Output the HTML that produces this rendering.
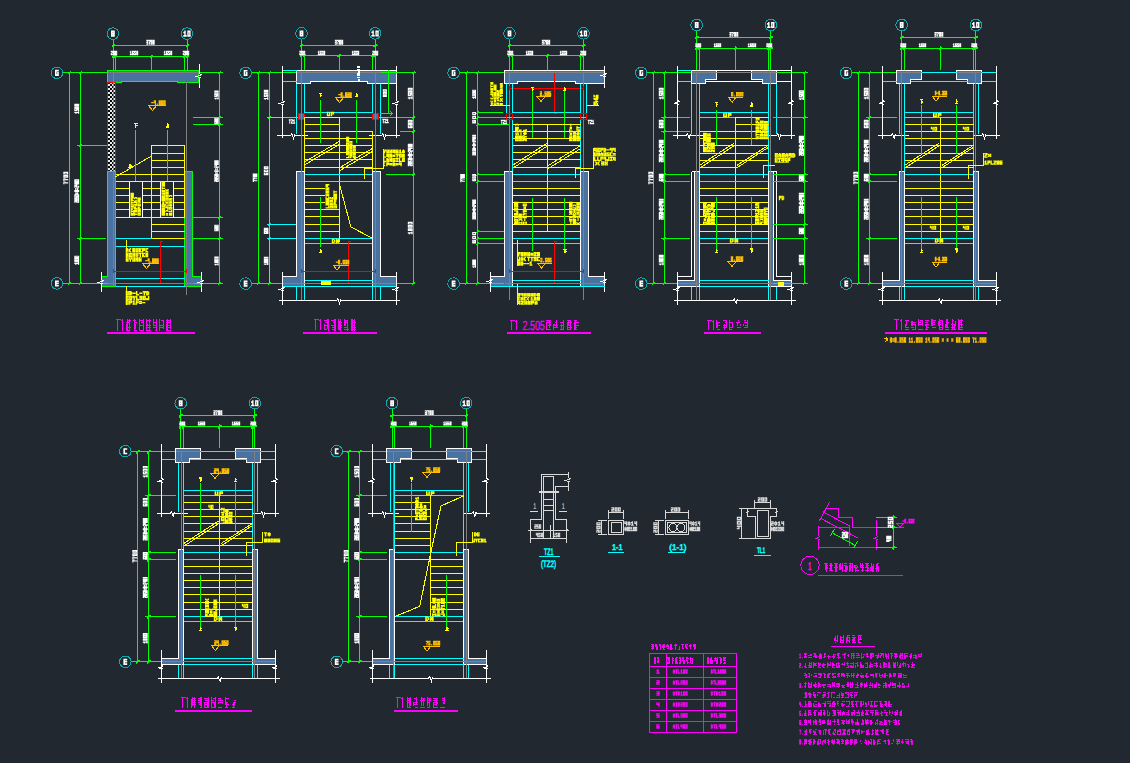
<!DOCTYPE html>
<html><head><meta charset="utf-8"><style>html,body{margin:0;padding:0;background:#212830;width:1130px;height:763px;overflow:hidden}svg{display:block}</style></head>
<body><svg style="opacity:0.999" width="1130" height="763" viewBox="0 0 1130 763" shape-rendering="crispEdges" text-rendering="geometricPrecision">
<defs><pattern id="chk" width="4" height="4" patternUnits="userSpaceOnUse"><rect width="4" height="4" fill="#0c0c0c"/><rect width="2" height="2" fill="#e4eaea"/><rect x="2" y="2" width="2" height="2" fill="#e4eaea"/></pattern></defs>
<rect width="1130" height="763" fill="#212830"/>
<circle cx="112.9" cy="33.6" r="5.8" stroke="#10a8a8" stroke-width="1" fill="none"/>
<path d="M111 30.6h3.8v1.6h-3.8zM111 31.7h1.6v1.6h-1.6zM113.2 31.7h1.6v1.6h-1.6zM111 32.8h3.8v1.6h-3.8zM111 33.9h1.6v1.6h-1.6zM113.2 33.9h1.6v1.6h-1.6zM111 35.1h3.8v1.6h-3.8z" fill="#ffffff" shape-rendering="geometricPrecision"/>
<circle cx="187" cy="33.6" r="5.8" stroke="#10a8a8" stroke-width="1" fill="none"/>
<path d="M184.3 30.6h1.4v1.6h-1.4zM183.3 31.7h2.4v1.6h-2.4zM184.3 32.8h1.4v1.6h-1.4zM184.3 33.9h1.4v1.6h-1.4zM183.3 35.1h3.4v1.6h-3.4zM187.3 30.6h3.4v1.6h-3.4zM187.3 31.7h1.4v1.6h-1.4zM189.2 31.7h1.4v1.6h-1.4zM187.3 32.8h1.4v1.6h-1.4zM189.2 32.8h1.4v1.6h-1.4zM187.3 33.9h1.4v1.6h-1.4zM189.2 33.9h1.4v1.6h-1.4zM187.3 35.1h3.4v1.6h-3.4z" fill="#ffffff" shape-rendering="geometricPrecision"/>
<line x1="113.5" y1="39.5" x2="113.5" y2="70" stroke="#00ff00" stroke-width="1"/>
<line x1="187.5" y1="39.5" x2="187.5" y2="70" stroke="#00ff00" stroke-width="1"/>
<line x1="111.5" y1="45.5" x2="188.5" y2="45.5" stroke="#00ff00" stroke-width="1"/>
<line x1="111.9" y1="47.1" x2="115.1" y2="43.9" stroke="#00ff00" stroke-width="1.2"/>
<line x1="185.9" y1="47.1" x2="189.1" y2="43.9" stroke="#00ff00" stroke-width="1.2"/>
<line x1="111.5" y1="56.5" x2="188.5" y2="56.5" stroke="#00ff00" stroke-width="1"/>
<line x1="111.9" y1="58.1" x2="115.1" y2="54.9" stroke="#00ff00" stroke-width="1.2"/>
<line x1="113.9" y1="58.1" x2="117.1" y2="54.9" stroke="#00ff00" stroke-width="1.2"/>
<line x1="149.9" y1="58.1" x2="153.1" y2="54.9" stroke="#00ff00" stroke-width="1.2"/>
<line x1="182.9" y1="58.1" x2="186.1" y2="54.9" stroke="#00ff00" stroke-width="1.2"/>
<line x1="185.9" y1="58.1" x2="189.1" y2="54.9" stroke="#00ff00" stroke-width="1.2"/>
<line x1="115.5" y1="55" x2="115.5" y2="70" stroke="#00ff00" stroke-width="1"/>
<line x1="151.5" y1="55" x2="151.5" y2="70" stroke="#00ff00" stroke-width="1"/>
<line x1="184.5" y1="55" x2="184.5" y2="70" stroke="#00ff00" stroke-width="1"/>
<path d="M146.3 39.8h2v1.3h-2zM147.3 40.7h1v1.3h-1zM146.3 41.6h2v1.3h-2zM147.3 42.5h1v1.3h-1zM146.3 43.4h2v1.3h-2zM148.4 39.8h2v1.3h-2zM149.5 40.7h1v1.3h-1zM148.9 41.6h1v1.3h-1zM148.9 42.5h1v1.3h-1zM148.9 43.4h1v1.3h-1zM150.5 39.8h2v1.3h-2zM150.5 40.7h1v1.3h-1zM151.6 40.7h1v1.3h-1zM150.5 41.6h1v1.3h-1zM151.6 41.6h1v1.3h-1zM150.5 42.5h1v1.3h-1zM151.6 42.5h1v1.3h-1zM150.5 43.4h2v1.3h-2zM152.7 39.8h2v1.3h-2zM152.7 40.7h1v1.3h-1zM153.7 40.7h1v1.3h-1zM152.7 41.6h1v1.3h-1zM153.7 41.6h1v1.3h-1zM152.7 42.5h1v1.3h-1zM153.7 42.5h1v1.3h-1zM152.7 43.4h2v1.3h-2z" fill="#ffffff" shape-rendering="geometricPrecision"/>
<path d="M110.8 50.8h2.1v1.2h-2.1zM111.9 51.6h1v1.2h-1zM110.8 52.4h2.1v1.2h-2.1zM110.8 53.2h1v1.2h-1zM110.8 54h2.1v1.2h-2.1zM113 50.8h2.1v1.2h-2.1zM113 51.6h1v1.2h-1zM114.1 51.6h1v1.2h-1zM113 52.4h1v1.2h-1zM114.1 52.4h1v1.2h-1zM113 53.2h1v1.2h-1zM114.1 53.2h1v1.2h-1zM113 54h2.1v1.2h-2.1zM115.1 50.8h2.1v1.2h-2.1zM115.1 51.6h1v1.2h-1zM116.2 51.6h1v1.2h-1zM115.1 52.4h1v1.2h-1zM116.2 52.4h1v1.2h-1zM115.1 53.2h1v1.2h-1zM116.2 53.2h1v1.2h-1zM115.1 54h2.1v1.2h-2.1z" fill="#ffffff" shape-rendering="geometricPrecision"/>
<path d="M130.3 50.8h1v1.2h-1zM129.8 51.6h1.5v1.2h-1.5zM130.3 52.4h1v1.2h-1zM130.3 53.2h1v1.2h-1zM129.8 54h2v1.2h-2zM131.9 50.8h2v1.2h-2zM131.9 51.6h1v1.2h-1zM131.9 52.4h2v1.2h-2zM131.9 53.2h1v1.2h-1zM133 53.2h1v1.2h-1zM131.9 54h2v1.2h-2zM134 50.8h2v1.2h-2zM134 51.6h1v1.2h-1zM134 52.4h2v1.2h-2zM135.1 53.2h1v1.2h-1zM134 54h2v1.2h-2zM136.2 50.8h2v1.2h-2zM136.2 51.6h1v1.2h-1zM137.2 51.6h1v1.2h-1zM136.2 52.4h1v1.2h-1zM137.2 52.4h1v1.2h-1zM136.2 53.2h1v1.2h-1zM137.2 53.2h1v1.2h-1zM136.2 54h2v1.2h-2z" fill="#ffffff" shape-rendering="geometricPrecision"/>
<path d="M164.3 50.8h1v1.2h-1zM163.8 51.6h1.5v1.2h-1.5zM164.3 52.4h1v1.2h-1zM164.3 53.2h1v1.2h-1zM163.8 54h2v1.2h-2zM165.9 50.8h2v1.2h-2zM165.9 51.6h1v1.2h-1zM165.9 52.4h2v1.2h-2zM165.9 53.2h1v1.2h-1zM167 53.2h1v1.2h-1zM165.9 54h2v1.2h-2zM168 50.8h2v1.2h-2zM168 51.6h1v1.2h-1zM168 52.4h2v1.2h-2zM169.1 53.2h1v1.2h-1zM168 54h2v1.2h-2zM170.2 50.8h2v1.2h-2zM170.2 51.6h1v1.2h-1zM171.2 51.6h1v1.2h-1zM170.2 52.4h1v1.2h-1zM171.2 52.4h1v1.2h-1zM170.2 53.2h1v1.2h-1zM171.2 53.2h1v1.2h-1zM170.2 54h2v1.2h-2z" fill="#ffffff" shape-rendering="geometricPrecision"/>
<path d="M182.8 50.8h2.1v1.2h-2.1zM183.9 51.6h1v1.2h-1zM182.8 52.4h2.1v1.2h-2.1zM182.8 53.2h1v1.2h-1zM182.8 54h2.1v1.2h-2.1zM185 50.8h2.1v1.2h-2.1zM185 51.6h1v1.2h-1zM186.1 51.6h1v1.2h-1zM185 52.4h1v1.2h-1zM186.1 52.4h1v1.2h-1zM185 53.2h1v1.2h-1zM186.1 53.2h1v1.2h-1zM185 54h2.1v1.2h-2.1zM187.1 50.8h2.1v1.2h-2.1zM187.1 51.6h1v1.2h-1zM188.2 51.6h1v1.2h-1zM187.1 52.4h1v1.2h-1zM188.2 52.4h1v1.2h-1zM187.1 53.2h1v1.2h-1zM188.2 53.2h1v1.2h-1zM187.1 54h2.1v1.2h-2.1z" fill="#ffffff" shape-rendering="geometricPrecision"/>
<circle cx="56.9" cy="72.8" r="5.8" stroke="#10a8a8" stroke-width="1" fill="none"/>
<path d="M55 69.8h3.8v1.6h-3.8zM55 70.9h1.6v1.6h-1.6zM55 72h1.6v1.6h-1.6zM57.2 72h1.6v1.6h-1.6zM55 73.1h1.6v1.6h-1.6zM57.2 73.1h1.6v1.6h-1.6zM55 74.3h3.8v1.6h-3.8z" fill="#ffffff" shape-rendering="geometricPrecision"/>
<circle cx="56.9" cy="283.4" r="5.8" stroke="#10a8a8" stroke-width="1" fill="none"/>
<path d="M55 280.4h3.8v1.6h-3.8zM55 281.5h1.6v1.6h-1.6zM55 282.6h3.8v1.6h-3.8zM55 283.7h1.6v1.6h-1.6zM55 284.9h3.8v1.6h-3.8z" fill="#ffffff" shape-rendering="geometricPrecision"/>
<line x1="62.8" y1="72.5" x2="107" y2="72.5" stroke="#00ff00" stroke-width="1"/>
<line x1="199" y1="72.5" x2="223" y2="72.5" stroke="#00ff00" stroke-width="1"/>
<line x1="62.8" y1="283.5" x2="108" y2="283.5" stroke="#00ff00" stroke-width="1"/>
<line x1="193.5" y1="283.5" x2="223" y2="283.5" stroke="#00ff00" stroke-width="1"/>
<line x1="69.5" y1="72" x2="69.5" y2="284" stroke="#00ff00" stroke-width="1"/>
<line x1="80.5" y1="72" x2="80.5" y2="284" stroke="#00ff00" stroke-width="1"/>
<line x1="67.9" y1="74.1" x2="71.1" y2="70.9" stroke="#00ff00" stroke-width="1.2"/>
<line x1="78.9" y1="74.1" x2="82.1" y2="70.9" stroke="#00ff00" stroke-width="1.2"/>
<line x1="67.9" y1="285.1" x2="71.1" y2="281.9" stroke="#00ff00" stroke-width="1.2"/>
<line x1="78.9" y1="285.1" x2="82.1" y2="281.9" stroke="#00ff00" stroke-width="1.2"/>
<line x1="78.9" y1="147.1" x2="82.1" y2="143.9" stroke="#00ff00" stroke-width="1.2"/>
<line x1="78.9" y1="240.1" x2="82.1" y2="236.9" stroke="#00ff00" stroke-width="1.2"/>
<line x1="77" y1="145.5" x2="107" y2="145.5" stroke="#00ff00" stroke-width="1"/>
<line x1="77" y1="238.5" x2="106" y2="238.5" stroke="#00ff00" stroke-width="1"/>
<path d="M63.3 183h1.3v1.2h-1.3zM63.3 182.2h1.3v1.2h-1.3zM65.1 182.2h3.1v1.2h-3.1zM63.3 181.4h2.2v1.2h-2.2zM63.3 179.8h1.3v1.2h-1.3zM63.3 179h1.3v1.2h-1.3zM65.1 179h3.1v1.2h-3.1zM63.3 178.2h2.2v1.2h-2.2zM63.3 176.6h4.9v1.2h-4.9zM63.3 175.8h1.3v1.2h-1.3zM66.9 175.8h1.3v1.2h-1.3zM63.3 175h4.9v1.2h-4.9zM63.3 173.4h4.9v1.2h-4.9zM63.3 172.6h1.3v1.2h-1.3zM66.9 172.6h1.3v1.2h-1.3zM63.3 171.8h4.9v1.2h-4.9z" fill="#ffffff" shape-rendering="geometricPrecision"/>
<path d="M75.2 112.6h1.3v1.1h-1.3zM77.9 112.6h1.3v1.1h-1.3zM74.3 112h4.9v1.1h-4.9zM77.9 111.4h1.3v1.1h-1.3zM74.3 110.1h3.1v1.1h-3.1zM77.9 110.1h1.3v1.1h-1.3zM74.3 109.5h1.3v1.1h-1.3zM76.1 109.5h1.3v1.1h-1.3zM77.9 109.5h1.3v1.1h-1.3zM74.3 108.8h1.3v1.1h-1.3zM76.1 108.8h3.1v1.1h-3.1zM74.3 107.6h4.9v1.1h-4.9zM74.3 106.9h1.3v1.1h-1.3zM77.9 106.9h1.3v1.1h-1.3zM74.3 106.3h4.9v1.1h-4.9zM74.3 105h4.9v1.1h-4.9zM74.3 104.4h1.3v1.1h-1.3zM77.9 104.4h1.3v1.1h-1.3zM74.3 103.8h4.9v1.1h-4.9z" fill="#ffffff" shape-rendering="geometricPrecision"/>
<path d="M74.3 201.8h1.3v1h-1.3zM76.1 201.8h3.1v1h-3.1zM74.3 201.3h1.3v1h-1.3zM76.1 201.3h1.3v1h-1.3zM77.9 201.3h1.3v1h-1.3zM74.3 200.8h3.1v1h-3.1zM77.9 200.8h1.3v1h-1.3zM74.3 199.7h4.9v1h-4.9zM74.3 199.2h1.3v1h-1.3zM76.1 199.2h1.3v1h-1.3zM77.9 199.2h1.3v1h-1.3zM74.3 198.6h4.9v1h-4.9zM74.3 197.5h3.1v1h-3.1zM77.9 197.5h1.3v1h-1.3zM74.3 197h1.3v1h-1.3zM76.1 197h1.3v1h-1.3zM77.9 197h1.3v1h-1.3zM74.3 196.5h1.3v1h-1.3zM76.1 196.5h3.1v1h-3.1zM74.3 195.4h4.9v1h-4.9zM74.3 194.9h1.3v1h-1.3zM77.9 194.9h1.3v1h-1.3zM74.3 194.3h4.9v1h-4.9zM75.2 193.2h1.3v1h-1.3zM77 193.2h1.3v1h-1.3zM76.1 192.7h1.3v1h-1.3zM75.2 192.2h1.3v1h-1.3zM77 192.2h1.3v1h-1.3zM74.3 191.1h4.9v1h-4.9zM74.3 190.6h1.3v1h-1.3zM76.1 190.6h1.3v1h-1.3zM77.9 190.6h1.3v1h-1.3zM74.3 190h4.9v1h-4.9zM75.2 188.9h1.3v1h-1.3zM77 188.9h1.3v1h-1.3zM75.2 188.4h1.3v1h-1.3zM77 188.4h1.3v1h-1.3zM75.2 187.9h1.3v1h-1.3zM77 187.9h1.3v1h-1.3zM74.3 186.8h1.3v1h-1.3zM76.1 186.8h3.1v1h-3.1zM74.3 186.3h1.3v1h-1.3zM76.1 186.3h1.3v1h-1.3zM77.9 186.3h1.3v1h-1.3zM74.3 185.7h3.1v1h-3.1zM77.9 185.7h1.3v1h-1.3zM74.3 184.7h3.1v1h-3.1zM76.1 184.1h1.3v1h-1.3zM74.3 183.6h4.9v1h-4.9zM74.3 182.5h4.9v1h-4.9zM74.3 182h1.3v1h-1.3zM77.9 182h1.3v1h-1.3zM74.3 181.4h4.9v1h-4.9zM74.3 180.4h4.9v1h-4.9zM74.3 179.8h1.3v1h-1.3zM77.9 179.8h1.3v1h-1.3zM74.3 179.3h4.9v1h-4.9z" fill="#ffffff" shape-rendering="geometricPrecision"/>
<path d="M75.2 263.7h1.3v1h-1.3zM77.9 263.7h1.3v1h-1.3zM74.3 263.1h4.9v1h-4.9zM77.9 262.6h1.3v1h-1.3zM74.3 261.4h4.9v1h-4.9zM74.3 260.9h1.3v1h-1.3zM76.1 260.9h1.3v1h-1.3zM77.9 260.9h1.3v1h-1.3zM74.3 260.3h4.9v1h-4.9zM74.3 259.2h4.9v1h-4.9zM74.3 258.6h1.3v1h-1.3zM77.9 258.6h1.3v1h-1.3zM74.3 258h4.9v1h-4.9zM74.3 256.9h4.9v1h-4.9zM74.3 256.3h1.3v1h-1.3zM77.9 256.3h1.3v1h-1.3zM74.3 255.8h4.9v1h-4.9z" fill="#ffffff" shape-rendering="geometricPrecision"/>
<line x1="219.5" y1="72" x2="219.5" y2="284" stroke="#00ff00" stroke-width="1"/>
<line x1="217.9" y1="74.1" x2="221.1" y2="70.9" stroke="#00ff00" stroke-width="1.2"/>
<line x1="217.9" y1="119.1" x2="221.1" y2="115.9" stroke="#00ff00" stroke-width="1.2"/>
<line x1="217.9" y1="126.1" x2="221.1" y2="122.9" stroke="#00ff00" stroke-width="1.2"/>
<line x1="217.9" y1="219.1" x2="221.1" y2="215.9" stroke="#00ff00" stroke-width="1.2"/>
<line x1="217.9" y1="240.1" x2="221.1" y2="236.9" stroke="#00ff00" stroke-width="1.2"/>
<line x1="217.9" y1="285.1" x2="221.1" y2="281.9" stroke="#00ff00" stroke-width="1.2"/>
<line x1="193" y1="117.5" x2="223" y2="117.5" stroke="#00ff00" stroke-width="1"/>
<line x1="193" y1="124.5" x2="223" y2="124.5" stroke="#00ff00" stroke-width="1"/>
<line x1="193" y1="217.5" x2="223" y2="217.5" stroke="#00ff00" stroke-width="1"/>
<line x1="193" y1="238.5" x2="223" y2="238.5" stroke="#00ff00" stroke-width="1"/>
<path d="M215.1 98.4h1.2v1h-1.2zM217.5 98.4h1.2v1h-1.2zM214.3 97.8h4.4v1h-4.4zM217.5 97.3h1.2v1h-1.2zM214.3 96.1h2.8v1h-2.8zM217.5 96.1h1.2v1h-1.2zM214.3 95.6h1.2v1h-1.2zM215.9 95.6h1.2v1h-1.2zM217.5 95.6h1.2v1h-1.2zM214.3 95h1.2v1h-1.2zM215.9 95h2.8v1h-2.8zM214.3 93.9h4.4v1h-4.4zM214.3 93.3h1.2v1h-1.2zM217.5 93.3h1.2v1h-1.2zM214.3 92.7h4.4v1h-4.4zM214.3 91.6h4.4v1h-4.4zM214.3 91h1.2v1h-1.2zM217.5 91h1.2v1h-1.2zM214.3 90.5h4.4v1h-4.4z" fill="#ffffff" shape-rendering="geometricPrecision"/>
<path d="M214.3 123.2h4.4v1h-4.4zM214.3 122.7h1.2v1h-1.2zM215.9 122.7h1.2v1h-1.2zM217.5 122.7h1.2v1h-1.2zM214.3 122.1h1.2v1h-1.2zM215.9 122.1h2.8v1h-2.8zM214.3 121.1h4.4v1h-4.4zM214.3 120.5h1.2v1h-1.2zM217.5 120.5h1.2v1h-1.2zM214.3 120h4.4v1h-4.4zM214.3 118.9h4.4v1h-4.4zM214.3 118.3h1.2v1h-1.2zM217.5 118.3h1.2v1h-1.2zM214.3 117.8h4.4v1h-4.4z" fill="#ffffff" shape-rendering="geometricPrecision"/>
<path d="M214.3 181.1h1.2v0.9h-1.2zM215.9 181.1h2.8v0.9h-2.8zM214.3 180.6h1.2v0.9h-1.2zM215.9 180.6h1.2v0.9h-1.2zM217.5 180.6h1.2v0.9h-1.2zM214.3 180.1h2.8v0.9h-2.8zM217.5 180.1h1.2v0.9h-1.2zM214.3 179.1h4.4v0.9h-4.4zM214.3 178.6h1.2v0.9h-1.2zM215.9 178.6h1.2v0.9h-1.2zM217.5 178.6h1.2v0.9h-1.2zM214.3 178.1h4.4v0.9h-4.4zM214.3 177.1h2.8v0.9h-2.8zM217.5 177.1h1.2v0.9h-1.2zM214.3 176.6h1.2v0.9h-1.2zM215.9 176.6h1.2v0.9h-1.2zM217.5 176.6h1.2v0.9h-1.2zM214.3 176.1h1.2v0.9h-1.2zM215.9 176.1h2.8v0.9h-2.8zM214.3 175.1h4.4v0.9h-4.4zM214.3 174.6h1.2v0.9h-1.2zM217.5 174.6h1.2v0.9h-1.2zM214.3 174.1h4.4v0.9h-4.4zM215.1 173.2h1.2v0.9h-1.2zM216.7 173.2h1.2v0.9h-1.2zM215.9 172.7h1.2v0.9h-1.2zM215.1 172.2h1.2v0.9h-1.2zM216.7 172.2h1.2v0.9h-1.2zM214.3 171.2h4.4v0.9h-4.4zM214.3 170.7h1.2v0.9h-1.2zM215.9 170.7h1.2v0.9h-1.2zM217.5 170.7h1.2v0.9h-1.2zM214.3 170.2h4.4v0.9h-4.4zM215.1 169.2h1.2v0.9h-1.2zM216.7 169.2h1.2v0.9h-1.2zM215.1 168.7h1.2v0.9h-1.2zM216.7 168.7h1.2v0.9h-1.2zM215.1 168.2h1.2v0.9h-1.2zM216.7 168.2h1.2v0.9h-1.2zM214.3 167.2h1.2v0.9h-1.2zM215.9 167.2h2.8v0.9h-2.8zM214.3 166.7h1.2v0.9h-1.2zM215.9 166.7h1.2v0.9h-1.2zM217.5 166.7h1.2v0.9h-1.2zM214.3 166.2h2.8v0.9h-2.8zM217.5 166.2h1.2v0.9h-1.2zM214.3 165.2h2.8v0.9h-2.8zM215.9 164.7h1.2v0.9h-1.2zM214.3 164.2h4.4v0.9h-4.4zM214.3 163.3h4.4v0.9h-4.4zM214.3 162.8h1.2v0.9h-1.2zM217.5 162.8h1.2v0.9h-1.2zM214.3 162.3h4.4v0.9h-4.4zM214.3 161.3h4.4v0.9h-4.4zM214.3 160.8h1.2v0.9h-1.2zM217.5 160.8h1.2v0.9h-1.2zM214.3 160.3h4.4v0.9h-4.4z" fill="#ffffff" shape-rendering="geometricPrecision"/>
<path d="M214.3 230.2h4.4v1h-4.4zM214.3 229.7h1.2v1h-1.2zM215.9 229.7h1.2v1h-1.2zM217.5 229.7h1.2v1h-1.2zM214.3 229.1h1.2v1h-1.2zM215.9 229.1h2.8v1h-2.8zM214.3 228.1h4.4v1h-4.4zM214.3 227.5h1.2v1h-1.2zM217.5 227.5h1.2v1h-1.2zM214.3 227h4.4v1h-4.4zM214.3 225.9h4.4v1h-4.4zM214.3 225.3h1.2v1h-1.2zM217.5 225.3h1.2v1h-1.2zM214.3 224.8h4.4v1h-4.4z" fill="#ffffff" shape-rendering="geometricPrecision"/>
<path d="M215.1 264.4h1.2v1h-1.2zM217.5 264.4h1.2v1h-1.2zM214.3 263.8h4.4v1h-4.4zM217.5 263.3h1.2v1h-1.2zM214.3 262.1h4.4v1h-4.4zM214.3 261.6h1.2v1h-1.2zM215.9 261.6h1.2v1h-1.2zM217.5 261.6h1.2v1h-1.2zM214.3 261h4.4v1h-4.4zM214.3 259.9h4.4v1h-4.4zM214.3 259.3h1.2v1h-1.2zM217.5 259.3h1.2v1h-1.2zM214.3 258.7h4.4v1h-4.4zM214.3 257.6h4.4v1h-4.4zM214.3 257h1.2v1h-1.2zM217.5 257h1.2v1h-1.2zM214.3 256.5h4.4v1h-4.4z" fill="#ffffff" shape-rendering="geometricPrecision"/>
<polygon points="107.5,70.5 198.5,70.5 198.5,82.5 177.5,82.5 177.5,81.5 121.5,81.5 121.5,82.5 107.5,82.5" stroke="#00ff00" stroke-width="1" fill="#4a72a0"/>
<line x1="107.5" y1="72.5" x2="198.5" y2="72.5" stroke="#808080" stroke-width="1"/>
<polyline points="199.5,64 199.5,73.5 201.3,74.8 196.5,76.6 200.4,77.5 199.5,78.5 199.5,88" stroke="#ffffff" stroke-width="1" fill="none"/>
<rect x="107.5" y="82.5" width="8" height="89" fill="url(#chk)" stroke="#ff0000" stroke-width="1"/>
<polygon points="107.5,171.5 115.5,171.5 115.5,286.5 101.5,286.5 101.5,276.5 107.5,276.5" stroke="#00ff00" stroke-width="1" fill="#4a72a0"/>
<polygon points="184.5,171.5 192.5,171.5 192.5,276.5 201.5,276.5 201.5,286.5 184.5,286.5" stroke="#00ff00" stroke-width="1" fill="#4a72a0"/>
<line x1="113.5" y1="72" x2="113.5" y2="286" stroke="#808080" stroke-width="1"/>
<line x1="186.5" y1="82" x2="186.5" y2="295" stroke="#808080" stroke-width="1"/>
<line x1="107.5" y1="283.5" x2="193.5" y2="283.5" stroke="#808080" stroke-width="1"/>
<line x1="193.5" y1="283.5" x2="223" y2="283.5" stroke="#00ff00" stroke-width="1"/>
<line x1="100" y1="283.5" x2="108" y2="283.5" stroke="#00ff00" stroke-width="1"/>
<polyline points="101.5,272 101.5,279.5 103.3,280.8 98.5,282.6 102.4,283.5 101.5,284.5 101.5,292" stroke="#ffffff" stroke-width="1" fill="none"/>
<polyline points="201.5,272 201.5,279.5 203.3,280.8 198.5,282.6 202.4,283.5 201.5,284.5 201.5,292" stroke="#ffffff" stroke-width="1" fill="none"/>
<rect x="151.5" y="145.5" width="33" height="72" fill="none" stroke="#ffff00" stroke-width="1"/>
<line x1="151.5" y1="153.5" x2="184.5" y2="153.5" stroke="#ffff00" stroke-width="1"/>
<line x1="151.5" y1="160.5" x2="184.5" y2="160.5" stroke="#ffff00" stroke-width="1"/>
<line x1="151.5" y1="167.5" x2="184.5" y2="167.5" stroke="#ffff00" stroke-width="1"/>
<line x1="151.5" y1="174.5" x2="184.5" y2="174.5" stroke="#ffff00" stroke-width="1"/>
<line x1="151.5" y1="181.5" x2="184.5" y2="181.5" stroke="#ffff00" stroke-width="1"/>
<line x1="151.5" y1="188.5" x2="160" y2="188.5" stroke="#ffff00" stroke-width="1"/>
<line x1="173" y1="188.5" x2="184.5" y2="188.5" stroke="#ffff00" stroke-width="1"/>
<line x1="151.5" y1="195.5" x2="160" y2="195.5" stroke="#ffff00" stroke-width="1"/>
<line x1="173" y1="195.5" x2="184.5" y2="195.5" stroke="#ffff00" stroke-width="1"/>
<line x1="151.5" y1="202.5" x2="160" y2="202.5" stroke="#ffff00" stroke-width="1"/>
<line x1="173" y1="202.5" x2="184.5" y2="202.5" stroke="#ffff00" stroke-width="1"/>
<line x1="151.5" y1="209.5" x2="160" y2="209.5" stroke="#ffff00" stroke-width="1"/>
<line x1="173" y1="209.5" x2="184.5" y2="209.5" stroke="#ffff00" stroke-width="1"/>
<line x1="115.5" y1="174.5" x2="151.5" y2="174.5" stroke="#ffff00" stroke-width="1"/>
<line x1="115.5" y1="181.5" x2="151.5" y2="181.5" stroke="#ffff00" stroke-width="1"/>
<line x1="115.5" y1="217.5" x2="151.5" y2="217.5" stroke="#ffff00" stroke-width="1"/>
<line x1="115.5" y1="188.5" x2="129" y2="188.5" stroke="#ffff00" stroke-width="1"/>
<line x1="142" y1="188.5" x2="151.5" y2="188.5" stroke="#ffff00" stroke-width="1"/>
<line x1="115.5" y1="195.5" x2="129" y2="195.5" stroke="#ffff00" stroke-width="1"/>
<line x1="142" y1="195.5" x2="151.5" y2="195.5" stroke="#ffff00" stroke-width="1"/>
<line x1="115.5" y1="202.5" x2="129" y2="202.5" stroke="#ffff00" stroke-width="1"/>
<line x1="142" y1="202.5" x2="151.5" y2="202.5" stroke="#ffff00" stroke-width="1"/>
<line x1="115.5" y1="209.5" x2="129" y2="209.5" stroke="#ffff00" stroke-width="1"/>
<line x1="142" y1="209.5" x2="151.5" y2="209.5" stroke="#ffff00" stroke-width="1"/>
<polyline points="115.5,177 151.5,156" stroke="#ffff00" stroke-width="1" fill="none"/>
<line x1="151.5" y1="224.5" x2="184.5" y2="224.5" stroke="#ffff00" stroke-width="1"/>
<line x1="151.5" y1="231.5" x2="184.5" y2="231.5" stroke="#ffff00" stroke-width="1"/>
<line x1="151.5" y1="238.5" x2="184.5" y2="238.5" stroke="#ffff00" stroke-width="1"/>
<line x1="151.5" y1="145.5" x2="151.5" y2="238.5" stroke="#ffff00" stroke-width="1"/>
<line x1="129.5" y1="181.5" x2="129.5" y2="217.5" stroke="#ffffff" stroke-width="1"/>
<line x1="142.5" y1="181.5" x2="142.5" y2="217.5" stroke="#ffffff" stroke-width="1"/>
<line x1="160.5" y1="181.5" x2="160.5" y2="217.5" stroke="#ffffff" stroke-width="1"/>
<line x1="173.5" y1="181.5" x2="173.5" y2="217.5" stroke="#ffffff" stroke-width="1"/>
<path d="M130.5 214.5h3.4v1.3h-3.4zM130.5 213.7h1.2v1.3h-1.2zM131.6 213.7h1.2v1.3h-1.2zM132.7 213.7h1.2v1.3h-1.2zM130.5 213h3.4v1.3h-3.4zM130.5 211.6h1.2v1.3h-1.2zM132.7 211.6h1.2v1.3h-1.2zM130.5 210.8h3.4v1.3h-3.4zM130.5 210.1h1.2v1.3h-1.2zM132.7 210.1h1.2v1.3h-1.2zM130.5 208.7h2.3v1.3h-2.3zM131.6 207.9h1.2v1.3h-1.2zM130.5 207.2h3.4v1.3h-3.4zM130.5 205.8h3.4v1.3h-3.4zM132.7 205h1.2v1.3h-1.2zM130.5 204.3h3.4v1.3h-3.4zM130.5 202.9h1.2v1.3h-1.2zM130.5 202.1h1.2v1.3h-1.2zM131.6 202.1h2.3v1.3h-2.3zM130.5 201.4h1.7v1.3h-1.7zM130.5 200h3.4v1.3h-3.4zM130.5 199.2h1.2v1.3h-1.2zM131.6 199.2h1.2v1.3h-1.2zM130.5 198.5h1.2v1.3h-1.2zM131.6 198.5h1.2v1.3h-1.2zM130.5 197.1h3.4v1.3h-3.4zM130.5 196.3h1.2v1.3h-1.2zM131.6 196.3h1.2v1.3h-1.2zM132.7 196.3h1.2v1.3h-1.2zM130.5 195.6h2.3v1.3h-2.3zM132.7 195.6h1.2v1.3h-1.2zM130.5 194.2h3.4v1.3h-3.4zM130.5 193.4h1.2v1.3h-1.2zM131.6 193.4h1.2v1.3h-1.2zM132.7 193.4h1.2v1.3h-1.2zM130.5 192.7h1.2v1.3h-1.2zM131.6 192.7h1.2v1.3h-1.2zM132.7 192.7h1.2v1.3h-1.2z" fill="#ffff00" shape-rendering="geometricPrecision"/>
<path d="M134 214.4h1.2v1.4h-1.2zM134 213.6h3.4v1.4h-3.4zM134 212.8h1.2v1.4h-1.2zM134 211.2h3.4v1.4h-3.4zM134 210.5h1.2v1.4h-1.2zM135.1 210.5h1.2v1.4h-1.2zM136.2 210.5h1.2v1.4h-1.2zM134 209.7h1.2v1.4h-1.2zM135.1 209.7h2.3v1.4h-2.3zM134 208.1h3.4v1.4h-3.4zM134 207.3h1.2v1.4h-1.2zM135.1 207.3h1.2v1.4h-1.2zM134 206.5h1.2v1.4h-1.2zM135.1 206.5h1.2v1.4h-1.2zM134.6 204.9h1.2v1.4h-1.2zM136.2 204.9h1.2v1.4h-1.2zM134 204.1h3.4v1.4h-3.4zM136.2 203.3h1.2v1.4h-1.2zM134 201.8h3.4v1.4h-3.4zM134 201h1.2v1.4h-1.2zM135.1 201h1.2v1.4h-1.2zM134.6 200.2h1.2v1.4h-1.2zM135.7 200.2h1.7v1.4h-1.7zM134 197.8h1.2v1.4h-1.2zM136.2 197.8h1.2v1.4h-1.2zM134.6 197h2.3v1.4h-2.3z" fill="#ffff00" shape-rendering="geometricPrecision"/>
<path d="M137.5 214.4h3.4v1.4h-3.4zM137.5 213.7h1.2v1.4h-1.2zM139.7 213.7h1.2v1.4h-1.2zM137.5 212.9h3.4v1.4h-3.4zM137.5 211.4h3.4v1.4h-3.4zM137.5 210.6h1.2v1.4h-1.2zM138.6 210.6h1.2v1.4h-1.2zM139.7 210.6h1.2v1.4h-1.2zM137.5 209.8h2.3v1.4h-2.3zM139.7 209.8h1.2v1.4h-1.2zM137.5 208.3h3.4v1.4h-3.4zM137.5 207.5h1.2v1.4h-1.2zM138.6 207.5h1.2v1.4h-1.2zM137.5 206.8h2.3v1.4h-2.3zM137.5 205.2h1.2v1.4h-1.2zM139.2 205.2h1.7v1.4h-1.7zM137.5 204.5h1.2v1.4h-1.2zM138.6 204.5h1.2v1.4h-1.2zM139.7 204.5h1.2v1.4h-1.2zM137.5 203.7h1.7v1.4h-1.7zM139.7 203.7h1.2v1.4h-1.2zM137.5 202.2h2.8v1.4h-2.8zM139.7 201.4h1.2v1.4h-1.2zM137.5 200.6h2.8v1.4h-2.8zM137.5 199.1h3.4v1.4h-3.4zM137.5 198.3h1.2v1.4h-1.2zM138.6 198.3h1.2v1.4h-1.2zM139.7 198.3h1.2v1.4h-1.2zM137.5 197.6h1.2v1.4h-1.2zM138.6 197.6h2.3v1.4h-2.3z" fill="#ffff00" shape-rendering="geometricPrecision"/>
<path d="M161.5 214.5h1.2v1.3h-1.2zM162.7 214.5h1.2v1.3h-1.2zM163.9 214.5h1.2v1.3h-1.2zM161.5 213.8h1.2v1.3h-1.2zM162.7 213.8h1.2v1.3h-1.2zM163.9 213.8h1.2v1.3h-1.2zM161.5 213h3.6v1.3h-3.6zM161.5 211.6h2.4v1.3h-2.4zM163.9 211.6h1.2v1.3h-1.2zM161.5 210.9h1.2v1.3h-1.2zM162.7 210.9h1.2v1.3h-1.2zM163.9 210.9h1.2v1.3h-1.2zM161.5 210.1h1.2v1.3h-1.2zM162.7 210.1h2.4v1.3h-2.4zM161.5 208.7h2.4v1.3h-2.4zM163.9 208.7h1.2v1.3h-1.2zM161.5 208h1.2v1.3h-1.2zM162.7 208h1.2v1.3h-1.2zM163.9 208h1.2v1.3h-1.2zM161.5 207.2h1.2v1.3h-1.2zM162.7 207.2h2.4v1.3h-2.4zM161.5 205.8h3.6v1.3h-3.6zM161.5 205.1h1.2v1.3h-1.2zM163.9 205.1h1.2v1.3h-1.2zM161.5 204.3h1.2v1.3h-1.2zM162.7 204.3h2.4v1.3h-2.4zM162.1 202.9h1.2v1.3h-1.2zM163.3 202.9h1.2v1.3h-1.2zM162.7 202.2h1.2v1.3h-1.2zM162.1 201.5h1.2v1.3h-1.2zM163.3 201.5h1.2v1.3h-1.2zM161.5 200h1.8v1.3h-1.8zM163.3 200h1.8v1.3h-1.8zM162.7 199.3h1.2v1.3h-1.2zM161.5 198.6h1.8v1.3h-1.8zM163.3 198.6h1.8v1.3h-1.8zM161.5 197.1h3.6v1.3h-3.6zM162.1 196.4h2.4v1.3h-2.4zM161.5 195.7h3.6v1.3h-3.6zM161.5 194.2h3.6v1.3h-3.6zM163.9 193.5h1.2v1.3h-1.2zM161.5 192.8h3.6v1.3h-3.6zM161.5 191.3h3.6v1.3h-3.6zM162.7 190.6h1.8v1.3h-1.8zM161.5 189.9h3.6v1.3h-3.6zM161.5 188.4h1.2v1.3h-1.2zM161.5 187.7h3.6v1.3h-3.6zM161.5 187h1.2v1.3h-1.2zM161.5 185.5h3.6v1.3h-3.6zM162.7 184.8h1.8v1.3h-1.8zM161.5 184.1h3.6v1.3h-3.6zM161.5 182.6h1.2v1.3h-1.2zM162.7 182.6h2.4v1.3h-2.4zM161.5 181.9h1.2v1.3h-1.2zM162.7 181.9h1.2v1.3h-1.2zM163.9 181.9h1.2v1.3h-1.2zM161.5 181.2h2.4v1.3h-2.4zM163.9 181.2h1.2v1.3h-1.2z" fill="#ffff00" shape-rendering="geometricPrecision"/>
<path d="M165.8 214.5h1.2v1.3h-1.2zM166.9 214.5h1.2v1.3h-1.2zM166.4 213.7h1.2v1.3h-1.2zM165.8 213h1.2v1.3h-1.2zM166.9 213h1.2v1.3h-1.2zM165.2 210.7h1.2v1.3h-1.2zM167.5 210.7h1.2v1.3h-1.2zM165.8 210h2.4v1.3h-2.4zM166.9 208.5h1.8v1.3h-1.8zM167.5 207.7h1.2v1.3h-1.2zM165.2 207h3.6v1.3h-3.6zM165.2 205.5h3.6v1.3h-3.6zM165.2 204.7h1.2v1.3h-1.2zM167.5 204.7h1.2v1.3h-1.2zM165.2 204h1.2v1.3h-1.2zM167.5 204h1.2v1.3h-1.2zM165.2 202.5h3.6v1.3h-3.6zM165.8 201.7h1.2v1.3h-1.2zM166.9 201.7h1.2v1.3h-1.2zM165.2 201h1.2v1.3h-1.2zM167.5 201h1.2v1.3h-1.2zM165.2 199.5h3.6v1.3h-3.6zM165.2 198.8h1.2v1.3h-1.2zM167.5 198.8h1.2v1.3h-1.2zM165.2 198h1.2v1.3h-1.2zM166.4 198h2.4v1.3h-2.4zM165.2 196.5h3.6v1.3h-3.6zM165.8 195.8h1.8v1.3h-1.8zM165.2 195h3.6v1.3h-3.6zM165.2 193.5h3.6v1.3h-3.6zM165.2 192.8h1.2v1.3h-1.2zM166.4 192.8h1.2v1.3h-1.2zM167.5 192.8h1.2v1.3h-1.2zM165.2 192h2.4v1.3h-2.4zM167.5 192h1.2v1.3h-1.2zM165.2 190.5h3.6v1.3h-3.6zM165.8 189.8h1.2v1.3h-1.2zM166.9 189.8h1.2v1.3h-1.2zM165.2 189h1.2v1.3h-1.2zM167.5 189h1.2v1.3h-1.2z" fill="#ffff00" shape-rendering="geometricPrecision"/>
<path d="M168.8 214.4h1.2v1.4h-1.2zM170 214.4h2.4v1.4h-2.4zM168.8 213.7h1.2v1.4h-1.2zM170 213.7h1.2v1.4h-1.2zM171.2 213.7h1.2v1.4h-1.2zM168.8 212.9h2.4v1.4h-2.4zM171.2 212.9h1.2v1.4h-1.2zM169.4 211.4h1.2v1.4h-1.2zM171.2 211.4h1.2v1.4h-1.2zM168.8 210.7h3.6v1.4h-3.6zM171.2 209.9h1.2v1.4h-1.2zM168.8 208.4h3.6v1.4h-3.6zM168.8 207.7h1.2v1.4h-1.2zM171.2 207.7h1.2v1.4h-1.2zM168.8 206.9h1.2v1.4h-1.2zM170 206.9h2.4v1.4h-2.4zM169.4 205.4h2.4v1.4h-2.4zM168.8 204.7h1.8v1.4h-1.8zM170.6 204.7h1.8v1.4h-1.8zM169.4 203.9h2.4v1.4h-2.4zM168.8 202.4h3.6v1.4h-3.6zM168.8 201.7h1.2v1.4h-1.2zM170 201.7h1.2v1.4h-1.2zM171.2 201.7h1.2v1.4h-1.2zM169.4 200.9h1.2v1.4h-1.2zM170.6 200.9h1.2v1.4h-1.2zM168.8 199.4h3.6v1.4h-3.6zM168.8 198.6h1.2v1.4h-1.2zM170 198.6h1.2v1.4h-1.2zM169.4 197.9h1.2v1.4h-1.2zM170.6 197.9h1.8v1.4h-1.8zM168.8 195.6h1.2v1.4h-1.2zM171.2 195.6h1.2v1.4h-1.2zM169.4 194.9h2.4v1.4h-2.4z" fill="#ffff00" shape-rendering="geometricPrecision"/>
<polygon points="129,167.5 130,164 132.5,167" stroke="#ffff00" stroke-width="1" fill="#ffff00"/>
<line x1="135.5" y1="130" x2="135.5" y2="181" stroke="#00ff00" stroke-width="1"/>
<line x1="167.5" y1="130" x2="167.5" y2="181" stroke="#00ff00" stroke-width="1"/>
<path d="M134 123.5H137.5M135.75 123V127.5M136.35 125l1.2 1" stroke="#ffff00" stroke-width="1.1" fill="none"/>
<path d="M165.5 127H169M167.25 123V127.5M167.25 125h1.6" stroke="#ffff00" stroke-width="1.1" fill="none"/>
<polygon points="148.5,105.5 156.5,105.5 152.5,110.5" stroke="#ffbf00" stroke-width="1" fill="none"/>
<line x1="148.5" y1="105.5" x2="165.5" y2="105.5" stroke="#ffbf00" stroke-width="1"/>
<path d="M151.2 101.9h2.3v1.3h-2.3zM153.7 100.2h1.1v1.3h-1.1zM154.9 100.2h1.1v1.3h-1.1zM153.7 101.1h1.1v1.3h-1.1zM154.9 101.1h1.1v1.3h-1.1zM153.7 101.9h2.3v1.3h-2.3zM154.9 102.8h1.1v1.3h-1.1zM154.9 103.6h1.1v1.3h-1.1zM156.7 103.6h1.1v1.3h-1.1zM158.6 100.2h2.3v1.3h-2.3zM158.6 101.1h1.1v1.3h-1.1zM159.8 101.1h1.1v1.3h-1.1zM158.6 101.9h2.3v1.3h-2.3zM158.6 102.8h1.1v1.3h-1.1zM159.8 102.8h1.1v1.3h-1.1zM158.6 103.6h2.3v1.3h-2.3zM161 100.2h2.3v1.3h-2.3zM161 101.1h1.1v1.3h-1.1zM162.2 101.1h1.1v1.3h-1.1zM161 101.9h1.1v1.3h-1.1zM162.2 101.9h1.1v1.3h-1.1zM161 102.8h1.1v1.3h-1.1zM162.2 102.8h1.1v1.3h-1.1zM161 103.6h2.3v1.3h-2.3zM163.4 100.2h2.3v1.3h-2.3zM163.4 101.1h1.1v1.3h-1.1zM164.6 101.1h1.1v1.3h-1.1zM163.4 101.9h1.1v1.3h-1.1zM164.6 101.9h1.1v1.3h-1.1zM163.4 102.8h1.1v1.3h-1.1zM164.6 102.8h1.1v1.3h-1.1zM163.4 103.6h2.3v1.3h-2.3z" fill="#ffbf00" shape-rendering="geometricPrecision"/>
<line x1="115.5" y1="238.5" x2="151.5" y2="238.5" stroke="#00ffff" stroke-width="1"/>
<line x1="115.5" y1="246.5" x2="184.5" y2="246.5" stroke="#00ffff" stroke-width="1"/>
<line x1="115.5" y1="278.5" x2="184.5" y2="278.5" stroke="#00ffff" stroke-width="1"/>
<line x1="115.5" y1="286.5" x2="184.5" y2="286.5" stroke="#00ffff" stroke-width="1"/>
<line x1="113" y1="271.5" x2="186" y2="271.5" stroke="#ff0000" stroke-width="1"/>
<line x1="113.5" y1="269" x2="113.5" y2="273" stroke="#ff0000" stroke-width="1"/>
<line x1="186.5" y1="269" x2="186.5" y2="273" stroke="#ff0000" stroke-width="1"/>
<line x1="160.5" y1="241" x2="160.5" y2="283" stroke="#ff0000" stroke-width="1"/>
<line x1="160" y1="241.5" x2="163" y2="241.5" stroke="#ff0000" stroke-width="1"/>
<line x1="126.5" y1="240" x2="126.5" y2="258" stroke="#ffff00" stroke-width="1"/>
<path d="M125.7 248h2.2v1.4h-2.2zM125.7 248.8h1.4v1.4h-1.4zM127.3 248.8h1.4v1.4h-1.4zM125.7 249.5h2.2v1.4h-2.2zM125.7 250.3h1.4v1.4h-1.4zM127.3 250.3h1.4v1.4h-1.4zM125.7 251.1h1.4v1.4h-1.4zM127.3 251.1h1.4v1.4h-1.4zM129.8 248h1.4v1.4h-1.4zM129 248.8h1.4v1.4h-1.4zM129 249.5h1.4v1.4h-1.4zM129 250.3h1.4v1.4h-1.4zM129.8 251.1h1.4v1.4h-1.4zM132.2 248h3v1.4h-3zM133.8 248.8h1.4v1.4h-1.4zM132.2 249.5h3v1.4h-3zM132.2 250.3h1.4v1.4h-1.4zM132.2 251.1h3v1.4h-3zM135.5 248h1.4v1.4h-1.4zM137.1 248h1.4v1.4h-1.4zM135.5 248.8h1.4v1.4h-1.4zM137.1 248.8h1.4v1.4h-1.4zM135.5 249.5h1.4v1.4h-1.4zM137.1 249.5h1.4v1.4h-1.4zM135.5 250.3h1.4v1.4h-1.4zM137.1 250.3h1.4v1.4h-1.4zM135.5 251.1h3v1.4h-3zM138.7 248h1.4v1.4h-1.4zM140.4 248h1.4v1.4h-1.4zM138.7 248.8h2.2v1.4h-2.2zM138.7 249.5h1.4v1.4h-1.4zM138.7 250.3h2.2v1.4h-2.2zM138.7 251.1h1.4v1.4h-1.4zM140.4 251.1h1.4v1.4h-1.4zM142 248h3v1.4h-3zM142 248.8h1.4v1.4h-1.4zM142 249.5h3v1.4h-3zM142 250.3h1.4v1.4h-1.4zM142 251.1h1.4v1.4h-1.4zM145.3 248h3v1.4h-3zM145.3 248.8h1.4v1.4h-1.4zM145.3 249.5h1.4v1.4h-1.4zM145.3 250.3h1.4v1.4h-1.4zM145.3 251.1h3v1.4h-3z" fill="#ffff00" shape-rendering="geometricPrecision"/>
<path d="M125.7 252.7h1.4v1.4h-1.4zM127.3 252.7h1.4v1.4h-1.4zM125.7 253.4h3v1.4h-3zM125.7 254.2h3v1.4h-3zM125.7 255h3v1.4h-3zM125.7 255.8h1.4v1.4h-1.4zM127.3 255.8h1.4v1.4h-1.4zM129 252.7h3v1.4h-3zM129 253.4h1.4v1.4h-1.4zM129 254.2h3v1.4h-3zM129 255h1.4v1.4h-1.4zM129 255.8h3v1.4h-3zM132.2 252.7h1.4v1.4h-1.4zM133.8 252.7h1.4v1.4h-1.4zM132.2 253.4h1.4v1.4h-1.4zM133.8 253.4h1.4v1.4h-1.4zM132.2 254.2h3v1.4h-3zM132.2 255h1.4v1.4h-1.4zM133.8 255h1.4v1.4h-1.4zM132.2 255.8h1.4v1.4h-1.4zM133.8 255.8h1.4v1.4h-1.4zM135.5 252.7h1.4v1.4h-1.4zM137.1 252.7h1.4v1.4h-1.4zM135.5 253.4h1.4v1.4h-1.4zM137.1 253.4h1.4v1.4h-1.4zM135.5 254.2h1.4v1.4h-1.4zM137.1 254.2h1.4v1.4h-1.4zM135.5 255h1.4v1.4h-1.4zM137.1 255h1.4v1.4h-1.4zM136.3 255.8h1.4v1.4h-1.4zM138.7 252.7h3v1.4h-3zM139.6 253.4h1.4v1.4h-1.4zM139.6 254.2h1.4v1.4h-1.4zM139.6 255h1.4v1.4h-1.4zM139.6 255.8h1.4v1.4h-1.4zM142 252.7h1.4v1.4h-1.4zM143.6 252.7h1.4v1.4h-1.4zM142 253.4h2.2v1.4h-2.2zM142 254.2h1.4v1.4h-1.4zM142 255h2.2v1.4h-2.2zM142 255.8h1.4v1.4h-1.4zM143.6 255.8h1.4v1.4h-1.4zM145.3 252.7h3v1.4h-3zM145.3 253.4h1.4v1.4h-1.4zM146.9 253.4h1.4v1.4h-1.4zM145.3 254.2h3v1.4h-3zM145.3 255h1.4v1.4h-1.4zM146.9 255h1.4v1.4h-1.4zM145.3 255.8h3v1.4h-3z" fill="#ffff00" shape-rendering="geometricPrecision"/>
<path d="M125.7 257.3h3v1.4h-3zM125.7 258.1h1.4v1.4h-1.4zM125.7 258.9h3v1.4h-3zM125.7 259.7h1.4v1.4h-1.4zM127.3 259.7h1.4v1.4h-1.4zM125.7 260.4h3v1.4h-3zM128.9 257.3h1.4v1.4h-1.4zM130.6 257.3h1.4v1.4h-1.4zM128.9 258.1h1.4v1.4h-1.4zM130.6 258.1h1.4v1.4h-1.4zM129.7 258.9h1.4v1.4h-1.4zM129.7 259.7h1.4v1.4h-1.4zM129.7 260.4h1.4v1.4h-1.4zM132.2 257.3h1.4v1.4h-1.4zM133.8 257.3h1.4v1.4h-1.4zM132.2 258.1h1.4v1.4h-1.4zM133.8 258.1h1.4v1.4h-1.4zM132.2 258.9h1.4v1.4h-1.4zM133.8 258.9h1.4v1.4h-1.4zM132.2 259.7h1.4v1.4h-1.4zM133.8 259.7h1.4v1.4h-1.4zM132.2 260.4h3v1.4h-3zM135.4 257.3h1.4v1.4h-1.4zM137 257.3h1.4v1.4h-1.4zM135.4 258.1h3v1.4h-3zM135.4 258.9h3v1.4h-3zM135.4 259.7h1.4v1.4h-1.4zM137 259.7h1.4v1.4h-1.4zM135.4 260.4h1.4v1.4h-1.4zM137 260.4h1.4v1.4h-1.4zM138.6 257.3h1.4v1.4h-1.4zM140.3 257.3h1.4v1.4h-1.4zM138.6 258.1h1.4v1.4h-1.4zM140.3 258.1h1.4v1.4h-1.4zM138.6 258.9h3v1.4h-3zM138.6 259.7h3v1.4h-3zM138.6 260.4h1.4v1.4h-1.4zM140.3 260.4h1.4v1.4h-1.4z" fill="#ffff00" shape-rendering="geometricPrecision"/>
<line x1="126.5" y1="286" x2="126.5" y2="305" stroke="#ffff00" stroke-width="1"/>
<path d="M125.7 291h1.5v1.4h-1.5zM127.4 291h1.5v1.4h-1.5zM125.7 291.8h1.5v1.4h-1.5zM127.4 291.8h1.5v1.4h-1.5zM125.7 292.5h1.5v1.4h-1.5zM127.4 292.5h1.5v1.4h-1.5zM125.7 293.3h1.5v1.4h-1.5zM127.4 293.3h1.5v1.4h-1.5zM125.7 294.1h3.2v1.4h-3.2zM129.1 291h2.3v1.4h-2.3zM129.1 291.8h1.5v1.4h-1.5zM130.8 291.8h1.5v1.4h-1.5zM129.1 292.5h2.3v1.4h-2.3zM129.1 293.3h1.5v1.4h-1.5zM130.8 293.3h1.5v1.4h-1.5zM129.1 294.1h2.3v1.4h-2.3zM132.5 292.5h3.2v1.4h-3.2zM135.9 291h1.5v1.4h-1.5zM135.9 291.8h1.5v1.4h-1.5zM135.9 292.5h1.5v1.4h-1.5zM135.9 293.3h1.5v1.4h-1.5zM135.9 294.1h3.2v1.4h-3.2zM139.3 292.5h3.2v1.4h-3.2zM142.7 291h3.2v1.4h-3.2zM144.4 291.8h1.5v1.4h-1.5zM143.6 292.5h1.5v1.4h-1.5zM143.6 293.3h1.5v1.4h-1.5zM143.6 294.1h1.5v1.4h-1.5zM146.1 291h2.3v1.4h-2.3zM146.1 291.8h1.5v1.4h-1.5zM147.8 291.8h1.5v1.4h-1.5zM146.1 292.5h1.5v1.4h-1.5zM147.8 292.5h1.5v1.4h-1.5zM146.1 293.3h1.5v1.4h-1.5zM147.8 293.3h1.5v1.4h-1.5zM146.1 294.1h2.3v1.4h-2.3z" fill="#ffff00" shape-rendering="geometricPrecision"/>
<path d="M125.7 295.7h3.2v1.4h-3.2zM125.7 296.4h1.5v1.4h-1.5zM125.7 297.2h3.2v1.4h-3.2zM125.7 298h1.5v1.4h-1.5zM125.7 298.8h3.2v1.4h-3.2zM129.1 295.7h3.2v1.4h-3.2zM129.1 296.4h1.5v1.4h-1.5zM130.8 296.4h1.5v1.4h-1.5zM129.1 297.2h1.5v1.4h-1.5zM130.8 297.2h1.5v1.4h-1.5zM129.1 298h1.5v1.4h-1.5zM130.8 298h1.5v1.4h-1.5zM129.1 298.8h3.2v1.4h-3.2zM132.5 295.7h1.5v1.4h-1.5zM134.2 295.7h1.5v1.4h-1.5zM132.5 296.4h1.5v1.4h-1.5zM134.2 296.4h1.5v1.4h-1.5zM133.4 297.2h1.5v1.4h-1.5zM133.4 298h1.5v1.4h-1.5zM133.4 298.8h1.5v1.4h-1.5zM135.9 295.7h1.5v1.4h-1.5zM135.9 296.4h1.5v1.4h-1.5zM135.9 297.2h1.5v1.4h-1.5zM135.9 298h1.5v1.4h-1.5zM135.9 298.8h3.2v1.4h-3.2zM139.3 295.7h3.2v1.4h-3.2zM139.3 296.4h1.5v1.4h-1.5zM141 296.4h1.5v1.4h-1.5zM139.3 297.2h3.2v1.4h-3.2zM141 298h1.5v1.4h-1.5zM139.3 298.8h3.2v1.4h-3.2zM142.7 295.7h3.2v1.4h-3.2zM142.7 296.4h1.5v1.4h-1.5zM144.4 296.4h1.5v1.4h-1.5zM142.7 297.2h1.5v1.4h-1.5zM144.4 297.2h1.5v1.4h-1.5zM142.7 298h1.5v1.4h-1.5zM144.4 298h1.5v1.4h-1.5zM142.7 298.8h3.2v1.4h-3.2zM147.8 295.7h1.5v1.4h-1.5zM147.8 296.4h1.5v1.4h-1.5zM147.8 297.2h1.5v1.4h-1.5zM146.1 298h1.5v1.4h-1.5zM147.8 298h1.5v1.4h-1.5zM146.1 298.8h3.2v1.4h-3.2z" fill="#ffff00" shape-rendering="geometricPrecision"/>
<path d="M125.7 300.3h3.1v1.4h-3.1zM125.7 301.1h1.4v1.4h-1.4zM127.4 301.1h1.4v1.4h-1.4zM125.7 301.9h1.4v1.4h-1.4zM127.4 301.9h1.4v1.4h-1.4zM125.7 302.7h1.4v1.4h-1.4zM127.4 302.7h1.4v1.4h-1.4zM125.7 303.4h3.1v1.4h-3.1zM129 300.3h3.1v1.4h-3.1zM129 301.1h1.4v1.4h-1.4zM130.7 301.1h1.4v1.4h-1.4zM129 301.9h3.1v1.4h-3.1zM129 302.7h1.4v1.4h-1.4zM129 303.4h1.4v1.4h-1.4zM133.2 300.3h1.4v1.4h-1.4zM132.4 301.1h2.3v1.4h-2.3zM133.2 301.9h1.4v1.4h-1.4zM133.2 302.7h1.4v1.4h-1.4zM132.4 303.4h3.1v1.4h-3.1zM135.7 300.3h3.1v1.4h-3.1zM135.7 301.1h1.4v1.4h-1.4zM135.7 301.9h3.1v1.4h-3.1zM135.7 302.7h1.4v1.4h-1.4zM135.7 303.4h1.4v1.4h-1.4zM139 301.1h3.1v1.4h-3.1zM139 302.7h3.1v1.4h-3.1zM142.3 301.9h3.1v1.4h-3.1z" fill="#ffff00" shape-rendering="geometricPrecision"/>
<polygon points="142.5,263.5 150.5,263.5 146.5,268.5" stroke="#ffbf00" stroke-width="1" fill="none"/>
<line x1="142.5" y1="263.5" x2="158.5" y2="263.5" stroke="#ffbf00" stroke-width="1"/>
<path d="M145.2 259.9h2.2v1.3h-2.2zM147.5 258.2h1.1v1.3h-1.1zM148.6 258.2h1.1v1.3h-1.1zM147.5 259.1h1.1v1.3h-1.1zM148.6 259.1h1.1v1.3h-1.1zM147.5 259.9h2.2v1.3h-2.2zM148.6 260.8h1.1v1.3h-1.1zM148.6 261.6h1.1v1.3h-1.1zM150.3 261.6h1.1v1.3h-1.1zM152 258.2h2.2v1.3h-2.2zM152 259.1h1.1v1.3h-1.1zM153.2 259.1h1.1v1.3h-1.1zM152 259.9h2.2v1.3h-2.2zM152 260.8h1.1v1.3h-1.1zM153.2 260.8h1.1v1.3h-1.1zM152 261.6h2.2v1.3h-2.2zM154.3 258.2h2.2v1.3h-2.2zM154.3 259.1h1.1v1.3h-1.1zM155.4 259.1h1.1v1.3h-1.1zM154.3 259.9h1.1v1.3h-1.1zM155.4 259.9h1.1v1.3h-1.1zM154.3 260.8h1.1v1.3h-1.1zM155.4 260.8h1.1v1.3h-1.1zM154.3 261.6h2.2v1.3h-2.2zM156.6 258.2h2.2v1.3h-2.2zM156.6 259.1h1.1v1.3h-1.1zM157.7 259.1h1.1v1.3h-1.1zM156.6 259.9h1.1v1.3h-1.1zM157.7 259.9h1.1v1.3h-1.1zM156.6 260.8h1.1v1.3h-1.1zM157.7 260.8h1.1v1.3h-1.1zM156.6 261.6h2.2v1.3h-2.2z" fill="#ffbf00" shape-rendering="geometricPrecision"/>
<path d="M115.5 319.5H120.5M117.5 319.5V330.8M122.5 319.5V330.8M120.5 321.5L122.5 319.5" stroke="#ff00ff" stroke-width="1" fill="none"/>
<path d="M128 320.5H131 M126 322.5H130 M126 327.5H131 M126 330.5H129 M126.5 324V331 M127.5 319V331 M129.5 319V331" stroke="#ff00ff" stroke-width="1" fill="none"/>
<path d="M133 320.5H136 M135 322.5H137 M135 330.5H137 M134.5 319V331 M135.5 324V329" stroke="#ff00ff" stroke-width="1" fill="none"/>
<path d="M139 320.5H144 M141 322.5H144 M140 325.5H144 M139 330.5H143 M139.5 319V331 M143.5 319V331" stroke="#ff00ff" stroke-width="1" fill="none"/>
<path d="M146 320.5H151 M146 325.5H151 M146 327.5H151 M147 330.5H151 M146.5 319V331 M147.5 324V326 M149.5 319V331" stroke="#ff00ff" stroke-width="1" fill="none"/>
<path d="M153 322.5H156 M154 325.5H157 M153 327.5H157 M155 330.5H157 M153.5 319V326 M156.5 319V331" stroke="#ff00ff" stroke-width="1" fill="none"/>
<path d="M161 320.5H164 M159 325.5H163 M159 327.5H164 M159.5 319V331 M163.5 321V329" stroke="#ff00ff" stroke-width="1" fill="none"/>
<path d="M166 320.5H171 M166 322.5H171 M168 325.5H171 M166 327.5H171 M168 330.5H171 M166.5 324V331 M167.5 319V331 M170.5 319V329" stroke="#ff00ff" stroke-width="1" fill="none"/>
<rect x="107" y="332" width="88" height="2" fill="#ff00ff"/>
<circle cx="301.5" cy="33.4" r="5.8" stroke="#10a8a8" stroke-width="1" fill="none"/>
<path d="M299.6 30.4h3.8v1.6h-3.8zM299.6 31.5h1.6v1.6h-1.6zM301.8 31.5h1.6v1.6h-1.6zM299.6 32.6h3.8v1.6h-3.8zM299.6 33.7h1.6v1.6h-1.6zM301.8 33.7h1.6v1.6h-1.6zM299.6 34.9h3.8v1.6h-3.8z" fill="#ffffff" shape-rendering="geometricPrecision"/>
<circle cx="375.1" cy="33.4" r="5.8" stroke="#10a8a8" stroke-width="1" fill="none"/>
<path d="M372.4 30.4h1.4v1.6h-1.4zM371.4 31.5h2.4v1.6h-2.4zM372.4 32.6h1.4v1.6h-1.4zM372.4 33.7h1.4v1.6h-1.4zM371.4 34.9h3.4v1.6h-3.4zM375.4 30.4h3.4v1.6h-3.4zM375.4 31.5h1.4v1.6h-1.4zM377.3 31.5h1.4v1.6h-1.4zM375.4 32.6h1.4v1.6h-1.4zM377.3 32.6h1.4v1.6h-1.4zM375.4 33.7h1.4v1.6h-1.4zM377.3 33.7h1.4v1.6h-1.4zM375.4 34.9h3.4v1.6h-3.4z" fill="#ffffff" shape-rendering="geometricPrecision"/>
<line x1="301.5" y1="39.5" x2="301.5" y2="70" stroke="#00ff00" stroke-width="1"/>
<line x1="375.5" y1="39.5" x2="375.5" y2="70" stroke="#00ff00" stroke-width="1"/>
<line x1="299.5" y1="45.5" x2="377.5" y2="45.5" stroke="#00ff00" stroke-width="1"/>
<line x1="299.9" y1="47.1" x2="303.1" y2="43.9" stroke="#00ff00" stroke-width="1.2"/>
<line x1="373.5" y1="47.1" x2="376.7" y2="43.9" stroke="#00ff00" stroke-width="1.2"/>
<line x1="299.5" y1="55.5" x2="377.5" y2="55.5" stroke="#00ff00" stroke-width="1"/>
<line x1="299.9" y1="57.1" x2="303.1" y2="53.9" stroke="#00ff00" stroke-width="1.2"/>
<line x1="302.9" y1="57.1" x2="306.1" y2="53.9" stroke="#00ff00" stroke-width="1.2"/>
<line x1="337.4" y1="57.1" x2="340.6" y2="53.9" stroke="#00ff00" stroke-width="1.2"/>
<line x1="370.9" y1="57.1" x2="374.1" y2="53.9" stroke="#00ff00" stroke-width="1.2"/>
<line x1="373.4" y1="57.1" x2="376.6" y2="53.9" stroke="#00ff00" stroke-width="1.2"/>
<line x1="304.5" y1="54" x2="304.5" y2="70" stroke="#00ff00" stroke-width="1"/>
<line x1="339.5" y1="54" x2="339.5" y2="70" stroke="#00ff00" stroke-width="1"/>
<line x1="372.5" y1="54" x2="372.5" y2="70" stroke="#00ff00" stroke-width="1"/>
<path d="M334.8 39.8h2v1.3h-2zM335.8 40.7h1v1.3h-1zM334.8 41.6h2v1.3h-2zM335.8 42.5h1v1.3h-1zM334.8 43.4h2v1.3h-2zM336.9 39.8h2v1.3h-2zM338 40.7h1v1.3h-1zM337.4 41.6h1v1.3h-1zM337.4 42.5h1v1.3h-1zM337.4 43.4h1v1.3h-1zM339 39.8h2v1.3h-2zM339 40.7h1v1.3h-1zM340.1 40.7h1v1.3h-1zM339 41.6h1v1.3h-1zM340.1 41.6h1v1.3h-1zM339 42.5h1v1.3h-1zM340.1 42.5h1v1.3h-1zM339 43.4h2v1.3h-2zM341.2 39.8h2v1.3h-2zM341.2 40.7h1v1.3h-1zM342.2 40.7h1v1.3h-1zM341.2 41.6h1v1.3h-1zM342.2 41.6h1v1.3h-1zM341.2 42.5h1v1.3h-1zM342.2 42.5h1v1.3h-1zM341.2 43.4h2v1.3h-2z" fill="#ffffff" shape-rendering="geometricPrecision"/>
<path d="M299.3 50.8h1.9v1.2h-1.9zM300.3 51.6h0.9v1.2h-0.9zM299.3 52.4h1.9v1.2h-1.9zM299.3 53.2h0.9v1.2h-0.9zM299.3 54h1.9v1.2h-1.9zM301.3 50.8h1.9v1.2h-1.9zM301.3 51.6h0.9v1.2h-0.9zM302.3 51.6h0.9v1.2h-0.9zM301.3 52.4h0.9v1.2h-0.9zM302.3 52.4h0.9v1.2h-0.9zM301.3 53.2h0.9v1.2h-0.9zM302.3 53.2h0.9v1.2h-0.9zM301.3 54h1.9v1.2h-1.9zM303.3 50.8h1.9v1.2h-1.9zM303.3 51.6h0.9v1.2h-0.9zM304.3 51.6h0.9v1.2h-0.9zM303.3 52.4h0.9v1.2h-0.9zM304.3 52.4h0.9v1.2h-0.9zM303.3 53.2h0.9v1.2h-0.9zM304.3 53.2h0.9v1.2h-0.9zM303.3 54h1.9v1.2h-1.9z" fill="#ffffff" shape-rendering="geometricPrecision"/>
<path d="M318.2 50.8h0.9v1.2h-0.9zM317.8 51.6h1.4v1.2h-1.4zM318.2 52.4h0.9v1.2h-0.9zM318.2 53.2h0.9v1.2h-0.9zM317.8 54h1.8v1.2h-1.8zM319.6 50.8h1.8v1.2h-1.8zM319.6 51.6h0.9v1.2h-0.9zM319.6 52.4h1.8v1.2h-1.8zM319.6 53.2h0.9v1.2h-0.9zM320.6 53.2h0.9v1.2h-0.9zM319.6 54h1.8v1.2h-1.8zM321.5 50.8h1.8v1.2h-1.8zM321.5 51.6h0.9v1.2h-0.9zM321.5 52.4h1.8v1.2h-1.8zM322.4 53.2h0.9v1.2h-0.9zM321.5 54h1.8v1.2h-1.8zM323.4 50.8h1.8v1.2h-1.8zM323.4 51.6h0.9v1.2h-0.9zM324.3 51.6h0.9v1.2h-0.9zM323.4 52.4h0.9v1.2h-0.9zM324.3 52.4h0.9v1.2h-0.9zM323.4 53.2h0.9v1.2h-0.9zM324.3 53.2h0.9v1.2h-0.9zM323.4 54h1.8v1.2h-1.8z" fill="#ffffff" shape-rendering="geometricPrecision"/>
<path d="M352.2 50.8h0.9v1.2h-0.9zM351.8 51.6h1.4v1.2h-1.4zM352.2 52.4h0.9v1.2h-0.9zM352.2 53.2h0.9v1.2h-0.9zM351.8 54h1.8v1.2h-1.8zM353.6 50.8h1.8v1.2h-1.8zM353.6 51.6h0.9v1.2h-0.9zM353.6 52.4h1.8v1.2h-1.8zM353.6 53.2h0.9v1.2h-0.9zM354.6 53.2h0.9v1.2h-0.9zM353.6 54h1.8v1.2h-1.8zM355.5 50.8h1.8v1.2h-1.8zM355.5 51.6h0.9v1.2h-0.9zM355.5 52.4h1.8v1.2h-1.8zM356.4 53.2h0.9v1.2h-0.9zM355.5 54h1.8v1.2h-1.8zM357.4 50.8h1.8v1.2h-1.8zM357.4 51.6h0.9v1.2h-0.9zM358.3 51.6h0.9v1.2h-0.9zM357.4 52.4h0.9v1.2h-0.9zM358.3 52.4h0.9v1.2h-0.9zM357.4 53.2h0.9v1.2h-0.9zM358.3 53.2h0.9v1.2h-0.9zM357.4 54h1.8v1.2h-1.8z" fill="#ffffff" shape-rendering="geometricPrecision"/>
<path d="M372.3 50.8h1.9v1.2h-1.9zM373.3 51.6h0.9v1.2h-0.9zM372.3 52.4h1.9v1.2h-1.9zM372.3 53.2h0.9v1.2h-0.9zM372.3 54h1.9v1.2h-1.9zM374.3 50.8h1.9v1.2h-1.9zM374.3 51.6h0.9v1.2h-0.9zM375.3 51.6h0.9v1.2h-0.9zM374.3 52.4h0.9v1.2h-0.9zM375.3 52.4h0.9v1.2h-0.9zM374.3 53.2h0.9v1.2h-0.9zM375.3 53.2h0.9v1.2h-0.9zM374.3 54h1.9v1.2h-1.9zM376.3 50.8h1.9v1.2h-1.9zM376.3 51.6h0.9v1.2h-0.9zM377.3 51.6h0.9v1.2h-0.9zM376.3 52.4h0.9v1.2h-0.9zM377.3 52.4h0.9v1.2h-0.9zM376.3 53.2h0.9v1.2h-0.9zM377.3 53.2h0.9v1.2h-0.9zM376.3 54h1.9v1.2h-1.9z" fill="#ffffff" shape-rendering="geometricPrecision"/>
<circle cx="245.6" cy="72.9" r="5.8" stroke="#10a8a8" stroke-width="1" fill="none"/>
<path d="M243.7 69.9h3.8v1.6h-3.8zM243.7 71h1.6v1.6h-1.6zM243.7 72.1h1.6v1.6h-1.6zM245.9 72.1h1.6v1.6h-1.6zM243.7 73.2h1.6v1.6h-1.6zM245.9 73.2h1.6v1.6h-1.6zM243.7 74.4h3.8v1.6h-3.8z" fill="#ffffff" shape-rendering="geometricPrecision"/>
<circle cx="245.6" cy="283.6" r="5.8" stroke="#10a8a8" stroke-width="1" fill="none"/>
<path d="M243.7 280.6h3.8v1.6h-3.8zM243.7 281.7h1.6v1.6h-1.6zM243.7 282.8h3.8v1.6h-3.8zM243.7 283.9h1.6v1.6h-1.6zM243.7 285.1h3.8v1.6h-3.8z" fill="#ffffff" shape-rendering="geometricPrecision"/>
<line x1="251.5" y1="72.5" x2="296" y2="72.5" stroke="#00ff00" stroke-width="1"/>
<line x1="396" y1="72.5" x2="415" y2="72.5" stroke="#00ff00" stroke-width="1"/>
<line x1="251.5" y1="283.5" x2="282" y2="283.5" stroke="#00ff00" stroke-width="1"/>
<line x1="385" y1="283.5" x2="415" y2="283.5" stroke="#00ff00" stroke-width="1"/>
<line x1="258.5" y1="72" x2="258.5" y2="284" stroke="#00ff00" stroke-width="1"/>
<line x1="269.5" y1="72" x2="269.5" y2="117" stroke="#00ff00" stroke-width="1"/>
<line x1="269.5" y1="117" x2="269.5" y2="284" stroke="#00ffff" stroke-width="1"/>
<line x1="256.9" y1="74.1" x2="260.1" y2="70.9" stroke="#00ff00" stroke-width="1.2"/>
<line x1="256.9" y1="285.1" x2="260.1" y2="281.9" stroke="#00ff00" stroke-width="1.2"/>
<line x1="267.9" y1="74.1" x2="271.1" y2="70.9" stroke="#00ff00" stroke-width="1.2"/>
<line x1="267.9" y1="119.1" x2="271.1" y2="115.9" stroke="#00ff00" stroke-width="1.2"/>
<line x1="267.9" y1="226.1" x2="271.1" y2="222.9" stroke="#00ff00" stroke-width="1.2"/>
<line x1="267.9" y1="240.1" x2="271.1" y2="236.9" stroke="#00ff00" stroke-width="1.2"/>
<line x1="267.9" y1="285.1" x2="271.1" y2="281.9" stroke="#00ff00" stroke-width="1.2"/>
<line x1="267" y1="117.5" x2="415" y2="117.5" stroke="#00ffff" stroke-width="1"/>
<line x1="388" y1="117.5" x2="415" y2="117.5" stroke="#00ff00" stroke-width="1"/>
<line x1="266.5" y1="224.5" x2="304" y2="224.5" stroke="#00ffff" stroke-width="1"/>
<line x1="266.5" y1="238.5" x2="372.7" y2="238.5" stroke="#00ffff" stroke-width="1"/>
<path d="M252.7 180.9h1.3v1h-1.3zM252.7 180.3h1.3v1h-1.3zM254.4 180.3h3v1h-3zM252.7 179.8h2.2v1h-2.2zM252.7 178.7h1.3v1h-1.3zM252.7 178.2h1.3v1h-1.3zM254.4 178.2h3v1h-3zM252.7 177.7h2.2v1h-2.2zM252.7 176.6h4.7v1h-4.7zM252.7 176.1h1.3v1h-1.3zM256.1 176.1h1.3v1h-1.3zM252.7 175.6h4.7v1h-4.7zM252.7 174.5h4.7v1h-4.7zM252.7 174h1.3v1h-1.3zM256.1 174h1.3v1h-1.3zM252.7 173.5h4.7v1h-4.7z" fill="#ffffff" shape-rendering="geometricPrecision"/>
<path d="M264.6 98.6h1.3v1.1h-1.3zM267.1 98.6h1.3v1.1h-1.3zM263.8 97.9h4.6v1.1h-4.6zM267.1 97.3h1.3v1.1h-1.3zM263.8 96h3v1.1h-3zM267.1 96h1.3v1.1h-1.3zM263.8 95.4h1.3v1.1h-1.3zM265.5 95.4h1.3v1.1h-1.3zM267.1 95.4h1.3v1.1h-1.3zM263.8 94.8h1.3v1.1h-1.3zM265.5 94.8h3v1.1h-3zM263.8 93.5h4.6v1.1h-4.6zM263.8 92.9h1.3v1.1h-1.3zM267.1 92.9h1.3v1.1h-1.3zM263.8 92.3h4.6v1.1h-4.6zM263.8 91h4.6v1.1h-4.6zM263.8 90.4h1.3v1.1h-1.3zM267.1 90.4h1.3v1.1h-1.3zM263.8 89.8h4.6v1.1h-4.6z" fill="#ffffff" shape-rendering="geometricPrecision"/>
<path d="M263.8 174h4.6v1.2h-4.6zM263.8 173.2h1.3v1.2h-1.3zM265.5 173.2h1.3v1.2h-1.3zM267.1 173.2h1.3v1.2h-1.3zM263.8 172.5h1.3v1.2h-1.3zM265.5 172.5h3v1.2h-3zM263.8 170.9h4.6v1.2h-4.6zM263.8 170.1h1.3v1.2h-1.3zM267.1 170.1h1.3v1.2h-1.3zM263.8 169.4h4.6v1.2h-4.6zM263.8 167.8h4.6v1.2h-4.6zM263.8 167.1h1.3v1.2h-1.3zM267.1 167.1h1.3v1.2h-1.3zM263.8 166.3h4.6v1.2h-4.6z" fill="#ffffff" shape-rendering="geometricPrecision"/>
<path d="M263.8 233h4.6v1h-4.6zM263.8 232.5h1.3v1h-1.3zM265.5 232.5h1.3v1h-1.3zM267.1 232.5h1.3v1h-1.3zM263.8 232h1.3v1h-1.3zM265.5 232h3v1h-3zM263.8 230.9h4.6v1h-4.6zM263.8 230.4h1.3v1h-1.3zM267.1 230.4h1.3v1h-1.3zM263.8 229.8h4.6v1h-4.6zM263.8 228.8h4.6v1h-4.6zM263.8 228.2h1.3v1h-1.3zM267.1 228.2h1.3v1h-1.3zM263.8 227.7h4.6v1h-4.6z" fill="#ffffff" shape-rendering="geometricPrecision"/>
<path d="M264.6 264.1h1.3v1h-1.3zM267.1 264.1h1.3v1h-1.3zM263.8 263.5h4.6v1h-4.6zM267.1 263h1.3v1h-1.3zM263.8 262h4.6v1h-4.6zM263.8 261.5h1.3v1h-1.3zM265.5 261.5h1.3v1h-1.3zM267.1 261.5h1.3v1h-1.3zM263.8 260.9h4.6v1h-4.6zM263.8 259.9h4.6v1h-4.6zM263.8 259.4h1.3v1h-1.3zM267.1 259.4h1.3v1h-1.3zM263.8 258.9h4.6v1h-4.6zM263.8 257.8h4.6v1h-4.6zM263.8 257.3h1.3v1h-1.3zM267.1 257.3h1.3v1h-1.3zM263.8 256.8h4.6v1h-4.6z" fill="#ffffff" shape-rendering="geometricPrecision"/>
<line x1="413.5" y1="72" x2="413.5" y2="284" stroke="#00ff00" stroke-width="1"/>
<line x1="411.9" y1="74.1" x2="415.1" y2="70.9" stroke="#00ff00" stroke-width="1.2"/>
<line x1="411.9" y1="119.1" x2="415.1" y2="115.9" stroke="#00ff00" stroke-width="1.2"/>
<line x1="411.9" y1="133.1" x2="415.1" y2="129.9" stroke="#00ff00" stroke-width="1.2"/>
<line x1="411.9" y1="176.1" x2="415.1" y2="172.9" stroke="#00ff00" stroke-width="1.2"/>
<line x1="411.9" y1="285.1" x2="415.1" y2="281.9" stroke="#00ff00" stroke-width="1.2"/>
<line x1="400" y1="131.5" x2="415" y2="131.5" stroke="#00ff00" stroke-width="1"/>
<line x1="386" y1="174.5" x2="415" y2="174.5" stroke="#00ff00" stroke-width="1"/>
<path d="M408.7 98h1.3v1.2h-1.3zM411.4 98h1.3v1.2h-1.3zM407.8 97.3h4.9v1.2h-4.9zM411.4 96.6h1.3v1.2h-1.3zM407.8 95.1h3.1v1.2h-3.1zM411.4 95.1h1.3v1.2h-1.3zM407.8 94.4h1.3v1.2h-1.3zM409.6 94.4h1.3v1.2h-1.3zM411.4 94.4h1.3v1.2h-1.3zM407.8 93.6h1.3v1.2h-1.3zM409.6 93.6h3.1v1.2h-3.1zM407.8 92.2h4.9v1.2h-4.9zM407.8 91.4h1.3v1.2h-1.3zM411.4 91.4h1.3v1.2h-1.3zM407.8 90.7h4.9v1.2h-4.9zM407.8 89.2h4.9v1.2h-4.9zM407.8 88.5h1.3v1.2h-1.3zM411.4 88.5h1.3v1.2h-1.3zM407.8 87.8h4.9v1.2h-4.9z" fill="#ffffff" shape-rendering="geometricPrecision"/>
<path d="M407.8 127.1h4.9v1.2h-4.9zM407.8 126.3h1.3v1.2h-1.3zM409.6 126.3h1.3v1.2h-1.3zM411.4 126.3h1.3v1.2h-1.3zM407.8 125.6h1.3v1.2h-1.3zM409.6 125.6h3.1v1.2h-3.1zM407.8 124.1h4.9v1.2h-4.9zM407.8 123.4h1.3v1.2h-1.3zM411.4 123.4h1.3v1.2h-1.3zM407.8 122.7h4.9v1.2h-4.9zM407.8 121.2h4.9v1.2h-4.9zM407.8 120.5h1.3v1.2h-1.3zM411.4 120.5h1.3v1.2h-1.3zM407.8 119.8h4.9v1.2h-4.9z" fill="#ffffff" shape-rendering="geometricPrecision"/>
<path d="M407.8 165.3h1.3v1h-1.3zM409.6 165.3h3.1v1h-3.1zM407.8 164.8h1.3v1h-1.3zM409.6 164.8h1.3v1h-1.3zM411.4 164.8h1.3v1h-1.3zM407.8 164.2h3.1v1h-3.1zM411.4 164.2h1.3v1h-1.3zM407.8 163.2h4.9v1h-4.9zM407.8 162.7h1.3v1h-1.3zM409.6 162.7h1.3v1h-1.3zM411.4 162.7h1.3v1h-1.3zM407.8 162.2h4.9v1h-4.9zM407.8 161.2h3.1v1h-3.1zM411.4 161.2h1.3v1h-1.3zM407.8 160.7h1.3v1h-1.3zM409.6 160.7h1.3v1h-1.3zM411.4 160.7h1.3v1h-1.3zM407.8 160.2h1.3v1h-1.3zM409.6 160.2h3.1v1h-3.1zM407.8 159.1h4.9v1h-4.9zM407.8 158.6h1.3v1h-1.3zM411.4 158.6h1.3v1h-1.3zM407.8 158.1h4.9v1h-4.9zM408.7 157.1h1.3v1h-1.3zM410.5 157.1h1.3v1h-1.3zM409.6 156.6h1.3v1h-1.3zM408.7 156.1h1.3v1h-1.3zM410.5 156.1h1.3v1h-1.3zM407.8 155h4.9v1h-4.9zM407.8 154.5h1.3v1h-1.3zM409.6 154.5h1.3v1h-1.3zM411.4 154.5h1.3v1h-1.3zM407.8 154h4.9v1h-4.9zM408.7 153h1.3v1h-1.3zM410.5 153h1.3v1h-1.3zM408.7 152.5h1.3v1h-1.3zM410.5 152.5h1.3v1h-1.3zM408.7 152h1.3v1h-1.3zM410.5 152h1.3v1h-1.3zM407.8 150.9h1.3v1h-1.3zM409.6 150.9h3.1v1h-3.1zM407.8 150.4h1.3v1h-1.3zM409.6 150.4h1.3v1h-1.3zM411.4 150.4h1.3v1h-1.3zM407.8 149.9h3.1v1h-3.1zM411.4 149.9h1.3v1h-1.3zM407.8 148.9h3.1v1h-3.1zM409.6 148.4h1.3v1h-1.3zM407.8 147.9h4.9v1h-4.9zM407.8 146.8h4.9v1h-4.9zM407.8 146.3h1.3v1h-1.3zM411.4 146.3h1.3v1h-1.3zM407.8 145.8h4.9v1h-4.9zM407.8 144.8h4.9v1h-4.9zM407.8 144.3h1.3v1h-1.3zM411.4 144.3h1.3v1h-1.3zM407.8 143.8h4.9v1h-4.9z" fill="#ffffff" shape-rendering="geometricPrecision"/>
<path d="M408.7 233h1.3v1.2h-1.3zM411.4 233h1.3v1.2h-1.3zM407.8 232.2h4.9v1.2h-4.9zM411.4 231.4h1.3v1.2h-1.3zM407.8 229.8h4.9v1.2h-4.9zM407.8 229h1.3v1.2h-1.3zM409.6 229h1.3v1.2h-1.3zM411.4 229h1.3v1.2h-1.3zM407.8 228.2h4.9v1.2h-4.9zM407.8 226.6h4.9v1.2h-4.9zM407.8 225.8h1.3v1.2h-1.3zM411.4 225.8h1.3v1.2h-1.3zM407.8 225h4.9v1.2h-4.9zM407.8 223.4h4.9v1.2h-4.9zM407.8 222.6h1.3v1.2h-1.3zM411.4 222.6h1.3v1.2h-1.3zM407.8 221.8h4.9v1.2h-4.9z" fill="#ffffff" shape-rendering="geometricPrecision"/>
<polygon points="296.5,70.5 396.5,70.5 396.5,83.5 367.5,83.5 367.5,81.5 310.5,81.5 310.5,83.5 296.5,83.5" stroke="#ffffff" stroke-width="1" fill="#4a72a0"/>
<line x1="296.5" y1="72.5" x2="396.5" y2="72.5" stroke="#808080" stroke-width="1"/>
<line x1="283" y1="70.5" x2="296.5" y2="70.5" stroke="#00ffff" stroke-width="1"/>
<line x1="283" y1="81.5" x2="296.5" y2="81.5" stroke="#00ffff" stroke-width="1"/>
<polyline points="282.5,66 282.5,100.5 284.3,101.8 279.5,103.6 283.4,104.5 282.5,105.5 282.5,138" stroke="#ffffff" stroke-width="1" fill="none"/>
<polyline points="396.5,66 396.5,100.5 398.3,101.8 393.5,103.6 397.4,104.5 396.5,105.5 396.5,138" stroke="#ffffff" stroke-width="1" fill="none"/>
<polyline points="276.8,135.5 290.5,135.5 291.8,133.7 293.6,138.5 294.5,134.6 295.5,135.5 308.3,135.5" stroke="#ffffff" stroke-width="1" fill="none"/>
<polyline points="368.8,135.5 381.5,135.5 382.8,133.7 384.6,138.5 385.5,134.6 386.5,135.5 400.3,135.5" stroke="#ffffff" stroke-width="1" fill="none"/>
<line x1="296.5" y1="83.5" x2="296.5" y2="134" stroke="#00ffff" stroke-width="1"/>
<line x1="304.5" y1="83.5" x2="304.5" y2="117" stroke="#00ffff" stroke-width="1"/>
<line x1="372.5" y1="83.5" x2="372.5" y2="117" stroke="#00ffff" stroke-width="1"/>
<line x1="380.5" y1="83.5" x2="380.5" y2="134" stroke="#00ffff" stroke-width="1"/>
<line x1="380.5" y1="72.5" x2="416" y2="72.5" stroke="#00ff00" stroke-width="1"/>
<line x1="388.5" y1="70" x2="388.5" y2="113" stroke="#00ff00" stroke-width="1"/>
<line x1="380" y1="113.5" x2="392" y2="113.5" stroke="#00ff00" stroke-width="1"/>
<polyline points="390,111 392.5,113.5 390,116" stroke="#00ff00" stroke-width="1" fill="none"/>
<path d="M382.8 95.8h4.1v1.1h-4.1zM382.8 95.2h1.2v1.1h-1.2zM384.3 95.2h1.2v1.1h-1.2zM385.7 95.2h1.2v1.1h-1.2zM382.8 94.5h4.1v1.1h-4.1zM382.8 93.2h4.1v1.1h-4.1zM382.8 92.5h1.2v1.1h-1.2zM385.7 92.5h1.2v1.1h-1.2zM382.8 91.8h4.1v1.1h-4.1zM382.8 90.5h4.1v1.1h-4.1zM382.8 89.8h1.2v1.1h-1.2zM385.7 89.8h1.2v1.1h-1.2zM382.8 89.2h4.1v1.1h-4.1z" fill="#ffffff" shape-rendering="geometricPrecision"/>
<path d="M357.39 65.8h2.94v2.13h-2.94z M357.45 68.85h2.5v1.21h-2.5z M357.51 70.51h2.87v2.31h-2.87z M357.43 73.44h2.61v2.61h-2.61z M357.26 76.54h2.89v1.68h-2.89z M357.59 79.17h2.62v1.83h-2.62z" fill="#ffffff"/>
<line x1="304.5" y1="112.5" x2="372.5" y2="112.5" stroke="#00ffff" stroke-width="1"/>
<rect x="298.5" y="113.5" width="6" height="6" fill="#4a72a0" stroke="#ff0000" stroke-width="1"/>
<rect x="372.5" y="113.5" width="6" height="6" fill="#4a72a0" stroke="#ff0000" stroke-width="1"/>
<line x1="301.5" y1="72" x2="301.5" y2="300" stroke="#808080" stroke-width="1"/>
<line x1="375.5" y1="72" x2="375.5" y2="300" stroke="#808080" stroke-width="1"/>
<path d="M288.8 119.3h2.1v1.2h-2.1zM289.3 120.1h1v1.2h-1zM289.3 120.9h1v1.2h-1zM289.3 121.7h1v1.2h-1zM289.3 122.5h1v1.2h-1zM291 119.3h2.1v1.2h-2.1zM292.1 120.1h1v1.2h-1zM291.5 120.9h1v1.2h-1zM291 121.7h1v1.2h-1zM291 122.5h2.1v1.2h-2.1zM293.7 119.3h1v1.2h-1zM293.1 120.1h1.5v1.2h-1.5zM293.7 120.9h1v1.2h-1zM293.7 121.7h1v1.2h-1zM293.1 122.5h2.1v1.2h-2.1z" fill="#ffffff" shape-rendering="geometricPrecision"/>
<path d="M382.3 118.8h2.1v1.2h-2.1zM382.8 119.6h1v1.2h-1zM382.8 120.4h1v1.2h-1zM382.8 121.2h1v1.2h-1zM382.8 122h1v1.2h-1zM384.5 118.8h2.1v1.2h-2.1zM385.6 119.6h1v1.2h-1zM385 120.4h1v1.2h-1zM384.5 121.2h1v1.2h-1zM384.5 122h2.1v1.2h-2.1zM387.2 118.8h1v1.2h-1zM386.6 119.6h1.5v1.2h-1.5zM387.2 120.4h1v1.2h-1zM387.2 121.2h1v1.2h-1zM386.6 122h2.1v1.2h-2.1z" fill="#ffffff" shape-rendering="geometricPrecision"/>
<line x1="304.5" y1="117" x2="304.5" y2="243" stroke="#ffff00" stroke-width="1"/>
<line x1="339.5" y1="117" x2="339.5" y2="242" stroke="#ffff00" stroke-width="1"/>
<line x1="372.5" y1="131" x2="372.5" y2="174" stroke="#ffff00" stroke-width="1"/>
<line x1="304.5" y1="117.5" x2="339" y2="117.5" stroke="#ffff00" stroke-width="1"/>
<line x1="304.5" y1="124.5" x2="339" y2="124.5" stroke="#ffff00" stroke-width="1"/>
<line x1="304.5" y1="131.5" x2="339" y2="131.5" stroke="#ffff00" stroke-width="1"/>
<line x1="304.5" y1="138.5" x2="339" y2="138.5" stroke="#ffff00" stroke-width="1"/>
<line x1="304.5" y1="145.5" x2="339" y2="145.5" stroke="#ffff00" stroke-width="1"/>
<line x1="304.5" y1="152.5" x2="339" y2="152.5" stroke="#ffff00" stroke-width="1"/>
<line x1="304.5" y1="159.5" x2="339" y2="159.5" stroke="#ffff00" stroke-width="1"/>
<line x1="304.5" y1="167.5" x2="339" y2="167.5" stroke="#ffff00" stroke-width="1"/>
<line x1="339" y1="131.5" x2="372.5" y2="131.5" stroke="#ffff00" stroke-width="1"/>
<line x1="339" y1="138.5" x2="372.5" y2="138.5" stroke="#ffff00" stroke-width="1"/>
<line x1="339" y1="145.5" x2="372.5" y2="145.5" stroke="#ffff00" stroke-width="1"/>
<line x1="339" y1="152.5" x2="372.5" y2="152.5" stroke="#ffff00" stroke-width="1"/>
<line x1="339" y1="159.5" x2="372.5" y2="159.5" stroke="#ffff00" stroke-width="1"/>
<line x1="339" y1="167.5" x2="372.5" y2="167.5" stroke="#ffff00" stroke-width="1"/>
<line x1="304.5" y1="174.5" x2="372.5" y2="174.5" stroke="#00ffff" stroke-width="1"/>
<line x1="304.5" y1="181.5" x2="372.5" y2="181.5" stroke="#00ffff" stroke-width="1"/>
<line x1="304.5" y1="243.5" x2="372.5" y2="243.5" stroke="#00ffff" stroke-width="1"/>
<line x1="304.5" y1="188.5" x2="325" y2="188.5" stroke="#ffff00" stroke-width="1"/>
<line x1="304.5" y1="195.5" x2="325" y2="195.5" stroke="#ffff00" stroke-width="1"/>
<line x1="304.5" y1="202.5" x2="325" y2="202.5" stroke="#ffff00" stroke-width="1"/>
<line x1="304.5" y1="209.5" x2="339" y2="209.5" stroke="#ffff00" stroke-width="1"/>
<line x1="304.5" y1="216.5" x2="339" y2="216.5" stroke="#ffff00" stroke-width="1"/>
<line x1="304.5" y1="224.5" x2="339" y2="224.5" stroke="#ffff00" stroke-width="1"/>
<line x1="304.5" y1="231.5" x2="339" y2="231.5" stroke="#ffff00" stroke-width="1"/>
<polyline points="304.5,162 339,141.5" stroke="#ffff00" stroke-width="1" fill="none"/>
<polyline points="304.5,165 339,144.5" stroke="#ffff00" stroke-width="1" fill="none"/>
<polyline points="339,168 372.5,148.5" stroke="#ffff00" stroke-width="1" fill="none"/>
<polyline points="339,171 372.5,151.5" stroke="#ffff00" stroke-width="1" fill="none"/>
<polyline points="339.5,184.4 350.9,227 372.2,238.1" stroke="#ffff00" stroke-width="1" fill="none"/>
<path d="M346 156.9h3.2v1.4h-3.2zM348.1 156.1h1.1v1.4h-1.1zM348.1 155.4h1.1v1.4h-1.1zM346 153.8h2.7v1.4h-2.7zM348.1 153h1.1v1.4h-1.1zM346 152.3h2.7v1.4h-2.7zM346 150.7h3.2v1.4h-3.2zM346.5 149.9h1.7v1.4h-1.7zM346 149.1h3.2v1.4h-3.2zM346 147.6h3.2v1.4h-3.2zM346 146.8h1.1v1.4h-1.1zM347.1 146.8h1.1v1.4h-1.1zM348.1 146.8h1.1v1.4h-1.1zM346 146h3.2v1.4h-3.2zM346 144.5h3.2v1.4h-3.2zM346 143.7h1.1v1.4h-1.1zM348.1 143.7h1.1v1.4h-1.1zM346 142.9h1.1v1.4h-1.1zM347.1 142.9h2.2v1.4h-2.2zM346 141.4h3.2v1.4h-3.2zM347.1 140.6h1.7v1.4h-1.7zM346 139.8h3.2v1.4h-3.2zM346 138.3h3.2v1.4h-3.2zM346 137.5h1.1v1.4h-1.1zM347.1 137.5h1.1v1.4h-1.1zM348.1 137.5h1.1v1.4h-1.1zM346 136.7h1.1v1.4h-1.1zM347.1 136.7h1.1v1.4h-1.1zM348.1 136.7h1.1v1.4h-1.1z" fill="#ffff00" shape-rendering="geometricPrecision"/>
<path d="M349.3 157h2.2v1.3h-2.2zM350.4 156.2h1.1v1.3h-1.1zM349.3 155.5h3.2v1.3h-3.2zM349.3 154.1h3.2v1.3h-3.2zM350.4 153.3h1.7v1.3h-1.7zM349.3 152.6h3.2v1.3h-3.2zM349.3 151.2h3.2v1.3h-3.2zM349.3 150.4h1.1v1.3h-1.1zM351.4 150.4h1.1v1.3h-1.1zM349.3 149.7h3.2v1.3h-3.2zM349.3 148.3h3.2v1.3h-3.2zM349.3 147.5h1.1v1.3h-1.1zM350.4 147.5h1.1v1.3h-1.1zM351.4 147.5h1.1v1.3h-1.1zM349.3 146.8h1.1v1.3h-1.1zM350.4 146.8h1.1v1.3h-1.1zM351.4 146.8h1.1v1.3h-1.1zM349.3 145.4h3.2v1.3h-3.2zM351.4 144.6h1.1v1.3h-1.1zM349.3 143.9h3.2v1.3h-3.2zM349.3 142.5h3.2v1.3h-3.2zM349.3 141.7h1.1v1.3h-1.1zM351.4 141.7h1.1v1.3h-1.1zM349.3 141h3.2v1.3h-3.2z" fill="#ffff00" shape-rendering="geometricPrecision"/>
<path d="M352.7 156.9h3.2v1.4h-3.2zM352.7 156.1h1.1v1.4h-1.1zM353.7 156.1h1.1v1.4h-1.1zM354.8 156.1h1.1v1.4h-1.1zM352.7 155.3h1.1v1.4h-1.1zM353.7 155.3h1.1v1.4h-1.1zM354.8 155.3h1.1v1.4h-1.1zM352.7 153.6h3.2v1.4h-3.2zM353.2 152.8h1.7v1.4h-1.7zM352.7 152h3.2v1.4h-3.2zM352.7 150.4h3.2v1.4h-3.2zM352.7 149.6h1.1v1.4h-1.1zM354.8 149.6h1.1v1.4h-1.1zM352.7 148.8h3.2v1.4h-3.2zM352.7 147.2h3.2v1.4h-3.2zM352.7 146.4h1.1v1.4h-1.1zM353.7 146.4h1.1v1.4h-1.1zM354.8 146.4h1.1v1.4h-1.1zM352.7 145.5h1.1v1.4h-1.1zM353.7 145.5h1.1v1.4h-1.1zM354.8 145.5h1.1v1.4h-1.1z" fill="#ffff00" shape-rendering="geometricPrecision"/>
<path d="M325.5 207.2h3.8v1.4h-3.8zM328.1 206.5h1.2v1.4h-1.2zM328.1 205.7h1.2v1.4h-1.2zM325.5 204.1h3.8v1.4h-3.8zM326.1 203.4h2.5v1.4h-2.5zM325.5 202.6h3.8v1.4h-3.8zM325.5 201.1h3.8v1.4h-3.8zM325.5 200.3h1.2v1.4h-1.2zM326.8 200.3h1.2v1.4h-1.2zM328.1 200.3h1.2v1.4h-1.2zM325.5 199.5h1.2v1.4h-1.2zM326.8 199.5h2.5v1.4h-2.5zM325.5 198h3.8v1.4h-3.8zM325.5 197.2h1.2v1.4h-1.2zM328.1 197.2h1.2v1.4h-1.2zM325.5 196.4h1.2v1.4h-1.2zM328.1 196.4h1.2v1.4h-1.2zM325.5 194.9h3.8v1.4h-3.8zM325.5 194.1h1.2v1.4h-1.2zM326.8 194.1h1.2v1.4h-1.2zM328.1 194.1h1.2v1.4h-1.2zM325.5 193.4h1.2v1.4h-1.2zM326.8 193.4h1.2v1.4h-1.2zM328.1 193.4h1.2v1.4h-1.2zM325.5 191.8h2.5v1.4h-2.5zM328.1 191.8h1.2v1.4h-1.2zM325.5 191h1.2v1.4h-1.2zM326.8 191h1.2v1.4h-1.2zM328.1 191h1.2v1.4h-1.2zM325.5 190.3h3.8v1.4h-3.8zM325.5 188.7h2.5v1.4h-2.5zM328.1 188.7h1.2v1.4h-1.2zM325.5 188h1.2v1.4h-1.2zM326.8 188h1.2v1.4h-1.2zM328.1 188h1.2v1.4h-1.2zM325.5 187.2h1.2v1.4h-1.2zM326.8 187.2h2.5v1.4h-2.5zM325.5 185.6h2.5v1.4h-2.5zM326.8 184.9h1.2v1.4h-1.2zM325.5 184.1h3.8v1.4h-3.8z" fill="#ffff00" shape-rendering="geometricPrecision"/>
<path d="M329.4 207.3h3.8v1.3h-3.8zM329.4 206.5h1.2v1.3h-1.2zM332 206.5h1.2v1.3h-1.2zM329.4 205.8h3.8v1.3h-3.8zM329.4 204.3h3.8v1.3h-3.8zM329.4 203.6h1.2v1.3h-1.2zM332 203.6h1.2v1.3h-1.2zM330 202.9h2.5v1.3h-2.5zM329.4 201.4h1.2v1.3h-1.2zM330.7 201.4h1.2v1.3h-1.2zM332 201.4h1.2v1.3h-1.2zM329.4 200.7h1.2v1.3h-1.2zM330.7 200.7h1.2v1.3h-1.2zM332 200.7h1.2v1.3h-1.2zM329.4 199.9h3.8v1.3h-3.8zM329.4 198.5h1.2v1.3h-1.2zM331.3 198.5h1.9v1.3h-1.9zM329.4 197.7h1.2v1.3h-1.2zM330.7 197.7h1.2v1.3h-1.2zM332 197.7h1.2v1.3h-1.2zM329.4 197h1.9v1.3h-1.9zM332 197h1.2v1.3h-1.2z" fill="#ffff00" shape-rendering="geometricPrecision"/>
<path d="M333.3 207.2h3.8v1.4h-3.8zM333.3 206.5h1.2v1.4h-1.2zM335.9 206.5h1.2v1.4h-1.2zM333.3 205.7h1.2v1.4h-1.2zM334.6 205.7h2.5v1.4h-2.5zM333.3 204.2h3.8v1.4h-3.8zM333.3 203.4h1.2v1.4h-1.2zM334.6 203.4h1.2v1.4h-1.2zM333.3 202.6h2.5v1.4h-2.5zM333.9 201.1h1.2v1.4h-1.2zM335.2 201.1h1.2v1.4h-1.2zM333.9 200.4h1.2v1.4h-1.2zM335.2 200.4h1.2v1.4h-1.2zM333.9 199.6h1.2v1.4h-1.2zM335.2 199.6h1.2v1.4h-1.2zM333.3 198.1h3.8v1.4h-3.8zM333.3 197.3h1.2v1.4h-1.2zM334.6 197.3h1.2v1.4h-1.2zM335.9 197.3h1.2v1.4h-1.2zM333.3 196.5h1.2v1.4h-1.2zM334.6 196.5h2.5v1.4h-2.5zM333.3 195h3.8v1.4h-3.8zM335.9 194.2h1.2v1.4h-1.2zM333.3 193.5h3.8v1.4h-3.8zM333.3 191.9h1.2v1.4h-1.2zM333.3 191.2h3.8v1.4h-3.8zM333.3 190.4h1.2v1.4h-1.2z" fill="#ffff00" shape-rendering="geometricPrecision"/>
<line x1="320.5" y1="100" x2="320.5" y2="143" stroke="#00ff00" stroke-width="1"/>
<line x1="320.5" y1="197" x2="320.5" y2="247" stroke="#00ff00" stroke-width="1"/>
<line x1="356.5" y1="100" x2="356.5" y2="143" stroke="#00ff00" stroke-width="1"/>
<path d="M318.5 93.5H322M320.25 93V97M320.85 95l1.2 1" stroke="#ffff00" stroke-width="1.1" fill="none"/>
<path d="M354.5 96.5H358M356.25 93V97M356.25 95h1.6" stroke="#ffff00" stroke-width="1.1" fill="none"/>
<path d="M318.5 252.5H322M320.25 249V253M320.25 251h1.6" stroke="#ffff00" stroke-width="1.1" fill="none"/>
<polygon points="335.5,97.5 343.5,97.5 339.5,102.5" stroke="#ffbf00" stroke-width="1" fill="none"/>
<line x1="335.5" y1="97.5" x2="351.5" y2="97.5" stroke="#ffbf00" stroke-width="1"/>
<path d="M338.2 93.9h2.2v1.3h-2.2zM340.5 92.2h2.2v1.3h-2.2zM340.5 93.1h1.1v1.3h-1.1zM341.6 93.1h1.1v1.3h-1.1zM340.5 93.9h1.1v1.3h-1.1zM341.6 93.9h1.1v1.3h-1.1zM340.5 94.8h1.1v1.3h-1.1zM341.6 94.8h1.1v1.3h-1.1zM340.5 95.6h2.2v1.3h-2.2zM343.3 95.6h1.1v1.3h-1.1zM345 92.2h2.2v1.3h-2.2zM345 93.1h1.1v1.3h-1.1zM346.2 93.1h1.1v1.3h-1.1zM345 93.9h1.1v1.3h-1.1zM346.2 93.9h1.1v1.3h-1.1zM345 94.8h1.1v1.3h-1.1zM346.2 94.8h1.1v1.3h-1.1zM345 95.6h2.2v1.3h-2.2zM347.3 92.2h2.2v1.3h-2.2zM348.4 93.1h1.1v1.3h-1.1zM347.3 93.9h2.2v1.3h-2.2zM348.4 94.8h1.1v1.3h-1.1zM347.3 95.6h2.2v1.3h-2.2zM349.6 92.2h2.2v1.3h-2.2zM349.6 93.1h1.1v1.3h-1.1zM350.7 93.1h1.1v1.3h-1.1zM349.6 93.9h1.1v1.3h-1.1zM350.7 93.9h1.1v1.3h-1.1zM349.6 94.8h1.1v1.3h-1.1zM350.7 94.8h1.1v1.3h-1.1zM349.6 95.6h2.2v1.3h-2.2z" fill="#ffbf00" shape-rendering="geometricPrecision"/>
<path d="M326.8 111.8h1.4v1.2h-1.4zM328.8 111.8h1.4v1.2h-1.4zM326.8 112.6h1.4v1.2h-1.4zM328.8 112.6h1.4v1.2h-1.4zM326.8 113.4h1.4v1.2h-1.4zM328.8 113.4h1.4v1.2h-1.4zM326.8 114.2h1.4v1.2h-1.4zM328.8 114.2h1.4v1.2h-1.4zM326.8 115h3.4v1.2h-3.4zM330.8 111.8h3.4v1.2h-3.4zM330.8 112.6h1.4v1.2h-1.4zM332.8 112.6h1.4v1.2h-1.4zM330.8 113.4h3.4v1.2h-3.4zM330.8 114.2h1.4v1.2h-1.4zM330.8 115h1.4v1.2h-1.4z" fill="#ffff00" shape-rendering="geometricPrecision"/>
<path d="M331.8 238.8h2.4v1.2h-2.4zM331.8 239.6h1.4v1.2h-1.4zM333.8 239.6h1.4v1.2h-1.4zM331.8 240.4h1.4v1.2h-1.4zM333.8 240.4h1.4v1.2h-1.4zM331.8 241.2h1.4v1.2h-1.4zM333.8 241.2h1.4v1.2h-1.4zM331.8 242h2.4v1.2h-2.4zM335.8 238.8h1.4v1.2h-1.4zM337.8 238.8h1.4v1.2h-1.4zM335.8 239.6h3.4v1.2h-3.4zM335.8 240.4h3.4v1.2h-3.4zM335.8 241.2h3.4v1.2h-3.4zM335.8 242h1.4v1.2h-1.4zM337.8 242h1.4v1.2h-1.4z" fill="#ffff00" shape-rendering="geometricPrecision"/>
<polyline points="383.5,148.5 383.5,168.5 364.5,168.5 364.5,179" stroke="#ffff00" stroke-width="1" fill="none"/>
<path d="M383 149.5h1.4v1.3h-1.4zM384.6 149.5h1.4v1.3h-1.4zM383 150.2h1.4v1.3h-1.4zM384.6 150.2h1.4v1.3h-1.4zM383.8 150.9h1.4v1.3h-1.4zM383.8 151.6h1.4v1.3h-1.4zM383.8 152.3h1.4v1.3h-1.4zM386.2 149.5h1.4v1.3h-1.4zM387.7 149.5h1.4v1.3h-1.4zM386.2 150.2h1.4v1.3h-1.4zM387.7 150.2h1.4v1.3h-1.4zM386.2 150.9h1.4v1.3h-1.4zM387.7 150.9h1.4v1.3h-1.4zM386.2 151.6h1.4v1.3h-1.4zM387.7 151.6h1.4v1.3h-1.4zM386.2 152.3h3v1.3h-3zM389.3 149.5h1.4v1.3h-1.4zM390.9 149.5h1.4v1.3h-1.4zM389.3 150.2h1.4v1.3h-1.4zM390.9 150.2h1.4v1.3h-1.4zM389.3 150.9h3v1.3h-3zM389.3 151.6h1.4v1.3h-1.4zM390.9 151.6h1.4v1.3h-1.4zM389.3 152.3h1.4v1.3h-1.4zM390.9 152.3h1.4v1.3h-1.4zM392.5 149.5h3v1.3h-3zM392.5 150.2h1.4v1.3h-1.4zM394 150.2h1.4v1.3h-1.4zM392.5 150.9h1.4v1.3h-1.4zM394 150.9h1.4v1.3h-1.4zM392.5 151.6h3v1.3h-3zM394 152.3h1.4v1.3h-1.4zM395.6 149.5h3v1.3h-3zM395.6 150.2h1.4v1.3h-1.4zM395.6 150.9h3v1.3h-3zM397.2 151.6h1.4v1.3h-1.4zM395.6 152.3h3v1.3h-3zM399.6 149.5h1.4v1.3h-1.4zM398.8 150.2h2.2v1.3h-2.2zM399.6 150.9h1.4v1.3h-1.4zM399.6 151.6h1.4v1.3h-1.4zM398.8 152.3h3v1.3h-3zM402.7 149.5h1.4v1.3h-1.4zM401.9 150.2h3v1.3h-3zM401.9 150.9h1.4v1.3h-1.4zM403.5 150.9h1.4v1.3h-1.4zM401.9 151.6h3v1.3h-3zM402.7 152.3h1.4v1.3h-1.4z" fill="#ffff00" shape-rendering="geometricPrecision"/>
<path d="M383 153.8h1.4v1.3h-1.4zM383 154.4h1.4v1.3h-1.4zM383 155.1h1.4v1.3h-1.4zM383 155.8h1.4v1.3h-1.4zM383 156.5h3v1.3h-3zM386.2 153.8h3v1.3h-3zM386.2 154.4h1.4v1.3h-1.4zM387.7 154.4h1.4v1.3h-1.4zM386.2 155.1h1.4v1.3h-1.4zM387.7 155.1h1.4v1.3h-1.4zM386.2 155.8h3v1.3h-3zM387.7 156.5h1.4v1.3h-1.4zM389.3 153.8h3v1.3h-3zM390.9 154.4h1.4v1.3h-1.4zM389.3 155.1h3v1.3h-3zM390.9 155.8h1.4v1.3h-1.4zM389.3 156.5h3v1.3h-3zM392.5 154.4h1.4v1.3h-1.4zM394 154.4h1.4v1.3h-1.4zM393.3 155.1h1.4v1.3h-1.4zM392.5 155.8h1.4v1.3h-1.4zM394 155.8h1.4v1.3h-1.4zM395.6 153.8h3v1.3h-3zM397.2 154.4h1.4v1.3h-1.4zM396.4 155.1h1.4v1.3h-1.4zM396.4 155.8h1.4v1.3h-1.4zM396.4 156.5h1.4v1.3h-1.4zM398.8 153.8h3v1.3h-3zM398.8 154.4h1.4v1.3h-1.4zM398.8 155.1h1.4v1.3h-1.4zM400.4 155.1h1.4v1.3h-1.4zM398.8 155.8h1.4v1.3h-1.4zM400.4 155.8h1.4v1.3h-1.4zM398.8 156.5h3v1.3h-3zM401.9 153.8h3v1.3h-3zM401.9 154.4h1.4v1.3h-1.4zM401.9 155.1h3v1.3h-3zM401.9 155.8h1.4v1.3h-1.4zM401.9 156.5h3v1.3h-3z" fill="#ffff00" shape-rendering="geometricPrecision"/>
<path d="M383 158h1.4v1.3h-1.4zM383 158.7h1.4v1.3h-1.4zM383 159.4h1.4v1.3h-1.4zM383 160.1h1.4v1.3h-1.4zM383 160.8h3v1.3h-3zM386.2 158h2.2v1.3h-2.2zM386.2 158.7h1.4v1.3h-1.4zM387.7 158.7h1.4v1.3h-1.4zM386.2 159.4h2.2v1.3h-2.2zM386.2 160.1h1.4v1.3h-1.4zM387.7 160.1h1.4v1.3h-1.4zM386.2 160.8h1.4v1.3h-1.4zM387.7 160.8h1.4v1.3h-1.4zM389.3 158h1.4v1.3h-1.4zM390.9 158h1.4v1.3h-1.4zM389.3 158.7h3v1.3h-3zM389.3 159.4h3v1.3h-3zM389.3 160.1h1.4v1.3h-1.4zM390.9 160.1h1.4v1.3h-1.4zM389.3 160.8h1.4v1.3h-1.4zM390.9 160.8h1.4v1.3h-1.4zM392.5 158h3v1.3h-3zM392.5 158.7h1.4v1.3h-1.4zM392.5 159.4h3v1.3h-3zM392.5 160.1h1.4v1.3h-1.4zM394 160.1h1.4v1.3h-1.4zM392.5 160.8h3v1.3h-3zM395.6 158h3v1.3h-3zM396.4 158.7h1.4v1.3h-1.4zM396.4 159.4h1.4v1.3h-1.4zM396.4 160.1h1.4v1.3h-1.4zM395.6 160.8h3v1.3h-3zM398.8 158h1.4v1.3h-1.4zM398.8 158.7h1.4v1.3h-1.4zM398.8 159.4h1.4v1.3h-1.4zM398.8 160.1h1.4v1.3h-1.4zM398.8 160.8h3v1.3h-3zM401.9 158h3v1.3h-3zM401.9 158.7h1.4v1.3h-1.4zM403.5 158.7h1.4v1.3h-1.4zM401.9 159.4h1.4v1.3h-1.4zM403.5 159.4h1.4v1.3h-1.4zM401.9 160.1h1.4v1.3h-1.4zM403.5 160.1h1.4v1.3h-1.4zM401.9 160.8h3v1.3h-3z" fill="#ffff00" shape-rendering="geometricPrecision"/>
<path d="M383.8 162.2h1.4v1.3h-1.4zM383 162.9h1.4v1.3h-1.4zM383 163.6h1.4v1.3h-1.4zM383 164.3h1.4v1.3h-1.4zM383.8 165h1.4v1.3h-1.4zM386.2 162.2h3v1.3h-3zM386.2 162.9h1.4v1.3h-1.4zM387.8 162.9h1.4v1.3h-1.4zM386.2 163.6h3v1.3h-3zM386.2 164.3h1.4v1.3h-1.4zM386.2 165h1.4v1.3h-1.4zM389.3 162.9h3v1.3h-3zM389.3 164.3h3v1.3h-3zM392.5 162.2h2.2v1.3h-2.2zM392.5 162.9h1.4v1.3h-1.4zM394.1 162.9h1.4v1.3h-1.4zM392.5 163.6h2.2v1.3h-2.2zM392.5 164.3h1.4v1.3h-1.4zM394.1 164.3h1.4v1.3h-1.4zM392.5 165h1.4v1.3h-1.4zM394.1 165h1.4v1.3h-1.4zM395.7 162.9h1.4v1.3h-1.4zM397.3 162.9h1.4v1.3h-1.4zM396.5 163.6h1.4v1.3h-1.4zM395.7 164.3h1.4v1.3h-1.4zM397.3 164.3h1.4v1.3h-1.4zM398.9 162.2h1.4v1.3h-1.4zM400.4 162.2h1.4v1.3h-1.4zM398.9 162.9h1.4v1.3h-1.4zM400.4 162.9h1.4v1.3h-1.4zM398.9 163.6h3v1.3h-3zM400.4 164.3h1.4v1.3h-1.4zM400.4 165h1.4v1.3h-1.4z" fill="#ffff00" shape-rendering="geometricPrecision"/>
<polygon points="296.5,171.5 304.5,171.5 304.5,286.5 282.5,286.5 282.5,276.5 296.5,276.5" stroke="#ffffff" stroke-width="1" fill="#4a72a0"/>
<polygon points="372.5,171.5 380.5,171.5 380.5,276.5 396.5,276.5 396.5,286.5 372.5,286.5" stroke="#ffffff" stroke-width="1" fill="#4a72a0"/>
<line x1="301.5" y1="171" x2="301.5" y2="300" stroke="#808080" stroke-width="1"/>
<line x1="375.5" y1="171" x2="375.5" y2="300" stroke="#808080" stroke-width="1"/>
<line x1="282.5" y1="283.5" x2="396.5" y2="283.5" stroke="#808080" stroke-width="1"/>
<line x1="301.5" y1="271.5" x2="375.5" y2="271.5" stroke="#ff0000" stroke-width="1"/>
<line x1="301.5" y1="269" x2="301.5" y2="273" stroke="#ff0000" stroke-width="1"/>
<line x1="375.5" y1="269" x2="375.5" y2="273" stroke="#ff0000" stroke-width="1"/>
<line x1="348.5" y1="241" x2="348.5" y2="283" stroke="#ff0000" stroke-width="1"/>
<line x1="348" y1="241.5" x2="351" y2="241.5" stroke="#ff0000" stroke-width="1"/>
<line x1="304.5" y1="280.5" x2="372.5" y2="280.5" stroke="#00ffff" stroke-width="1"/>
<line x1="282.5" y1="286.5" x2="396.5" y2="286.5" stroke="#00ffff" stroke-width="1"/>
<polygon points="333,265 341,265 337,270" stroke="#ffbf00" stroke-width="1" fill="none"/>
<line x1="333" y1="265.5" x2="349" y2="265.5" stroke="#ffbf00" stroke-width="1"/>
<path d="M335.8 261.4h2.2v1.3h-2.2zM338 259.8h2.2v1.3h-2.2zM338 260.6h1.1v1.3h-1.1zM339.1 260.6h1.1v1.3h-1.1zM338 261.4h1.1v1.3h-1.1zM339.1 261.4h1.1v1.3h-1.1zM338 262.3h1.1v1.3h-1.1zM339.1 262.3h1.1v1.3h-1.1zM338 263.1h2.2v1.3h-2.2zM340.8 263.1h1.1v1.3h-1.1zM342.5 259.8h2.2v1.3h-2.2zM342.5 260.6h1.1v1.3h-1.1zM343.7 260.6h1.1v1.3h-1.1zM342.5 261.4h1.1v1.3h-1.1zM343.7 261.4h1.1v1.3h-1.1zM342.5 262.3h1.1v1.3h-1.1zM343.7 262.3h1.1v1.3h-1.1zM342.5 263.1h2.2v1.3h-2.2zM344.8 259.8h2.2v1.3h-2.2zM345.9 260.6h1.1v1.3h-1.1zM344.8 261.4h2.2v1.3h-2.2zM345.9 262.3h1.1v1.3h-1.1zM344.8 263.1h2.2v1.3h-2.2zM347.1 259.8h2.2v1.3h-2.2zM347.1 260.6h1.1v1.3h-1.1zM348.2 260.6h1.1v1.3h-1.1zM347.1 261.4h1.1v1.3h-1.1zM348.2 261.4h1.1v1.3h-1.1zM347.1 262.3h1.1v1.3h-1.1zM348.2 262.3h1.1v1.3h-1.1zM347.1 263.1h2.2v1.3h-2.2z" fill="#ffbf00" shape-rendering="geometricPrecision"/>
<rect x="321" y="281" width="10.3" height="4" fill="#ffff00"/>
<line x1="296.5" y1="286.5" x2="296.5" y2="300" stroke="#00ffff" stroke-width="1"/>
<line x1="304.5" y1="286.5" x2="304.5" y2="300" stroke="#00ffff" stroke-width="1"/>
<line x1="372.5" y1="286.5" x2="372.5" y2="300" stroke="#00ffff" stroke-width="1"/>
<line x1="380.5" y1="286.5" x2="380.5" y2="300" stroke="#00ffff" stroke-width="1"/>
<polyline points="278.5,300.5 336.5,300.5 337.8,298.7 339.6,303.5 340.5,299.6 341.5,300.5 400.3,300.5" stroke="#ffffff" stroke-width="1" fill="none"/>
<line x1="282.5" y1="287" x2="282.5" y2="305" stroke="#ffffff" stroke-width="1"/>
<line x1="396.5" y1="287" x2="396.5" y2="305" stroke="#ffffff" stroke-width="1"/>
<polyline points="282.5,272 282.5,286.5 284.3,287.8 279.5,289.6 283.4,290.5 282.5,291.5 282.5,292" stroke="#ffffff" stroke-width="1" fill="none"/>
<polyline points="396.5,272 396.5,286.5 398.3,287.8 393.5,289.6 397.4,290.5 396.5,291.5 396.5,292" stroke="#ffffff" stroke-width="1" fill="none"/>
<path d="M313.5 319.5H318.5M315.5 319.5V330.1M320.5 319.5V330.1M318.5 321.5L320.5 319.5" stroke="#ff00ff" stroke-width="1" fill="none"/>
<path d="M324 320.5H329 M325 322.5H329 M325 325.5H327 M324 329.5H327 M324.5 324V329 M327.5 319V329 M328.5 319V331" stroke="#ff00ff" stroke-width="1" fill="none"/>
<path d="M331 320.5H336 M333 322.5H336 M331 325.5H335 M332 327.5H336 M332 329.5H336 M334.5 319V331 M335.5 319V331" stroke="#ff00ff" stroke-width="1" fill="none"/>
<path d="M340 322.5H342 M338 325.5H342 M338 327.5H342 M338 329.5H341 M338.5 319V329 M339.5 321V329 M340.5 319V331" stroke="#ff00ff" stroke-width="1" fill="none"/>
<path d="M344 320.5H348 M344 322.5H347 M344 327.5H347 M344 329.5H349 M344.5 319V326 M345.5 321V326 M347.5 321V331" stroke="#ff00ff" stroke-width="1" fill="none"/>
<path d="M352 320.5H355 M351 322.5H356 M352 325.5H354 M351 327.5H356 M351 329.5H356 M351.5 319V331 M352.5 319V331 M354.5 319V331" stroke="#ff00ff" stroke-width="1" fill="none"/>
<rect x="302.8" y="332" width="74.2" height="2" fill="#ff00ff"/>
<circle cx="509.5" cy="33.4" r="5.8" stroke="#10a8a8" stroke-width="1" fill="none"/>
<path d="M507.6 30.4h3.8v1.6h-3.8zM507.6 31.5h1.6v1.6h-1.6zM509.8 31.5h1.6v1.6h-1.6zM507.6 32.6h3.8v1.6h-3.8zM507.6 33.7h1.6v1.6h-1.6zM509.8 33.7h1.6v1.6h-1.6zM507.6 34.9h3.8v1.6h-3.8z" fill="#ffffff" shape-rendering="geometricPrecision"/>
<circle cx="583.5" cy="33.4" r="5.8" stroke="#10a8a8" stroke-width="1" fill="none"/>
<path d="M580.8 30.4h1.4v1.6h-1.4zM579.8 31.5h2.4v1.6h-2.4zM580.8 32.6h1.4v1.6h-1.4zM580.8 33.7h1.4v1.6h-1.4zM579.8 34.9h3.4v1.6h-3.4zM583.8 30.4h3.4v1.6h-3.4zM583.8 31.5h1.4v1.6h-1.4zM585.7 31.5h1.4v1.6h-1.4zM583.8 32.6h1.4v1.6h-1.4zM585.7 32.6h1.4v1.6h-1.4zM583.8 33.7h1.4v1.6h-1.4zM585.7 33.7h1.4v1.6h-1.4zM583.8 34.9h3.4v1.6h-3.4z" fill="#ffffff" shape-rendering="geometricPrecision"/>
<line x1="509.5" y1="39.5" x2="509.5" y2="70" stroke="#00ff00" stroke-width="1"/>
<line x1="583.5" y1="39.5" x2="583.5" y2="70" stroke="#00ff00" stroke-width="1"/>
<line x1="507.5" y1="45.5" x2="585.5" y2="45.5" stroke="#00ff00" stroke-width="1"/>
<line x1="507.9" y1="47.1" x2="511.1" y2="43.9" stroke="#00ff00" stroke-width="1.2"/>
<line x1="581.9" y1="47.1" x2="585.1" y2="43.9" stroke="#00ff00" stroke-width="1.2"/>
<line x1="507.5" y1="55.5" x2="585.5" y2="55.5" stroke="#00ff00" stroke-width="1"/>
<line x1="507.9" y1="57.1" x2="511.1" y2="53.9" stroke="#00ff00" stroke-width="1.2"/>
<line x1="510.9" y1="57.1" x2="514.1" y2="53.9" stroke="#00ff00" stroke-width="1.2"/>
<line x1="545.9" y1="57.1" x2="549.1" y2="53.9" stroke="#00ff00" stroke-width="1.2"/>
<line x1="578.9" y1="57.1" x2="582.1" y2="53.9" stroke="#00ff00" stroke-width="1.2"/>
<line x1="581.9" y1="57.1" x2="585.1" y2="53.9" stroke="#00ff00" stroke-width="1.2"/>
<line x1="512.5" y1="54" x2="512.5" y2="70" stroke="#00ff00" stroke-width="1"/>
<line x1="547.5" y1="54" x2="547.5" y2="70" stroke="#00ff00" stroke-width="1"/>
<line x1="580.5" y1="54" x2="580.5" y2="70" stroke="#00ff00" stroke-width="1"/>
<path d="M541.8 39.8h2v1.3h-2zM542.8 40.7h1v1.3h-1zM541.8 41.6h2v1.3h-2zM542.8 42.5h1v1.3h-1zM541.8 43.4h2v1.3h-2zM543.9 39.8h2v1.3h-2zM545 40.7h1v1.3h-1zM544.4 41.6h1v1.3h-1zM544.4 42.5h1v1.3h-1zM544.4 43.4h1v1.3h-1zM546 39.8h2v1.3h-2zM546 40.7h1v1.3h-1zM547.1 40.7h1v1.3h-1zM546 41.6h1v1.3h-1zM547.1 41.6h1v1.3h-1zM546 42.5h1v1.3h-1zM547.1 42.5h1v1.3h-1zM546 43.4h2v1.3h-2zM548.2 39.8h2v1.3h-2zM548.2 40.7h1v1.3h-1zM549.2 40.7h1v1.3h-1zM548.2 41.6h1v1.3h-1zM549.2 41.6h1v1.3h-1zM548.2 42.5h1v1.3h-1zM549.2 42.5h1v1.3h-1zM548.2 43.4h2v1.3h-2z" fill="#ffffff" shape-rendering="geometricPrecision"/>
<path d="M507.3 50.8h1.9v1.2h-1.9zM508.3 51.6h0.9v1.2h-0.9zM507.3 52.4h1.9v1.2h-1.9zM507.3 53.2h0.9v1.2h-0.9zM507.3 54h1.9v1.2h-1.9zM509.3 50.8h1.9v1.2h-1.9zM509.3 51.6h0.9v1.2h-0.9zM510.3 51.6h0.9v1.2h-0.9zM509.3 52.4h0.9v1.2h-0.9zM510.3 52.4h0.9v1.2h-0.9zM509.3 53.2h0.9v1.2h-0.9zM510.3 53.2h0.9v1.2h-0.9zM509.3 54h1.9v1.2h-1.9zM511.3 50.8h1.9v1.2h-1.9zM511.3 51.6h0.9v1.2h-0.9zM512.3 51.6h0.9v1.2h-0.9zM511.3 52.4h0.9v1.2h-0.9zM512.3 52.4h0.9v1.2h-0.9zM511.3 53.2h0.9v1.2h-0.9zM512.3 53.2h0.9v1.2h-0.9zM511.3 54h1.9v1.2h-1.9z" fill="#ffffff" shape-rendering="geometricPrecision"/>
<path d="M526.2 50.8h0.9v1.2h-0.9zM525.8 51.6h1.4v1.2h-1.4zM526.2 52.4h0.9v1.2h-0.9zM526.2 53.2h0.9v1.2h-0.9zM525.8 54h1.8v1.2h-1.8zM527.6 50.8h1.8v1.2h-1.8zM527.6 51.6h0.9v1.2h-0.9zM527.6 52.4h1.8v1.2h-1.8zM527.6 53.2h0.9v1.2h-0.9zM528.6 53.2h0.9v1.2h-0.9zM527.6 54h1.8v1.2h-1.8zM529.5 50.8h1.8v1.2h-1.8zM529.5 51.6h0.9v1.2h-0.9zM529.5 52.4h1.8v1.2h-1.8zM530.4 53.2h0.9v1.2h-0.9zM529.5 54h1.8v1.2h-1.8zM531.4 50.8h1.8v1.2h-1.8zM531.4 51.6h0.9v1.2h-0.9zM532.3 51.6h0.9v1.2h-0.9zM531.4 52.4h0.9v1.2h-0.9zM532.3 52.4h0.9v1.2h-0.9zM531.4 53.2h0.9v1.2h-0.9zM532.3 53.2h0.9v1.2h-0.9zM531.4 54h1.8v1.2h-1.8z" fill="#ffffff" shape-rendering="geometricPrecision"/>
<path d="M560.2 50.8h0.9v1.2h-0.9zM559.8 51.6h1.4v1.2h-1.4zM560.2 52.4h0.9v1.2h-0.9zM560.2 53.2h0.9v1.2h-0.9zM559.8 54h1.8v1.2h-1.8zM561.6 50.8h1.8v1.2h-1.8zM561.6 51.6h0.9v1.2h-0.9zM561.6 52.4h1.8v1.2h-1.8zM561.6 53.2h0.9v1.2h-0.9zM562.6 53.2h0.9v1.2h-0.9zM561.6 54h1.8v1.2h-1.8zM563.5 50.8h1.8v1.2h-1.8zM563.5 51.6h0.9v1.2h-0.9zM563.5 52.4h1.8v1.2h-1.8zM564.4 53.2h0.9v1.2h-0.9zM563.5 54h1.8v1.2h-1.8zM565.4 50.8h1.8v1.2h-1.8zM565.4 51.6h0.9v1.2h-0.9zM566.3 51.6h0.9v1.2h-0.9zM565.4 52.4h0.9v1.2h-0.9zM566.3 52.4h0.9v1.2h-0.9zM565.4 53.2h0.9v1.2h-0.9zM566.3 53.2h0.9v1.2h-0.9zM565.4 54h1.8v1.2h-1.8z" fill="#ffffff" shape-rendering="geometricPrecision"/>
<path d="M580.3 50.8h1.9v1.2h-1.9zM581.3 51.6h0.9v1.2h-0.9zM580.3 52.4h1.9v1.2h-1.9zM580.3 53.2h0.9v1.2h-0.9zM580.3 54h1.9v1.2h-1.9zM582.3 50.8h1.9v1.2h-1.9zM582.3 51.6h0.9v1.2h-0.9zM583.3 51.6h0.9v1.2h-0.9zM582.3 52.4h0.9v1.2h-0.9zM583.3 52.4h0.9v1.2h-0.9zM582.3 53.2h0.9v1.2h-0.9zM583.3 53.2h0.9v1.2h-0.9zM582.3 54h1.9v1.2h-1.9zM584.3 50.8h1.9v1.2h-1.9zM584.3 51.6h0.9v1.2h-0.9zM585.3 51.6h0.9v1.2h-0.9zM584.3 52.4h0.9v1.2h-0.9zM585.3 52.4h0.9v1.2h-0.9zM584.3 53.2h0.9v1.2h-0.9zM585.3 53.2h0.9v1.2h-0.9zM584.3 54h1.9v1.2h-1.9z" fill="#ffffff" shape-rendering="geometricPrecision"/>
<circle cx="453.6" cy="72.9" r="5.8" stroke="#10a8a8" stroke-width="1" fill="none"/>
<path d="M451.7 69.9h3.8v1.6h-3.8zM451.7 71h1.6v1.6h-1.6zM451.7 72.1h1.6v1.6h-1.6zM453.9 72.1h1.6v1.6h-1.6zM451.7 73.2h1.6v1.6h-1.6zM453.9 73.2h1.6v1.6h-1.6zM451.7 74.4h3.8v1.6h-3.8z" fill="#ffffff" shape-rendering="geometricPrecision"/>
<circle cx="453.6" cy="283.6" r="5.8" stroke="#10a8a8" stroke-width="1" fill="none"/>
<path d="M451.7 280.6h3.8v1.6h-3.8zM451.7 281.7h1.6v1.6h-1.6zM451.7 282.8h3.8v1.6h-3.8zM451.7 283.9h1.6v1.6h-1.6zM451.7 285.1h3.8v1.6h-3.8z" fill="#ffffff" shape-rendering="geometricPrecision"/>
<line x1="459.5" y1="72.5" x2="504" y2="72.5" stroke="#00ff00" stroke-width="1"/>
<line x1="459.5" y1="283.5" x2="490" y2="283.5" stroke="#00ff00" stroke-width="1"/>
<line x1="466.5" y1="72" x2="466.5" y2="284" stroke="#00ff00" stroke-width="1"/>
<line x1="477.5" y1="72" x2="477.5" y2="284" stroke="#00ff00" stroke-width="1"/>
<line x1="464.9" y1="74.1" x2="468.1" y2="70.9" stroke="#00ff00" stroke-width="1.2"/>
<line x1="464.9" y1="285.1" x2="468.1" y2="281.9" stroke="#00ff00" stroke-width="1.2"/>
<line x1="475.9" y1="74.1" x2="479.1" y2="70.9" stroke="#00ff00" stroke-width="1.2"/>
<line x1="475.9" y1="114.1" x2="479.1" y2="110.9" stroke="#00ff00" stroke-width="1.2"/>
<line x1="475.9" y1="119.1" x2="479.1" y2="115.9" stroke="#00ff00" stroke-width="1.2"/>
<line x1="475.9" y1="126.1" x2="479.1" y2="122.9" stroke="#00ff00" stroke-width="1.2"/>
<line x1="475.9" y1="176.1" x2="479.1" y2="172.9" stroke="#00ff00" stroke-width="1.2"/>
<line x1="475.9" y1="183.1" x2="479.1" y2="179.9" stroke="#00ff00" stroke-width="1.2"/>
<line x1="475.9" y1="233.1" x2="479.1" y2="229.9" stroke="#00ff00" stroke-width="1.2"/>
<line x1="475.9" y1="240.1" x2="479.1" y2="236.9" stroke="#00ff00" stroke-width="1.2"/>
<line x1="475.9" y1="245.1" x2="479.1" y2="241.9" stroke="#00ff00" stroke-width="1.2"/>
<line x1="475.9" y1="285.1" x2="479.1" y2="281.9" stroke="#00ff00" stroke-width="1.2"/>
<line x1="477" y1="112.5" x2="503" y2="112.5" stroke="#00ff00" stroke-width="1"/>
<line x1="477" y1="117.5" x2="505" y2="117.5" stroke="#00ff00" stroke-width="1"/>
<line x1="477" y1="124.5" x2="510" y2="124.5" stroke="#00ff00" stroke-width="1"/>
<line x1="477" y1="174.5" x2="504" y2="174.5" stroke="#00ff00" stroke-width="1"/>
<line x1="477" y1="181.5" x2="504" y2="181.5" stroke="#00ff00" stroke-width="1"/>
<line x1="477" y1="231.5" x2="512" y2="231.5" stroke="#00ff00" stroke-width="1"/>
<line x1="477" y1="238.5" x2="512" y2="238.5" stroke="#00ff00" stroke-width="1"/>
<line x1="477" y1="243.5" x2="504" y2="243.5" stroke="#00ff00" stroke-width="1"/>
<path d="M460.2 181.2h1.3v1h-1.3zM460.2 180.7h1.3v1h-1.3zM461.9 180.7h3v1h-3zM460.2 180.1h2.2v1h-2.2zM460.2 179.1h1.3v1h-1.3zM460.2 178.6h1.3v1h-1.3zM461.9 178.6h3v1h-3zM460.2 178.1h2.2v1h-2.2zM460.2 177.1h4.7v1h-4.7zM460.2 176.5h1.3v1h-1.3zM463.6 176.5h1.3v1h-1.3zM460.2 176h4.7v1h-4.7zM460.2 175h4.7v1h-4.7zM460.2 174.5h1.3v1h-1.3zM463.6 174.5h1.3v1h-1.3zM460.2 174h4.7v1h-4.7z" fill="#ffffff" shape-rendering="geometricPrecision"/>
<path d="M472.9 97.7h1.1v1h-1.1zM474.9 97.7h1.1v1h-1.1zM472.2 97.1h3.8v1h-3.8zM474.9 96.6h1.1v1h-1.1zM472.2 95.4h2.5v1h-2.5zM474.9 95.4h1.1v1h-1.1zM472.2 94.9h1.1v1h-1.1zM473.5 94.9h1.1v1h-1.1zM474.9 94.9h1.1v1h-1.1zM472.2 94.3h1.1v1h-1.1zM473.5 94.3h2.5v1h-2.5zM472.2 93.2h3.8v1h-3.8zM472.2 92.6h1.1v1h-1.1zM474.9 92.6h1.1v1h-1.1zM472.2 92h3.8v1h-3.8zM472.2 90.9h3.8v1h-3.8zM472.2 90.3h1.1v1h-1.1zM474.9 90.3h1.1v1h-1.1zM472.2 89.8h3.8v1h-3.8z" fill="#ffffff" shape-rendering="geometricPrecision"/>
<path d="M472.2 122h3.8v1.4h-3.8zM472.2 121h1.1v1.4h-1.1zM473.5 121h1.1v1.4h-1.1zM474.9 121h1.1v1.4h-1.1zM472.2 120h1.1v1.4h-1.1zM473.5 120h2.5v1.4h-2.5zM472.2 117.9h3.8v1.4h-3.8zM472.2 116.9h1.1v1.4h-1.1zM474.9 116.9h1.1v1.4h-1.1zM472.2 115.9h3.8v1.4h-3.8zM472.2 113.9h3.8v1.4h-3.8zM472.2 112.9h1.1v1.4h-1.1zM474.9 112.9h1.1v1.4h-1.1zM472.2 111.9h3.8v1.4h-3.8z" fill="#ffffff" shape-rendering="geometricPrecision"/>
<path d="M472.2 154.7h1.1v0.9h-1.1zM473.5 154.7h2.5v0.9h-2.5zM472.2 154.2h1.1v0.9h-1.1zM473.5 154.2h1.1v0.9h-1.1zM474.9 154.2h1.1v0.9h-1.1zM472.2 153.8h2.5v0.9h-2.5zM474.9 153.8h1.1v0.9h-1.1zM472.2 152.8h3.8v0.9h-3.8zM472.2 152.3h1.1v0.9h-1.1zM473.5 152.3h1.1v0.9h-1.1zM474.9 152.3h1.1v0.9h-1.1zM472.2 151.9h3.8v0.9h-3.8zM472.2 150.9h2.5v0.9h-2.5zM474.9 150.9h1.1v0.9h-1.1zM472.2 150.4h1.1v0.9h-1.1zM473.5 150.4h1.1v0.9h-1.1zM474.9 150.4h1.1v0.9h-1.1zM472.2 150h1.1v0.9h-1.1zM473.5 150h2.5v0.9h-2.5zM472.2 149h3.8v0.9h-3.8zM472.2 148.5h1.1v0.9h-1.1zM474.9 148.5h1.1v0.9h-1.1zM472.2 148.1h3.8v0.9h-3.8zM472.9 147.1h1.1v0.9h-1.1zM474.2 147.1h1.1v0.9h-1.1zM473.5 146.6h1.1v0.9h-1.1zM472.9 146.2h1.1v0.9h-1.1zM474.2 146.2h1.1v0.9h-1.1zM472.2 145.2h3.8v0.9h-3.8zM472.2 144.7h1.1v0.9h-1.1zM473.5 144.7h1.1v0.9h-1.1zM474.9 144.7h1.1v0.9h-1.1zM472.2 144.3h3.8v0.9h-3.8zM472.9 143.3h1.1v0.9h-1.1zM474.2 143.3h1.1v0.9h-1.1zM472.9 142.8h1.1v0.9h-1.1zM474.2 142.8h1.1v0.9h-1.1zM472.9 142.4h1.1v0.9h-1.1zM474.2 142.4h1.1v0.9h-1.1zM472.2 141.4h1.1v0.9h-1.1zM473.5 141.4h2.5v0.9h-2.5zM472.2 140.9h1.1v0.9h-1.1zM473.5 140.9h1.1v0.9h-1.1zM474.9 140.9h1.1v0.9h-1.1zM472.2 140.5h2.5v0.9h-2.5zM474.9 140.5h1.1v0.9h-1.1zM472.2 139.5h2.5v0.9h-2.5zM473.5 139h1.1v0.9h-1.1zM472.2 138.6h3.8v0.9h-3.8zM472.2 137.6h3.8v0.9h-3.8zM472.2 137.2h1.1v0.9h-1.1zM474.9 137.2h1.1v0.9h-1.1zM472.2 136.7h3.8v0.9h-3.8zM472.2 135.7h3.8v0.9h-3.8zM472.2 135.3h1.1v0.9h-1.1zM474.9 135.3h1.1v0.9h-1.1zM472.2 134.8h3.8v0.9h-3.8z" fill="#ffffff" shape-rendering="geometricPrecision"/>
<path d="M472.2 180.2h3.8v1.1h-3.8zM472.2 179.5h1.1v1.1h-1.1zM473.5 179.5h1.1v1.1h-1.1zM474.9 179.5h1.1v1.1h-1.1zM472.2 178.9h1.1v1.1h-1.1zM473.5 178.9h2.5v1.1h-2.5zM472.2 177.7h3.8v1.1h-3.8zM472.2 177.1h1.1v1.1h-1.1zM474.9 177.1h1.1v1.1h-1.1zM472.2 176.5h3.8v1.1h-3.8zM472.2 175.2h3.8v1.1h-3.8zM472.2 174.6h1.1v1.1h-1.1zM474.9 174.6h1.1v1.1h-1.1zM472.2 174h3.8v1.1h-3.8z" fill="#ffffff" shape-rendering="geometricPrecision"/>
<path d="M472.2 218.7h1.1v0.9h-1.1zM473.5 218.7h2.5v0.9h-2.5zM472.2 218.3h1.1v0.9h-1.1zM473.5 218.3h1.1v0.9h-1.1zM474.9 218.3h1.1v0.9h-1.1zM472.2 217.8h2.5v0.9h-2.5zM474.9 217.8h1.1v0.9h-1.1zM472.2 216.9h3.8v0.9h-3.8zM472.2 216.4h1.1v0.9h-1.1zM473.5 216.4h1.1v0.9h-1.1zM474.9 216.4h1.1v0.9h-1.1zM472.2 216h3.8v0.9h-3.8zM472.2 215.1h2.5v0.9h-2.5zM474.9 215.1h1.1v0.9h-1.1zM472.2 214.6h1.1v0.9h-1.1zM473.5 214.6h1.1v0.9h-1.1zM474.9 214.6h1.1v0.9h-1.1zM472.2 214.2h1.1v0.9h-1.1zM473.5 214.2h2.5v0.9h-2.5zM472.2 213.3h3.8v0.9h-3.8zM472.2 212.8h1.1v0.9h-1.1zM474.9 212.8h1.1v0.9h-1.1zM472.2 212.3h3.8v0.9h-3.8zM472.9 211.4h1.1v0.9h-1.1zM474.2 211.4h1.1v0.9h-1.1zM473.5 211h1.1v0.9h-1.1zM472.9 210.5h1.1v0.9h-1.1zM474.2 210.5h1.1v0.9h-1.1zM472.2 209.6h3.8v0.9h-3.8zM472.2 209.2h1.1v0.9h-1.1zM473.5 209.2h1.1v0.9h-1.1zM474.9 209.2h1.1v0.9h-1.1zM472.2 208.7h3.8v0.9h-3.8zM472.9 207.8h1.1v0.9h-1.1zM474.2 207.8h1.1v0.9h-1.1zM472.9 207.3h1.1v0.9h-1.1zM474.2 207.3h1.1v0.9h-1.1zM472.9 206.9h1.1v0.9h-1.1zM474.2 206.9h1.1v0.9h-1.1zM472.2 206h1.1v0.9h-1.1zM473.5 206h2.5v0.9h-2.5zM472.2 205.5h1.1v0.9h-1.1zM473.5 205.5h1.1v0.9h-1.1zM474.9 205.5h1.1v0.9h-1.1zM472.2 205h2.5v0.9h-2.5zM474.9 205h1.1v0.9h-1.1zM472.2 204.1h2.5v0.9h-2.5zM473.5 203.7h1.1v0.9h-1.1zM472.2 203.2h3.8v0.9h-3.8zM472.2 202.3h3.8v0.9h-3.8zM472.2 201.9h1.1v0.9h-1.1zM474.9 201.9h1.1v0.9h-1.1zM472.2 201.4h3.8v0.9h-3.8zM472.2 200.5h3.8v0.9h-3.8zM472.2 200h1.1v0.9h-1.1zM474.9 200h1.1v0.9h-1.1zM472.2 199.6h3.8v0.9h-3.8z" fill="#ffffff" shape-rendering="geometricPrecision"/>
<path d="M472.2 242h3.8v1.4h-3.8zM472.2 241h1.1v1.4h-1.1zM473.5 241h1.1v1.4h-1.1zM474.9 241h1.1v1.4h-1.1zM472.2 240h1.1v1.4h-1.1zM473.5 240h2.5v1.4h-2.5zM472.2 237.9h3.8v1.4h-3.8zM472.2 236.9h1.1v1.4h-1.1zM474.9 236.9h1.1v1.4h-1.1zM472.2 235.9h3.8v1.4h-3.8zM472.2 233.9h3.8v1.4h-3.8zM472.2 232.9h1.1v1.4h-1.1zM474.9 232.9h1.1v1.4h-1.1zM472.2 231.9h3.8v1.4h-3.8z" fill="#ffffff" shape-rendering="geometricPrecision"/>
<path d="M472.9 266.7h1.1v1h-1.1zM474.9 266.7h1.1v1h-1.1zM472.2 266.2h3.8v1h-3.8zM474.9 265.6h1.1v1h-1.1zM472.2 264.6h3.8v1h-3.8zM472.2 264.1h1.1v1h-1.1zM473.5 264.1h1.1v1h-1.1zM474.9 264.1h1.1v1h-1.1zM472.2 263.6h3.8v1h-3.8zM472.2 262.6h3.8v1h-3.8zM472.2 262h1.1v1h-1.1zM474.9 262h1.1v1h-1.1zM472.2 261.5h3.8v1h-3.8zM472.2 260.5h3.8v1h-3.8zM472.2 260h1.1v1h-1.1zM474.9 260h1.1v1h-1.1zM472.2 259.5h3.8v1h-3.8z" fill="#ffffff" shape-rendering="geometricPrecision"/>
<polygon points="504.5,70.5 604.5,70.5 604.5,83.5 575.5,83.5 575.5,81.5 517.5,81.5 517.5,83.5 504.5,83.5" stroke="#ffffff" stroke-width="1" fill="#4a72a0"/>
<line x1="504.5" y1="72.5" x2="604.5" y2="72.5" stroke="#808080" stroke-width="1"/>
<polyline points="604.5,66 604.5,72.5 606.3,73.8 601.5,75.6 605.4,76.5 604.5,77.5 604.5,88" stroke="#ffffff" stroke-width="1" fill="none"/>
<line x1="509.5" y1="72" x2="509.5" y2="300" stroke="#808080" stroke-width="1"/>
<line x1="583.5" y1="72" x2="583.5" y2="300" stroke="#808080" stroke-width="1"/>
<line x1="509.5" y1="88.5" x2="583.5" y2="88.5" stroke="#ff0000" stroke-width="1"/>
<line x1="509.5" y1="86" x2="509.5" y2="90" stroke="#ff0000" stroke-width="1"/>
<line x1="583.5" y1="86" x2="583.5" y2="90" stroke="#ff0000" stroke-width="1"/>
<line x1="554.5" y1="73" x2="554.5" y2="113" stroke="#ff0000" stroke-width="1"/>
<line x1="554" y1="113.5" x2="557" y2="113.5" stroke="#ff0000" stroke-width="1"/>
<line x1="506.5" y1="83.5" x2="506.5" y2="117" stroke="#00ffff" stroke-width="1"/>
<line x1="512.5" y1="83.5" x2="512.5" y2="171" stroke="#00ffff" stroke-width="1"/>
<line x1="580.5" y1="83.5" x2="580.5" y2="171" stroke="#00ffff" stroke-width="1"/>
<line x1="586.5" y1="83.5" x2="586.5" y2="117" stroke="#00ffff" stroke-width="1"/>
<line x1="512.5" y1="112.5" x2="580.5" y2="112.5" stroke="#00ffff" stroke-width="1"/>
<line x1="505" y1="117.5" x2="587" y2="117.5" stroke="#00ffff" stroke-width="1"/>
<rect x="506.5" y="113.5" width="6" height="6" fill="none" stroke="#ff0000" stroke-width="1"/>
<rect x="580.5" y="113.5" width="6" height="6" fill="none" stroke="#ff0000" stroke-width="1"/>
<path d="M500.8 119.8h2.1v1.2h-2.1zM501.3 120.6h1v1.2h-1zM501.3 121.4h1v1.2h-1zM501.3 122.2h1v1.2h-1zM501.3 123h1v1.2h-1zM503 119.8h2.1v1.2h-2.1zM504.1 120.6h1v1.2h-1zM503.5 121.4h1v1.2h-1zM503 122.2h1v1.2h-1zM503 123h2.1v1.2h-2.1zM505.7 119.8h1v1.2h-1zM505.1 120.6h1.5v1.2h-1.5zM505.7 121.4h1v1.2h-1zM505.7 122.2h1v1.2h-1zM505.1 123h2.1v1.2h-2.1z" fill="#ffffff" shape-rendering="geometricPrecision"/>
<path d="M587.8 119.8h2.1v1.2h-2.1zM588.3 120.6h1v1.2h-1zM588.3 121.4h1v1.2h-1zM588.3 122.2h1v1.2h-1zM588.3 123h1v1.2h-1zM590 119.8h2.1v1.2h-2.1zM591.1 120.6h1v1.2h-1zM590.5 121.4h1v1.2h-1zM590 122.2h1v1.2h-1zM590 123h2.1v1.2h-2.1zM592.7 119.8h1v1.2h-1zM592.1 120.6h1.5v1.2h-1.5zM592.7 121.4h1v1.2h-1zM592.7 122.2h1v1.2h-1zM592.1 123h2.1v1.2h-2.1z" fill="#ffffff" shape-rendering="geometricPrecision"/>
<path d="M490.8 104.3h1.1v1.3h-1.1zM491.8 104.3h1.1v1.3h-1.1zM491.3 103.5h1.1v1.3h-1.1zM490.8 102.8h1.1v1.3h-1.1zM491.8 102.8h1.1v1.3h-1.1zM490.8 101.3h2.1v1.3h-2.1zM490.3 100.5h1.1v1.3h-1.1zM492.3 100.5h1.1v1.3h-1.1zM490.8 98.3h2.1v1.3h-2.1zM490.3 97.6h1.1v1.3h-1.1zM492.3 97.6h1.1v1.3h-1.1zM491.8 95.4h1.6v1.3h-1.6zM492.3 94.6h1.1v1.3h-1.1zM490.3 93.9h3.1v1.3h-3.1zM490.3 92.4h3.1v1.3h-3.1zM490.3 91.6h1.1v1.3h-1.1zM492.3 91.6h1.1v1.3h-1.1zM490.8 90.9h2.1v1.3h-2.1zM490.3 89.4h3.1v1.3h-3.1zM490.3 88.7h1.1v1.3h-1.1zM491.3 88.7h1.1v1.3h-1.1zM492.3 88.7h1.1v1.3h-1.1zM490.3 87.9h1.1v1.3h-1.1zM491.3 87.9h1.1v1.3h-1.1zM492.3 87.9h1.1v1.3h-1.1zM490.3 86.5h1.1v1.3h-1.1zM490.3 85.7h3.1v1.3h-3.1zM490.3 85h1.1v1.3h-1.1zM490.3 83.5h3.1v1.3h-3.1zM490.3 82.7h1.1v1.3h-1.1zM491.3 82.7h1.1v1.3h-1.1zM492.3 82.7h1.1v1.3h-1.1zM490.3 82h1.1v1.3h-1.1zM491.3 82h1.1v1.3h-1.1zM492.3 82h1.1v1.3h-1.1z" fill="#ffff00" shape-rendering="geometricPrecision"/>
<path d="M493.5 104.2h3.1v1.4h-3.1zM494 103.5h1.1v1.4h-1.1zM495 103.5h1.1v1.4h-1.1zM493.5 102.7h1.1v1.4h-1.1zM495.5 102.7h1.1v1.4h-1.1zM494 101.2h1.1v1.4h-1.1zM495 101.2h1.1v1.4h-1.1zM494 100.4h1.1v1.4h-1.1zM495 100.4h1.1v1.4h-1.1zM494 99.7h1.1v1.4h-1.1zM495 99.7h1.1v1.4h-1.1zM493.5 98.1h3.1v1.4h-3.1zM494 97.4h1.1v1.4h-1.1zM495 97.4h1.1v1.4h-1.1zM493.5 96.6h1.1v1.4h-1.1zM495.5 96.6h1.1v1.4h-1.1zM493.5 95.1h2.1v1.4h-2.1zM495.5 95.1h1.1v1.4h-1.1zM493.5 94.3h1.1v1.4h-1.1zM494.5 94.3h1.1v1.4h-1.1zM495.5 94.3h1.1v1.4h-1.1zM493.5 93.6h1.1v1.4h-1.1zM494.5 93.6h2.1v1.4h-2.1zM493.5 92h3.1v1.4h-3.1zM495.5 91.3h1.1v1.4h-1.1zM495.5 90.5h1.1v1.4h-1.1zM493.5 89h3.1v1.4h-3.1zM493.5 88.2h1.1v1.4h-1.1zM495.5 88.2h1.1v1.4h-1.1zM493.5 87.5h3.1v1.4h-3.1zM493.5 86h3.1v1.4h-3.1zM493.5 85.2h1.1v1.4h-1.1zM495.5 85.2h1.1v1.4h-1.1zM493.5 84.4h3.1v1.4h-3.1z" fill="#ffff00" shape-rendering="geometricPrecision"/>
<path d="M496.6 104.2h2.6v1.4h-2.6zM498.6 103.4h1.1v1.4h-1.1zM496.6 102.6h2.6v1.4h-2.6zM496.6 100.2h1.1v1.4h-1.1zM498.6 100.2h1.1v1.4h-1.1zM497.1 99.5h2.1v1.4h-2.1zM496.6 97.9h2.1v1.4h-2.1zM497.6 97.1h1.1v1.4h-1.1zM496.6 96.3h3.1v1.4h-3.1zM496.6 94.7h2.1v1.4h-2.1zM498.6 94.7h1.1v1.4h-1.1zM496.6 93.9h1.1v1.4h-1.1zM497.6 93.9h1.1v1.4h-1.1zM498.6 93.9h1.1v1.4h-1.1zM496.6 93.1h3.1v1.4h-3.1zM496.6 91.5h1.1v1.4h-1.1zM498.1 91.5h1.6v1.4h-1.6zM496.6 90.7h1.1v1.4h-1.1zM497.6 90.7h1.1v1.4h-1.1zM498.6 90.7h1.1v1.4h-1.1zM496.6 90h1.6v1.4h-1.6zM498.6 90h1.1v1.4h-1.1z" fill="#ffff00" shape-rendering="geometricPrecision"/>
<path d="M499.8 104.3h1.1v1.3h-1.1zM500.8 104.3h2.1v1.3h-2.1zM499.8 103.6h1.1v1.3h-1.1zM500.8 103.6h1.1v1.3h-1.1zM501.8 103.6h1.1v1.3h-1.1zM499.8 102.9h2.1v1.3h-2.1zM501.8 102.9h1.1v1.3h-1.1zM499.8 100.7h1.1v1.3h-1.1zM501.8 100.7h1.1v1.3h-1.1zM500.3 100h2.1v1.3h-2.1zM500.3 98.6h2.1v1.3h-2.1zM499.8 97.9h1.1v1.3h-1.1zM501.8 97.9h1.1v1.3h-1.1zM499.8 95.8h1.6v1.3h-1.6zM500.8 95.1h2.1v1.3h-2.1zM499.8 94.4h1.6v1.3h-1.6zM499.8 92.9h3.1v1.3h-3.1zM499.8 92.2h1.1v1.3h-1.1zM500.8 92.2h1.1v1.3h-1.1zM501.8 92.2h1.1v1.3h-1.1zM499.8 91.5h2.1v1.3h-2.1zM501.8 91.5h1.1v1.3h-1.1zM499.8 90.1h1.1v1.3h-1.1zM500.8 90.1h2.1v1.3h-2.1zM499.8 89.4h1.1v1.3h-1.1zM500.8 89.4h1.1v1.3h-1.1zM501.8 89.4h1.1v1.3h-1.1zM499.8 88.7h2.1v1.3h-2.1zM501.8 88.7h1.1v1.3h-1.1zM500.3 87.3h2.6v1.3h-2.6zM499.8 86.5h1.1v1.3h-1.1zM500.8 86.5h1.1v1.3h-1.1zM500.3 85.8h2.6v1.3h-2.6zM499.8 84.4h3.1v1.3h-3.1zM500.3 83.7h1.6v1.3h-1.6zM499.8 83h3.1v1.3h-3.1z" fill="#ffff00" shape-rendering="geometricPrecision"/>
<line x1="490.3" y1="105.5" x2="510" y2="105.5" stroke="#ffff00" stroke-width="1"/>
<path d="M593.4 104.3h2.5v1.3h-2.5zM593.4 103.6h1v1.3h-1zM594.1 103.6h1v1.3h-1zM594.9 103.6h1v1.3h-1zM593.4 102.9h2.5v1.3h-2.5zM593.4 101.6h2.5v1.3h-2.5zM594.9 100.9h1v1.3h-1zM594.9 100.2h1v1.3h-1zM593.8 98.8h1v1.3h-1zM594.9 98.8h1v1.3h-1zM593.4 98.1h2.5v1.3h-2.5zM594.9 97.4h1v1.3h-1zM593.4 96.1h1.3v1.3h-1.3zM594.1 95.4h1.7v1.3h-1.7zM593.4 94.7h1.3v1.3h-1.3z" fill="#ffff00" shape-rendering="geometricPrecision"/>
<path d="M596.3 104.3h1v1.3h-1zM597.1 104.3h1v1.3h-1zM596.3 103.6h1v1.3h-1zM597.1 103.6h1v1.3h-1zM596.3 102.9h1v1.3h-1zM597.1 102.9h1v1.3h-1zM596 101.6h1v1.3h-1zM596 100.9h1v1.3h-1zM596.7 100.9h1.7v1.3h-1.7zM596 100.2h1.3v1.3h-1.3zM596 98.8h2.1v1.3h-2.1zM596 98.1h1v1.3h-1zM597.1 98.1h1v1.3h-1zM596 97.5h2.5v1.3h-2.5zM596 96.1h2.5v1.3h-2.5zM596.7 95.4h1v1.3h-1zM596 94.7h2.5v1.3h-2.5z" fill="#ffff00" shape-rendering="geometricPrecision"/>
<line x1="586.9" y1="105.5" x2="598.5" y2="105.5" stroke="#ffff00" stroke-width="1"/>
<line x1="532.5" y1="88" x2="532.5" y2="139" stroke="#00ff00" stroke-width="1"/>
<line x1="564.5" y1="88" x2="564.5" y2="139" stroke="#00ff00" stroke-width="1"/>
<path d="M530.5 87.5H534M532.25 87V91M532.85 89l1.2 1" stroke="#ffff00" stroke-width="1.1" fill="none"/>
<path d="M562.5 90.5H566M564.25 87V91M564.25 89h1.6" stroke="#ffff00" stroke-width="1.1" fill="none"/>
<polygon points="537,96.5 545,96.5 541,101.5" stroke="#ffbf00" stroke-width="1" fill="none"/>
<line x1="537" y1="96.5" x2="551" y2="96.5" stroke="#ffbf00" stroke-width="1"/>
<path d="M539.8 91.2h2.2v1.3h-2.2zM540.9 92.1h1.1v1.3h-1.1zM539.8 92.9h2.2v1.3h-2.2zM539.8 93.8h1.1v1.3h-1.1zM539.8 94.6h2.2v1.3h-2.2zM542.6 94.6h1.1v1.3h-1.1zM544.4 91.2h2.2v1.3h-2.2zM544.4 92.1h1.1v1.3h-1.1zM544.4 92.9h2.2v1.3h-2.2zM545.5 93.8h1.1v1.3h-1.1zM544.4 94.6h2.2v1.3h-2.2zM546.7 91.2h2.2v1.3h-2.2zM546.7 92.1h1.1v1.3h-1.1zM547.9 92.1h1.1v1.3h-1.1zM546.7 92.9h1.1v1.3h-1.1zM547.9 92.9h1.1v1.3h-1.1zM546.7 93.8h1.1v1.3h-1.1zM547.9 93.8h1.1v1.3h-1.1zM546.7 94.6h2.2v1.3h-2.2zM549 91.2h2.2v1.3h-2.2zM549 92.1h1.1v1.3h-1.1zM549 92.9h2.2v1.3h-2.2zM550.2 93.8h1.1v1.3h-1.1zM549 94.6h2.2v1.3h-2.2z" fill="#ffbf00" shape-rendering="geometricPrecision"/>
<line x1="512.5" y1="124.5" x2="580.5" y2="124.5" stroke="#ffff00" stroke-width="1"/>
<line x1="512.5" y1="131.5" x2="580.5" y2="131.5" stroke="#ffff00" stroke-width="1"/>
<line x1="512.5" y1="138.5" x2="580.5" y2="138.5" stroke="#ffff00" stroke-width="1"/>
<line x1="512.5" y1="145.5" x2="580.5" y2="145.5" stroke="#ffff00" stroke-width="1"/>
<line x1="512.5" y1="152.5" x2="580.5" y2="152.5" stroke="#ffff00" stroke-width="1"/>
<line x1="512.5" y1="159.5" x2="580.5" y2="159.5" stroke="#ffff00" stroke-width="1"/>
<line x1="512.5" y1="167.5" x2="580.5" y2="167.5" stroke="#ffff00" stroke-width="1"/>
<line x1="512.5" y1="174.5" x2="580.5" y2="174.5" stroke="#00ffff" stroke-width="1"/>
<line x1="512.5" y1="181.5" x2="580.5" y2="181.5" stroke="#00ffff" stroke-width="1"/>
<line x1="512.5" y1="188.5" x2="580.5" y2="188.5" stroke="#ffff00" stroke-width="1"/>
<line x1="512.5" y1="195.5" x2="580.5" y2="195.5" stroke="#ffff00" stroke-width="1"/>
<line x1="512.5" y1="202.5" x2="580.5" y2="202.5" stroke="#ffff00" stroke-width="1"/>
<line x1="512.5" y1="209.5" x2="580.5" y2="209.5" stroke="#ffff00" stroke-width="1"/>
<line x1="512.5" y1="216.5" x2="580.5" y2="216.5" stroke="#ffff00" stroke-width="1"/>
<line x1="512.5" y1="224.5" x2="580.5" y2="224.5" stroke="#ffff00" stroke-width="1"/>
<line x1="512.5" y1="231.5" x2="580.5" y2="231.5" stroke="#ffff00" stroke-width="1"/>
<line x1="512.5" y1="238.5" x2="580.5" y2="238.5" stroke="#00ffff" stroke-width="1"/>
<line x1="512.5" y1="243.5" x2="580.5" y2="243.5" stroke="#00ffff" stroke-width="1"/>
<line x1="547.5" y1="124" x2="547.5" y2="231" stroke="#ffff00" stroke-width="1"/>
<polyline points="513,165 547.5,143" stroke="#ffff00" stroke-width="1" fill="none"/>
<polyline points="513,168 547.5,146" stroke="#ffff00" stroke-width="1" fill="none"/>
<polyline points="547.5,166 580,146" stroke="#ffff00" stroke-width="1" fill="none"/>
<polyline points="547.5,169 580,149" stroke="#ffff00" stroke-width="1" fill="none"/>
<path d="M515 140h3.9v1.3h-3.9zM515 139.2h1.3v1.3h-1.3zM517.6 139.2h1.3v1.3h-1.3zM515.7 138.5h2.6v1.3h-2.6zM515 137h2.6v1.3h-2.6zM517.6 137h1.3v1.3h-1.3zM515 136.3h1.3v1.3h-1.3zM516.3 136.3h1.3v1.3h-1.3zM517.6 136.3h1.3v1.3h-1.3zM515 135.5h1.3v1.3h-1.3zM516.3 135.5h2.6v1.3h-2.6zM515.7 134h1.3v1.3h-1.3zM517.6 134h1.3v1.3h-1.3zM515 133.3h3.9v1.3h-3.9zM517.6 132.6h1.3v1.3h-1.3zM515 131.1h3.2v1.3h-3.2zM517.6 130.4h1.3v1.3h-1.3zM515 129.6h3.2v1.3h-3.2zM515 128.1h3.9v1.3h-3.9zM515.7 127.4h2.6v1.3h-2.6zM515 126.7h3.9v1.3h-3.9zM515 124.4h1.3v1.3h-1.3zM517.6 124.4h1.3v1.3h-1.3zM515.7 123.7h2.6v1.3h-2.6z" fill="#ffff00" shape-rendering="geometricPrecision"/>
<path d="M519 140h3.9v1.3h-3.9zM520.3 139.2h1.3v1.3h-1.3zM519 138.5h3.9v1.3h-3.9zM519 137h3.9v1.3h-3.9zM519 136.2h1.3v1.3h-1.3zM520.3 136.2h1.3v1.3h-1.3zM521.6 136.2h1.3v1.3h-1.3zM519 135.5h3.9v1.3h-3.9zM520.3 134h1.3v1.3h-1.3zM520.3 133.2h1.3v1.3h-1.3zM520.3 132.5h1.3v1.3h-1.3zM519 131h3.9v1.3h-3.9zM519 130.3h1.3v1.3h-1.3zM520.3 130.3h1.3v1.3h-1.3zM519 129.5h2.6v1.3h-2.6z" fill="#ffff00" shape-rendering="geometricPrecision"/>
<path d="M523 139.9h1.3v1.4h-1.3zM525 139.9h1.9v1.4h-1.9zM523 139.1h1.3v1.4h-1.3zM524.3 139.1h1.3v1.4h-1.3zM525.6 139.1h1.3v1.4h-1.3zM523 138.3h1.9v1.4h-1.9zM525.6 138.3h1.3v1.4h-1.3zM523 136.8h1.9v1.4h-1.9zM524.3 136h2.6v1.4h-2.6zM523 135.2h1.9v1.4h-1.9zM523.7 133.6h2.6v1.4h-2.6zM523 132.8h1.9v1.4h-1.9zM525 132.8h1.9v1.4h-1.9zM523.7 132h2.6v1.4h-2.6zM523.7 130.5h1.3v1.4h-1.3zM525.6 130.5h1.3v1.4h-1.3zM523 129.7h3.9v1.4h-3.9zM525.6 128.9h1.3v1.4h-1.3z" fill="#ffff00" shape-rendering="geometricPrecision"/>
<path d="M569 140h3.6v1.3h-3.6zM569 139.2h1.2v1.3h-1.2zM570.2 139.2h1.2v1.3h-1.2zM569.6 138.5h1.2v1.3h-1.2zM570.8 138.5h1.8v1.3h-1.8zM569 137h3v1.3h-3zM571.4 136.3h1.2v1.3h-1.2zM569 135.5h3v1.3h-3zM569.6 134h1.2v1.3h-1.2zM570.8 134h1.2v1.3h-1.2zM569.6 133.3h1.2v1.3h-1.2zM570.8 133.3h1.2v1.3h-1.2zM569.6 132.6h1.2v1.3h-1.2zM570.8 132.6h1.2v1.3h-1.2zM569 131.1h1.2v1.3h-1.2zM569 130.4h3.6v1.3h-3.6zM569 129.6h1.2v1.3h-1.2zM569.6 128.1h1.2v1.3h-1.2zM570.8 128.1h1.2v1.3h-1.2zM570.2 127.4h1.2v1.3h-1.2zM569.6 126.7h1.2v1.3h-1.2zM570.8 126.7h1.2v1.3h-1.2zM570.2 125.2h1.2v1.3h-1.2zM570.2 124.4h1.2v1.3h-1.2zM570.2 123.7h1.2v1.3h-1.2z" fill="#ffff00" shape-rendering="geometricPrecision"/>
<path d="M572.7 139.9h2.4v1.4h-2.4zM575 139.9h1.2v1.4h-1.2zM572.7 139h1.2v1.4h-1.2zM573.9 139h1.2v1.4h-1.2zM575 139h1.2v1.4h-1.2zM572.7 138.2h1.2v1.4h-1.2zM573.9 138.2h2.4v1.4h-2.4zM572.7 136.5h2.4v1.4h-2.4zM575 136.5h1.2v1.4h-1.2zM572.7 135.7h1.2v1.4h-1.2zM573.9 135.7h1.2v1.4h-1.2zM575 135.7h1.2v1.4h-1.2zM572.7 134.8h3.6v1.4h-3.6zM572.7 133.1h3.6v1.4h-3.6zM572.7 132.3h1.2v1.4h-1.2zM575 132.3h1.2v1.4h-1.2zM573.3 131.5h2.4v1.4h-2.4z" fill="#ffff00" shape-rendering="geometricPrecision"/>
<path d="M576.3 139.9h3.6v1.4h-3.6zM576.3 139.2h1.2v1.4h-1.2zM578.7 139.2h1.2v1.4h-1.2zM576.3 138.4h3.6v1.4h-3.6zM576.3 136.9h3.6v1.4h-3.6zM576.3 136.1h1.2v1.4h-1.2zM577.5 136.1h1.2v1.4h-1.2zM578.7 136.1h1.2v1.4h-1.2zM576.3 135.4h2.4v1.4h-2.4zM578.7 135.4h1.2v1.4h-1.2zM576.9 133.9h2.4v1.4h-2.4zM576.3 133.1h1.8v1.4h-1.8zM578.1 133.1h1.8v1.4h-1.8zM576.9 132.3h2.4v1.4h-2.4zM578.1 130.8h1.8v1.4h-1.8zM578.7 130.1h1.2v1.4h-1.2zM576.3 129.3h3.6v1.4h-3.6zM576.3 127.8h1.2v1.4h-1.2zM576.3 127h1.2v1.4h-1.2zM577.5 127h2.4v1.4h-2.4zM576.3 126.3h1.8v1.4h-1.8z" fill="#ffff00" shape-rendering="geometricPrecision"/>
<path d="M514 223h4.2v1.3h-4.2zM514 222.3h1.3v1.3h-1.3zM515.5 222.3h1.3v1.3h-1.3zM514.7 221.6h1.3v1.3h-1.3zM516.2 221.6h2.1v1.3h-2.1zM514 220.2h4.2v1.3h-4.2zM514 219.4h1.3v1.3h-1.3zM516.9 219.4h1.3v1.3h-1.3zM514 218.7h4.2v1.3h-4.2zM514 217.3h1.3v1.3h-1.3zM514 216.6h4.2v1.3h-4.2zM514 215.9h1.3v1.3h-1.3zM514 214.5h4.2v1.3h-4.2zM514.7 213.8h2.8v1.3h-2.8zM514 213.1h4.2v1.3h-4.2zM516.2 211.6h2.1v1.3h-2.1zM516.9 210.9h1.3v1.3h-1.3zM514 210.2h4.2v1.3h-4.2zM514 208.8h4.2v1.3h-4.2zM514 208.1h1.3v1.3h-1.3zM515.5 208.1h1.3v1.3h-1.3zM516.9 208.1h1.3v1.3h-1.3zM514 207.4h1.3v1.3h-1.3zM515.5 207.4h1.3v1.3h-1.3zM516.9 207.4h1.3v1.3h-1.3zM514 206h1.3v1.3h-1.3zM515.5 206h2.8v1.3h-2.8zM514 205.2h1.3v1.3h-1.3zM515.5 205.2h1.3v1.3h-1.3zM516.9 205.2h1.3v1.3h-1.3zM514 204.5h2.8v1.3h-2.8zM516.9 204.5h1.3v1.3h-1.3zM514 203.1h4.2v1.3h-4.2zM516.9 202.4h1.3v1.3h-1.3zM514 201.7h4.2v1.3h-4.2z" fill="#ffff00" shape-rendering="geometricPrecision"/>
<path d="M518.3 223h1.3v1.3h-1.3zM521.2 223h1.3v1.3h-1.3zM518.3 222.3h4.2v1.3h-4.2zM518.3 221.6h1.3v1.3h-1.3zM521.2 221.6h1.3v1.3h-1.3zM518.3 219.6h1.3v1.3h-1.3zM521.2 219.6h1.3v1.3h-1.3zM519.1 218.9h2.8v1.3h-2.8zM518.3 217.5h4.2v1.3h-4.2zM518.3 216.8h1.3v1.3h-1.3zM519.8 216.8h1.3v1.3h-1.3zM521.2 216.8h1.3v1.3h-1.3zM518.3 216.1h1.3v1.3h-1.3zM519.8 216.1h2.8v1.3h-2.8zM518.3 214.8h3.5v1.3h-3.5zM521.2 214.1h1.3v1.3h-1.3zM518.3 213.4h3.5v1.3h-3.5z" fill="#ffff00" shape-rendering="geometricPrecision"/>
<path d="M522.7 222.9h1.3v1.4h-1.3zM525.6 222.9h1.3v1.4h-1.3zM522.7 222.2h4.2v1.4h-4.2zM522.7 221.4h1.3v1.4h-1.3zM525.6 221.4h1.3v1.4h-1.3zM524.1 219.9h1.3v1.4h-1.3zM524.1 219.2h1.3v1.4h-1.3zM524.1 218.4h1.3v1.4h-1.3zM522.7 216.9h4.2v1.4h-4.2zM523.4 216.2h1.3v1.4h-1.3zM524.8 216.2h1.3v1.4h-1.3zM522.7 215.4h1.3v1.4h-1.3zM525.6 215.4h1.3v1.4h-1.3zM522.7 213.9h2.1v1.4h-2.1zM524.1 213.2h2.8v1.4h-2.8zM522.7 212.4h2.1v1.4h-2.1zM522.7 210.9h4.2v1.4h-4.2zM522.7 210.2h1.3v1.4h-1.3zM524.1 210.2h1.3v1.4h-1.3zM525.6 210.2h1.3v1.4h-1.3zM523.4 209.4h1.3v1.4h-1.3zM524.8 209.4h1.3v1.4h-1.3zM523.4 207.9h1.3v1.4h-1.3zM524.8 207.9h1.3v1.4h-1.3zM523.4 207.2h1.3v1.4h-1.3zM524.8 207.2h1.3v1.4h-1.3zM523.4 206.4h1.3v1.4h-1.3zM524.8 206.4h1.3v1.4h-1.3zM522.7 204.9h4.2v1.4h-4.2zM522.7 204.2h1.3v1.4h-1.3zM525.6 204.2h1.3v1.4h-1.3zM522.7 203.4h4.2v1.4h-4.2z" fill="#ffff00" shape-rendering="geometricPrecision"/>
<path d="M570.2 223h1.2v1.3h-1.2zM570.2 222.3h1.2v1.3h-1.2zM570.2 221.6h1.2v1.3h-1.2zM569 220.2h1.8v1.3h-1.8zM570.8 220.2h1.8v1.3h-1.8zM570.2 219.4h1.2v1.3h-1.2zM569 218.7h1.8v1.3h-1.8zM570.8 218.7h1.8v1.3h-1.8zM569 217.3h1.2v1.3h-1.2zM569 216.6h3.6v1.3h-3.6zM569 215.9h1.2v1.3h-1.2zM569 213.8h1.2v1.3h-1.2zM571.4 213.8h1.2v1.3h-1.2zM569.6 213.1h2.4v1.3h-2.4zM569 211.6h3.6v1.3h-3.6zM570.2 210.9h1.8v1.3h-1.8zM569 210.2h3.6v1.3h-3.6zM569 208.8h3.6v1.3h-3.6zM569.6 208.1h1.8v1.3h-1.8zM569 207.4h3.6v1.3h-3.6zM569 206h1.2v1.3h-1.2zM570.2 206h1.2v1.3h-1.2zM571.4 206h1.2v1.3h-1.2zM569 205.2h1.2v1.3h-1.2zM570.2 205.2h1.2v1.3h-1.2zM571.4 205.2h1.2v1.3h-1.2zM569 204.5h3.6v1.3h-3.6zM569 203.1h3.6v1.3h-3.6zM569 202.4h1.2v1.3h-1.2zM570.2 202.4h1.2v1.3h-1.2zM571.4 202.4h1.2v1.3h-1.2zM569 201.7h3.6v1.3h-3.6z" fill="#ffff00" shape-rendering="geometricPrecision"/>
<path d="M572.7 223h3.6v1.3h-3.6zM572.7 222.3h1.2v1.3h-1.2zM573.9 222.3h1.2v1.3h-1.2zM575 222.3h1.2v1.3h-1.2zM572.7 221.6h1.2v1.3h-1.2zM573.9 221.6h1.2v1.3h-1.2zM575 221.6h1.2v1.3h-1.2zM572.7 220.1h1.2v1.3h-1.2zM573.9 220.1h2.4v1.3h-2.4zM572.7 219.4h1.2v1.3h-1.2zM573.9 219.4h1.2v1.3h-1.2zM575 219.4h1.2v1.3h-1.2zM572.7 218.7h2.4v1.3h-2.4zM575 218.7h1.2v1.3h-1.2zM572.7 217.3h1.8v1.3h-1.8zM573.9 216.6h2.4v1.3h-2.4zM572.7 215.8h1.8v1.3h-1.8zM572.7 214.4h3.6v1.3h-3.6zM573.3 213.7h1.2v1.3h-1.2zM574.4 213.7h1.2v1.3h-1.2zM572.7 213h1.2v1.3h-1.2zM575 213h1.2v1.3h-1.2zM573.3 211.6h1.2v1.3h-1.2zM574.4 211.6h1.2v1.3h-1.2zM573.9 210.8h1.2v1.3h-1.2zM573.3 210.1h1.2v1.3h-1.2zM574.4 210.1h1.2v1.3h-1.2zM574.4 208.7h1.8v1.3h-1.8zM575 208h1.2v1.3h-1.2zM572.7 207.3h3.6v1.3h-3.6zM572.7 205.1h1.2v1.3h-1.2zM575 205.1h1.2v1.3h-1.2zM573.3 204.4h2.4v1.3h-2.4z" fill="#ffff00" shape-rendering="geometricPrecision"/>
<path d="M576.9 222.9h2.4v1.4h-2.4zM576.3 222.1h1.2v1.4h-1.2zM578.7 222.1h1.2v1.4h-1.2zM577.5 219.7h1.2v1.4h-1.2zM577.5 218.9h1.2v1.4h-1.2zM577.5 218.1h1.2v1.4h-1.2zM576.9 216.6h1.2v1.4h-1.2zM578.7 216.6h1.2v1.4h-1.2zM576.3 215.8h3.6v1.4h-3.6zM578.7 215h1.2v1.4h-1.2zM576.3 213.4h1.8v1.4h-1.8zM578.1 213.4h1.8v1.4h-1.8zM577.5 212.6h1.2v1.4h-1.2zM576.3 211.8h1.8v1.4h-1.8zM578.1 211.8h1.8v1.4h-1.8zM576.3 210.2h1.2v1.4h-1.2zM578.1 210.2h1.8v1.4h-1.8zM576.3 209.4h1.2v1.4h-1.2zM577.5 209.4h1.2v1.4h-1.2zM578.7 209.4h1.2v1.4h-1.2zM576.3 208.6h1.8v1.4h-1.8zM578.7 208.6h1.2v1.4h-1.2zM576.3 207h2.4v1.4h-2.4zM578.7 207h1.2v1.4h-1.2zM576.3 206.2h1.2v1.4h-1.2zM577.5 206.2h1.2v1.4h-1.2zM578.7 206.2h1.2v1.4h-1.2zM576.3 205.4h3.6v1.4h-3.6zM576.3 203.8h3.6v1.4h-3.6zM576.3 203.1h1.2v1.4h-1.2zM577.5 203.1h1.2v1.4h-1.2zM578.7 203.1h1.2v1.4h-1.2zM576.3 202.3h3.6v1.4h-3.6z" fill="#ffff00" shape-rendering="geometricPrecision"/>
<line x1="532.5" y1="198" x2="532.5" y2="251" stroke="#00ff00" stroke-width="1"/>
<line x1="564.5" y1="198" x2="564.5" y2="251" stroke="#00ff00" stroke-width="1"/>
<polyline points="593.5,148 593.5,168.5 575.5,168.5 575.5,178" stroke="#ffff00" stroke-width="1" fill="none"/>
<path d="M593.9 147.8h3v1.3h-3zM593.9 148.5h1.4v1.3h-1.4zM595.5 148.5h1.4v1.3h-1.4zM593.9 149.3h1.4v1.3h-1.4zM595.5 149.3h1.4v1.3h-1.4zM593.9 150h3v1.3h-3zM595.5 150.7h1.4v1.3h-1.4zM597.1 147.8h3v1.3h-3zM597.1 148.5h1.4v1.3h-1.4zM597.1 149.3h3v1.3h-3zM597.1 150h1.4v1.3h-1.4zM597.1 150.7h3v1.3h-3zM600.2 147.8h3v1.3h-3zM600.2 148.5h1.4v1.3h-1.4zM601.8 148.5h1.4v1.3h-1.4zM600.2 149.3h3v1.3h-3zM600.2 150h1.4v1.3h-1.4zM600.2 150.7h1.4v1.3h-1.4zM603.4 147.8h2.2v1.3h-2.2zM603.4 148.5h1.4v1.3h-1.4zM604.9 148.5h1.4v1.3h-1.4zM603.4 149.3h1.4v1.3h-1.4zM604.9 149.3h1.4v1.3h-1.4zM603.4 150h1.4v1.3h-1.4zM604.9 150h1.4v1.3h-1.4zM603.4 150.7h2.2v1.3h-2.2zM606.5 149.3h3v1.3h-3zM609.7 147.8h1.4v1.3h-1.4zM611.3 147.8h1.4v1.3h-1.4zM609.7 148.5h1.4v1.3h-1.4zM611.3 148.5h1.4v1.3h-1.4zM609.7 149.3h3v1.3h-3zM611.3 150h1.4v1.3h-1.4zM611.3 150.7h1.4v1.3h-1.4zM612.8 147.8h1.4v1.3h-1.4zM614.4 147.8h1.4v1.3h-1.4zM612.8 148.5h1.4v1.3h-1.4zM614.4 148.5h1.4v1.3h-1.4zM612.8 149.3h3v1.3h-3zM614.4 150h1.4v1.3h-1.4zM614.4 150.7h1.4v1.3h-1.4z" fill="#ffff00" shape-rendering="geometricPrecision"/>
<path d="M593.9 152.3h1.4v1.3h-1.4zM595.5 152.3h1.4v1.3h-1.4zM593.9 153h1.4v1.3h-1.4zM595.5 153h1.4v1.3h-1.4zM593.9 153.7h1.4v1.3h-1.4zM595.5 153.7h1.4v1.3h-1.4zM593.9 154.5h1.4v1.3h-1.4zM595.5 154.5h1.4v1.3h-1.4zM593.9 155.2h3v1.3h-3zM597.1 152.3h1.4v1.3h-1.4zM598.6 152.3h1.4v1.3h-1.4zM597.1 153h3v1.3h-3zM597.1 153.7h3v1.3h-3zM597.1 154.5h1.4v1.3h-1.4zM598.6 154.5h1.4v1.3h-1.4zM597.1 155.2h1.4v1.3h-1.4zM598.6 155.2h1.4v1.3h-1.4zM601 152.3h1.4v1.3h-1.4zM600.2 153h1.4v1.3h-1.4zM601.8 153h1.4v1.3h-1.4zM600.2 153.7h3v1.3h-3zM600.2 154.5h1.4v1.3h-1.4zM601.8 154.5h1.4v1.3h-1.4zM600.2 155.2h1.4v1.3h-1.4zM601.8 155.2h1.4v1.3h-1.4zM603.4 152.3h1.4v1.3h-1.4zM604.9 152.3h1.4v1.3h-1.4zM603.4 153h1.4v1.3h-1.4zM604.9 153h1.4v1.3h-1.4zM603.4 153.7h1.4v1.3h-1.4zM604.9 153.7h1.4v1.3h-1.4zM603.4 154.5h1.4v1.3h-1.4zM604.9 154.5h1.4v1.3h-1.4zM603.4 155.2h3v1.3h-3zM606.5 152.3h3v1.3h-3zM606.5 153h1.4v1.3h-1.4zM606.5 153.7h1.4v1.3h-1.4zM608.1 153.7h1.4v1.3h-1.4zM606.5 154.5h1.4v1.3h-1.4zM608.1 154.5h1.4v1.3h-1.4zM606.5 155.2h3v1.3h-3zM609.7 152.3h3v1.3h-3zM609.7 153h1.4v1.3h-1.4zM609.7 153.7h1.4v1.3h-1.4zM609.7 154.5h1.4v1.3h-1.4zM609.7 155.2h3v1.3h-3zM612.8 153h3v1.3h-3zM612.8 154.5h3v1.3h-3z" fill="#ffff00" shape-rendering="geometricPrecision"/>
<path d="M593.9 156.8h1.4v1.3h-1.4zM593.9 157.5h1.4v1.3h-1.4zM593.9 158.2h1.4v1.3h-1.4zM593.9 159h1.4v1.3h-1.4zM593.9 159.7h3v1.3h-3zM597.1 156.8h1.4v1.3h-1.4zM597.1 157.5h1.4v1.3h-1.4zM597.1 158.2h1.4v1.3h-1.4zM597.1 159h1.4v1.3h-1.4zM597.1 159.7h3v1.3h-3zM600.2 156.8h3v1.3h-3zM600.2 157.5h1.4v1.3h-1.4zM600.2 158.2h3v1.3h-3zM600.2 159h1.4v1.3h-1.4zM600.2 159.7h1.4v1.3h-1.4zM603.4 156.8h1.4v1.3h-1.4zM604.9 156.8h1.4v1.3h-1.4zM603.4 157.5h1.4v1.3h-1.4zM604.9 157.5h1.4v1.3h-1.4zM603.4 158.2h3v1.3h-3zM604.9 159h1.4v1.3h-1.4zM604.9 159.7h1.4v1.3h-1.4zM608.1 156.8h1.4v1.3h-1.4zM608.1 157.5h1.4v1.3h-1.4zM608.1 158.2h1.4v1.3h-1.4zM606.5 159h1.4v1.3h-1.4zM608.1 159h1.4v1.3h-1.4zM606.5 159.7h3v1.3h-3zM609.7 156.8h3v1.3h-3zM610.5 157.5h1.4v1.3h-1.4zM610.5 158.2h1.4v1.3h-1.4zM610.5 159h1.4v1.3h-1.4zM609.7 159.7h3v1.3h-3zM612.8 156.8h3v1.3h-3zM612.8 157.5h1.4v1.3h-1.4zM614.4 157.5h1.4v1.3h-1.4zM612.8 158.2h1.4v1.3h-1.4zM614.4 158.2h1.4v1.3h-1.4zM612.8 159h3v1.3h-3zM614.4 159.7h1.4v1.3h-1.4z" fill="#ffff00" shape-rendering="geometricPrecision"/>
<path d="M594.8 161.2h1.5v1.3h-1.5zM595.7 162h1.5v1.3h-1.5zM595.7 162.7h1.5v1.3h-1.5zM595.7 163.4h1.5v1.3h-1.5zM594.8 164.2h1.5v1.3h-1.5zM598.4 161.2h1.5v1.3h-1.5zM597.5 162h1.5v1.3h-1.5zM597.5 162.7h1.5v1.3h-1.5zM597.5 163.4h1.5v1.3h-1.5zM598.4 164.2h1.5v1.3h-1.5zM601 161.2h3.3v1.3h-3.3zM602.8 162h1.5v1.3h-1.5zM601 162.7h3.3v1.3h-3.3zM602.8 163.4h1.5v1.3h-1.5zM601 164.2h3.3v1.3h-3.3zM604.6 161.2h1.5v1.3h-1.5zM606.4 161.2h1.5v1.3h-1.5zM604.6 162h1.5v1.3h-1.5zM606.4 162h1.5v1.3h-1.5zM605.5 162.7h1.5v1.3h-1.5zM604.6 163.4h1.5v1.3h-1.5zM606.4 163.4h1.5v1.3h-1.5zM604.6 164.2h1.5v1.3h-1.5zM606.4 164.2h1.5v1.3h-1.5z" fill="#ffff00" shape-rendering="geometricPrecision"/>
<polygon points="504.5,171.5 512.5,171.5 512.5,286.5 490.5,286.5 490.5,276.5 504.5,276.5" stroke="#ffffff" stroke-width="1" fill="#4a72a0"/>
<polygon points="580.5,171.5 588.5,171.5 588.5,276.5 604.5,276.5 604.5,286.5 580.5,286.5" stroke="#ffffff" stroke-width="1" fill="#4a72a0"/>
<line x1="509.5" y1="171" x2="509.5" y2="300" stroke="#808080" stroke-width="1"/>
<line x1="583.5" y1="171" x2="583.5" y2="300" stroke="#808080" stroke-width="1"/>
<line x1="504.5" y1="283.5" x2="604.5" y2="283.5" stroke="#808080" stroke-width="1"/>
<line x1="459.5" y1="283.5" x2="504" y2="283.5" stroke="#00ff00" stroke-width="1"/>
<polyline points="490.5,272 490.5,278.5 492.3,279.8 487.5,281.6 491.4,282.5 490.5,283.5 490.5,292" stroke="#ffffff" stroke-width="1" fill="none"/>
<polyline points="604.5,272 604.5,278.5 606.3,279.8 601.5,281.6 605.4,282.5 604.5,283.5 604.5,292" stroke="#ffffff" stroke-width="1" fill="none"/>
<line x1="509.5" y1="271.5" x2="583.5" y2="271.5" stroke="#ff0000" stroke-width="1"/>
<line x1="509.5" y1="269" x2="509.5" y2="273" stroke="#ff0000" stroke-width="1"/>
<line x1="583.5" y1="269" x2="583.5" y2="273" stroke="#ff0000" stroke-width="1"/>
<line x1="554.5" y1="241" x2="554.5" y2="283" stroke="#ff0000" stroke-width="1"/>
<line x1="554" y1="241.5" x2="557" y2="241.5" stroke="#ff0000" stroke-width="1"/>
<line x1="512.5" y1="280.5" x2="580.5" y2="280.5" stroke="#00ffff" stroke-width="1"/>
<line x1="490.5" y1="286.5" x2="604.5" y2="286.5" stroke="#00ffff" stroke-width="1"/>
<line x1="517.5" y1="240" x2="517.5" y2="266" stroke="#ffff00" stroke-width="1"/>
<path d="M517.2 252h3.1v1.4h-3.1zM518.8 252.8h1.4v1.4h-1.4zM518 253.5h1.4v1.4h-1.4zM518 254.3h1.4v1.4h-1.4zM518 255.1h1.4v1.4h-1.4zM520.5 252h3.1v1.4h-3.1zM520.5 252.8h1.4v1.4h-1.4zM522.1 252.8h1.4v1.4h-1.4zM520.5 253.5h3.1v1.4h-3.1zM520.5 254.3h1.4v1.4h-1.4zM522.1 254.3h1.4v1.4h-1.4zM520.5 255.1h3.1v1.4h-3.1zM523.8 252h1.4v1.4h-1.4zM525.4 252h1.4v1.4h-1.4zM523.8 252.8h3.1v1.4h-3.1zM523.8 253.5h3.1v1.4h-3.1zM523.8 254.3h1.4v1.4h-1.4zM525.4 254.3h1.4v1.4h-1.4zM523.8 255.1h1.4v1.4h-1.4zM525.4 255.1h1.4v1.4h-1.4zM527.1 252h1.4v1.4h-1.4zM528.7 252h1.4v1.4h-1.4zM527.1 252.8h1.4v1.4h-1.4zM528.7 252.8h1.4v1.4h-1.4zM527.1 253.5h3.1v1.4h-3.1zM527.1 254.3h3.1v1.4h-3.1zM527.1 255.1h1.4v1.4h-1.4zM528.7 255.1h1.4v1.4h-1.4zM530.4 252.8h3.1v1.4h-3.1zM530.4 254.3h3.1v1.4h-3.1zM533.6 252h3.1v1.4h-3.1zM535.3 252.8h1.4v1.4h-1.4zM534.5 253.5h1.4v1.4h-1.4zM533.6 254.3h1.4v1.4h-1.4zM533.6 255.1h3.1v1.4h-3.1zM536.9 252h3.1v1.4h-3.1zM536.9 252.8h1.4v1.4h-1.4zM538.6 252.8h1.4v1.4h-1.4zM536.9 253.5h3.1v1.4h-3.1zM536.9 254.3h1.4v1.4h-1.4zM538.6 254.3h1.4v1.4h-1.4zM536.9 255.1h3.1v1.4h-3.1z" fill="#ffff00" shape-rendering="geometricPrecision"/>
<path d="M518.8 256.7h1.4v1.4h-1.4zM518.8 257.4h1.4v1.4h-1.4zM518.8 258.2h1.4v1.4h-1.4zM517.2 259h1.4v1.4h-1.4zM518.8 259h1.4v1.4h-1.4zM517.2 259.8h3.1v1.4h-3.1zM521.3 256.7h1.4v1.4h-1.4zM520.5 257.4h3.1v1.4h-3.1zM520.5 258.2h1.4v1.4h-1.4zM522.1 258.2h1.4v1.4h-1.4zM520.5 259h3.1v1.4h-3.1zM521.3 259.8h1.4v1.4h-1.4zM524.6 256.7h1.4v1.4h-1.4zM523.8 257.4h1.4v1.4h-1.4zM523.8 258.2h1.4v1.4h-1.4zM523.8 259h1.4v1.4h-1.4zM524.6 259.8h1.4v1.4h-1.4zM527.1 256.7h3.1v1.4h-3.1zM527.9 257.4h1.4v1.4h-1.4zM527.9 258.2h1.4v1.4h-1.4zM527.9 259h1.4v1.4h-1.4zM527.9 259.8h1.4v1.4h-1.4zM530.4 256.7h3.1v1.4h-3.1zM531.2 257.4h1.4v1.4h-1.4zM531.2 258.2h1.4v1.4h-1.4zM531.2 259h1.4v1.4h-1.4zM531.2 259.8h1.4v1.4h-1.4zM533.6 256.7h3.1v1.4h-3.1zM533.6 257.4h1.4v1.4h-1.4zM535.3 257.4h1.4v1.4h-1.4zM533.6 258.2h3.1v1.4h-3.1zM535.3 259h1.4v1.4h-1.4zM533.6 259.8h3.1v1.4h-3.1zM536.9 256.7h3.1v1.4h-3.1zM536.9 257.4h1.4v1.4h-1.4zM536.9 258.2h1.4v1.4h-1.4zM536.9 259h1.4v1.4h-1.4zM536.9 259.8h3.1v1.4h-3.1z" fill="#ffff00" shape-rendering="geometricPrecision"/>
<path d="M517.2 261.3h2.9v1.4h-2.9zM517.2 262.1h1.4v1.4h-1.4zM518.7 262.1h1.4v1.4h-1.4zM517.2 262.9h2.9v1.4h-2.9zM517.2 263.7h1.4v1.4h-1.4zM518.7 263.7h1.4v1.4h-1.4zM517.2 264.4h2.9v1.4h-2.9zM520.3 261.3h1.4v1.4h-1.4zM521.8 261.3h1.4v1.4h-1.4zM520.3 262.1h1.4v1.4h-1.4zM521.8 262.1h1.4v1.4h-1.4zM520.3 262.9h2.9v1.4h-2.9zM520.3 263.7h2.9v1.4h-2.9zM520.3 264.4h1.4v1.4h-1.4zM521.8 264.4h1.4v1.4h-1.4zM523.3 262.9h2.9v1.4h-2.9zM526.4 262.9h2.9v1.4h-2.9zM530.3 261.3h1.4v1.4h-1.4zM529.5 262.1h2.1v1.4h-2.1zM530.3 262.9h1.4v1.4h-1.4zM530.3 263.7h1.4v1.4h-1.4zM529.5 264.4h2.9v1.4h-2.9z" fill="#ffff00" shape-rendering="geometricPrecision"/>
<polygon points="537.5,263 545.5,263 541.5,268" stroke="#ffbf00" stroke-width="1" fill="none"/>
<line x1="537.5" y1="263.5" x2="551.5" y2="263.5" stroke="#ffbf00" stroke-width="1"/>
<path d="M540.2 257.8h2.2v1.3h-2.2zM541.4 258.6h1.1v1.3h-1.1zM540.2 259.4h2.2v1.3h-2.2zM541.4 260.3h1.1v1.3h-1.1zM540.2 261.1h2.2v1.3h-2.2zM543.1 261.1h1.1v1.3h-1.1zM544.9 257.8h2.2v1.3h-2.2zM544.9 258.6h1.1v1.3h-1.1zM544.9 259.4h2.2v1.3h-2.2zM546 260.3h1.1v1.3h-1.1zM544.9 261.1h2.2v1.3h-2.2zM547.2 257.8h2.2v1.3h-2.2zM547.2 258.6h1.1v1.3h-1.1zM548.4 258.6h1.1v1.3h-1.1zM547.2 259.4h1.1v1.3h-1.1zM548.4 259.4h1.1v1.3h-1.1zM547.2 260.3h1.1v1.3h-1.1zM548.4 260.3h1.1v1.3h-1.1zM547.2 261.1h2.2v1.3h-2.2zM549.5 257.8h2.2v1.3h-2.2zM549.5 258.6h1.1v1.3h-1.1zM549.5 259.4h2.2v1.3h-2.2zM550.7 260.3h1.1v1.3h-1.1zM549.5 261.1h2.2v1.3h-2.2z" fill="#ffbf00" shape-rendering="geometricPrecision"/>
<path d="M563 249.5H567M565 249V253M565.6 251l1.2 1" stroke="#ffff00" stroke-width="1.1" fill="none"/>
<line x1="517.5" y1="283.6" x2="517.5" y2="305" stroke="#ffff00" stroke-width="1"/>
<path d="M517.2 293h3.1v1.2h-3.1zM517.2 293.6h1.4v1.2h-1.4zM518.8 293.6h1.4v1.2h-1.4zM517.2 294.3h1.4v1.2h-1.4zM518.8 294.3h1.4v1.2h-1.4zM517.2 294.9h1.4v1.2h-1.4zM518.8 294.9h1.4v1.2h-1.4zM517.2 295.6h3.1v1.2h-3.1zM520.5 293h1.4v1.2h-1.4zM522.1 293h1.4v1.2h-1.4zM520.5 293.6h1.4v1.2h-1.4zM522.1 293.6h1.4v1.2h-1.4zM520.5 294.3h3.1v1.2h-3.1zM522.1 294.9h1.4v1.2h-1.4zM522.1 295.6h1.4v1.2h-1.4zM523.8 293h1.4v1.2h-1.4zM525.4 293h1.4v1.2h-1.4zM523.8 293.6h1.4v1.2h-1.4zM525.4 293.6h1.4v1.2h-1.4zM523.8 294.3h3.1v1.2h-3.1zM523.8 294.9h1.4v1.2h-1.4zM525.4 294.9h1.4v1.2h-1.4zM523.8 295.6h1.4v1.2h-1.4zM525.4 295.6h1.4v1.2h-1.4zM527.1 293h1.4v1.2h-1.4zM528.7 293h1.4v1.2h-1.4zM527.1 293.6h1.4v1.2h-1.4zM528.7 293.6h1.4v1.2h-1.4zM527.1 294.3h3.1v1.2h-3.1zM527.1 294.9h3.1v1.2h-3.1zM527.1 295.6h1.4v1.2h-1.4zM528.7 295.6h1.4v1.2h-1.4zM530.4 293h1.4v1.2h-1.4zM532 293h1.4v1.2h-1.4zM530.4 293.6h1.4v1.2h-1.4zM532 293.6h1.4v1.2h-1.4zM530.4 294.3h3.1v1.2h-3.1zM530.4 294.9h3.1v1.2h-3.1zM530.4 295.6h1.4v1.2h-1.4zM532 295.6h1.4v1.2h-1.4zM533.6 293h2.2v1.2h-2.2zM533.6 293.6h1.4v1.2h-1.4zM535.3 293.6h1.4v1.2h-1.4zM533.6 294.3h1.4v1.2h-1.4zM535.3 294.3h1.4v1.2h-1.4zM533.6 294.9h1.4v1.2h-1.4zM535.3 294.9h1.4v1.2h-1.4zM533.6 295.6h2.2v1.2h-2.2zM536.9 293h3.1v1.2h-3.1zM536.9 293.6h1.4v1.2h-1.4zM536.9 294.3h3.1v1.2h-3.1zM538.6 294.9h1.4v1.2h-1.4zM536.9 295.6h3.1v1.2h-3.1z" fill="#ffff00" shape-rendering="geometricPrecision"/>
<path d="M517.2 297h1.4v1.2h-1.4zM518.8 297h1.4v1.2h-1.4zM517.2 297.6h2.2v1.2h-2.2zM517.2 298.3h1.4v1.2h-1.4zM517.2 298.9h2.2v1.2h-2.2zM517.2 299.6h1.4v1.2h-1.4zM518.8 299.6h1.4v1.2h-1.4zM520.5 297h1.4v1.2h-1.4zM522.1 297h1.4v1.2h-1.4zM520.5 297.6h1.4v1.2h-1.4zM522.1 297.6h1.4v1.2h-1.4zM520.5 298.3h3.1v1.2h-3.1zM520.5 298.9h1.4v1.2h-1.4zM522.1 298.9h1.4v1.2h-1.4zM520.5 299.6h1.4v1.2h-1.4zM522.1 299.6h1.4v1.2h-1.4zM523.8 297h3.1v1.2h-3.1zM523.8 297.6h1.4v1.2h-1.4zM523.8 298.3h1.4v1.2h-1.4zM523.8 298.9h1.4v1.2h-1.4zM523.8 299.6h3.1v1.2h-3.1zM527.9 297h1.4v1.2h-1.4zM527.1 297.6h1.4v1.2h-1.4zM527.1 298.3h1.4v1.2h-1.4zM527.1 298.9h1.4v1.2h-1.4zM527.9 299.6h1.4v1.2h-1.4zM531.2 297h1.4v1.2h-1.4zM530.4 297.6h2.2v1.2h-2.2zM531.2 298.3h1.4v1.2h-1.4zM531.2 298.9h1.4v1.2h-1.4zM530.4 299.6h3.1v1.2h-3.1zM533.6 297h3.1v1.2h-3.1zM535.3 297.6h1.4v1.2h-1.4zM533.6 298.3h3.1v1.2h-3.1zM533.6 298.9h1.4v1.2h-1.4zM533.6 299.6h3.1v1.2h-3.1zM536.9 297h3.1v1.2h-3.1zM536.9 297.6h1.4v1.2h-1.4zM536.9 298.3h3.1v1.2h-3.1zM536.9 298.9h1.4v1.2h-1.4zM538.6 298.9h1.4v1.2h-1.4zM536.9 299.6h3.1v1.2h-3.1z" fill="#ffff00" shape-rendering="geometricPrecision"/>
<path d="M517.2 301h3.2v1.2h-3.2zM517.2 301.6h1.5v1.2h-1.5zM518.9 301.6h1.5v1.2h-1.5zM517.2 302.3h1.5v1.2h-1.5zM518.9 302.3h1.5v1.2h-1.5zM517.2 302.9h3.2v1.2h-3.2zM518.9 303.6h1.5v1.2h-1.5zM520.7 301h3.2v1.2h-3.2zM522.4 301.6h1.5v1.2h-1.5zM521.5 302.3h1.5v1.2h-1.5zM520.7 302.9h1.5v1.2h-1.5zM520.7 303.6h3.2v1.2h-3.2zM524.1 301h1.5v1.2h-1.5zM525.9 301h1.5v1.2h-1.5zM524.1 301.6h1.5v1.2h-1.5zM525.9 301.6h1.5v1.2h-1.5zM524.1 302.3h3.2v1.2h-3.2zM524.1 302.9h1.5v1.2h-1.5zM525.9 302.9h1.5v1.2h-1.5zM524.1 303.6h1.5v1.2h-1.5zM525.9 303.6h1.5v1.2h-1.5zM527.6 301h3.2v1.2h-3.2zM527.6 301.6h1.5v1.2h-1.5zM527.6 302.3h3.2v1.2h-3.2zM529.3 302.9h1.5v1.2h-1.5zM527.6 303.6h3.2v1.2h-3.2zM531 301h3.2v1.2h-3.2zM531 301.6h1.5v1.2h-1.5zM531 302.3h3.2v1.2h-3.2zM531 302.9h1.5v1.2h-1.5zM531 303.6h1.5v1.2h-1.5zM535.4 301h1.5v1.2h-1.5zM534.5 301.6h1.5v1.2h-1.5zM536.2 301.6h1.5v1.2h-1.5zM534.5 302.3h3.2v1.2h-3.2zM534.5 302.9h1.5v1.2h-1.5zM536.2 302.9h1.5v1.2h-1.5zM534.5 303.6h1.5v1.2h-1.5zM536.2 303.6h1.5v1.2h-1.5z" fill="#ffff00" shape-rendering="geometricPrecision"/>
<path d="M509.5 320.5H514.5M511.5 320.5V329.8M516.5 320.5V329.8M514.5 322.5L516.5 320.5" stroke="#ff00ff" stroke-width="1" fill="none"/>
<text x="522.6" y="329.8" font-size="13.25" textLength="22.2" lengthAdjust="spacingAndGlyphs" fill="#ff00ff" stroke="#ff00ff" stroke-width="0.2" font-family="Liberation Sans" font-weight="normal">2.505</text>
<path d="M546 320.5H551 M546 322.5H551 M548 325.5H551 M546 329.5H551 M546.5 322V330 M549.5 320V328 M550.5 324V326" stroke="#ff00ff" stroke-width="1" fill="none"/>
<path d="M555 322.5H556 M554 325.5H558 M554 327.5H558 M553.5 324V330 M554.5 324V326 M556.5 320V328" stroke="#ff00ff" stroke-width="1" fill="none"/>
<path d="M560 322.5H564 M560 325.5H563 M560 329.5H564 M561.5 324V330 M563.5 320V330" stroke="#ff00ff" stroke-width="1" fill="none"/>
<path d="M567 320.5H571 M567 322.5H572 M567 325.5H571 M568 327.5H572 M567 329.5H571 M567.5 322V330 M568.5 320V326 M570.5 320V330" stroke="#ff00ff" stroke-width="1" fill="none"/>
<path d="M574 320.5H577 M574 322.5H579 M574 325.5H579 M575 327.5H577 M576 329.5H577 M574.5 322V330 M575.5 320V330" stroke="#ff00ff" stroke-width="1" fill="none"/>
<rect x="507" y="332" width="84" height="2" fill="#ff00ff"/>
<circle cx="696.7" cy="25" r="5.8" stroke="#10a8a8" stroke-width="1" fill="none"/>
<path d="M694.8 22h3.8v1.6h-3.8zM694.8 23.1h1.6v1.6h-1.6zM697 23.1h1.6v1.6h-1.6zM694.8 24.2h3.8v1.6h-3.8zM694.8 25.3h1.6v1.6h-1.6zM697 25.3h1.6v1.6h-1.6zM694.8 26.5h3.8v1.6h-3.8z" fill="#ffffff" shape-rendering="geometricPrecision"/>
<circle cx="770.8" cy="25" r="5.8" stroke="#10a8a8" stroke-width="1" fill="none"/>
<path d="M768.1 22h1.4v1.6h-1.4zM767.1 23.1h2.4v1.6h-2.4zM768.1 24.2h1.4v1.6h-1.4zM768.1 25.3h1.4v1.6h-1.4zM767.1 26.5h3.4v1.6h-3.4zM771.1 22h3.4v1.6h-3.4zM771.1 23.1h1.4v1.6h-1.4zM773 23.1h1.4v1.6h-1.4zM771.1 24.2h1.4v1.6h-1.4zM773 24.2h1.4v1.6h-1.4zM771.1 25.3h1.4v1.6h-1.4zM773 25.3h1.4v1.6h-1.4zM771.1 26.5h3.4v1.6h-3.4z" fill="#ffffff" shape-rendering="geometricPrecision"/>
<line x1="696.5" y1="31" x2="696.5" y2="72" stroke="#00ff00" stroke-width="1"/>
<line x1="770.5" y1="31" x2="770.5" y2="72" stroke="#00ff00" stroke-width="1"/>
<line x1="694.5" y1="37.5" x2="773" y2="37.5" stroke="#00ff00" stroke-width="1"/>
<line x1="695.1" y1="39.1" x2="698.3" y2="35.9" stroke="#00ff00" stroke-width="1.2"/>
<line x1="769.2" y1="39.1" x2="772.4" y2="35.9" stroke="#00ff00" stroke-width="1.2"/>
<line x1="694.5" y1="48.5" x2="773" y2="48.5" stroke="#00ff00" stroke-width="1"/>
<line x1="695.1" y1="50.1" x2="698.3" y2="46.9" stroke="#00ff00" stroke-width="1.2"/>
<line x1="697.9" y1="50.1" x2="701.1" y2="46.9" stroke="#00ff00" stroke-width="1.2"/>
<line x1="733.9" y1="50.1" x2="737.1" y2="46.9" stroke="#00ff00" stroke-width="1.2"/>
<line x1="766.9" y1="50.1" x2="770.1" y2="46.9" stroke="#00ff00" stroke-width="1.2"/>
<line x1="769.2" y1="50.1" x2="772.4" y2="46.9" stroke="#00ff00" stroke-width="1.2"/>
<line x1="699.5" y1="46" x2="699.5" y2="70" stroke="#00ff00" stroke-width="1"/>
<line x1="735.5" y1="46" x2="735.5" y2="70" stroke="#00ff00" stroke-width="1"/>
<line x1="768.5" y1="46" x2="768.5" y2="70" stroke="#00ff00" stroke-width="1"/>
<path d="M729.4 32h2.1v1.3h-2.1zM730.5 32.8h1v1.3h-1zM729.4 33.7h2.1v1.3h-2.1zM730.5 34.6h1v1.3h-1zM729.4 35.4h2.1v1.3h-2.1zM731.6 32h2.1v1.3h-2.1zM732.8 32.8h1v1.3h-1zM732.2 33.7h1v1.3h-1zM732.2 34.6h1v1.3h-1zM732.2 35.4h1v1.3h-1zM733.9 32h2.1v1.3h-2.1zM733.9 32.8h1v1.3h-1zM735 32.8h1v1.3h-1zM733.9 33.7h1v1.3h-1zM735 33.7h1v1.3h-1zM733.9 34.6h1v1.3h-1zM735 34.6h1v1.3h-1zM733.9 35.4h2.1v1.3h-2.1zM736.2 32h2.1v1.3h-2.1zM736.2 32.8h1v1.3h-1zM737.3 32.8h1v1.3h-1zM736.2 33.7h1v1.3h-1zM737.3 33.7h1v1.3h-1zM736.2 34.6h1v1.3h-1zM737.3 34.6h1v1.3h-1zM736.2 35.4h2.1v1.3h-2.1z" fill="#ffffff" shape-rendering="geometricPrecision"/>
<path d="M695.3 43.3h1.9v1.1h-1.9zM696.3 44h0.9v1.1h-0.9zM695.3 44.7h1.9v1.1h-1.9zM695.3 45.4h0.9v1.1h-0.9zM695.3 46.1h1.9v1.1h-1.9zM697.3 43.3h1.9v1.1h-1.9zM697.3 44h0.9v1.1h-0.9zM698.3 44h0.9v1.1h-0.9zM697.3 44.7h0.9v1.1h-0.9zM698.3 44.7h0.9v1.1h-0.9zM697.3 45.4h0.9v1.1h-0.9zM698.3 45.4h0.9v1.1h-0.9zM697.3 46.1h1.9v1.1h-1.9zM699.3 43.3h1.9v1.1h-1.9zM699.3 44h0.9v1.1h-0.9zM700.3 44h0.9v1.1h-0.9zM699.3 44.7h0.9v1.1h-0.9zM700.3 44.7h0.9v1.1h-0.9zM699.3 45.4h0.9v1.1h-0.9zM700.3 45.4h0.9v1.1h-0.9zM699.3 46.1h1.9v1.1h-1.9z" fill="#ffffff" shape-rendering="geometricPrecision"/>
<path d="M714.2 43.3h0.9v1.1h-0.9zM713.8 44h1.4v1.1h-1.4zM714.2 44.7h0.9v1.1h-0.9zM714.2 45.4h0.9v1.1h-0.9zM713.8 46.1h1.8v1.1h-1.8zM715.6 43.3h1.8v1.1h-1.8zM715.6 44h0.9v1.1h-0.9zM715.6 44.7h1.8v1.1h-1.8zM715.6 45.4h0.9v1.1h-0.9zM716.6 45.4h0.9v1.1h-0.9zM715.6 46.1h1.8v1.1h-1.8zM717.5 43.3h1.8v1.1h-1.8zM717.5 44h0.9v1.1h-0.9zM717.5 44.7h1.8v1.1h-1.8zM718.4 45.4h0.9v1.1h-0.9zM717.5 46.1h1.8v1.1h-1.8zM719.4 43.3h1.8v1.1h-1.8zM719.4 44h0.9v1.1h-0.9zM720.3 44h0.9v1.1h-0.9zM719.4 44.7h0.9v1.1h-0.9zM720.3 44.7h0.9v1.1h-0.9zM719.4 45.4h0.9v1.1h-0.9zM720.3 45.4h0.9v1.1h-0.9zM719.4 46.1h1.8v1.1h-1.8z" fill="#ffffff" shape-rendering="geometricPrecision"/>
<path d="M748.3 43.3h1v1.1h-1zM747.8 44h1.5v1.1h-1.5zM748.3 44.7h1v1.1h-1zM748.3 45.4h1v1.1h-1zM747.8 46.1h2v1.1h-2zM749.9 43.3h2v1.1h-2zM749.9 44h1v1.1h-1zM749.9 44.7h2v1.1h-2zM749.9 45.4h1v1.1h-1zM751 45.4h1v1.1h-1zM749.9 46.1h2v1.1h-2zM752 43.3h2v1.1h-2zM752 44h1v1.1h-1zM752 44.7h2v1.1h-2zM753.1 45.4h1v1.1h-1zM752 46.1h2v1.1h-2zM754.2 43.3h2v1.1h-2zM754.2 44h1v1.1h-1zM755.2 44h1v1.1h-1zM754.2 44.7h1v1.1h-1zM755.2 44.7h1v1.1h-1zM754.2 45.4h1v1.1h-1zM755.2 45.4h1v1.1h-1zM754.2 46.1h2v1.1h-2z" fill="#ffffff" shape-rendering="geometricPrecision"/>
<path d="M766.3 43.3h1.9v1.1h-1.9zM767.3 44h0.9v1.1h-0.9zM766.3 44.7h1.9v1.1h-1.9zM766.3 45.4h0.9v1.1h-0.9zM766.3 46.1h1.9v1.1h-1.9zM768.3 43.3h1.9v1.1h-1.9zM768.3 44h0.9v1.1h-0.9zM769.3 44h0.9v1.1h-0.9zM768.3 44.7h0.9v1.1h-0.9zM769.3 44.7h0.9v1.1h-0.9zM768.3 45.4h0.9v1.1h-0.9zM769.3 45.4h0.9v1.1h-0.9zM768.3 46.1h1.9v1.1h-1.9zM770.3 43.3h1.9v1.1h-1.9zM770.3 44h0.9v1.1h-0.9zM771.3 44h0.9v1.1h-0.9zM770.3 44.7h0.9v1.1h-0.9zM771.3 44.7h0.9v1.1h-0.9zM770.3 45.4h0.9v1.1h-0.9zM771.3 45.4h0.9v1.1h-0.9zM770.3 46.1h1.9v1.1h-1.9z" fill="#ffffff" shape-rendering="geometricPrecision"/>
<circle cx="641.3" cy="73" r="5.8" stroke="#10a8a8" stroke-width="1" fill="none"/>
<path d="M639.4 70h3.8v1.6h-3.8zM639.4 71.1h1.6v1.6h-1.6zM639.4 72.2h1.6v1.6h-1.6zM641.6 72.2h1.6v1.6h-1.6zM639.4 73.3h1.6v1.6h-1.6zM641.6 73.3h1.6v1.6h-1.6zM639.4 74.5h3.8v1.6h-3.8z" fill="#ffffff" shape-rendering="geometricPrecision"/>
<circle cx="641.3" cy="283.6" r="5.8" stroke="#10a8a8" stroke-width="1" fill="none"/>
<path d="M639.4 280.6h3.8v1.6h-3.8zM639.4 281.7h1.6v1.6h-1.6zM639.4 282.8h3.8v1.6h-3.8zM639.4 283.9h1.6v1.6h-1.6zM639.4 285.1h3.8v1.6h-3.8z" fill="#ffffff" shape-rendering="geometricPrecision"/>
<line x1="647" y1="72.5" x2="691.6" y2="72.5" stroke="#00ff00" stroke-width="1"/>
<line x1="647" y1="283.5" x2="690" y2="283.5" stroke="#00ff00" stroke-width="1"/>
<line x1="653.5" y1="72" x2="653.5" y2="284" stroke="#00ff00" stroke-width="1"/>
<line x1="664.5" y1="72" x2="664.5" y2="284" stroke="#00ff00" stroke-width="1"/>
<line x1="651.9" y1="74.1" x2="655.1" y2="70.9" stroke="#00ff00" stroke-width="1.2"/>
<line x1="651.9" y1="285.1" x2="655.1" y2="281.9" stroke="#00ff00" stroke-width="1.2"/>
<line x1="662.9" y1="74.1" x2="666.1" y2="70.9" stroke="#00ff00" stroke-width="1.2"/>
<line x1="662.9" y1="285.1" x2="666.1" y2="281.9" stroke="#00ff00" stroke-width="1.2"/>
<line x1="662.9" y1="119.1" x2="666.1" y2="115.9" stroke="#00ff00" stroke-width="1.2"/>
<line x1="662.9" y1="133.1" x2="666.1" y2="129.9" stroke="#00ff00" stroke-width="1.2"/>
<line x1="662.9" y1="176.1" x2="666.1" y2="172.9" stroke="#00ff00" stroke-width="1.2"/>
<line x1="662.9" y1="183.1" x2="666.1" y2="179.9" stroke="#00ff00" stroke-width="1.2"/>
<line x1="662.9" y1="240.1" x2="666.1" y2="236.9" stroke="#00ff00" stroke-width="1.2"/>
<line x1="661" y1="117.5" x2="690" y2="117.5" stroke="#00ff00" stroke-width="1"/>
<line x1="661" y1="131.5" x2="690" y2="131.5" stroke="#00ff00" stroke-width="1"/>
<line x1="661" y1="174.5" x2="690" y2="174.5" stroke="#00ff00" stroke-width="1"/>
<line x1="661" y1="181.5" x2="690" y2="181.5" stroke="#00ff00" stroke-width="1"/>
<line x1="661" y1="238.5" x2="690" y2="238.5" stroke="#00ff00" stroke-width="1"/>
<path d="M648.3 183h1.3v1.2h-1.3zM648.3 182.2h1.3v1.2h-1.3zM650.1 182.2h3.1v1.2h-3.1zM648.3 181.4h2.2v1.2h-2.2zM648.3 179.8h1.3v1.2h-1.3zM648.3 179h1.3v1.2h-1.3zM650.1 179h3.1v1.2h-3.1zM648.3 178.2h2.2v1.2h-2.2zM648.3 176.6h4.9v1.2h-4.9zM648.3 175.8h1.3v1.2h-1.3zM651.9 175.8h1.3v1.2h-1.3zM648.3 175h4.9v1.2h-4.9zM648.3 173.4h4.9v1.2h-4.9zM648.3 172.6h1.3v1.2h-1.3zM651.9 172.6h1.3v1.2h-1.3zM648.3 171.8h4.9v1.2h-4.9z" fill="#ffffff" shape-rendering="geometricPrecision"/>
<path d="M659.7 98h1.3v1.2h-1.3zM662.4 98h1.3v1.2h-1.3zM658.8 97.3h4.9v1.2h-4.9zM662.4 96.6h1.3v1.2h-1.3zM658.8 95.1h3.1v1.2h-3.1zM662.4 95.1h1.3v1.2h-1.3zM658.8 94.4h1.3v1.2h-1.3zM660.6 94.4h1.3v1.2h-1.3zM662.4 94.4h1.3v1.2h-1.3zM658.8 93.6h1.3v1.2h-1.3zM660.6 93.6h3.1v1.2h-3.1zM658.8 92.2h4.9v1.2h-4.9zM658.8 91.4h1.3v1.2h-1.3zM662.4 91.4h1.3v1.2h-1.3zM658.8 90.7h4.9v1.2h-4.9zM658.8 89.2h4.9v1.2h-4.9zM658.8 88.5h1.3v1.2h-1.3zM662.4 88.5h1.3v1.2h-1.3zM658.8 87.8h4.9v1.2h-4.9z" fill="#ffffff" shape-rendering="geometricPrecision"/>
<path d="M658.8 127.1h4.9v1.2h-4.9zM658.8 126.3h1.3v1.2h-1.3zM660.6 126.3h1.3v1.2h-1.3zM662.4 126.3h1.3v1.2h-1.3zM658.8 125.6h1.3v1.2h-1.3zM660.6 125.6h3.1v1.2h-3.1zM658.8 124.1h4.9v1.2h-4.9zM658.8 123.4h1.3v1.2h-1.3zM662.4 123.4h1.3v1.2h-1.3zM658.8 122.7h4.9v1.2h-4.9zM658.8 121.2h4.9v1.2h-4.9zM658.8 120.5h1.3v1.2h-1.3zM662.4 120.5h1.3v1.2h-1.3zM658.8 119.8h4.9v1.2h-4.9z" fill="#ffffff" shape-rendering="geometricPrecision"/>
<path d="M658.8 161.3h1.3v1h-1.3zM660.6 161.3h3.1v1h-3.1zM658.8 160.8h1.3v1h-1.3zM660.6 160.8h1.3v1h-1.3zM662.4 160.8h1.3v1h-1.3zM658.8 160.2h3.1v1h-3.1zM662.4 160.2h1.3v1h-1.3zM658.8 159.2h4.9v1h-4.9zM658.8 158.7h1.3v1h-1.3zM660.6 158.7h1.3v1h-1.3zM662.4 158.7h1.3v1h-1.3zM658.8 158.2h4.9v1h-4.9zM658.8 157.2h3.1v1h-3.1zM662.4 157.2h1.3v1h-1.3zM658.8 156.7h1.3v1h-1.3zM660.6 156.7h1.3v1h-1.3zM662.4 156.7h1.3v1h-1.3zM658.8 156.2h1.3v1h-1.3zM660.6 156.2h3.1v1h-3.1zM658.8 155.1h4.9v1h-4.9zM658.8 154.6h1.3v1h-1.3zM662.4 154.6h1.3v1h-1.3zM658.8 154.1h4.9v1h-4.9zM659.7 153.1h1.3v1h-1.3zM661.5 153.1h1.3v1h-1.3zM660.6 152.6h1.3v1h-1.3zM659.7 152.1h1.3v1h-1.3zM661.5 152.1h1.3v1h-1.3zM658.8 151h4.9v1h-4.9zM658.8 150.5h1.3v1h-1.3zM660.6 150.5h1.3v1h-1.3zM662.4 150.5h1.3v1h-1.3zM658.8 150h4.9v1h-4.9zM659.7 149h1.3v1h-1.3zM661.5 149h1.3v1h-1.3zM659.7 148.5h1.3v1h-1.3zM661.5 148.5h1.3v1h-1.3zM659.7 148h1.3v1h-1.3zM661.5 148h1.3v1h-1.3zM658.8 146.9h1.3v1h-1.3zM660.6 146.9h3.1v1h-3.1zM658.8 146.4h1.3v1h-1.3zM660.6 146.4h1.3v1h-1.3zM662.4 146.4h1.3v1h-1.3zM658.8 145.9h3.1v1h-3.1zM662.4 145.9h1.3v1h-1.3zM658.8 144.9h3.1v1h-3.1zM660.6 144.4h1.3v1h-1.3zM658.8 143.9h4.9v1h-4.9zM658.8 142.8h4.9v1h-4.9zM658.8 142.3h1.3v1h-1.3zM662.4 142.3h1.3v1h-1.3zM658.8 141.8h4.9v1h-4.9zM658.8 140.8h4.9v1h-4.9zM658.8 140.3h1.3v1h-1.3zM662.4 140.3h1.3v1h-1.3zM658.8 139.8h4.9v1h-4.9z" fill="#ffffff" shape-rendering="geometricPrecision"/>
<path d="M658.8 180.1h4.9v1.1h-4.9zM658.8 179.5h1.3v1.1h-1.3zM660.6 179.5h1.3v1.1h-1.3zM662.4 179.5h1.3v1.1h-1.3zM658.8 178.9h1.3v1.1h-1.3zM660.6 178.9h3.1v1.1h-3.1zM658.8 177.6h4.9v1.1h-4.9zM658.8 177h1.3v1.1h-1.3zM662.4 177h1.3v1.1h-1.3zM658.8 176.3h4.9v1.1h-4.9zM658.8 175.1h4.9v1.1h-4.9zM658.8 174.4h1.3v1.1h-1.3zM662.4 174.4h1.3v1.1h-1.3zM658.8 173.8h4.9v1.1h-4.9z" fill="#ffffff" shape-rendering="geometricPrecision"/>
<path d="M658.8 218.8h1.3v0.9h-1.3zM660.6 218.8h3.1v0.9h-3.1zM658.8 218.3h1.3v0.9h-1.3zM660.6 218.3h1.3v0.9h-1.3zM662.4 218.3h1.3v0.9h-1.3zM658.8 217.8h3.1v0.9h-3.1zM662.4 217.8h1.3v0.9h-1.3zM658.8 216.9h4.9v0.9h-4.9zM658.8 216.4h1.3v0.9h-1.3zM660.6 216.4h1.3v0.9h-1.3zM662.4 216.4h1.3v0.9h-1.3zM658.8 215.9h4.9v0.9h-4.9zM658.8 215h3.1v0.9h-3.1zM662.4 215h1.3v0.9h-1.3zM658.8 214.5h1.3v0.9h-1.3zM660.6 214.5h1.3v0.9h-1.3zM662.4 214.5h1.3v0.9h-1.3zM658.8 214h1.3v0.9h-1.3zM660.6 214h3.1v0.9h-3.1zM658.8 213.1h4.9v0.9h-4.9zM658.8 212.6h1.3v0.9h-1.3zM662.4 212.6h1.3v0.9h-1.3zM658.8 212.1h4.9v0.9h-4.9zM659.7 211.2h1.3v0.9h-1.3zM661.5 211.2h1.3v0.9h-1.3zM660.6 210.7h1.3v0.9h-1.3zM659.7 210.2h1.3v0.9h-1.3zM661.5 210.2h1.3v0.9h-1.3zM658.8 209.3h4.9v0.9h-4.9zM658.8 208.8h1.3v0.9h-1.3zM660.6 208.8h1.3v0.9h-1.3zM662.4 208.8h1.3v0.9h-1.3zM658.8 208.3h4.9v0.9h-4.9zM659.7 207.4h1.3v0.9h-1.3zM661.5 207.4h1.3v0.9h-1.3zM659.7 206.9h1.3v0.9h-1.3zM661.5 206.9h1.3v0.9h-1.3zM659.7 206.4h1.3v0.9h-1.3zM661.5 206.4h1.3v0.9h-1.3zM658.8 205.5h1.3v0.9h-1.3zM660.6 205.5h3.1v0.9h-3.1zM658.8 205h1.3v0.9h-1.3zM660.6 205h1.3v0.9h-1.3zM662.4 205h1.3v0.9h-1.3zM658.8 204.5h3.1v0.9h-3.1zM662.4 204.5h1.3v0.9h-1.3zM658.8 203.5h3.1v0.9h-3.1zM660.6 203.1h1.3v0.9h-1.3zM658.8 202.6h4.9v0.9h-4.9zM658.8 201.6h4.9v0.9h-4.9zM658.8 201.2h1.3v0.9h-1.3zM662.4 201.2h1.3v0.9h-1.3zM658.8 200.7h4.9v0.9h-4.9zM658.8 199.7h4.9v0.9h-4.9zM658.8 199.3h1.3v0.9h-1.3zM662.4 199.3h1.3v0.9h-1.3zM658.8 198.8h4.9v0.9h-4.9z" fill="#ffffff" shape-rendering="geometricPrecision"/>
<path d="M659.7 264.1h1.3v1.1h-1.3zM662.4 264.1h1.3v1.1h-1.3zM658.8 263.4h4.9v1.1h-4.9zM662.4 262.8h1.3v1.1h-1.3zM658.8 261.4h4.9v1.1h-4.9zM658.8 260.8h1.3v1.1h-1.3zM660.6 260.8h1.3v1.1h-1.3zM662.4 260.8h1.3v1.1h-1.3zM658.8 260.1h4.9v1.1h-4.9zM658.8 258.8h4.9v1.1h-4.9zM658.8 258.1h1.3v1.1h-1.3zM662.4 258.1h1.3v1.1h-1.3zM658.8 257.4h4.9v1.1h-4.9zM658.8 256.1h4.9v1.1h-4.9zM658.8 255.4h1.3v1.1h-1.3zM662.4 255.4h1.3v1.1h-1.3zM658.8 254.8h4.9v1.1h-4.9z" fill="#ffffff" shape-rendering="geometricPrecision"/>
<polygon points="691.5,70.5 716.5,70.5 716.5,79.5 705.5,79.5 705.5,83.5 691.5,83.5" stroke="#ffffff" stroke-width="1" fill="#4a72a0"/>
<polygon points="751.5,70.5 776.5,70.5 776.5,83.5 762.5,83.5 762.5,79.5 751.5,79.5" stroke="#ffffff" stroke-width="1" fill="#4a72a0"/>
<line x1="691.5" y1="72.5" x2="776.5" y2="72.5" stroke="#808080" stroke-width="1"/>
<line x1="691.5" y1="70.5" x2="791.4" y2="70.5" stroke="#ffffff" stroke-width="1"/>
<line x1="677.4" y1="70.5" x2="691.5" y2="70.5" stroke="#00ffff" stroke-width="1"/>
<line x1="705.5" y1="81.5" x2="762.5" y2="81.5" stroke="#ffffff" stroke-width="1"/>
<line x1="677.4" y1="81.5" x2="691.5" y2="81.5" stroke="#00ffff" stroke-width="1"/>
<line x1="776.5" y1="81.5" x2="791.4" y2="81.5" stroke="#ffffff" stroke-width="1"/>
<line x1="776.5" y1="72.5" x2="807.5" y2="72.5" stroke="#00ff00" stroke-width="1"/>
<polyline points="677.5,66 677.5,100 679.3,101.3 674.5,103.1 678.4,104 677.5,105 677.5,139" stroke="#ffffff" stroke-width="1" fill="none"/>
<polyline points="791.5,66 791.5,100 793.3,101.3 788.5,103.1 792.4,104 791.5,105 791.5,139" stroke="#ffffff" stroke-width="1" fill="none"/>
<polyline points="672.5,135.5 686.1,135.5 687.4,133.7 689.2,138.5 690.1,134.6 691.1,135.5 704,135.5" stroke="#ffffff" stroke-width="1" fill="none"/>
<polyline points="769,135.5 776.5,135.5 777.8,133.7 779.6,138.5 780.5,134.6 781.5,135.5 795,135.5" stroke="#ffffff" stroke-width="1" fill="none"/>
<line x1="696.5" y1="72" x2="696.5" y2="300" stroke="#808080" stroke-width="1"/>
<line x1="770.5" y1="72" x2="770.5" y2="300" stroke="#808080" stroke-width="1"/>
<line x1="691.5" y1="83.5" x2="691.5" y2="134" stroke="#00ffff" stroke-width="1"/>
<line x1="699.5" y1="83.5" x2="699.5" y2="171" stroke="#00ffff" stroke-width="1"/>
<line x1="768.5" y1="83.5" x2="768.5" y2="171" stroke="#00ffff" stroke-width="1"/>
<line x1="776.5" y1="83.5" x2="776.5" y2="134" stroke="#00ffff" stroke-width="1"/>
<line x1="699.5" y1="112.5" x2="768.5" y2="112.5" stroke="#00ffff" stroke-width="1"/>
<line x1="699.5" y1="117.5" x2="735.5" y2="117.5" stroke="#00ffff" stroke-width="1"/>
<line x1="735.5" y1="117.5" x2="768.5" y2="117.5" stroke="#ffff00" stroke-width="1"/>
<line x1="735.5" y1="124.5" x2="768.5" y2="124.5" stroke="#ffff00" stroke-width="1"/>
<line x1="699.5" y1="131.5" x2="768.5" y2="131.5" stroke="#ffff00" stroke-width="1"/>
<line x1="699.5" y1="138.5" x2="768.5" y2="138.5" stroke="#ffff00" stroke-width="1"/>
<line x1="699.5" y1="145.5" x2="768.5" y2="145.5" stroke="#ffff00" stroke-width="1"/>
<line x1="699.5" y1="153.5" x2="768.5" y2="153.5" stroke="#ffff00" stroke-width="1"/>
<line x1="699.5" y1="160.5" x2="768.5" y2="160.5" stroke="#ffff00" stroke-width="1"/>
<line x1="699.5" y1="167.5" x2="737.5" y2="167.5" stroke="#ffff00" stroke-width="1"/>
<line x1="735.5" y1="117" x2="735.5" y2="238" stroke="#ffff00" stroke-width="1"/>
<line x1="699.5" y1="174.5" x2="768.5" y2="174.5" stroke="#00ffff" stroke-width="1"/>
<line x1="699.5" y1="181.5" x2="768.5" y2="181.5" stroke="#00ffff" stroke-width="1"/>
<line x1="699.5" y1="188.5" x2="768.5" y2="188.5" stroke="#ffff00" stroke-width="1"/>
<line x1="699.5" y1="195.5" x2="768.5" y2="195.5" stroke="#ffff00" stroke-width="1"/>
<line x1="699.5" y1="202.5" x2="768.5" y2="202.5" stroke="#ffff00" stroke-width="1"/>
<line x1="699.5" y1="209.5" x2="768.5" y2="209.5" stroke="#ffff00" stroke-width="1"/>
<line x1="699.5" y1="216.5" x2="768.5" y2="216.5" stroke="#ffff00" stroke-width="1"/>
<line x1="699.5" y1="224.5" x2="768.5" y2="224.5" stroke="#ffff00" stroke-width="1"/>
<line x1="699.5" y1="231.5" x2="768.5" y2="231.5" stroke="#ffff00" stroke-width="1"/>
<line x1="699.5" y1="238.5" x2="768.5" y2="238.5" stroke="#00ffff" stroke-width="1"/>
<line x1="699.5" y1="243.5" x2="768.5" y2="243.5" stroke="#00ffff" stroke-width="1"/>
<polyline points="699.6,165.4 734.6,142.8" stroke="#ffff00" stroke-width="1" fill="none"/>
<polyline points="701,167.2 735.3,145" stroke="#ffff00" stroke-width="1" fill="none"/>
<polyline points="736.8,165.4 767.9,145.6" stroke="#ffff00" stroke-width="1" fill="none"/>
<polyline points="737.5,167.4 768,147.6" stroke="#ffff00" stroke-width="1" fill="none"/>
<line x1="716.5" y1="110" x2="716.5" y2="145" stroke="#00ff00" stroke-width="1"/>
<line x1="751.5" y1="110" x2="751.5" y2="145" stroke="#00ff00" stroke-width="1"/>
<line x1="716.5" y1="197" x2="716.5" y2="251" stroke="#00ff00" stroke-width="1"/>
<line x1="751.5" y1="197" x2="751.5" y2="251" stroke="#00ff00" stroke-width="1"/>
<path d="M714.5 102.5H718M716.25 102V106.5M716.85 104l1.2 1" stroke="#ffff00" stroke-width="1.1" fill="none"/>
<path d="M749.8 106H753.3M751.55 102V106.5M751.55 104h1.6" stroke="#ffff00" stroke-width="1.1" fill="none"/>
<path d="M714.5 252.5H718M716.25 248.5V253M716.25 250.5h1.6" stroke="#ffff00" stroke-width="1.1" fill="none"/>
<path d="M749.8 249H753.3M751.55 248.5V253M752.15 250.5l1.2 1" stroke="#ffff00" stroke-width="1.1" fill="none"/>
<path d="M723.1 113.1h1.6v1.2h-1.6zM725.4 113.1h1.6v1.2h-1.6zM723.1 113.8h1.6v1.2h-1.6zM725.4 113.8h1.6v1.2h-1.6zM723.1 114.6h1.6v1.2h-1.6zM725.4 114.6h1.6v1.2h-1.6zM723.1 115.3h1.6v1.2h-1.6zM725.4 115.3h1.6v1.2h-1.6zM723.1 116h3.9v1.2h-3.9zM727.7 113.1h3.9v1.2h-3.9zM727.7 113.8h1.6v1.2h-1.6zM729.9 113.8h1.6v1.2h-1.6zM727.7 114.6h3.9v1.2h-3.9zM727.7 115.3h1.6v1.2h-1.6zM727.7 116h1.6v1.2h-1.6z" fill="#ffff00" shape-rendering="geometricPrecision"/>
<path d="M729.8 238.3h2.7v1.2h-2.7zM729.8 239.1h1.6v1.2h-1.6zM732.1 239.1h1.6v1.2h-1.6zM729.8 239.9h1.6v1.2h-1.6zM732.1 239.9h1.6v1.2h-1.6zM729.8 240.7h1.6v1.2h-1.6zM732.1 240.7h1.6v1.2h-1.6zM729.8 241.5h2.7v1.2h-2.7zM734.4 238.3h1.6v1.2h-1.6zM736.6 238.3h1.6v1.2h-1.6zM734.4 239.1h3.9v1.2h-3.9zM734.4 239.9h3.9v1.2h-3.9zM734.4 240.7h3.9v1.2h-3.9zM734.4 241.5h1.6v1.2h-1.6zM736.6 241.5h1.6v1.2h-1.6z" fill="#ffff00" shape-rendering="geometricPrecision"/>
<polygon points="694.5,171.5 699.5,171.5 699.5,286.5 677.5,286.5 677.5,280.5 694.5,280.5" stroke="#ffffff" stroke-width="1" fill="#4a72a0"/>
<polygon points="768.5,171.5 773.5,171.5 773.5,280.5 791.5,280.5 791.5,286.5 768.5,286.5" stroke="#ffffff" stroke-width="1" fill="#4a72a0"/>
<polyline points="691.5,171.5 694.5,171.5" stroke="#ffffff" stroke-width="1" fill="none"/>
<polyline points="691.5,171.5 691.5,276.5 677.5,276.5" stroke="#ffffff" stroke-width="1" fill="none"/>
<polyline points="773.5,171.5 776.5,171.5 776.5,276.5 791.5,276.5" stroke="#ffffff" stroke-width="1" fill="none"/>
<line x1="696.5" y1="171" x2="696.5" y2="300" stroke="#808080" stroke-width="1"/>
<line x1="770.5" y1="171" x2="770.5" y2="300" stroke="#808080" stroke-width="1"/>
<line x1="677.5" y1="283.5" x2="791.5" y2="283.5" stroke="#808080" stroke-width="1"/>
<line x1="699.5" y1="280.5" x2="768.5" y2="280.5" stroke="#00ffff" stroke-width="1"/>
<line x1="699.5" y1="286.5" x2="768.5" y2="286.5" stroke="#00ffff" stroke-width="1"/>
<line x1="691.5" y1="286.5" x2="691.5" y2="300" stroke="#00ffff" stroke-width="1"/>
<line x1="699.5" y1="286.5" x2="699.5" y2="300" stroke="#00ffff" stroke-width="1"/>
<line x1="768.5" y1="286.5" x2="768.5" y2="300" stroke="#00ffff" stroke-width="1"/>
<line x1="776.5" y1="286.5" x2="776.5" y2="300" stroke="#00ffff" stroke-width="1"/>
<polyline points="674.2,300.5 733,300.5 734.3,298.7 736.1,303.5 737,299.6 738,300.5 796,300.5" stroke="#ffffff" stroke-width="1" fill="none"/>
<line x1="677.5" y1="287" x2="677.5" y2="305" stroke="#ffffff" stroke-width="1"/>
<line x1="791.5" y1="287" x2="791.5" y2="305" stroke="#ffffff" stroke-width="1"/>
<polyline points="677.5,272 677.5,286.5 679.3,287.8 674.5,289.6 678.4,290.5 677.5,291.5 677.5,292" stroke="#ffffff" stroke-width="1" fill="none"/>
<polyline points="791.5,272 791.5,286.5 793.3,287.8 788.5,289.6 792.4,290.5 791.5,291.5 791.5,292" stroke="#ffffff" stroke-width="1" fill="none"/>
<polygon points="728.2,97.2 736.2,97.2 732.2,102.2" stroke="#ffbf00" stroke-width="1" fill="none"/>
<line x1="728.2" y1="97.5" x2="743.2" y2="97.5" stroke="#ffbf00" stroke-width="1"/>
<path d="M731 92h2.4v1.3h-2.4zM731 92.8h1.1v1.3h-1.1zM732.2 92.8h1.1v1.3h-1.1zM731 93.6h1.1v1.3h-1.1zM732.2 93.6h1.1v1.3h-1.1zM731 94.5h1.1v1.3h-1.1zM732.2 94.5h1.1v1.3h-1.1zM731 95.3h2.4v1.3h-2.4zM734.1 95.3h1.1v1.3h-1.1zM736 92h2.4v1.3h-2.4zM736 92.8h1.1v1.3h-1.1zM737.3 92.8h1.1v1.3h-1.1zM736 93.6h1.1v1.3h-1.1zM737.3 93.6h1.1v1.3h-1.1zM736 94.5h1.1v1.3h-1.1zM737.3 94.5h1.1v1.3h-1.1zM736 95.3h2.4v1.3h-2.4zM738.5 92h2.4v1.3h-2.4zM738.5 92.8h1.1v1.3h-1.1zM739.8 92.8h1.1v1.3h-1.1zM738.5 93.6h1.1v1.3h-1.1zM739.8 93.6h1.1v1.3h-1.1zM738.5 94.5h1.1v1.3h-1.1zM739.8 94.5h1.1v1.3h-1.1zM738.5 95.3h2.4v1.3h-2.4zM741.1 92h2.4v1.3h-2.4zM741.1 92.8h1.1v1.3h-1.1zM742.3 92.8h1.1v1.3h-1.1zM741.1 93.6h1.1v1.3h-1.1zM742.3 93.6h1.1v1.3h-1.1zM741.1 94.5h1.1v1.3h-1.1zM742.3 94.5h1.1v1.3h-1.1zM741.1 95.3h2.4v1.3h-2.4z" fill="#ffbf00" shape-rendering="geometricPrecision"/>
<line x1="804.5" y1="72" x2="804.5" y2="284" stroke="#00ff00" stroke-width="1"/>
<line x1="802.9" y1="74.1" x2="806.1" y2="70.9" stroke="#00ff00" stroke-width="1.2"/>
<line x1="802.9" y1="119.1" x2="806.1" y2="115.9" stroke="#00ff00" stroke-width="1.2"/>
<line x1="802.9" y1="176.1" x2="806.1" y2="172.9" stroke="#00ff00" stroke-width="1.2"/>
<line x1="802.9" y1="183.1" x2="806.1" y2="179.9" stroke="#00ff00" stroke-width="1.2"/>
<line x1="802.9" y1="226.1" x2="806.1" y2="222.9" stroke="#00ff00" stroke-width="1.2"/>
<line x1="802.9" y1="240.1" x2="806.1" y2="236.9" stroke="#00ff00" stroke-width="1.2"/>
<line x1="802.9" y1="285.1" x2="806.1" y2="281.9" stroke="#00ff00" stroke-width="1.2"/>
<line x1="773" y1="117.5" x2="808" y2="117.5" stroke="#00ff00" stroke-width="1"/>
<line x1="773" y1="174.5" x2="808" y2="174.5" stroke="#00ff00" stroke-width="1"/>
<line x1="773" y1="181.5" x2="808" y2="181.5" stroke="#00ff00" stroke-width="1"/>
<line x1="773" y1="224.5" x2="808" y2="224.5" stroke="#00ff00" stroke-width="1"/>
<line x1="773" y1="238.5" x2="808" y2="238.5" stroke="#00ff00" stroke-width="1"/>
<line x1="773" y1="283.5" x2="808" y2="283.5" stroke="#00ff00" stroke-width="1"/>
<line x1="776.5" y1="283.5" x2="808" y2="283.5" stroke="#00ff00" stroke-width="1"/>
<path d="M799.7 98.8h1.4v1.1h-1.4zM802.6 98.8h1.4v1.1h-1.4zM798.8 98.2h5.2v1.1h-5.2zM802.6 97.5h1.4v1.1h-1.4zM798.8 96.3h3.3v1.1h-3.3zM802.6 96.3h1.4v1.1h-1.4zM798.8 95.7h1.4v1.1h-1.4zM800.7 95.7h1.4v1.1h-1.4zM802.6 95.7h1.4v1.1h-1.4zM798.8 95.1h1.4v1.1h-1.4zM800.7 95.1h3.3v1.1h-3.3zM798.8 93.9h5.2v1.1h-5.2zM798.8 93.2h1.4v1.1h-1.4zM802.6 93.2h1.4v1.1h-1.4zM798.8 92.6h5.2v1.1h-5.2zM798.8 91.4h5.2v1.1h-5.2zM798.8 90.8h1.4v1.1h-1.4zM802.6 90.8h1.4v1.1h-1.4zM798.8 90.2h5.2v1.1h-5.2z" fill="#ffffff" shape-rendering="geometricPrecision"/>
<path d="M798.8 154.9h1.4v0.9h-1.4zM800.7 154.9h3.3v0.9h-3.3zM798.8 154.5h1.4v0.9h-1.4zM800.7 154.5h1.4v0.9h-1.4zM802.6 154.5h1.4v0.9h-1.4zM798.8 154h3.3v0.9h-3.3zM802.6 154h1.4v0.9h-1.4zM798.8 153.1h5.2v0.9h-5.2zM798.8 152.6h1.4v0.9h-1.4zM800.7 152.6h1.4v0.9h-1.4zM802.6 152.6h1.4v0.9h-1.4zM798.8 152.2h5.2v0.9h-5.2zM798.8 151.3h3.3v0.9h-3.3zM802.6 151.3h1.4v0.9h-1.4zM798.8 150.8h1.4v0.9h-1.4zM800.7 150.8h1.4v0.9h-1.4zM802.6 150.8h1.4v0.9h-1.4zM798.8 150.4h1.4v0.9h-1.4zM800.7 150.4h3.3v0.9h-3.3zM798.8 149.5h5.2v0.9h-5.2zM798.8 149h1.4v0.9h-1.4zM802.6 149h1.4v0.9h-1.4zM798.8 148.5h5.2v0.9h-5.2zM799.7 147.6h1.4v0.9h-1.4zM801.7 147.6h1.4v0.9h-1.4zM800.7 147.2h1.4v0.9h-1.4zM799.7 146.7h1.4v0.9h-1.4zM801.7 146.7h1.4v0.9h-1.4zM798.8 145.8h5.2v0.9h-5.2zM798.8 145.4h1.4v0.9h-1.4zM800.7 145.4h1.4v0.9h-1.4zM802.6 145.4h1.4v0.9h-1.4zM798.8 144.9h5.2v0.9h-5.2zM799.7 144h1.4v0.9h-1.4zM801.7 144h1.4v0.9h-1.4zM799.7 143.5h1.4v0.9h-1.4zM801.7 143.5h1.4v0.9h-1.4zM799.7 143.1h1.4v0.9h-1.4zM801.7 143.1h1.4v0.9h-1.4zM798.8 142.2h1.4v0.9h-1.4zM800.7 142.2h3.3v0.9h-3.3zM798.8 141.7h1.4v0.9h-1.4zM800.7 141.7h1.4v0.9h-1.4zM802.6 141.7h1.4v0.9h-1.4zM798.8 141.2h3.3v0.9h-3.3zM802.6 141.2h1.4v0.9h-1.4zM798.8 140.3h3.3v0.9h-3.3zM800.7 139.9h1.4v0.9h-1.4zM798.8 139.4h5.2v0.9h-5.2zM798.8 138.5h5.2v0.9h-5.2zM798.8 138.1h1.4v0.9h-1.4zM802.6 138.1h1.4v0.9h-1.4zM798.8 137.6h5.2v0.9h-5.2zM798.8 136.7h5.2v0.9h-5.2zM798.8 136.2h1.4v0.9h-1.4zM802.6 136.2h1.4v0.9h-1.4zM798.8 135.8h5.2v0.9h-5.2z" fill="#ffffff" shape-rendering="geometricPrecision"/>
<path d="M798.8 180.2h5.2v1h-5.2zM798.8 179.7h1.4v1h-1.4zM800.7 179.7h1.4v1h-1.4zM802.6 179.7h1.4v1h-1.4zM798.8 179.1h1.4v1h-1.4zM800.7 179.1h3.3v1h-3.3zM798.8 178.1h5.2v1h-5.2zM798.8 177.5h1.4v1h-1.4zM802.6 177.5h1.4v1h-1.4zM798.8 177h5.2v1h-5.2zM798.8 175.9h5.2v1h-5.2zM798.8 175.3h1.4v1h-1.4zM802.6 175.3h1.4v1h-1.4zM798.8 174.8h5.2v1h-5.2z" fill="#ffffff" shape-rendering="geometricPrecision"/>
<path d="M798.8 212.8h1.4v0.9h-1.4zM800.7 212.8h3.3v0.9h-3.3zM798.8 212.3h1.4v0.9h-1.4zM800.7 212.3h1.4v0.9h-1.4zM802.6 212.3h1.4v0.9h-1.4zM798.8 211.8h3.3v0.9h-3.3zM802.6 211.8h1.4v0.9h-1.4zM798.8 210.9h5.2v0.9h-5.2zM798.8 210.4h1.4v0.9h-1.4zM800.7 210.4h1.4v0.9h-1.4zM802.6 210.4h1.4v0.9h-1.4zM798.8 209.9h5.2v0.9h-5.2zM798.8 209h3.3v0.9h-3.3zM802.6 209h1.4v0.9h-1.4zM798.8 208.5h1.4v0.9h-1.4zM800.7 208.5h1.4v0.9h-1.4zM802.6 208.5h1.4v0.9h-1.4zM798.8 208h1.4v0.9h-1.4zM800.7 208h3.3v0.9h-3.3zM798.8 207.1h5.2v0.9h-5.2zM798.8 206.6h1.4v0.9h-1.4zM802.6 206.6h1.4v0.9h-1.4zM798.8 206.1h5.2v0.9h-5.2zM799.7 205.2h1.4v0.9h-1.4zM801.7 205.2h1.4v0.9h-1.4zM800.7 204.7h1.4v0.9h-1.4zM799.7 204.2h1.4v0.9h-1.4zM801.7 204.2h1.4v0.9h-1.4zM798.8 203.3h5.2v0.9h-5.2zM798.8 202.8h1.4v0.9h-1.4zM800.7 202.8h1.4v0.9h-1.4zM802.6 202.8h1.4v0.9h-1.4zM798.8 202.3h5.2v0.9h-5.2zM799.7 201.4h1.4v0.9h-1.4zM801.7 201.4h1.4v0.9h-1.4zM799.7 200.9h1.4v0.9h-1.4zM801.7 200.9h1.4v0.9h-1.4zM799.7 200.4h1.4v0.9h-1.4zM801.7 200.4h1.4v0.9h-1.4zM798.8 199.5h1.4v0.9h-1.4zM800.7 199.5h3.3v0.9h-3.3zM798.8 199h1.4v0.9h-1.4zM800.7 199h1.4v0.9h-1.4zM802.6 199h1.4v0.9h-1.4zM798.8 198.5h3.3v0.9h-3.3zM802.6 198.5h1.4v0.9h-1.4zM798.8 197.5h3.3v0.9h-3.3zM800.7 197.1h1.4v0.9h-1.4zM798.8 196.6h5.2v0.9h-5.2zM798.8 195.6h5.2v0.9h-5.2zM798.8 195.2h1.4v0.9h-1.4zM802.6 195.2h1.4v0.9h-1.4zM798.8 194.7h5.2v0.9h-5.2zM798.8 193.7h5.2v0.9h-5.2zM798.8 193.3h1.4v0.9h-1.4zM802.6 193.3h1.4v0.9h-1.4zM798.8 192.8h5.2v0.9h-5.2z" fill="#ffffff" shape-rendering="geometricPrecision"/>
<path d="M798.8 233.2h5.2v1h-5.2zM798.8 232.7h1.4v1h-1.4zM800.7 232.7h1.4v1h-1.4zM802.6 232.7h1.4v1h-1.4zM798.8 232.1h1.4v1h-1.4zM800.7 232.1h3.3v1h-3.3zM798.8 231.1h5.2v1h-5.2zM798.8 230.5h1.4v1h-1.4zM802.6 230.5h1.4v1h-1.4zM798.8 230h5.2v1h-5.2zM798.8 228.9h5.2v1h-5.2zM798.8 228.3h1.4v1h-1.4zM802.6 228.3h1.4v1h-1.4zM798.8 227.8h5.2v1h-5.2z" fill="#ffffff" shape-rendering="geometricPrecision"/>
<path d="M799.7 264.1h1.4v1.1h-1.4zM802.6 264.1h1.4v1.1h-1.4zM798.8 263.4h5.2v1.1h-5.2zM802.6 262.8h1.4v1.1h-1.4zM798.8 261.4h5.2v1.1h-5.2zM798.8 260.8h1.4v1.1h-1.4zM800.7 260.8h1.4v1.1h-1.4zM802.6 260.8h1.4v1.1h-1.4zM798.8 260.1h5.2v1.1h-5.2zM798.8 258.8h5.2v1.1h-5.2zM798.8 258.1h1.4v1.1h-1.4zM802.6 258.1h1.4v1.1h-1.4zM798.8 257.4h5.2v1.1h-5.2zM798.8 256.1h5.2v1.1h-5.2zM798.8 255.4h1.4v1.1h-1.4zM802.6 255.4h1.4v1.1h-1.4zM798.8 254.8h5.2v1.1h-5.2z" fill="#ffffff" shape-rendering="geometricPrecision"/>
<path d="M703 151h3.9v1.3h-3.9zM703 150.3h1.3v1.3h-1.3zM705.6 150.3h1.3v1.3h-1.3zM703 149.6h3.9v1.3h-3.9zM703 148.2h3.9v1.3h-3.9zM703 147.5h1.3v1.3h-1.3zM704.3 147.5h1.3v1.3h-1.3zM705.6 147.5h1.3v1.3h-1.3zM703 146.8h1.3v1.3h-1.3zM704.3 146.8h1.3v1.3h-1.3zM705.6 146.8h1.3v1.3h-1.3zM703 145.4h1.3v1.3h-1.3zM703 144.7h1.3v1.3h-1.3zM704.3 144.7h2.6v1.3h-2.6zM703 144h1.9v1.3h-1.9zM703 142.6h3.9v1.3h-3.9zM703 141.8h1.3v1.3h-1.3zM705.6 141.8h1.3v1.3h-1.3zM703 141.1h1.3v1.3h-1.3zM705.6 141.1h1.3v1.3h-1.3zM703 139.7h2.6v1.3h-2.6zM705.6 139.7h1.3v1.3h-1.3zM703 139h1.3v1.3h-1.3zM704.3 139h1.3v1.3h-1.3zM705.6 139h1.3v1.3h-1.3zM703 138.3h3.9v1.3h-3.9zM703 136.9h1.3v1.3h-1.3zM704.3 136.9h2.6v1.3h-2.6zM703 136.2h1.3v1.3h-1.3zM704.3 136.2h1.3v1.3h-1.3zM705.6 136.2h1.3v1.3h-1.3zM703 135.5h2.6v1.3h-2.6zM705.6 135.5h1.3v1.3h-1.3zM703 134.1h3.9v1.3h-3.9zM703 133.4h1.3v1.3h-1.3zM704.3 133.4h1.3v1.3h-1.3zM705.6 133.4h1.3v1.3h-1.3zM703 132.7h3.9v1.3h-3.9z" fill="#ffff00" shape-rendering="geometricPrecision"/>
<path d="M707 150.9h3.9v1.4h-3.9zM707.7 150.1h1.9v1.4h-1.9zM707 149.3h3.9v1.4h-3.9zM707 147.7h1.3v1.4h-1.3zM709 147.7h1.9v1.4h-1.9zM707 146.9h1.3v1.4h-1.3zM708.3 146.9h1.3v1.4h-1.3zM709.6 146.9h1.3v1.4h-1.3zM707 146.1h1.9v1.4h-1.9zM709.6 146.1h1.3v1.4h-1.3zM707 144.5h3.9v1.4h-3.9zM707 143.7h1.3v1.4h-1.3zM708.3 143.7h1.3v1.4h-1.3zM709.6 143.7h1.3v1.4h-1.3zM707 142.9h3.9v1.4h-3.9zM707 141.3h2.6v1.4h-2.6zM709.6 141.3h1.3v1.4h-1.3zM707 140.5h1.3v1.4h-1.3zM708.3 140.5h1.3v1.4h-1.3zM709.6 140.5h1.3v1.4h-1.3zM707 139.6h3.9v1.4h-3.9zM707 138h1.3v1.4h-1.3zM708.3 138h2.6v1.4h-2.6zM707 137.2h1.3v1.4h-1.3zM708.3 137.2h1.3v1.4h-1.3zM709.6 137.2h1.3v1.4h-1.3zM707 136.4h2.6v1.4h-2.6zM709.6 136.4h1.3v1.4h-1.3zM707 134.8h1.9v1.4h-1.9zM709 134.8h1.9v1.4h-1.9zM708.3 134h1.3v1.4h-1.3zM707 133.2h1.9v1.4h-1.9zM709 133.2h1.9v1.4h-1.9z" fill="#ffff00" shape-rendering="geometricPrecision"/>
<path d="M711 150.9h1.3v1.4h-1.3zM713 150.9h1.9v1.4h-1.9zM711 150h1.3v1.4h-1.3zM712.3 150h1.3v1.4h-1.3zM713.6 150h1.3v1.4h-1.3zM711 149.2h1.9v1.4h-1.9zM713.6 149.2h1.3v1.4h-1.3zM711 147.5h3.9v1.4h-3.9zM711.7 146.7h1.9v1.4h-1.9zM711 145.9h3.9v1.4h-3.9zM711 144.2h3.9v1.4h-3.9zM711 143.4h1.3v1.4h-1.3zM712.3 143.4h1.3v1.4h-1.3zM713.6 143.4h1.3v1.4h-1.3zM711 142.5h2.6v1.4h-2.6zM713.6 142.5h1.3v1.4h-1.3z" fill="#ffff00" shape-rendering="geometricPrecision"/>
<path d="M755.5 137.9h2.7v1.4h-2.7zM756.9 137.1h1.3v1.4h-1.3zM755.5 136.3h4.1v1.4h-4.1zM755.5 134.7h1.3v1.4h-1.3zM755.5 133.9h4.1v1.4h-4.1zM755.5 133.1h1.3v1.4h-1.3zM755.5 131.5h2.7v1.4h-2.7zM758.3 131.5h1.3v1.4h-1.3zM755.5 130.7h1.3v1.4h-1.3zM756.9 130.7h1.3v1.4h-1.3zM758.3 130.7h1.3v1.4h-1.3zM755.5 129.9h4.1v1.4h-4.1zM755.5 128.3h4.1v1.4h-4.1zM756.2 127.6h2.7v1.4h-2.7zM755.5 126.8h4.1v1.4h-4.1zM755.5 125.2h4.1v1.4h-4.1zM758.3 124.4h1.3v1.4h-1.3zM758.3 123.6h1.3v1.4h-1.3zM755.5 122h4.1v1.4h-4.1zM755.5 121.2h1.3v1.4h-1.3zM756.9 121.2h1.3v1.4h-1.3zM755.5 120.4h1.3v1.4h-1.3zM756.9 120.4h1.3v1.4h-1.3zM756.2 118.8h1.3v1.4h-1.3zM758.3 118.8h1.3v1.4h-1.3zM755.5 118h4.1v1.4h-4.1zM758.3 117.2h1.3v1.4h-1.3z" fill="#ffff00" shape-rendering="geometricPrecision"/>
<path d="M759.7 137.9h4.1v1.4h-4.1zM759.7 137.1h1.3v1.4h-1.3zM761.1 137.1h1.3v1.4h-1.3zM762.4 137.1h1.3v1.4h-1.3zM759.7 136.3h1.3v1.4h-1.3zM761.1 136.3h2.7v1.4h-2.7zM759.7 134.7h4.1v1.4h-4.1zM759.7 134h1.3v1.4h-1.3zM761.1 134h1.3v1.4h-1.3zM762.4 134h1.3v1.4h-1.3zM760.4 133.2h1.3v1.4h-1.3zM761.7 133.2h1.3v1.4h-1.3zM759.7 131.6h4.1v1.4h-4.1zM760.4 130.8h1.3v1.4h-1.3zM761.7 130.8h1.3v1.4h-1.3zM759.7 130h1.3v1.4h-1.3zM762.4 130h1.3v1.4h-1.3zM760.4 128.4h3.4v1.4h-3.4zM759.7 127.6h1.3v1.4h-1.3zM761.1 127.6h1.3v1.4h-1.3zM760.4 126.8h3.4v1.4h-3.4zM759.7 125.3h1.3v1.4h-1.3zM761.1 125.3h1.3v1.4h-1.3zM762.4 125.3h1.3v1.4h-1.3zM759.7 124.5h1.3v1.4h-1.3zM761.1 124.5h1.3v1.4h-1.3zM762.4 124.5h1.3v1.4h-1.3zM759.7 123.7h4.1v1.4h-4.1zM759.7 122.1h2.7v1.4h-2.7zM762.4 122.1h1.3v1.4h-1.3zM759.7 121.3h1.3v1.4h-1.3zM761.1 121.3h1.3v1.4h-1.3zM762.4 121.3h1.3v1.4h-1.3zM759.7 120.5h1.3v1.4h-1.3zM761.1 120.5h2.7v1.4h-2.7z" fill="#ffff00" shape-rendering="geometricPrecision"/>
<path d="M763.8 137.9h4.1v1.4h-4.1zM763.8 137.1h1.3v1.4h-1.3zM765.2 137.1h1.3v1.4h-1.3zM766.6 137.1h1.3v1.4h-1.3zM763.8 136.4h1.3v1.4h-1.3zM765.2 136.4h1.3v1.4h-1.3zM766.6 136.4h1.3v1.4h-1.3zM763.8 134.8h4.1v1.4h-4.1zM763.8 134h1.3v1.4h-1.3zM766.6 134h1.3v1.4h-1.3zM763.8 133.3h1.3v1.4h-1.3zM765.2 133.3h2.7v1.4h-2.7zM763.8 131.7h4.1v1.4h-4.1zM765.2 130.9h2v1.4h-2zM763.8 130.2h4.1v1.4h-4.1zM763.8 128.6h4.1v1.4h-4.1zM763.8 127.8h1.3v1.4h-1.3zM766.6 127.8h1.3v1.4h-1.3zM763.8 127.1h4.1v1.4h-4.1zM763.8 125.5h4.1v1.4h-4.1zM764.5 124.7h2v1.4h-2zM763.8 124h4.1v1.4h-4.1zM763.8 122.4h4.1v1.4h-4.1zM763.8 121.6h1.3v1.4h-1.3zM765.2 121.6h1.3v1.4h-1.3zM766.6 121.6h1.3v1.4h-1.3zM763.8 120.9h4.1v1.4h-4.1z" fill="#ffff00" shape-rendering="geometricPrecision"/>
<path d="M703 222.9h1.3v1.4h-1.3zM705.6 222.9h1.3v1.4h-1.3zM703 222.1h3.9v1.4h-3.9zM703 221.4h1.3v1.4h-1.3zM705.6 221.4h1.3v1.4h-1.3zM703.7 219.8h1.3v1.4h-1.3zM705 219.8h1.3v1.4h-1.3zM704.3 219h1.3v1.4h-1.3zM703.7 218.3h1.3v1.4h-1.3zM705 218.3h1.3v1.4h-1.3zM705 216.7h1.9v1.4h-1.9zM705.6 215.9h1.3v1.4h-1.3zM703 215.1h3.9v1.4h-3.9zM703 213.6h1.3v1.4h-1.3zM705 213.6h1.9v1.4h-1.9zM703 212.8h1.3v1.4h-1.3zM704.3 212.8h1.3v1.4h-1.3zM705.6 212.8h1.3v1.4h-1.3zM703 212h1.9v1.4h-1.9zM705.6 212h1.3v1.4h-1.3zM703 210.5h3.9v1.4h-3.9zM703 209.7h1.3v1.4h-1.3zM704.3 209.7h1.3v1.4h-1.3zM703 208.9h2.6v1.4h-2.6zM703 207.4h3.9v1.4h-3.9zM703 206.6h1.3v1.4h-1.3zM704.3 206.6h1.3v1.4h-1.3zM705.6 206.6h1.3v1.4h-1.3zM703 205.8h1.3v1.4h-1.3zM704.3 205.8h1.3v1.4h-1.3zM705.6 205.8h1.3v1.4h-1.3zM703 204.3h3.2v1.4h-3.2zM703 203.5h1.3v1.4h-1.3zM705 203.5h1.3v1.4h-1.3zM703 202.7h3.9v1.4h-3.9z" fill="#ffff00" shape-rendering="geometricPrecision"/>
<path d="M707 223h3.9v1.3h-3.9zM707.7 222.2h1.9v1.3h-1.9zM707 221.5h3.9v1.3h-3.9zM707 220.1h2.6v1.3h-2.6zM709.6 220.1h1.3v1.3h-1.3zM707 219.3h1.3v1.3h-1.3zM708.3 219.3h1.3v1.3h-1.3zM709.6 219.3h1.3v1.3h-1.3zM707 218.6h1.3v1.3h-1.3zM708.3 218.6h2.6v1.3h-2.6zM707.7 217.2h1.3v1.3h-1.3zM709 217.2h1.3v1.3h-1.3zM707.7 216.4h1.3v1.3h-1.3zM709 216.4h1.3v1.3h-1.3zM707.7 215.7h1.3v1.3h-1.3zM709 215.7h1.3v1.3h-1.3zM707 214.3h3.2v1.3h-3.2zM707 213.5h1.3v1.3h-1.3zM709 213.5h1.3v1.3h-1.3zM707 212.8h3.9v1.3h-3.9zM707 211.3h1.9v1.3h-1.9zM708.3 210.6h2.6v1.3h-2.6zM707 209.9h1.9v1.3h-1.9zM707 208.4h3.9v1.3h-3.9zM707.7 207.7h1.3v1.3h-1.3zM709 207.7h1.3v1.3h-1.3zM707 207h1.3v1.3h-1.3zM709.6 207h1.3v1.3h-1.3zM707 205.5h3.9v1.3h-3.9zM707 204.8h1.3v1.3h-1.3zM708.3 204.8h1.3v1.3h-1.3zM709.6 204.8h1.3v1.3h-1.3zM707.7 204.1h1.3v1.3h-1.3zM709 204.1h1.3v1.3h-1.3z" fill="#ffff00" shape-rendering="geometricPrecision"/>
<path d="M711 222.9h2.6v1.4h-2.6zM713.6 222.9h1.3v1.4h-1.3zM711 222.2h1.3v1.4h-1.3zM712.3 222.2h1.3v1.4h-1.3zM713.6 222.2h1.3v1.4h-1.3zM711 221.4h1.3v1.4h-1.3zM712.3 221.4h2.6v1.4h-2.6zM711 219.9h3.9v1.4h-3.9zM711 219.1h1.3v1.4h-1.3zM712.3 219.1h1.3v1.4h-1.3zM713.6 219.1h1.3v1.4h-1.3zM711 218.4h1.3v1.4h-1.3zM712.3 218.4h1.3v1.4h-1.3zM713.6 218.4h1.3v1.4h-1.3zM711 216.8h3.9v1.4h-3.9zM711 216.1h1.3v1.4h-1.3zM712.3 216.1h1.3v1.4h-1.3zM713.6 216.1h1.3v1.4h-1.3zM711 215.3h2.6v1.4h-2.6zM713.6 215.3h1.3v1.4h-1.3zM711 213.8h3.9v1.4h-3.9zM711 213h1.3v1.4h-1.3zM713.6 213h1.3v1.4h-1.3zM711.7 212.3h2.6v1.4h-2.6zM713 210.7h1.9v1.4h-1.9zM713.6 210h1.3v1.4h-1.3zM711 209.2h3.9v1.4h-3.9zM711 207.7h2.6v1.4h-2.6zM712.3 206.9h1.3v1.4h-1.3zM711 206.1h3.9v1.4h-3.9zM711 204.6h3.9v1.4h-3.9zM711.7 203.9h2.6v1.4h-2.6zM711 203.1h3.9v1.4h-3.9z" fill="#ffff00" shape-rendering="geometricPrecision"/>
<path d="M755 222.9h2.8v1.4h-2.8zM757.9 222.9h1.3v1.4h-1.3zM755 222.1h1.3v1.4h-1.3zM756.5 222.1h1.3v1.4h-1.3zM757.9 222.1h1.3v1.4h-1.3zM755 221.4h1.3v1.4h-1.3zM756.5 221.4h2.8v1.4h-2.8zM755 219.8h4.2v1.4h-4.2zM756.5 219h1.3v1.4h-1.3zM755 218.3h4.2v1.4h-4.2zM755 216.7h3.5v1.4h-3.5zM757.9 215.9h1.3v1.4h-1.3zM755 215.1h3.5v1.4h-3.5zM755.7 213.6h1.3v1.4h-1.3zM757.9 213.6h1.3v1.4h-1.3zM755 212.8h4.2v1.4h-4.2zM757.9 212h1.3v1.4h-1.3zM755 210.5h1.3v1.4h-1.3zM757.2 210.5h2.1v1.4h-2.1zM755 209.7h1.3v1.4h-1.3zM756.5 209.7h1.3v1.4h-1.3zM757.9 209.7h1.3v1.4h-1.3zM755 208.9h2.1v1.4h-2.1zM757.9 208.9h1.3v1.4h-1.3zM755.7 207.4h1.3v1.4h-1.3zM757.9 207.4h1.3v1.4h-1.3zM755 206.6h4.2v1.4h-4.2zM757.9 205.8h1.3v1.4h-1.3zM755 204.3h4.2v1.4h-4.2zM755 203.5h1.3v1.4h-1.3zM756.5 203.5h1.3v1.4h-1.3zM755.7 202.7h1.3v1.4h-1.3zM757.2 202.7h2.1v1.4h-2.1z" fill="#ffff00" shape-rendering="geometricPrecision"/>
<path d="M759.3 223h2.8v1.3h-2.8zM760.8 222.3h1.3v1.3h-1.3zM759.3 221.5h4.2v1.3h-4.2zM759.3 219.4h1.3v1.3h-1.3zM762.2 219.4h1.3v1.3h-1.3zM760.1 218.7h2.8v1.3h-2.8zM759.3 217.2h4.2v1.3h-4.2zM760.1 216.5h2.8v1.3h-2.8zM759.3 215.8h4.2v1.3h-4.2zM760.1 214.4h3.5v1.3h-3.5zM759.3 213.6h1.3v1.3h-1.3zM760.8 213.6h1.3v1.3h-1.3zM760.1 212.9h3.5v1.3h-3.5zM759.3 211.5h4.2v1.3h-4.2zM759.3 210.8h1.3v1.3h-1.3zM760.8 210.8h1.3v1.3h-1.3zM762.2 210.8h1.3v1.3h-1.3zM759.3 210h1.3v1.3h-1.3zM760.8 210h2.8v1.3h-2.8z" fill="#ffff00" shape-rendering="geometricPrecision"/>
<path d="M763.7 223h2.8v1.3h-2.8zM766.6 223h1.3v1.3h-1.3zM763.7 222.3h1.3v1.3h-1.3zM765.1 222.3h1.3v1.3h-1.3zM766.6 222.3h1.3v1.3h-1.3zM763.7 221.6h4.2v1.3h-4.2zM763.7 220.2h4.2v1.3h-4.2zM763.7 219.5h1.3v1.3h-1.3zM765.1 219.5h1.3v1.3h-1.3zM766.6 219.5h1.3v1.3h-1.3zM763.7 218.8h1.3v1.3h-1.3zM765.1 218.8h2.8v1.3h-2.8zM763.7 217.4h4.2v1.3h-4.2zM763.7 216.7h1.3v1.3h-1.3zM765.1 216.7h1.3v1.3h-1.3zM763.7 216h2.8v1.3h-2.8zM763.7 214.5h4.2v1.3h-4.2zM765.1 213.8h1.3v1.3h-1.3zM763.7 213.1h4.2v1.3h-4.2zM763.7 211.7h2.1v1.3h-2.1zM765.1 211h2.8v1.3h-2.8zM763.7 210.3h2.1v1.3h-2.1zM763.7 208.9h4.2v1.3h-4.2zM763.7 208.2h1.3v1.3h-1.3zM766.6 208.2h1.3v1.3h-1.3zM763.7 207.5h4.2v1.3h-4.2z" fill="#ffff00" shape-rendering="geometricPrecision"/>
<polyline points="775,165 763.5,165 763.5,178" stroke="#ffff00" stroke-width="1" fill="none"/>
<path d="M774.7 153h3.2v1.4h-3.2zM774.7 153.8h1.5v1.4h-1.5zM776.4 153.8h1.5v1.4h-1.5zM774.7 154.7h1.5v1.4h-1.5zM776.4 154.7h1.5v1.4h-1.5zM774.7 155.5h1.5v1.4h-1.5zM776.4 155.5h1.5v1.4h-1.5zM774.7 156.4h3.2v1.4h-3.2zM779 153h1.5v1.4h-1.5zM778.2 153.8h1.5v1.4h-1.5zM779.9 153.8h1.5v1.4h-1.5zM778.2 154.7h3.2v1.4h-3.2zM778.2 155.5h1.5v1.4h-1.5zM779.9 155.5h1.5v1.4h-1.5zM778.2 156.4h1.5v1.4h-1.5zM779.9 156.4h1.5v1.4h-1.5zM781.7 153h3.2v1.4h-3.2zM781.7 153.8h1.5v1.4h-1.5zM783.4 153.8h1.5v1.4h-1.5zM781.7 154.7h3.2v1.4h-3.2zM781.7 155.5h1.5v1.4h-1.5zM783.4 155.5h1.5v1.4h-1.5zM781.7 156.4h3.2v1.4h-3.2zM786 153h1.5v1.4h-1.5zM785.1 153.8h1.5v1.4h-1.5zM786.9 153.8h1.5v1.4h-1.5zM785.1 154.7h3.2v1.4h-3.2zM785.1 155.5h1.5v1.4h-1.5zM786.9 155.5h1.5v1.4h-1.5zM785.1 156.4h1.5v1.4h-1.5zM786.9 156.4h1.5v1.4h-1.5zM788.6 153h3.2v1.4h-3.2zM788.6 153.8h1.5v1.4h-1.5zM790.4 153.8h1.5v1.4h-1.5zM788.6 154.7h3.2v1.4h-3.2zM790.4 155.5h1.5v1.4h-1.5zM788.6 156.4h3.2v1.4h-3.2zM792.1 153h2.3v1.4h-2.3zM792.1 153.8h1.5v1.4h-1.5zM793.8 153.8h1.5v1.4h-1.5zM792.1 154.7h1.5v1.4h-1.5zM793.8 154.7h1.5v1.4h-1.5zM792.1 155.5h1.5v1.4h-1.5zM793.8 155.5h1.5v1.4h-1.5zM792.1 156.4h2.3v1.4h-2.3z" fill="#ffff00" shape-rendering="geometricPrecision"/>
<path d="M774.7 158h1.4v1.4h-1.4zM776.3 158h1.4v1.4h-1.4zM774.7 158.8h1.4v1.4h-1.4zM776.3 158.8h1.4v1.4h-1.4zM774.7 159.7h1.4v1.4h-1.4zM776.3 159.7h1.4v1.4h-1.4zM774.7 160.5h1.4v1.4h-1.4zM776.3 160.5h1.4v1.4h-1.4zM774.7 161.4h3v1.4h-3zM777.9 158h3v1.4h-3zM778.7 158.8h1.4v1.4h-1.4zM778.7 159.7h1.4v1.4h-1.4zM778.7 160.5h1.4v1.4h-1.4zM777.9 161.4h3v1.4h-3zM781 158h3v1.4h-3zM782.6 158.8h1.4v1.4h-1.4zM781 159.7h3v1.4h-3zM782.6 160.5h1.4v1.4h-1.4zM781 161.4h3v1.4h-3zM784.2 158h3v1.4h-3zM784.2 158.8h1.4v1.4h-1.4zM784.2 159.7h3v1.4h-3zM785.8 160.5h1.4v1.4h-1.4zM784.2 161.4h3v1.4h-3zM787.4 158h3v1.4h-3zM787.4 158.8h1.4v1.4h-1.4zM788.9 158.8h1.4v1.4h-1.4zM787.4 159.7h3v1.4h-3zM787.4 160.5h1.4v1.4h-1.4zM787.4 161.4h1.4v1.4h-1.4z" fill="#ffff00" shape-rendering="geometricPrecision"/>
<path d="M778.8 195.8h2.6v1.2h-2.6zM778.8 196.6h1.2v1.2h-1.2zM780.2 196.6h1.2v1.2h-1.2zM778.8 197.4h2.6v1.2h-2.6zM778.8 198.2h1.2v1.2h-1.2zM778.8 199h1.2v1.2h-1.2zM781.6 195.8h1.9v1.2h-1.9zM781.6 196.6h1.2v1.2h-1.2zM783.1 196.6h1.2v1.2h-1.2zM781.6 197.4h1.9v1.2h-1.9zM781.6 198.2h1.2v1.2h-1.2zM783.1 198.2h1.2v1.2h-1.2zM781.6 199h1.9v1.2h-1.9z" fill="#ffff00" shape-rendering="geometricPrecision"/>
<rect x="778" y="281.5" width="6" height="4.5" fill="#ffff00"/>
<polygon points="728,261.5 736,261.5 732,266.5" stroke="#ffbf00" stroke-width="1" fill="none"/>
<line x1="728" y1="261.5" x2="743" y2="261.5" stroke="#ffbf00" stroke-width="1"/>
<path d="M730.8 256.2h2.4v1.3h-2.4zM730.8 257.1h1.1v1.3h-1.1zM732 257.1h1.1v1.3h-1.1zM730.8 257.9h1.1v1.3h-1.1zM732 257.9h1.1v1.3h-1.1zM730.8 258.8h1.1v1.3h-1.1zM732 258.8h1.1v1.3h-1.1zM730.8 259.6h2.4v1.3h-2.4zM733.9 259.6h1.1v1.3h-1.1zM735.8 256.2h2.4v1.3h-2.4zM735.8 257.1h1.1v1.3h-1.1zM737.1 257.1h1.1v1.3h-1.1zM735.8 257.9h1.1v1.3h-1.1zM737.1 257.9h1.1v1.3h-1.1zM735.8 258.8h1.1v1.3h-1.1zM737.1 258.8h1.1v1.3h-1.1zM735.8 259.6h2.4v1.3h-2.4zM738.3 256.2h2.4v1.3h-2.4zM738.3 257.1h1.1v1.3h-1.1zM739.6 257.1h1.1v1.3h-1.1zM738.3 257.9h1.1v1.3h-1.1zM739.6 257.9h1.1v1.3h-1.1zM738.3 258.8h1.1v1.3h-1.1zM739.6 258.8h1.1v1.3h-1.1zM738.3 259.6h2.4v1.3h-2.4zM740.9 256.2h2.4v1.3h-2.4zM740.9 257.1h1.1v1.3h-1.1zM742.1 257.1h1.1v1.3h-1.1zM740.9 257.9h1.1v1.3h-1.1zM742.1 257.9h1.1v1.3h-1.1zM740.9 258.8h1.1v1.3h-1.1zM742.1 258.8h1.1v1.3h-1.1zM740.9 259.6h2.4v1.3h-2.4z" fill="#ffbf00" shape-rendering="geometricPrecision"/>
<path d="M706.5 320.5H711.5M708.5 320.5V329.8M713.5 320.5V329.8M711.5 322.5L713.5 320.5" stroke="#ff00ff" stroke-width="1" fill="none"/>
<path d="M716 322.5H720 M716 325.5H720 M717 329.5H720 M716.5 320V328 M717.5 322V328" stroke="#ff00ff" stroke-width="1" fill="none"/>
<path d="M723 320.5H727 M725 322.5H727 M723 325.5H727 M723 327.5H727 M724.5 324V330 M726.5 320V328" stroke="#ff00ff" stroke-width="1" fill="none"/>
<path d="M730 322.5H732 M729 327.5H733 M729 329.5H732 M729.5 320V330 M732.5 322V328" stroke="#ff00ff" stroke-width="1" fill="none"/>
<path d="M738 320.5H739 M736 322.5H740 M737 327.5H741 M737.5 322V326 M740.5 324V326" stroke="#ff00ff" stroke-width="1" fill="none"/>
<path d="M744 320.5H746 M744 322.5H748 M745 325.5H748 M744 327.5H748 M743.5 324V326 M747.5 320V328" stroke="#ff00ff" stroke-width="1" fill="none"/>
<rect x="704" y="332" width="57" height="2" fill="#ff00ff"/>
<circle cx="901.7" cy="25" r="5.8" stroke="#10a8a8" stroke-width="1" fill="none"/>
<path d="M899.8 22h3.8v1.6h-3.8zM899.8 23.1h1.6v1.6h-1.6zM902 23.1h1.6v1.6h-1.6zM899.8 24.2h3.8v1.6h-3.8zM899.8 25.3h1.6v1.6h-1.6zM902 25.3h1.6v1.6h-1.6zM899.8 26.5h3.8v1.6h-3.8z" fill="#ffffff" shape-rendering="geometricPrecision"/>
<circle cx="975.8" cy="25" r="5.8" stroke="#10a8a8" stroke-width="1" fill="none"/>
<path d="M973.1 22h1.4v1.6h-1.4zM972.1 23.1h2.4v1.6h-2.4zM973.1 24.2h1.4v1.6h-1.4zM973.1 25.3h1.4v1.6h-1.4zM972.1 26.5h3.4v1.6h-3.4zM976.1 22h3.4v1.6h-3.4zM976.1 23.1h1.4v1.6h-1.4zM978 23.1h1.4v1.6h-1.4zM976.1 24.2h1.4v1.6h-1.4zM978 24.2h1.4v1.6h-1.4zM976.1 25.3h1.4v1.6h-1.4zM978 25.3h1.4v1.6h-1.4zM976.1 26.5h3.4v1.6h-3.4z" fill="#ffffff" shape-rendering="geometricPrecision"/>
<line x1="901.5" y1="31" x2="901.5" y2="72" stroke="#00ff00" stroke-width="1"/>
<line x1="975.5" y1="31" x2="975.5" y2="72" stroke="#00ff00" stroke-width="1"/>
<line x1="899.5" y1="37.5" x2="978" y2="37.5" stroke="#00ff00" stroke-width="1"/>
<line x1="900.1" y1="39.1" x2="903.3" y2="35.9" stroke="#00ff00" stroke-width="1.2"/>
<line x1="974.2" y1="39.1" x2="977.4" y2="35.9" stroke="#00ff00" stroke-width="1.2"/>
<line x1="899.5" y1="48.5" x2="978" y2="48.5" stroke="#00ff00" stroke-width="1"/>
<line x1="900.1" y1="50.1" x2="903.3" y2="46.9" stroke="#00ff00" stroke-width="1.2"/>
<line x1="902.9" y1="50.1" x2="906.1" y2="46.9" stroke="#00ff00" stroke-width="1.2"/>
<line x1="938.9" y1="50.1" x2="942.1" y2="46.9" stroke="#00ff00" stroke-width="1.2"/>
<line x1="971.9" y1="50.1" x2="975.1" y2="46.9" stroke="#00ff00" stroke-width="1.2"/>
<line x1="974.2" y1="50.1" x2="977.4" y2="46.9" stroke="#00ff00" stroke-width="1.2"/>
<line x1="904.5" y1="46" x2="904.5" y2="70" stroke="#00ff00" stroke-width="1"/>
<line x1="940.5" y1="46" x2="940.5" y2="70" stroke="#00ff00" stroke-width="1"/>
<line x1="973.5" y1="46" x2="973.5" y2="70" stroke="#00ff00" stroke-width="1"/>
<path d="M934.4 32h2.1v1.3h-2.1zM935.5 32.8h1v1.3h-1zM934.4 33.7h2.1v1.3h-2.1zM935.5 34.6h1v1.3h-1zM934.4 35.4h2.1v1.3h-2.1zM936.6 32h2.1v1.3h-2.1zM937.8 32.8h1v1.3h-1zM937.2 33.7h1v1.3h-1zM937.2 34.6h1v1.3h-1zM937.2 35.4h1v1.3h-1zM938.9 32h2.1v1.3h-2.1zM938.9 32.8h1v1.3h-1zM940 32.8h1v1.3h-1zM938.9 33.7h1v1.3h-1zM940 33.7h1v1.3h-1zM938.9 34.6h1v1.3h-1zM940 34.6h1v1.3h-1zM938.9 35.4h2.1v1.3h-2.1zM941.2 32h2.1v1.3h-2.1zM941.2 32.8h1v1.3h-1zM942.3 32.8h1v1.3h-1zM941.2 33.7h1v1.3h-1zM942.3 33.7h1v1.3h-1zM941.2 34.6h1v1.3h-1zM942.3 34.6h1v1.3h-1zM941.2 35.4h2.1v1.3h-2.1z" fill="#ffffff" shape-rendering="geometricPrecision"/>
<path d="M900.3 43.3h1.9v1.1h-1.9zM901.3 44h0.9v1.1h-0.9zM900.3 44.7h1.9v1.1h-1.9zM900.3 45.4h0.9v1.1h-0.9zM900.3 46.1h1.9v1.1h-1.9zM902.3 43.3h1.9v1.1h-1.9zM902.3 44h0.9v1.1h-0.9zM903.3 44h0.9v1.1h-0.9zM902.3 44.7h0.9v1.1h-0.9zM903.3 44.7h0.9v1.1h-0.9zM902.3 45.4h0.9v1.1h-0.9zM903.3 45.4h0.9v1.1h-0.9zM902.3 46.1h1.9v1.1h-1.9zM904.3 43.3h1.9v1.1h-1.9zM904.3 44h0.9v1.1h-0.9zM905.3 44h0.9v1.1h-0.9zM904.3 44.7h0.9v1.1h-0.9zM905.3 44.7h0.9v1.1h-0.9zM904.3 45.4h0.9v1.1h-0.9zM905.3 45.4h0.9v1.1h-0.9zM904.3 46.1h1.9v1.1h-1.9z" fill="#ffffff" shape-rendering="geometricPrecision"/>
<path d="M919.2 43.3h0.9v1.1h-0.9zM918.8 44h1.4v1.1h-1.4zM919.2 44.7h0.9v1.1h-0.9zM919.2 45.4h0.9v1.1h-0.9zM918.8 46.1h1.8v1.1h-1.8zM920.6 43.3h1.8v1.1h-1.8zM920.6 44h0.9v1.1h-0.9zM920.6 44.7h1.8v1.1h-1.8zM920.6 45.4h0.9v1.1h-0.9zM921.6 45.4h0.9v1.1h-0.9zM920.6 46.1h1.8v1.1h-1.8zM922.5 43.3h1.8v1.1h-1.8zM922.5 44h0.9v1.1h-0.9zM922.5 44.7h1.8v1.1h-1.8zM923.4 45.4h0.9v1.1h-0.9zM922.5 46.1h1.8v1.1h-1.8zM924.4 43.3h1.8v1.1h-1.8zM924.4 44h0.9v1.1h-0.9zM925.3 44h0.9v1.1h-0.9zM924.4 44.7h0.9v1.1h-0.9zM925.3 44.7h0.9v1.1h-0.9zM924.4 45.4h0.9v1.1h-0.9zM925.3 45.4h0.9v1.1h-0.9zM924.4 46.1h1.8v1.1h-1.8z" fill="#ffffff" shape-rendering="geometricPrecision"/>
<path d="M953.3 43.3h1v1.1h-1zM952.8 44h1.5v1.1h-1.5zM953.3 44.7h1v1.1h-1zM953.3 45.4h1v1.1h-1zM952.8 46.1h2v1.1h-2zM954.9 43.3h2v1.1h-2zM954.9 44h1v1.1h-1zM954.9 44.7h2v1.1h-2zM954.9 45.4h1v1.1h-1zM956 45.4h1v1.1h-1zM954.9 46.1h2v1.1h-2zM957 43.3h2v1.1h-2zM957 44h1v1.1h-1zM957 44.7h2v1.1h-2zM958.1 45.4h1v1.1h-1zM957 46.1h2v1.1h-2zM959.2 43.3h2v1.1h-2zM959.2 44h1v1.1h-1zM960.2 44h1v1.1h-1zM959.2 44.7h1v1.1h-1zM960.2 44.7h1v1.1h-1zM959.2 45.4h1v1.1h-1zM960.2 45.4h1v1.1h-1zM959.2 46.1h2v1.1h-2z" fill="#ffffff" shape-rendering="geometricPrecision"/>
<path d="M971.3 43.3h1.9v1.1h-1.9zM972.3 44h0.9v1.1h-0.9zM971.3 44.7h1.9v1.1h-1.9zM971.3 45.4h0.9v1.1h-0.9zM971.3 46.1h1.9v1.1h-1.9zM973.3 43.3h1.9v1.1h-1.9zM973.3 44h0.9v1.1h-0.9zM974.3 44h0.9v1.1h-0.9zM973.3 44.7h0.9v1.1h-0.9zM974.3 44.7h0.9v1.1h-0.9zM973.3 45.4h0.9v1.1h-0.9zM974.3 45.4h0.9v1.1h-0.9zM973.3 46.1h1.9v1.1h-1.9zM975.3 43.3h1.9v1.1h-1.9zM975.3 44h0.9v1.1h-0.9zM976.3 44h0.9v1.1h-0.9zM975.3 44.7h0.9v1.1h-0.9zM976.3 44.7h0.9v1.1h-0.9zM975.3 45.4h0.9v1.1h-0.9zM976.3 45.4h0.9v1.1h-0.9zM975.3 46.1h1.9v1.1h-1.9z" fill="#ffffff" shape-rendering="geometricPrecision"/>
<circle cx="846.3" cy="73" r="5.8" stroke="#10a8a8" stroke-width="1" fill="none"/>
<path d="M844.4 70h3.8v1.6h-3.8zM844.4 71.1h1.6v1.6h-1.6zM844.4 72.2h1.6v1.6h-1.6zM846.6 72.2h1.6v1.6h-1.6zM844.4 73.3h1.6v1.6h-1.6zM846.6 73.3h1.6v1.6h-1.6zM844.4 74.5h3.8v1.6h-3.8z" fill="#ffffff" shape-rendering="geometricPrecision"/>
<circle cx="846.3" cy="283.6" r="5.8" stroke="#10a8a8" stroke-width="1" fill="none"/>
<path d="M844.4 280.6h3.8v1.6h-3.8zM844.4 281.7h1.6v1.6h-1.6zM844.4 282.8h3.8v1.6h-3.8zM844.4 283.9h1.6v1.6h-1.6zM844.4 285.1h3.8v1.6h-3.8z" fill="#ffffff" shape-rendering="geometricPrecision"/>
<line x1="852" y1="72.5" x2="896.6" y2="72.5" stroke="#00ff00" stroke-width="1"/>
<line x1="852" y1="283.5" x2="895" y2="283.5" stroke="#00ff00" stroke-width="1"/>
<line x1="858.5" y1="72" x2="858.5" y2="284" stroke="#00ff00" stroke-width="1"/>
<line x1="869.5" y1="72" x2="869.5" y2="284" stroke="#00ff00" stroke-width="1"/>
<line x1="856.9" y1="74.1" x2="860.1" y2="70.9" stroke="#00ff00" stroke-width="1.2"/>
<line x1="856.9" y1="285.1" x2="860.1" y2="281.9" stroke="#00ff00" stroke-width="1.2"/>
<line x1="867.9" y1="74.1" x2="871.1" y2="70.9" stroke="#00ff00" stroke-width="1.2"/>
<line x1="867.9" y1="285.1" x2="871.1" y2="281.9" stroke="#00ff00" stroke-width="1.2"/>
<line x1="867.9" y1="119.1" x2="871.1" y2="115.9" stroke="#00ff00" stroke-width="1.2"/>
<line x1="867.9" y1="176.1" x2="871.1" y2="172.9" stroke="#00ff00" stroke-width="1.2"/>
<line x1="867.9" y1="183.1" x2="871.1" y2="179.9" stroke="#00ff00" stroke-width="1.2"/>
<line x1="867.9" y1="240.1" x2="871.1" y2="236.9" stroke="#00ff00" stroke-width="1.2"/>
<line x1="866" y1="117.5" x2="897" y2="117.5" stroke="#00ff00" stroke-width="1"/>
<line x1="866" y1="174.5" x2="897" y2="174.5" stroke="#00ff00" stroke-width="1"/>
<line x1="866" y1="181.5" x2="897" y2="181.5" stroke="#00ff00" stroke-width="1"/>
<line x1="866" y1="238.5" x2="897" y2="238.5" stroke="#00ff00" stroke-width="1"/>
<path d="M853.3 183h1.3v1.2h-1.3zM853.3 182.2h1.3v1.2h-1.3zM855.1 182.2h3.1v1.2h-3.1zM853.3 181.4h2.2v1.2h-2.2zM853.3 179.8h1.3v1.2h-1.3zM853.3 179h1.3v1.2h-1.3zM855.1 179h3.1v1.2h-3.1zM853.3 178.2h2.2v1.2h-2.2zM853.3 176.6h4.9v1.2h-4.9zM853.3 175.8h1.3v1.2h-1.3zM856.9 175.8h1.3v1.2h-1.3zM853.3 175h4.9v1.2h-4.9zM853.3 173.4h4.9v1.2h-4.9zM853.3 172.6h1.3v1.2h-1.3zM856.9 172.6h1.3v1.2h-1.3zM853.3 171.8h4.9v1.2h-4.9z" fill="#ffffff" shape-rendering="geometricPrecision"/>
<path d="M864.7 98h1.3v1.2h-1.3zM867.4 98h1.3v1.2h-1.3zM863.8 97.3h4.9v1.2h-4.9zM867.4 96.6h1.3v1.2h-1.3zM863.8 95.1h3.1v1.2h-3.1zM867.4 95.1h1.3v1.2h-1.3zM863.8 94.4h1.3v1.2h-1.3zM865.6 94.4h1.3v1.2h-1.3zM867.4 94.4h1.3v1.2h-1.3zM863.8 93.6h1.3v1.2h-1.3zM865.6 93.6h3.1v1.2h-3.1zM863.8 92.2h4.9v1.2h-4.9zM863.8 91.4h1.3v1.2h-1.3zM867.4 91.4h1.3v1.2h-1.3zM863.8 90.7h4.9v1.2h-4.9zM863.8 89.2h4.9v1.2h-4.9zM863.8 88.5h1.3v1.2h-1.3zM867.4 88.5h1.3v1.2h-1.3zM863.8 87.8h4.9v1.2h-4.9z" fill="#ffffff" shape-rendering="geometricPrecision"/>
<path d="M863.8 127.1h4.9v1.2h-4.9zM863.8 126.3h1.3v1.2h-1.3zM865.6 126.3h1.3v1.2h-1.3zM867.4 126.3h1.3v1.2h-1.3zM863.8 125.6h1.3v1.2h-1.3zM865.6 125.6h3.1v1.2h-3.1zM863.8 124.1h4.9v1.2h-4.9zM863.8 123.4h1.3v1.2h-1.3zM867.4 123.4h1.3v1.2h-1.3zM863.8 122.7h4.9v1.2h-4.9zM863.8 121.2h4.9v1.2h-4.9zM863.8 120.5h1.3v1.2h-1.3zM867.4 120.5h1.3v1.2h-1.3zM863.8 119.8h4.9v1.2h-4.9z" fill="#ffffff" shape-rendering="geometricPrecision"/>
<path d="M863.8 161.3h1.3v1h-1.3zM865.6 161.3h3.1v1h-3.1zM863.8 160.8h1.3v1h-1.3zM865.6 160.8h1.3v1h-1.3zM867.4 160.8h1.3v1h-1.3zM863.8 160.2h3.1v1h-3.1zM867.4 160.2h1.3v1h-1.3zM863.8 159.2h4.9v1h-4.9zM863.8 158.7h1.3v1h-1.3zM865.6 158.7h1.3v1h-1.3zM867.4 158.7h1.3v1h-1.3zM863.8 158.2h4.9v1h-4.9zM863.8 157.2h3.1v1h-3.1zM867.4 157.2h1.3v1h-1.3zM863.8 156.7h1.3v1h-1.3zM865.6 156.7h1.3v1h-1.3zM867.4 156.7h1.3v1h-1.3zM863.8 156.2h1.3v1h-1.3zM865.6 156.2h3.1v1h-3.1zM863.8 155.1h4.9v1h-4.9zM863.8 154.6h1.3v1h-1.3zM867.4 154.6h1.3v1h-1.3zM863.8 154.1h4.9v1h-4.9zM864.7 153.1h1.3v1h-1.3zM866.5 153.1h1.3v1h-1.3zM865.6 152.6h1.3v1h-1.3zM864.7 152.1h1.3v1h-1.3zM866.5 152.1h1.3v1h-1.3zM863.8 151h4.9v1h-4.9zM863.8 150.5h1.3v1h-1.3zM865.6 150.5h1.3v1h-1.3zM867.4 150.5h1.3v1h-1.3zM863.8 150h4.9v1h-4.9zM864.7 149h1.3v1h-1.3zM866.5 149h1.3v1h-1.3zM864.7 148.5h1.3v1h-1.3zM866.5 148.5h1.3v1h-1.3zM864.7 148h1.3v1h-1.3zM866.5 148h1.3v1h-1.3zM863.8 146.9h1.3v1h-1.3zM865.6 146.9h3.1v1h-3.1zM863.8 146.4h1.3v1h-1.3zM865.6 146.4h1.3v1h-1.3zM867.4 146.4h1.3v1h-1.3zM863.8 145.9h3.1v1h-3.1zM867.4 145.9h1.3v1h-1.3zM863.8 144.9h3.1v1h-3.1zM865.6 144.4h1.3v1h-1.3zM863.8 143.9h4.9v1h-4.9zM863.8 142.8h4.9v1h-4.9zM863.8 142.3h1.3v1h-1.3zM867.4 142.3h1.3v1h-1.3zM863.8 141.8h4.9v1h-4.9zM863.8 140.8h4.9v1h-4.9zM863.8 140.3h1.3v1h-1.3zM867.4 140.3h1.3v1h-1.3zM863.8 139.8h4.9v1h-4.9z" fill="#ffffff" shape-rendering="geometricPrecision"/>
<path d="M863.8 180.1h4.9v1.1h-4.9zM863.8 179.5h1.3v1.1h-1.3zM865.6 179.5h1.3v1.1h-1.3zM867.4 179.5h1.3v1.1h-1.3zM863.8 178.9h1.3v1.1h-1.3zM865.6 178.9h3.1v1.1h-3.1zM863.8 177.6h4.9v1.1h-4.9zM863.8 177h1.3v1.1h-1.3zM867.4 177h1.3v1.1h-1.3zM863.8 176.3h4.9v1.1h-4.9zM863.8 175.1h4.9v1.1h-4.9zM863.8 174.4h1.3v1.1h-1.3zM867.4 174.4h1.3v1.1h-1.3zM863.8 173.8h4.9v1.1h-4.9z" fill="#ffffff" shape-rendering="geometricPrecision"/>
<path d="M863.8 218.8h1.3v0.9h-1.3zM865.6 218.8h3.1v0.9h-3.1zM863.8 218.3h1.3v0.9h-1.3zM865.6 218.3h1.3v0.9h-1.3zM867.4 218.3h1.3v0.9h-1.3zM863.8 217.8h3.1v0.9h-3.1zM867.4 217.8h1.3v0.9h-1.3zM863.8 216.9h4.9v0.9h-4.9zM863.8 216.4h1.3v0.9h-1.3zM865.6 216.4h1.3v0.9h-1.3zM867.4 216.4h1.3v0.9h-1.3zM863.8 215.9h4.9v0.9h-4.9zM863.8 215h3.1v0.9h-3.1zM867.4 215h1.3v0.9h-1.3zM863.8 214.5h1.3v0.9h-1.3zM865.6 214.5h1.3v0.9h-1.3zM867.4 214.5h1.3v0.9h-1.3zM863.8 214h1.3v0.9h-1.3zM865.6 214h3.1v0.9h-3.1zM863.8 213.1h4.9v0.9h-4.9zM863.8 212.6h1.3v0.9h-1.3zM867.4 212.6h1.3v0.9h-1.3zM863.8 212.1h4.9v0.9h-4.9zM864.7 211.2h1.3v0.9h-1.3zM866.5 211.2h1.3v0.9h-1.3zM865.6 210.7h1.3v0.9h-1.3zM864.7 210.2h1.3v0.9h-1.3zM866.5 210.2h1.3v0.9h-1.3zM863.8 209.3h4.9v0.9h-4.9zM863.8 208.8h1.3v0.9h-1.3zM865.6 208.8h1.3v0.9h-1.3zM867.4 208.8h1.3v0.9h-1.3zM863.8 208.3h4.9v0.9h-4.9zM864.7 207.4h1.3v0.9h-1.3zM866.5 207.4h1.3v0.9h-1.3zM864.7 206.9h1.3v0.9h-1.3zM866.5 206.9h1.3v0.9h-1.3zM864.7 206.4h1.3v0.9h-1.3zM866.5 206.4h1.3v0.9h-1.3zM863.8 205.5h1.3v0.9h-1.3zM865.6 205.5h3.1v0.9h-3.1zM863.8 205h1.3v0.9h-1.3zM865.6 205h1.3v0.9h-1.3zM867.4 205h1.3v0.9h-1.3zM863.8 204.5h3.1v0.9h-3.1zM867.4 204.5h1.3v0.9h-1.3zM863.8 203.5h3.1v0.9h-3.1zM865.6 203.1h1.3v0.9h-1.3zM863.8 202.6h4.9v0.9h-4.9zM863.8 201.6h4.9v0.9h-4.9zM863.8 201.2h1.3v0.9h-1.3zM867.4 201.2h1.3v0.9h-1.3zM863.8 200.7h4.9v0.9h-4.9zM863.8 199.7h4.9v0.9h-4.9zM863.8 199.3h1.3v0.9h-1.3zM867.4 199.3h1.3v0.9h-1.3zM863.8 198.8h4.9v0.9h-4.9z" fill="#ffffff" shape-rendering="geometricPrecision"/>
<path d="M864.7 264.1h1.3v1.1h-1.3zM867.4 264.1h1.3v1.1h-1.3zM863.8 263.4h4.9v1.1h-4.9zM867.4 262.8h1.3v1.1h-1.3zM863.8 261.4h4.9v1.1h-4.9zM863.8 260.8h1.3v1.1h-1.3zM865.6 260.8h1.3v1.1h-1.3zM867.4 260.8h1.3v1.1h-1.3zM863.8 260.1h4.9v1.1h-4.9zM863.8 258.8h4.9v1.1h-4.9zM863.8 258.1h1.3v1.1h-1.3zM867.4 258.1h1.3v1.1h-1.3zM863.8 257.4h4.9v1.1h-4.9zM863.8 256.1h4.9v1.1h-4.9zM863.8 255.4h1.3v1.1h-1.3zM867.4 255.4h1.3v1.1h-1.3zM863.8 254.8h4.9v1.1h-4.9z" fill="#ffffff" shape-rendering="geometricPrecision"/>
<polygon points="896.5,70.5 921.5,70.5 921.5,79.5 910.5,79.5 910.5,83.5 896.5,83.5" stroke="#ffffff" stroke-width="1" fill="#4a72a0"/>
<polygon points="956.5,70.5 981.5,70.5 981.5,83.5 967.5,83.5 967.5,79.5 956.5,79.5" stroke="#ffffff" stroke-width="1" fill="#4a72a0"/>
<line x1="896.5" y1="72.5" x2="981.5" y2="72.5" stroke="#808080" stroke-width="1"/>
<line x1="921.5" y1="72.5" x2="956.5" y2="72.5" stroke="#00ffff" stroke-width="1"/>
<line x1="981.5" y1="72.5" x2="996.4" y2="72.5" stroke="#00ffff" stroke-width="1"/>
<line x1="882.4" y1="81.5" x2="896.5" y2="81.5" stroke="#00ffff" stroke-width="1"/>
<line x1="910.5" y1="81.5" x2="967.5" y2="81.5" stroke="#00ffff" stroke-width="1"/>
<line x1="981.5" y1="81.5" x2="996.4" y2="81.5" stroke="#00ffff" stroke-width="1"/>
<polyline points="882.5,66 882.5,100 884.3,101.3 879.5,103.1 883.4,104 882.5,105 882.5,139" stroke="#ffffff" stroke-width="1" fill="none"/>
<polyline points="996.5,66 996.5,100 998.3,101.3 993.5,103.1 997.4,104 996.5,105 996.5,139" stroke="#ffffff" stroke-width="1" fill="none"/>
<polyline points="877.5,135.5 891.1,135.5 892.4,133.7 894.2,138.5 895.1,134.6 896.1,135.5 909,135.5" stroke="#ffffff" stroke-width="1" fill="none"/>
<polyline points="974,135.5 981.5,135.5 982.8,133.7 984.6,138.5 985.5,134.6 986.5,135.5 1000,135.5" stroke="#ffffff" stroke-width="1" fill="none"/>
<line x1="901.5" y1="72" x2="901.5" y2="300" stroke="#808080" stroke-width="1"/>
<line x1="975.5" y1="72" x2="975.5" y2="300" stroke="#808080" stroke-width="1"/>
<line x1="899.5" y1="83.5" x2="899.5" y2="134" stroke="#00ffff" stroke-width="1"/>
<line x1="904.5" y1="83.5" x2="904.5" y2="171" stroke="#00ffff" stroke-width="1"/>
<line x1="973.5" y1="83.5" x2="973.5" y2="171" stroke="#00ffff" stroke-width="1"/>
<line x1="978.5" y1="83.5" x2="978.5" y2="134" stroke="#00ffff" stroke-width="1"/>
<line x1="904.5" y1="112.5" x2="973.5" y2="112.5" stroke="#00ffff" stroke-width="1"/>
<line x1="904.5" y1="117.5" x2="973.5" y2="117.5" stroke="#00ffff" stroke-width="1"/>
<line x1="904.5" y1="124.5" x2="973.5" y2="124.5" stroke="#ffff00" stroke-width="1"/>
<line x1="904.5" y1="131.5" x2="973.5" y2="131.5" stroke="#ffff00" stroke-width="1"/>
<line x1="904.5" y1="138.5" x2="973.5" y2="138.5" stroke="#ffff00" stroke-width="1"/>
<line x1="904.5" y1="145.5" x2="973.5" y2="145.5" stroke="#ffff00" stroke-width="1"/>
<line x1="904.5" y1="153.5" x2="973.5" y2="153.5" stroke="#ffff00" stroke-width="1"/>
<line x1="904.5" y1="160.5" x2="973.5" y2="160.5" stroke="#ffff00" stroke-width="1"/>
<line x1="904.5" y1="167.5" x2="973.5" y2="167.5" stroke="#ffff00" stroke-width="1"/>
<line x1="940.5" y1="117" x2="940.5" y2="238" stroke="#ffff00" stroke-width="1"/>
<line x1="904.5" y1="174.5" x2="973.5" y2="174.5" stroke="#00ffff" stroke-width="1"/>
<line x1="904.5" y1="181.5" x2="973.5" y2="181.5" stroke="#00ffff" stroke-width="1"/>
<line x1="904.5" y1="188.5" x2="973.5" y2="188.5" stroke="#ffff00" stroke-width="1"/>
<line x1="904.5" y1="195.5" x2="973.5" y2="195.5" stroke="#ffff00" stroke-width="1"/>
<line x1="904.5" y1="202.5" x2="973.5" y2="202.5" stroke="#ffff00" stroke-width="1"/>
<line x1="904.5" y1="209.5" x2="973.5" y2="209.5" stroke="#ffff00" stroke-width="1"/>
<line x1="904.5" y1="216.5" x2="973.5" y2="216.5" stroke="#ffff00" stroke-width="1"/>
<line x1="904.5" y1="224.5" x2="973.5" y2="224.5" stroke="#ffff00" stroke-width="1"/>
<line x1="904.5" y1="231.5" x2="973.5" y2="231.5" stroke="#ffff00" stroke-width="1"/>
<line x1="904.5" y1="238.5" x2="973.5" y2="238.5" stroke="#00ffff" stroke-width="1"/>
<line x1="904.5" y1="243.5" x2="973.5" y2="243.5" stroke="#00ffff" stroke-width="1"/>
<polyline points="904.6,165.4 939.6,142.8" stroke="#ffff00" stroke-width="1" fill="none"/>
<polyline points="906,167.2 940.3,145" stroke="#ffff00" stroke-width="1" fill="none"/>
<polyline points="941.8,165.4 972.9,145.6" stroke="#ffff00" stroke-width="1" fill="none"/>
<polyline points="942.5,167.4 973,147.6" stroke="#ffff00" stroke-width="1" fill="none"/>
<line x1="921.5" y1="104.5" x2="921.5" y2="154" stroke="#00ff00" stroke-width="1"/>
<line x1="956.5" y1="104.5" x2="956.5" y2="154" stroke="#00ff00" stroke-width="1"/>
<line x1="921.5" y1="197" x2="921.5" y2="251" stroke="#00ff00" stroke-width="1"/>
<line x1="956.5" y1="197" x2="956.5" y2="251" stroke="#00ff00" stroke-width="1"/>
<path d="M919.5 99.8H923M921.25 99.3V103.8M921.85 101.3l1.2 1" stroke="#ffff00" stroke-width="1.1" fill="none"/>
<path d="M954.8 103.3H958.3M956.55 99.3V103.8M956.55 101.3h1.6" stroke="#ffff00" stroke-width="1.1" fill="none"/>
<path d="M919.5 252.5H923M921.25 248.5V253M921.25 250.5h1.6" stroke="#ffff00" stroke-width="1.1" fill="none"/>
<path d="M954.8 249H958.3M956.55 248.5V253M957.15 250.5l1.2 1" stroke="#ffff00" stroke-width="1.1" fill="none"/>
<path d="M933 113.1h1.6v1.2h-1.6zM935.3 113.1h1.6v1.2h-1.6zM933 113.8h1.6v1.2h-1.6zM935.3 113.8h1.6v1.2h-1.6zM933 114.6h1.6v1.2h-1.6zM935.3 114.6h1.6v1.2h-1.6zM933 115.3h1.6v1.2h-1.6zM935.3 115.3h1.6v1.2h-1.6zM933 116h3.9v1.2h-3.9zM937.6 113.1h3.9v1.2h-3.9zM937.6 113.8h1.6v1.2h-1.6zM939.8 113.8h1.6v1.2h-1.6zM937.6 114.6h3.9v1.2h-3.9zM937.6 115.3h1.6v1.2h-1.6zM937.6 116h1.6v1.2h-1.6z" fill="#ffff00" shape-rendering="geometricPrecision"/>
<path d="M934.8 238.3h2.7v1.2h-2.7zM934.8 239.1h1.6v1.2h-1.6zM937.1 239.1h1.6v1.2h-1.6zM934.8 239.9h1.6v1.2h-1.6zM937.1 239.9h1.6v1.2h-1.6zM934.8 240.7h1.6v1.2h-1.6zM937.1 240.7h1.6v1.2h-1.6zM934.8 241.5h2.7v1.2h-2.7zM939.4 238.3h1.6v1.2h-1.6zM941.6 238.3h1.6v1.2h-1.6zM939.4 239.1h3.9v1.2h-3.9zM939.4 239.9h3.9v1.2h-3.9zM939.4 240.7h3.9v1.2h-3.9zM939.4 241.5h1.6v1.2h-1.6zM941.6 241.5h1.6v1.2h-1.6z" fill="#ffff00" shape-rendering="geometricPrecision"/>
<polygon points="899.5,171.5 904.5,171.5 904.5,286.5 882.5,286.5 882.5,280.5 899.5,280.5" stroke="#ffffff" stroke-width="1" fill="#4a72a0"/>
<polygon points="973.5,171.5 978.5,171.5 978.5,280.5 996.5,280.5 996.5,286.5 973.5,286.5" stroke="#ffffff" stroke-width="1" fill="#4a72a0"/>
<line x1="901.5" y1="171" x2="901.5" y2="300" stroke="#808080" stroke-width="1"/>
<line x1="975.5" y1="171" x2="975.5" y2="300" stroke="#808080" stroke-width="1"/>
<line x1="882.5" y1="283.5" x2="996.5" y2="283.5" stroke="#808080" stroke-width="1"/>
<line x1="904.5" y1="280.5" x2="973.5" y2="280.5" stroke="#00ffff" stroke-width="1"/>
<line x1="904.5" y1="286.5" x2="973.5" y2="286.5" stroke="#00ffff" stroke-width="1"/>
<line x1="899.5" y1="286.5" x2="899.5" y2="300" stroke="#00ffff" stroke-width="1"/>
<line x1="904.5" y1="286.5" x2="904.5" y2="300" stroke="#00ffff" stroke-width="1"/>
<line x1="973.5" y1="286.5" x2="973.5" y2="300" stroke="#00ffff" stroke-width="1"/>
<line x1="978.5" y1="286.5" x2="978.5" y2="300" stroke="#00ffff" stroke-width="1"/>
<polyline points="879.2,300.5 938,300.5 939.3,298.7 941.1,303.5 942,299.6 943,300.5 1001,300.5" stroke="#ffffff" stroke-width="1" fill="none"/>
<line x1="882.5" y1="287" x2="882.5" y2="305" stroke="#ffffff" stroke-width="1"/>
<line x1="996.5" y1="287" x2="996.5" y2="305" stroke="#ffffff" stroke-width="1"/>
<polyline points="882.5,272 882.5,286.5 884.3,287.8 879.5,289.6 883.4,290.5 882.5,291.5 882.5,292" stroke="#ffffff" stroke-width="1" fill="none"/>
<polyline points="996.5,272 996.5,286.5 998.3,287.8 993.5,289.6 997.4,290.5 996.5,291.5 996.5,292" stroke="#ffffff" stroke-width="1" fill="none"/>
<polygon points="932,96 940,96 936,101" stroke="#ffbf00" stroke-width="1" fill="none"/>
<line x1="932" y1="96.5" x2="947" y2="96.5" stroke="#ffbf00" stroke-width="1"/>
<path d="M934.8 90.8h0.9v1.3h-0.9zM935.6 90.8h0.9v1.3h-0.9zM934.8 91.6h0.9v1.3h-0.9zM935.6 91.6h0.9v1.3h-0.9zM934.8 92.4h1.8v1.3h-1.8zM934.8 93.3h0.9v1.3h-0.9zM935.6 93.3h0.9v1.3h-0.9zM934.8 94.1h0.9v1.3h-0.9zM935.6 94.1h0.9v1.3h-0.9zM936.5 92.4h1.8v1.3h-1.8zM938.3 90.8h1.8v1.3h-1.8zM938.3 91.6h0.9v1.3h-0.9zM939.2 91.6h0.9v1.3h-0.9zM938.3 92.4h1.8v1.3h-1.8zM938.3 93.3h0.9v1.3h-0.9zM939.2 93.3h0.9v1.3h-0.9zM938.3 94.1h1.8v1.3h-1.8zM940.5 94.1h0.9v1.3h-0.9zM941.9 90.8h1.8v1.3h-1.8zM942.8 91.6h0.9v1.3h-0.9zM941.9 92.4h1.8v1.3h-1.8zM942.8 93.3h0.9v1.3h-0.9zM941.9 94.1h1.8v1.3h-1.8zM943.6 90.8h1.8v1.3h-1.8zM943.6 91.6h0.9v1.3h-0.9zM943.6 92.4h1.8v1.3h-1.8zM944.5 93.3h0.9v1.3h-0.9zM943.6 94.1h1.8v1.3h-1.8zM945.4 90.8h1.8v1.3h-1.8zM945.4 91.6h0.9v1.3h-0.9zM946.3 91.6h0.9v1.3h-0.9zM945.4 92.4h0.9v1.3h-0.9zM946.3 92.4h0.9v1.3h-0.9zM945.4 93.3h0.9v1.3h-0.9zM946.3 93.3h0.9v1.3h-0.9zM945.4 94.1h1.8v1.3h-1.8z" fill="#ffbf00" shape-rendering="geometricPrecision"/>
<path d="M930.8 126.8h1.3v1.1h-1.3zM932.5 126.8h1.3v1.1h-1.3zM930.8 127.5h1.3v1.1h-1.3zM932.5 127.5h1.3v1.1h-1.3zM930.8 128.2h3v1.1h-3zM932.5 128.9h1.3v1.1h-1.3zM932.5 129.6h1.3v1.1h-1.3zM934.2 126.8h3v1.1h-3zM934.2 127.5h1.3v1.1h-1.3zM935.9 127.5h1.3v1.1h-1.3zM934.2 128.2h1.3v1.1h-1.3zM935.9 128.2h1.3v1.1h-1.3zM934.2 128.9h1.3v1.1h-1.3zM935.9 128.9h1.3v1.1h-1.3zM934.2 129.6h3v1.1h-3z" fill="#ffff00" shape-rendering="geometricPrecision"/>
<path d="M962.8 126.8h1.3v1.1h-1.3zM964.5 126.8h1.3v1.1h-1.3zM962.8 127.5h1.3v1.1h-1.3zM964.5 127.5h1.3v1.1h-1.3zM962.8 128.2h3v1.1h-3zM964.5 128.9h1.3v1.1h-1.3zM964.5 129.6h1.3v1.1h-1.3zM966.2 126.8h3v1.1h-3zM966.2 127.5h1.3v1.1h-1.3zM967.9 127.5h1.3v1.1h-1.3zM966.2 128.2h1.3v1.1h-1.3zM967.9 128.2h1.3v1.1h-1.3zM966.2 128.9h1.3v1.1h-1.3zM967.9 128.9h1.3v1.1h-1.3zM966.2 129.6h3v1.1h-3z" fill="#ffff00" shape-rendering="geometricPrecision"/>
<path d="M929.8 225.8h1.3v1.1h-1.3zM931.5 225.8h1.3v1.1h-1.3zM929.8 226.5h1.3v1.1h-1.3zM931.5 226.5h1.3v1.1h-1.3zM929.8 227.2h3v1.1h-3zM931.5 227.9h1.3v1.1h-1.3zM931.5 228.6h1.3v1.1h-1.3zM933.2 225.8h3v1.1h-3zM933.2 226.5h1.3v1.1h-1.3zM934.9 226.5h1.3v1.1h-1.3zM933.2 227.2h1.3v1.1h-1.3zM934.9 227.2h1.3v1.1h-1.3zM933.2 227.9h1.3v1.1h-1.3zM934.9 227.9h1.3v1.1h-1.3zM933.2 228.6h3v1.1h-3z" fill="#ffff00" shape-rendering="geometricPrecision"/>
<path d="M962.8 225.8h1.3v1.1h-1.3zM964.5 225.8h1.3v1.1h-1.3zM962.8 226.5h1.3v1.1h-1.3zM964.5 226.5h1.3v1.1h-1.3zM962.8 227.2h3v1.1h-3zM964.5 227.9h1.3v1.1h-1.3zM964.5 228.6h1.3v1.1h-1.3zM966.2 225.8h3v1.1h-3zM966.2 226.5h1.3v1.1h-1.3zM967.9 226.5h1.3v1.1h-1.3zM966.2 227.2h1.3v1.1h-1.3zM967.9 227.2h1.3v1.1h-1.3zM966.2 227.9h1.3v1.1h-1.3zM967.9 227.9h1.3v1.1h-1.3zM966.2 228.6h3v1.1h-3z" fill="#ffff00" shape-rendering="geometricPrecision"/>
<polyline points="983.5,153 983.5,165 968,165 968,178.5" stroke="#ffff00" stroke-width="1" fill="none"/>
<path d="M984.2 153h3.4v1.4h-3.4zM986.1 153.8h1.5v1.4h-1.5zM985.1 154.7h1.5v1.4h-1.5zM984.2 155.5h1.5v1.4h-1.5zM984.2 156.4h3.4v1.4h-3.4zM987.9 153.8h1.5v1.4h-1.5zM989.8 153.8h1.5v1.4h-1.5zM988.9 154.7h1.5v1.4h-1.5zM987.9 155.5h1.5v1.4h-1.5zM989.8 155.5h1.5v1.4h-1.5z" fill="#ffff00" shape-rendering="geometricPrecision"/>
<path d="M985 160.5h1.4v1.3h-1.4zM984.2 161.2h2.1v1.3h-2.1zM985 162h1.4v1.3h-1.4zM985 162.7h1.4v1.3h-1.4zM984.2 163.5h2.9v1.3h-2.9zM987.3 160.5h2.9v1.3h-2.9zM987.3 161.2h1.4v1.3h-1.4zM988.8 161.2h1.4v1.3h-1.4zM987.3 162h2.9v1.3h-2.9zM987.3 162.7h1.4v1.3h-1.4zM987.3 163.5h1.4v1.3h-1.4zM990.4 160.5h1.4v1.3h-1.4zM990.4 161.2h1.4v1.3h-1.4zM990.4 162h1.4v1.3h-1.4zM990.4 162.7h1.4v1.3h-1.4zM990.4 163.5h2.9v1.3h-2.9zM993.4 160.5h2.9v1.3h-2.9zM995 161.2h1.4v1.3h-1.4zM994.2 162h1.4v1.3h-1.4zM993.4 162.7h1.4v1.3h-1.4zM993.4 163.5h2.9v1.3h-2.9zM996.5 160.5h2.9v1.3h-2.9zM996.5 161.2h1.4v1.3h-1.4zM998.1 161.2h1.4v1.3h-1.4zM996.5 162h2.9v1.3h-2.9zM996.5 162.7h1.4v1.3h-1.4zM998.1 162.7h1.4v1.3h-1.4zM996.5 163.5h2.9v1.3h-2.9zM999.6 160.5h2.9v1.3h-2.9zM999.6 161.2h1.4v1.3h-1.4zM999.6 162h2.9v1.3h-2.9zM999.6 162.7h1.4v1.3h-1.4zM1001.1 162.7h1.4v1.3h-1.4zM999.6 163.5h2.9v1.3h-2.9z" fill="#ffff00" shape-rendering="geometricPrecision"/>
<polygon points="932,262 940,262 936,267" stroke="#ffbf00" stroke-width="1" fill="none"/>
<line x1="932" y1="262.5" x2="947" y2="262.5" stroke="#ffbf00" stroke-width="1"/>
<path d="M934.8 256.8h0.9v1.3h-0.9zM935.6 256.8h0.9v1.3h-0.9zM934.8 257.6h0.9v1.3h-0.9zM935.6 257.6h0.9v1.3h-0.9zM934.8 258.4h1.8v1.3h-1.8zM934.8 259.3h0.9v1.3h-0.9zM935.6 259.3h0.9v1.3h-0.9zM934.8 260.1h0.9v1.3h-0.9zM935.6 260.1h0.9v1.3h-0.9zM936.5 258.4h1.8v1.3h-1.8zM938.3 256.8h1.8v1.3h-1.8zM938.3 257.6h0.9v1.3h-0.9zM939.2 257.6h0.9v1.3h-0.9zM938.3 258.4h1.8v1.3h-1.8zM938.3 259.3h0.9v1.3h-0.9zM939.2 259.3h0.9v1.3h-0.9zM938.3 260.1h1.8v1.3h-1.8zM940.5 260.1h0.9v1.3h-0.9zM941.9 256.8h1.8v1.3h-1.8zM942.8 257.6h0.9v1.3h-0.9zM941.9 258.4h1.8v1.3h-1.8zM942.8 259.3h0.9v1.3h-0.9zM941.9 260.1h1.8v1.3h-1.8zM943.6 256.8h1.8v1.3h-1.8zM943.6 257.6h0.9v1.3h-0.9zM943.6 258.4h1.8v1.3h-1.8zM944.5 259.3h0.9v1.3h-0.9zM943.6 260.1h1.8v1.3h-1.8zM945.4 256.8h1.8v1.3h-1.8zM945.4 257.6h0.9v1.3h-0.9zM946.3 257.6h0.9v1.3h-0.9zM945.4 258.4h0.9v1.3h-0.9zM946.3 258.4h0.9v1.3h-0.9zM945.4 259.3h0.9v1.3h-0.9zM946.3 259.3h0.9v1.3h-0.9zM945.4 260.1h1.8v1.3h-1.8z" fill="#ffbf00" shape-rendering="geometricPrecision"/>
<path d="M893.5 319.5H898.5M896.5 319.5V329.8M901.5 319.5V329.8M899.5 321.5L901.5 319.5" stroke="#ff00ff" stroke-width="1" fill="none"/>
<path d="M905 320.5H909 M905 327.5H909 M905 329.5H909 M905.5 324V328 M906.5 321V326" stroke="#ff00ff" stroke-width="1" fill="none"/>
<path d="M911 322.5H916 M913 324.5H915 M911 327.5H914 M912 329.5H915 M911.5 321V326 M912.5 321V326 M915.5 324V330" stroke="#ff00ff" stroke-width="1" fill="none"/>
<path d="M920 320.5H923 M918 322.5H921 M919 324.5H923 M918 329.5H923 M918.5 319V326 M922.5 321V326" stroke="#ff00ff" stroke-width="1" fill="none"/>
<path d="M925 320.5H929 M925 322.5H928 M926 324.5H929 M926 327.5H929 M925 329.5H928 M925.5 324V326 M926.5 324V330" stroke="#ff00ff" stroke-width="1" fill="none"/>
<path d="M931 320.5H936 M931 322.5H935 M933 324.5H935 M932 327.5H936 M931.5 319V326 M932.5 319V326" stroke="#ff00ff" stroke-width="1" fill="none"/>
<path d="M939 320.5H943 M938 322.5H941 M938 324.5H941 M939 327.5H943 M940 329.5H943 M938.5 321V326 M939.5 319V330 M942.5 321V330" stroke="#ff00ff" stroke-width="1" fill="none"/>
<path d="M946 322.5H949 M945 324.5H947 M945 327.5H949 M945 329.5H949 M945.5 324V328 M946.5 319V328 M947.5 319V328" stroke="#ff00ff" stroke-width="1" fill="none"/>
<path d="M952 320.5H954 M951 324.5H956 M951 327.5H955 M951 329.5H956 M952.5 319V330 M954.5 324V330 M955.5 321V326" stroke="#ff00ff" stroke-width="1" fill="none"/>
<path d="M958 320.5H963 M958 322.5H962 M960 324.5H963 M958 327.5H963 M958 329.5H963 M958.5 319V330 M959.5 321V330 M961.5 319V328" stroke="#ff00ff" stroke-width="1" fill="none"/>
<rect x="885" y="332" width="102" height="2" fill="#ff00ff"/>
<path d="M884 338.5H888 M885 341.5H886 M886.5 337V341 M887.5 338V341" stroke="#ffbf00" stroke-width="1" fill="none"/>
<path d="M889.8 337.3h1v1.4h-1zM891 337.3h1v1.4h-1zM889.8 338.3h1v1.4h-1zM891 338.3h1v1.4h-1zM889.8 339.3h2.2v1.4h-2.2zM889.8 340.3h1v1.4h-1zM891 340.3h1v1.4h-1zM889.8 341.3h1v1.4h-1zM891 341.3h1v1.4h-1zM892.2 338.3h2.2v1.4h-2.2zM892.2 340.3h2.2v1.4h-2.2zM894.5 337.3h2.2v1.4h-2.2zM894.5 338.3h1v1.4h-1zM895.7 338.3h1v1.4h-1zM894.5 339.3h2.2v1.4h-2.2zM894.5 340.3h1v1.4h-1zM895.7 340.3h1v1.4h-1zM894.5 341.3h2.2v1.4h-2.2zM897.5 341.3h1v1.4h-1zM899.2 337.3h2.2v1.4h-2.2zM900.4 338.3h1v1.4h-1zM899.2 339.3h2.2v1.4h-2.2zM900.4 340.3h1v1.4h-1zM899.2 341.3h2.2v1.4h-2.2zM901.6 337.3h2.2v1.4h-2.2zM901.6 338.3h1v1.4h-1zM901.6 339.3h2.2v1.4h-2.2zM902.8 340.3h1v1.4h-1zM901.6 341.3h2.2v1.4h-2.2zM904 337.3h2.2v1.4h-2.2zM904 338.3h1v1.4h-1zM905.1 338.3h1v1.4h-1zM904 339.3h1v1.4h-1zM905.1 339.3h1v1.4h-1zM904 340.3h1v1.4h-1zM905.1 340.3h1v1.4h-1zM904 341.3h2.2v1.4h-2.2zM909.3 337.3h1v1.4h-1zM908.7 338.3h1.6v1.4h-1.6zM909.3 339.3h1v1.4h-1zM909.3 340.3h1v1.4h-1zM908.7 341.3h2.2v1.4h-2.2zM911.6 337.3h1v1.4h-1zM911 338.3h1.6v1.4h-1.6zM911.6 339.3h1v1.4h-1zM911.6 340.3h1v1.4h-1zM911 341.3h2.2v1.4h-2.2zM914 341.3h1v1.4h-1zM915.8 337.3h2.2v1.4h-2.2zM915.8 338.3h1v1.4h-1zM916.9 338.3h1v1.4h-1zM915.8 339.3h1v1.4h-1zM916.9 339.3h1v1.4h-1zM915.8 340.3h1v1.4h-1zM916.9 340.3h1v1.4h-1zM915.8 341.3h2.2v1.4h-2.2zM918.1 337.3h2.2v1.4h-2.2zM918.1 338.3h1v1.4h-1zM918.1 339.3h2.2v1.4h-2.2zM919.3 340.3h1v1.4h-1zM918.1 341.3h2.2v1.4h-2.2zM920.5 337.3h2.2v1.4h-2.2zM920.5 338.3h1v1.4h-1zM921.7 338.3h1v1.4h-1zM920.5 339.3h1v1.4h-1zM921.7 339.3h1v1.4h-1zM920.5 340.3h1v1.4h-1zM921.7 340.3h1v1.4h-1zM920.5 341.3h2.2v1.4h-2.2zM925.8 337.3h1v1.4h-1zM925.2 338.3h1.6v1.4h-1.6zM925.8 339.3h1v1.4h-1zM925.8 340.3h1v1.4h-1zM925.2 341.3h2.2v1.4h-2.2zM927.6 337.3h1v1.4h-1zM928.8 337.3h1v1.4h-1zM927.6 338.3h1v1.4h-1zM928.8 338.3h1v1.4h-1zM927.6 339.3h2.2v1.4h-2.2zM928.8 340.3h1v1.4h-1zM928.8 341.3h1v1.4h-1zM930.5 341.3h1v1.4h-1zM932.3 337.3h2.2v1.4h-2.2zM932.3 338.3h1v1.4h-1zM933.5 338.3h1v1.4h-1zM932.3 339.3h1v1.4h-1zM933.5 339.3h1v1.4h-1zM932.3 340.3h1v1.4h-1zM933.5 340.3h1v1.4h-1zM932.3 341.3h2.2v1.4h-2.2zM934.7 337.3h2.2v1.4h-2.2zM934.7 338.3h1v1.4h-1zM934.7 339.3h2.2v1.4h-2.2zM935.8 340.3h1v1.4h-1zM934.7 341.3h2.2v1.4h-2.2zM937 337.3h2.2v1.4h-2.2zM937 338.3h1v1.4h-1zM938.2 338.3h1v1.4h-1zM937 339.3h1v1.4h-1zM938.2 339.3h1v1.4h-1zM937 340.3h1v1.4h-1zM938.2 340.3h1v1.4h-1zM937 341.3h2.2v1.4h-2.2zM941.7 338.3h1v1.4h-1zM942.9 338.3h1v1.4h-1zM942.3 339.3h1v1.4h-1zM941.7 340.3h1v1.4h-1zM942.9 340.3h1v1.4h-1zM946.5 338.3h1v1.4h-1zM947.6 338.3h1v1.4h-1zM947 339.3h1v1.4h-1zM946.5 340.3h1v1.4h-1zM947.6 340.3h1v1.4h-1zM951.2 338.3h1v1.4h-1zM952.4 338.3h1v1.4h-1zM951.8 339.3h1v1.4h-1zM951.2 340.3h1v1.4h-1zM952.4 340.3h1v1.4h-1zM955.9 337.3h2.2v1.4h-2.2zM955.9 338.3h1v1.4h-1zM955.9 339.3h2.2v1.4h-2.2zM955.9 340.3h1v1.4h-1zM957.1 340.3h1v1.4h-1zM955.9 341.3h2.2v1.4h-2.2zM958.3 337.3h2.2v1.4h-2.2zM958.3 338.3h1v1.4h-1zM959.4 338.3h1v1.4h-1zM958.3 339.3h2.2v1.4h-2.2zM958.3 340.3h1v1.4h-1zM959.4 340.3h1v1.4h-1zM958.3 341.3h2.2v1.4h-2.2zM961.2 341.3h1v1.4h-1zM963 337.3h2.2v1.4h-2.2zM963 338.3h1v1.4h-1zM964.2 338.3h1v1.4h-1zM963 339.3h1v1.4h-1zM964.2 339.3h1v1.4h-1zM963 340.3h1v1.4h-1zM964.2 340.3h1v1.4h-1zM963 341.3h2.2v1.4h-2.2zM965.3 337.3h2.2v1.4h-2.2zM965.3 338.3h1v1.4h-1zM965.3 339.3h2.2v1.4h-2.2zM966.5 340.3h1v1.4h-1zM965.3 341.3h2.2v1.4h-2.2zM967.7 337.3h2.2v1.4h-2.2zM967.7 338.3h1v1.4h-1zM968.9 338.3h1v1.4h-1zM967.7 339.3h1v1.4h-1zM968.9 339.3h1v1.4h-1zM967.7 340.3h1v1.4h-1zM968.9 340.3h1v1.4h-1zM967.7 341.3h2.2v1.4h-2.2zM972.4 337.3h2.2v1.4h-2.2zM973.6 338.3h1v1.4h-1zM973 339.3h1v1.4h-1zM973 340.3h1v1.4h-1zM973 341.3h1v1.4h-1zM975.4 337.3h1v1.4h-1zM974.8 338.3h1.6v1.4h-1.6zM975.4 339.3h1v1.4h-1zM975.4 340.3h1v1.4h-1zM974.8 341.3h2.2v1.4h-2.2zM977.7 341.3h1v1.4h-1zM979.5 337.3h2.2v1.4h-2.2zM979.5 338.3h1v1.4h-1zM980.7 338.3h1v1.4h-1zM979.5 339.3h1v1.4h-1zM980.7 339.3h1v1.4h-1zM979.5 340.3h1v1.4h-1zM980.7 340.3h1v1.4h-1zM979.5 341.3h2.2v1.4h-2.2zM981.9 337.3h2.2v1.4h-2.2zM981.9 338.3h1v1.4h-1zM981.9 339.3h2.2v1.4h-2.2zM983 340.3h1v1.4h-1zM981.9 341.3h2.2v1.4h-2.2zM984.2 337.3h2.2v1.4h-2.2zM984.2 338.3h1v1.4h-1zM985.4 338.3h1v1.4h-1zM984.2 339.3h1v1.4h-1zM985.4 339.3h1v1.4h-1zM984.2 340.3h1v1.4h-1zM985.4 340.3h1v1.4h-1zM984.2 341.3h2.2v1.4h-2.2z" fill="#ffbf00" shape-rendering="geometricPrecision"/>
<circle cx="180.7" cy="403.2" r="5.8" stroke="#10a8a8" stroke-width="1" fill="none"/>
<path d="M178.8 400.2h3.8v1.6h-3.8zM178.8 401.3h1.6v1.6h-1.6zM181 401.3h1.6v1.6h-1.6zM178.8 402.4h3.8v1.6h-3.8zM178.8 403.5h1.6v1.6h-1.6zM181 403.5h1.6v1.6h-1.6zM178.8 404.7h3.8v1.6h-3.8z" fill="#ffffff" shape-rendering="geometricPrecision"/>
<circle cx="254.8" cy="403.2" r="5.8" stroke="#10a8a8" stroke-width="1" fill="none"/>
<path d="M252.1 400.2h1.4v1.6h-1.4zM251.1 401.3h2.4v1.6h-2.4zM252.1 402.4h1.4v1.6h-1.4zM252.1 403.5h1.4v1.6h-1.4zM251.1 404.7h3.4v1.6h-3.4zM255.1 400.2h3.4v1.6h-3.4zM255.1 401.3h1.4v1.6h-1.4zM257 401.3h1.4v1.6h-1.4zM255.1 402.4h1.4v1.6h-1.4zM257 402.4h1.4v1.6h-1.4zM255.1 403.5h1.4v1.6h-1.4zM257 403.5h1.4v1.6h-1.4zM255.1 404.7h3.4v1.6h-3.4z" fill="#ffffff" shape-rendering="geometricPrecision"/>
<line x1="180.5" y1="409.2" x2="180.5" y2="451.2" stroke="#00ff00" stroke-width="1"/>
<line x1="254.5" y1="409.2" x2="254.5" y2="451.2" stroke="#00ff00" stroke-width="1"/>
<line x1="178.5" y1="415.5" x2="257" y2="415.5" stroke="#00ff00" stroke-width="1"/>
<line x1="179.1" y1="417.3" x2="182.3" y2="414.1" stroke="#00ff00" stroke-width="1.2"/>
<line x1="253.2" y1="417.3" x2="256.4" y2="414.1" stroke="#00ff00" stroke-width="1.2"/>
<line x1="178.5" y1="426.5" x2="257" y2="426.5" stroke="#00ff00" stroke-width="1"/>
<line x1="179.1" y1="428.3" x2="182.3" y2="425.1" stroke="#00ff00" stroke-width="1.2"/>
<line x1="181.9" y1="428.3" x2="185.1" y2="425.1" stroke="#00ff00" stroke-width="1.2"/>
<line x1="217.9" y1="428.3" x2="221.1" y2="425.1" stroke="#00ff00" stroke-width="1.2"/>
<line x1="250.9" y1="428.3" x2="254.1" y2="425.1" stroke="#00ff00" stroke-width="1.2"/>
<line x1="253.2" y1="428.3" x2="256.4" y2="425.1" stroke="#00ff00" stroke-width="1.2"/>
<line x1="183.5" y1="424.2" x2="183.5" y2="448.2" stroke="#00ff00" stroke-width="1"/>
<line x1="219.5" y1="424.2" x2="219.5" y2="448.2" stroke="#00ff00" stroke-width="1"/>
<line x1="252.5" y1="424.2" x2="252.5" y2="448.2" stroke="#00ff00" stroke-width="1"/>
<path d="M213.4 410.2h2.1v1.3h-2.1zM214.5 411h1v1.3h-1zM213.4 411.9h2.1v1.3h-2.1zM214.5 412.8h1v1.3h-1zM213.4 413.6h2.1v1.3h-2.1zM215.6 410.2h2.1v1.3h-2.1zM216.8 411h1v1.3h-1zM216.2 411.9h1v1.3h-1zM216.2 412.8h1v1.3h-1zM216.2 413.6h1v1.3h-1zM217.9 410.2h2.1v1.3h-2.1zM217.9 411h1v1.3h-1zM219 411h1v1.3h-1zM217.9 411.9h1v1.3h-1zM219 411.9h1v1.3h-1zM217.9 412.8h1v1.3h-1zM219 412.8h1v1.3h-1zM217.9 413.6h2.1v1.3h-2.1zM220.2 410.2h2.1v1.3h-2.1zM220.2 411h1v1.3h-1zM221.3 411h1v1.3h-1zM220.2 411.9h1v1.3h-1zM221.3 411.9h1v1.3h-1zM220.2 412.8h1v1.3h-1zM221.3 412.8h1v1.3h-1zM220.2 413.6h2.1v1.3h-2.1z" fill="#ffffff" shape-rendering="geometricPrecision"/>
<path d="M179.3 421.5h1.9v1.1h-1.9zM180.3 422.2h0.9v1.1h-0.9zM179.3 422.9h1.9v1.1h-1.9zM179.3 423.6h0.9v1.1h-0.9zM179.3 424.3h1.9v1.1h-1.9zM181.3 421.5h1.9v1.1h-1.9zM181.3 422.2h0.9v1.1h-0.9zM182.3 422.2h0.9v1.1h-0.9zM181.3 422.9h0.9v1.1h-0.9zM182.3 422.9h0.9v1.1h-0.9zM181.3 423.6h0.9v1.1h-0.9zM182.3 423.6h0.9v1.1h-0.9zM181.3 424.3h1.9v1.1h-1.9zM183.3 421.5h1.9v1.1h-1.9zM183.3 422.2h0.9v1.1h-0.9zM184.3 422.2h0.9v1.1h-0.9zM183.3 422.9h0.9v1.1h-0.9zM184.3 422.9h0.9v1.1h-0.9zM183.3 423.6h0.9v1.1h-0.9zM184.3 423.6h0.9v1.1h-0.9zM183.3 424.3h1.9v1.1h-1.9z" fill="#ffffff" shape-rendering="geometricPrecision"/>
<path d="M198.2 421.5h0.9v1.1h-0.9zM197.8 422.2h1.4v1.1h-1.4zM198.2 422.9h0.9v1.1h-0.9zM198.2 423.6h0.9v1.1h-0.9zM197.8 424.3h1.8v1.1h-1.8zM199.6 421.5h1.8v1.1h-1.8zM199.6 422.2h0.9v1.1h-0.9zM199.6 422.9h1.8v1.1h-1.8zM199.6 423.6h0.9v1.1h-0.9zM200.6 423.6h0.9v1.1h-0.9zM199.6 424.3h1.8v1.1h-1.8zM201.5 421.5h1.8v1.1h-1.8zM201.5 422.2h0.9v1.1h-0.9zM201.5 422.9h1.8v1.1h-1.8zM202.4 423.6h0.9v1.1h-0.9zM201.5 424.3h1.8v1.1h-1.8zM203.4 421.5h1.8v1.1h-1.8zM203.4 422.2h0.9v1.1h-0.9zM204.3 422.2h0.9v1.1h-0.9zM203.4 422.9h0.9v1.1h-0.9zM204.3 422.9h0.9v1.1h-0.9zM203.4 423.6h0.9v1.1h-0.9zM204.3 423.6h0.9v1.1h-0.9zM203.4 424.3h1.8v1.1h-1.8z" fill="#ffffff" shape-rendering="geometricPrecision"/>
<path d="M232.3 421.5h1v1.1h-1zM231.8 422.2h1.5v1.1h-1.5zM232.3 422.9h1v1.1h-1zM232.3 423.6h1v1.1h-1zM231.8 424.3h2v1.1h-2zM233.9 421.5h2v1.1h-2zM233.9 422.2h1v1.1h-1zM233.9 422.9h2v1.1h-2zM233.9 423.6h1v1.1h-1zM235 423.6h1v1.1h-1zM233.9 424.3h2v1.1h-2zM236 421.5h2v1.1h-2zM236 422.2h1v1.1h-1zM236 422.9h2v1.1h-2zM237.1 423.6h1v1.1h-1zM236 424.3h2v1.1h-2zM238.2 421.5h2v1.1h-2zM238.2 422.2h1v1.1h-1zM239.2 422.2h1v1.1h-1zM238.2 422.9h1v1.1h-1zM239.2 422.9h1v1.1h-1zM238.2 423.6h1v1.1h-1zM239.2 423.6h1v1.1h-1zM238.2 424.3h2v1.1h-2z" fill="#ffffff" shape-rendering="geometricPrecision"/>
<path d="M250.3 421.5h1.9v1.1h-1.9zM251.3 422.2h0.9v1.1h-0.9zM250.3 422.9h1.9v1.1h-1.9zM250.3 423.6h0.9v1.1h-0.9zM250.3 424.3h1.9v1.1h-1.9zM252.3 421.5h1.9v1.1h-1.9zM252.3 422.2h0.9v1.1h-0.9zM253.3 422.2h0.9v1.1h-0.9zM252.3 422.9h0.9v1.1h-0.9zM253.3 422.9h0.9v1.1h-0.9zM252.3 423.6h0.9v1.1h-0.9zM253.3 423.6h0.9v1.1h-0.9zM252.3 424.3h1.9v1.1h-1.9zM254.3 421.5h1.9v1.1h-1.9zM254.3 422.2h0.9v1.1h-0.9zM255.3 422.2h0.9v1.1h-0.9zM254.3 422.9h0.9v1.1h-0.9zM255.3 422.9h0.9v1.1h-0.9zM254.3 423.6h0.9v1.1h-0.9zM255.3 423.6h0.9v1.1h-0.9zM254.3 424.3h1.9v1.1h-1.9z" fill="#ffffff" shape-rendering="geometricPrecision"/>
<circle cx="125.3" cy="451.2" r="5.8" stroke="#10a8a8" stroke-width="1" fill="none"/>
<path d="M123.4 448.2h3.8v1.6h-3.8zM123.4 449.3h1.6v1.6h-1.6zM123.4 450.4h1.6v1.6h-1.6zM123.4 451.5h1.6v1.6h-1.6zM123.4 452.7h3.8v1.6h-3.8z" fill="#ffffff" shape-rendering="geometricPrecision"/>
<circle cx="125.3" cy="661.8" r="5.8" stroke="#10a8a8" stroke-width="1" fill="none"/>
<path d="M123.4 658.8h3.8v1.6h-3.8zM123.4 659.9h1.6v1.6h-1.6zM123.4 661h3.8v1.6h-3.8zM123.4 662.1h1.6v1.6h-1.6zM123.4 663.3h3.8v1.6h-3.8z" fill="#ffffff" shape-rendering="geometricPrecision"/>
<line x1="131" y1="451.5" x2="175.6" y2="451.5" stroke="#00ff00" stroke-width="1"/>
<line x1="131" y1="661.5" x2="174" y2="661.5" stroke="#00ff00" stroke-width="1"/>
<line x1="137.5" y1="451.2" x2="137.5" y2="662.2" stroke="#00ff00" stroke-width="1"/>
<line x1="148.5" y1="451.2" x2="148.5" y2="662.2" stroke="#00ff00" stroke-width="1"/>
<line x1="135.9" y1="453.3" x2="139.1" y2="450.1" stroke="#00ff00" stroke-width="1.2"/>
<line x1="135.9" y1="663.3" x2="139.1" y2="660.1" stroke="#00ff00" stroke-width="1.2"/>
<line x1="146.9" y1="453.3" x2="150.1" y2="450.1" stroke="#00ff00" stroke-width="1.2"/>
<line x1="146.9" y1="663.3" x2="150.1" y2="660.1" stroke="#00ff00" stroke-width="1.2"/>
<line x1="146.9" y1="497.3" x2="150.1" y2="494.1" stroke="#00ff00" stroke-width="1.2"/>
<line x1="146.9" y1="554.3" x2="150.1" y2="551.1" stroke="#00ff00" stroke-width="1.2"/>
<line x1="146.9" y1="561.3" x2="150.1" y2="558.1" stroke="#00ff00" stroke-width="1.2"/>
<line x1="146.9" y1="618.3" x2="150.1" y2="615.1" stroke="#00ff00" stroke-width="1.2"/>
<line x1="145" y1="495.5" x2="176" y2="495.5" stroke="#00ff00" stroke-width="1"/>
<line x1="145" y1="552.5" x2="176" y2="552.5" stroke="#00ff00" stroke-width="1"/>
<line x1="145" y1="559.5" x2="176" y2="559.5" stroke="#00ff00" stroke-width="1"/>
<line x1="145" y1="616.5" x2="176" y2="616.5" stroke="#00ff00" stroke-width="1"/>
<path d="M132.3 561.2h1.3v1.2h-1.3zM132.3 560.4h1.3v1.2h-1.3zM134.1 560.4h3.1v1.2h-3.1zM132.3 559.6h2.2v1.2h-2.2zM132.3 558h1.3v1.2h-1.3zM132.3 557.2h1.3v1.2h-1.3zM134.1 557.2h3.1v1.2h-3.1zM132.3 556.4h2.2v1.2h-2.2zM132.3 554.8h4.9v1.2h-4.9zM132.3 554h1.3v1.2h-1.3zM135.9 554h1.3v1.2h-1.3zM132.3 553.2h4.9v1.2h-4.9zM132.3 551.6h4.9v1.2h-4.9zM132.3 550.8h1.3v1.2h-1.3zM135.9 550.8h1.3v1.2h-1.3zM132.3 550h4.9v1.2h-4.9z" fill="#ffffff" shape-rendering="geometricPrecision"/>
<path d="M143.7 476.2h1.3v1.2h-1.3zM146.4 476.2h1.3v1.2h-1.3zM142.8 475.5h4.9v1.2h-4.9zM146.4 474.8h1.3v1.2h-1.3zM142.8 473.3h3.1v1.2h-3.1zM146.4 473.3h1.3v1.2h-1.3zM142.8 472.6h1.3v1.2h-1.3zM144.6 472.6h1.3v1.2h-1.3zM146.4 472.6h1.3v1.2h-1.3zM142.8 471.8h1.3v1.2h-1.3zM144.6 471.8h3.1v1.2h-3.1zM142.8 470.4h4.9v1.2h-4.9zM142.8 469.6h1.3v1.2h-1.3zM146.4 469.6h1.3v1.2h-1.3zM142.8 468.9h4.9v1.2h-4.9zM142.8 467.4h4.9v1.2h-4.9zM142.8 466.7h1.3v1.2h-1.3zM146.4 466.7h1.3v1.2h-1.3zM142.8 466h4.9v1.2h-4.9z" fill="#ffffff" shape-rendering="geometricPrecision"/>
<path d="M142.8 505.3h4.9v1.2h-4.9zM142.8 504.5h1.3v1.2h-1.3zM144.6 504.5h1.3v1.2h-1.3zM146.4 504.5h1.3v1.2h-1.3zM142.8 503.8h1.3v1.2h-1.3zM144.6 503.8h3.1v1.2h-3.1zM142.8 502.3h4.9v1.2h-4.9zM142.8 501.6h1.3v1.2h-1.3zM146.4 501.6h1.3v1.2h-1.3zM142.8 500.9h4.9v1.2h-4.9zM142.8 499.4h4.9v1.2h-4.9zM142.8 498.7h1.3v1.2h-1.3zM146.4 498.7h1.3v1.2h-1.3zM142.8 498h4.9v1.2h-4.9z" fill="#ffffff" shape-rendering="geometricPrecision"/>
<path d="M142.8 539.5h1.3v1h-1.3zM144.6 539.5h3.1v1h-3.1zM142.8 539h1.3v1h-1.3zM144.6 539h1.3v1h-1.3zM146.4 539h1.3v1h-1.3zM142.8 538.4h3.1v1h-3.1zM146.4 538.4h1.3v1h-1.3zM142.8 537.4h4.9v1h-4.9zM142.8 536.9h1.3v1h-1.3zM144.6 536.9h1.3v1h-1.3zM146.4 536.9h1.3v1h-1.3zM142.8 536.4h4.9v1h-4.9zM142.8 535.4h3.1v1h-3.1zM146.4 535.4h1.3v1h-1.3zM142.8 534.9h1.3v1h-1.3zM144.6 534.9h1.3v1h-1.3zM146.4 534.9h1.3v1h-1.3zM142.8 534.4h1.3v1h-1.3zM144.6 534.4h3.1v1h-3.1zM142.8 533.3h4.9v1h-4.9zM142.8 532.8h1.3v1h-1.3zM146.4 532.8h1.3v1h-1.3zM142.8 532.3h4.9v1h-4.9zM143.7 531.3h1.3v1h-1.3zM145.5 531.3h1.3v1h-1.3zM144.6 530.8h1.3v1h-1.3zM143.7 530.3h1.3v1h-1.3zM145.5 530.3h1.3v1h-1.3zM142.8 529.2h4.9v1h-4.9zM142.8 528.7h1.3v1h-1.3zM144.6 528.7h1.3v1h-1.3zM146.4 528.7h1.3v1h-1.3zM142.8 528.2h4.9v1h-4.9zM143.7 527.2h1.3v1h-1.3zM145.5 527.2h1.3v1h-1.3zM143.7 526.7h1.3v1h-1.3zM145.5 526.7h1.3v1h-1.3zM143.7 526.2h1.3v1h-1.3zM145.5 526.2h1.3v1h-1.3zM142.8 525.1h1.3v1h-1.3zM144.6 525.1h3.1v1h-3.1zM142.8 524.6h1.3v1h-1.3zM144.6 524.6h1.3v1h-1.3zM146.4 524.6h1.3v1h-1.3zM142.8 524.1h3.1v1h-3.1zM146.4 524.1h1.3v1h-1.3zM142.8 523.1h3.1v1h-3.1zM144.6 522.6h1.3v1h-1.3zM142.8 522.1h4.9v1h-4.9zM142.8 521h4.9v1h-4.9zM142.8 520.5h1.3v1h-1.3zM146.4 520.5h1.3v1h-1.3zM142.8 520h4.9v1h-4.9zM142.8 519h4.9v1h-4.9zM142.8 518.5h1.3v1h-1.3zM146.4 518.5h1.3v1h-1.3zM142.8 518h4.9v1h-4.9z" fill="#ffffff" shape-rendering="geometricPrecision"/>
<path d="M142.8 558.3h4.9v1.1h-4.9zM142.8 557.7h1.3v1.1h-1.3zM144.6 557.7h1.3v1.1h-1.3zM146.4 557.7h1.3v1.1h-1.3zM142.8 557.1h1.3v1.1h-1.3zM144.6 557.1h3.1v1.1h-3.1zM142.8 555.8h4.9v1.1h-4.9zM142.8 555.2h1.3v1.1h-1.3zM146.4 555.2h1.3v1.1h-1.3zM142.8 554.5h4.9v1.1h-4.9zM142.8 553.3h4.9v1.1h-4.9zM142.8 552.6h1.3v1.1h-1.3zM146.4 552.6h1.3v1.1h-1.3zM142.8 552h4.9v1.1h-4.9z" fill="#ffffff" shape-rendering="geometricPrecision"/>
<path d="M142.8 597h1.3v0.9h-1.3zM144.6 597h3.1v0.9h-3.1zM142.8 596.5h1.3v0.9h-1.3zM144.6 596.5h1.3v0.9h-1.3zM146.4 596.5h1.3v0.9h-1.3zM142.8 596h3.1v0.9h-3.1zM146.4 596h1.3v0.9h-1.3zM142.8 595.1h4.9v0.9h-4.9zM142.8 594.6h1.3v0.9h-1.3zM144.6 594.6h1.3v0.9h-1.3zM146.4 594.6h1.3v0.9h-1.3zM142.8 594.1h4.9v0.9h-4.9zM142.8 593.2h3.1v0.9h-3.1zM146.4 593.2h1.3v0.9h-1.3zM142.8 592.7h1.3v0.9h-1.3zM144.6 592.7h1.3v0.9h-1.3zM146.4 592.7h1.3v0.9h-1.3zM142.8 592.2h1.3v0.9h-1.3zM144.6 592.2h3.1v0.9h-3.1zM142.8 591.3h4.9v0.9h-4.9zM142.8 590.8h1.3v0.9h-1.3zM146.4 590.8h1.3v0.9h-1.3zM142.8 590.3h4.9v0.9h-4.9zM143.7 589.4h1.3v0.9h-1.3zM145.5 589.4h1.3v0.9h-1.3zM144.6 588.9h1.3v0.9h-1.3zM143.7 588.4h1.3v0.9h-1.3zM145.5 588.4h1.3v0.9h-1.3zM142.8 587.5h4.9v0.9h-4.9zM142.8 587h1.3v0.9h-1.3zM144.6 587h1.3v0.9h-1.3zM146.4 587h1.3v0.9h-1.3zM142.8 586.5h4.9v0.9h-4.9zM143.7 585.6h1.3v0.9h-1.3zM145.5 585.6h1.3v0.9h-1.3zM143.7 585.1h1.3v0.9h-1.3zM145.5 585.1h1.3v0.9h-1.3zM143.7 584.6h1.3v0.9h-1.3zM145.5 584.6h1.3v0.9h-1.3zM142.8 583.7h1.3v0.9h-1.3zM144.6 583.7h3.1v0.9h-3.1zM142.8 583.2h1.3v0.9h-1.3zM144.6 583.2h1.3v0.9h-1.3zM146.4 583.2h1.3v0.9h-1.3zM142.8 582.7h3.1v0.9h-3.1zM146.4 582.7h1.3v0.9h-1.3zM142.8 581.7h3.1v0.9h-3.1zM144.6 581.3h1.3v0.9h-1.3zM142.8 580.8h4.9v0.9h-4.9zM142.8 579.8h4.9v0.9h-4.9zM142.8 579.4h1.3v0.9h-1.3zM146.4 579.4h1.3v0.9h-1.3zM142.8 578.9h4.9v0.9h-4.9zM142.8 577.9h4.9v0.9h-4.9zM142.8 577.5h1.3v0.9h-1.3zM146.4 577.5h1.3v0.9h-1.3zM142.8 577h4.9v0.9h-4.9z" fill="#ffffff" shape-rendering="geometricPrecision"/>
<path d="M143.7 642.3h1.3v1.1h-1.3zM146.4 642.3h1.3v1.1h-1.3zM142.8 641.6h4.9v1.1h-4.9zM146.4 641h1.3v1.1h-1.3zM142.8 639.6h4.9v1.1h-4.9zM142.8 639h1.3v1.1h-1.3zM144.6 639h1.3v1.1h-1.3zM146.4 639h1.3v1.1h-1.3zM142.8 638.3h4.9v1.1h-4.9zM142.8 637h4.9v1.1h-4.9zM142.8 636.3h1.3v1.1h-1.3zM146.4 636.3h1.3v1.1h-1.3zM142.8 635.6h4.9v1.1h-4.9zM142.8 634.3h4.9v1.1h-4.9zM142.8 633.6h1.3v1.1h-1.3zM146.4 633.6h1.3v1.1h-1.3zM142.8 633h4.9v1.1h-4.9z" fill="#ffffff" shape-rendering="geometricPrecision"/>
<polygon points="175.5,448.7 200.5,448.7 200.5,458.7 189.5,458.7 189.5,462.7 175.5,462.7" stroke="#ffffff" stroke-width="1" fill="#4a72a0"/>
<polygon points="235.5,448.7 260.5,448.7 260.5,462.7 246.5,462.7 246.5,458.7 235.5,458.7" stroke="#ffffff" stroke-width="1" fill="#4a72a0"/>
<line x1="175.5" y1="451.5" x2="260.5" y2="451.5" stroke="#808080" stroke-width="1"/>
<line x1="200.5" y1="451.5" x2="235.5" y2="451.5" stroke="#00ffff" stroke-width="1"/>
<line x1="260.5" y1="451.5" x2="275.4" y2="451.5" stroke="#00ffff" stroke-width="1"/>
<line x1="161.4" y1="459.5" x2="175.5" y2="459.5" stroke="#00ffff" stroke-width="1"/>
<line x1="189.5" y1="459.5" x2="246.5" y2="459.5" stroke="#00ffff" stroke-width="1"/>
<line x1="260.5" y1="459.5" x2="275.4" y2="459.5" stroke="#00ffff" stroke-width="1"/>
<polyline points="161.5,444.2 161.5,478.2 163.3,479.5 158.5,481.3 162.4,482.2 161.5,483.2 161.5,517.2" stroke="#ffffff" stroke-width="1" fill="none"/>
<polyline points="275.5,444.2 275.5,478.2 277.3,479.5 272.5,481.3 276.4,482.2 275.5,483.2 275.5,517.2" stroke="#ffffff" stroke-width="1" fill="none"/>
<polyline points="156.5,513.5 170.1,513.5 171.4,511.7 173.2,516.5 174.1,512.6 175.1,513.5 188,513.5" stroke="#ffffff" stroke-width="1" fill="none"/>
<polyline points="253,513.5 260.5,513.5 261.8,511.7 263.6,516.5 264.5,512.6 265.5,513.5 279,513.5" stroke="#ffffff" stroke-width="1" fill="none"/>
<line x1="181.5" y1="451.2" x2="181.5" y2="678.2" stroke="#808080" stroke-width="1"/>
<line x1="254.5" y1="451.2" x2="254.5" y2="678.2" stroke="#808080" stroke-width="1"/>
<line x1="178.5" y1="462.7" x2="178.5" y2="512.2" stroke="#00ffff" stroke-width="1"/>
<line x1="183.5" y1="462.7" x2="183.5" y2="549.2" stroke="#00ffff" stroke-width="1"/>
<line x1="252.5" y1="462.7" x2="252.5" y2="549.2" stroke="#00ffff" stroke-width="1"/>
<line x1="257.5" y1="462.7" x2="257.5" y2="512.2" stroke="#00ffff" stroke-width="1"/>
<line x1="183.5" y1="490.5" x2="252.5" y2="490.5" stroke="#00ffff" stroke-width="1"/>
<line x1="183.5" y1="495.5" x2="252.5" y2="495.5" stroke="#00ffff" stroke-width="1"/>
<line x1="183.5" y1="502.5" x2="252.5" y2="502.5" stroke="#ffff00" stroke-width="1"/>
<line x1="183.5" y1="509.5" x2="252.5" y2="509.5" stroke="#ffff00" stroke-width="1"/>
<line x1="183.5" y1="516.5" x2="252.5" y2="516.5" stroke="#ffff00" stroke-width="1"/>
<line x1="183.5" y1="523.5" x2="252.5" y2="523.5" stroke="#ffff00" stroke-width="1"/>
<line x1="183.5" y1="531.5" x2="252.5" y2="531.5" stroke="#ffff00" stroke-width="1"/>
<line x1="183.5" y1="538.5" x2="252.5" y2="538.5" stroke="#ffff00" stroke-width="1"/>
<line x1="183.5" y1="545.5" x2="252.5" y2="545.5" stroke="#ffff00" stroke-width="1"/>
<line x1="219.5" y1="495.2" x2="219.5" y2="616.2" stroke="#ffff00" stroke-width="1"/>
<line x1="183.5" y1="552.5" x2="252.5" y2="552.5" stroke="#00ffff" stroke-width="1"/>
<line x1="183.5" y1="559.5" x2="252.5" y2="559.5" stroke="#00ffff" stroke-width="1"/>
<line x1="183.5" y1="566.5" x2="252.5" y2="566.5" stroke="#ffff00" stroke-width="1"/>
<line x1="183.5" y1="573.5" x2="252.5" y2="573.5" stroke="#ffff00" stroke-width="1"/>
<line x1="183.5" y1="580.5" x2="252.5" y2="580.5" stroke="#ffff00" stroke-width="1"/>
<line x1="183.5" y1="587.5" x2="252.5" y2="587.5" stroke="#ffff00" stroke-width="1"/>
<line x1="183.5" y1="594.5" x2="252.5" y2="594.5" stroke="#ffff00" stroke-width="1"/>
<line x1="183.5" y1="602.5" x2="252.5" y2="602.5" stroke="#ffff00" stroke-width="1"/>
<line x1="183.5" y1="609.5" x2="252.5" y2="609.5" stroke="#ffff00" stroke-width="1"/>
<line x1="183.5" y1="616.5" x2="252.5" y2="616.5" stroke="#00ffff" stroke-width="1"/>
<line x1="183.5" y1="621.5" x2="252.5" y2="621.5" stroke="#00ffff" stroke-width="1"/>
<polyline points="183.6,543.6 218.6,521" stroke="#ffff00" stroke-width="1" fill="none"/>
<polyline points="185,545.4 219.3,523.2" stroke="#ffff00" stroke-width="1" fill="none"/>
<polyline points="220.8,543.6 251.9,523.8" stroke="#ffff00" stroke-width="1" fill="none"/>
<polyline points="221.5,545.6 252,525.8" stroke="#ffff00" stroke-width="1" fill="none"/>
<line x1="200.5" y1="482.7" x2="200.5" y2="532.2" stroke="#00ff00" stroke-width="1"/>
<line x1="235.5" y1="482.7" x2="235.5" y2="532.2" stroke="#00ff00" stroke-width="1"/>
<line x1="200.5" y1="575.2" x2="200.5" y2="629.2" stroke="#00ff00" stroke-width="1"/>
<line x1="235.5" y1="575.2" x2="235.5" y2="629.2" stroke="#00ff00" stroke-width="1"/>
<path d="M198.5 478H202M200.25 477.5V482M200.85 479.5l1.2 1" stroke="#ffff00" stroke-width="1.1" fill="none"/>
<path d="M233.8 481.5H237.3M235.55 477.5V482M235.55 479.5h1.6" stroke="#ffff00" stroke-width="1.1" fill="none"/>
<path d="M198.5 630.7H202M200.25 626.7V631.2M200.25 628.7h1.6" stroke="#ffff00" stroke-width="1.1" fill="none"/>
<path d="M233.8 627.2H237.3M235.55 626.7V631.2M236.15 628.7l1.2 1" stroke="#ffff00" stroke-width="1.1" fill="none"/>
<path d="M214.6 491.3h1.6v1.2h-1.6zM216.9 491.3h1.6v1.2h-1.6zM214.6 492h1.6v1.2h-1.6zM216.9 492h1.6v1.2h-1.6zM214.6 492.8h1.6v1.2h-1.6zM216.9 492.8h1.6v1.2h-1.6zM214.6 493.5h1.6v1.2h-1.6zM216.9 493.5h1.6v1.2h-1.6zM214.6 494.2h3.9v1.2h-3.9zM219.2 491.3h3.9v1.2h-3.9zM219.2 492h1.6v1.2h-1.6zM221.4 492h1.6v1.2h-1.6zM219.2 492.8h3.9v1.2h-3.9zM219.2 493.5h1.6v1.2h-1.6zM219.2 494.2h1.6v1.2h-1.6z" fill="#ffff00" shape-rendering="geometricPrecision"/>
<path d="M213.8 616.5h2.7v1.2h-2.7zM213.8 617.3h1.6v1.2h-1.6zM216.1 617.3h1.6v1.2h-1.6zM213.8 618.1h1.6v1.2h-1.6zM216.1 618.1h1.6v1.2h-1.6zM213.8 618.9h1.6v1.2h-1.6zM216.1 618.9h1.6v1.2h-1.6zM213.8 619.7h2.7v1.2h-2.7zM218.4 616.5h1.6v1.2h-1.6zM220.6 616.5h1.6v1.2h-1.6zM218.4 617.3h3.9v1.2h-3.9zM218.4 618.1h3.9v1.2h-3.9zM218.4 618.9h3.9v1.2h-3.9zM218.4 619.7h1.6v1.2h-1.6zM220.6 619.7h1.6v1.2h-1.6z" fill="#ffff00" shape-rendering="geometricPrecision"/>
<polygon points="178.5,549.7 183.5,549.7 183.5,664.7 161.5,664.7 161.5,658.7 178.5,658.7" stroke="#ffffff" stroke-width="1" fill="#4a72a0"/>
<polygon points="252.5,549.7 257.5,549.7 257.5,658.7 275.5,658.7 275.5,664.7 252.5,664.7" stroke="#ffffff" stroke-width="1" fill="#4a72a0"/>
<line x1="181.5" y1="549.2" x2="181.5" y2="678.2" stroke="#808080" stroke-width="1"/>
<line x1="254.5" y1="549.2" x2="254.5" y2="678.2" stroke="#808080" stroke-width="1"/>
<line x1="161.5" y1="661.5" x2="275.5" y2="661.5" stroke="#808080" stroke-width="1"/>
<line x1="183.5" y1="658.5" x2="252.5" y2="658.5" stroke="#00ffff" stroke-width="1"/>
<line x1="183.5" y1="664.5" x2="252.5" y2="664.5" stroke="#00ffff" stroke-width="1"/>
<line x1="178.5" y1="664.7" x2="178.5" y2="678.2" stroke="#00ffff" stroke-width="1"/>
<line x1="183.5" y1="664.7" x2="183.5" y2="678.2" stroke="#00ffff" stroke-width="1"/>
<line x1="252.5" y1="664.7" x2="252.5" y2="678.2" stroke="#00ffff" stroke-width="1"/>
<line x1="257.5" y1="664.7" x2="257.5" y2="678.2" stroke="#00ffff" stroke-width="1"/>
<polyline points="158.2,678.5 217,678.5 218.3,676.7 220.1,681.5 221,677.6 222,678.5 280,678.5" stroke="#ffffff" stroke-width="1" fill="none"/>
<line x1="161.5" y1="665.2" x2="161.5" y2="683.2" stroke="#ffffff" stroke-width="1"/>
<line x1="275.5" y1="665.2" x2="275.5" y2="683.2" stroke="#ffffff" stroke-width="1"/>
<polyline points="161.5,650.2 161.5,664.7 163.3,666 158.5,667.8 162.4,668.7 161.5,669.7 161.5,670.2" stroke="#ffffff" stroke-width="1" fill="none"/>
<polyline points="275.5,650.2 275.5,664.7 277.3,666 272.5,667.8 276.4,668.7 275.5,669.7 275.5,670.2" stroke="#ffffff" stroke-width="1" fill="none"/>
<polygon points="211,473.5 219,473.5 215,478.5" stroke="#ffbf00" stroke-width="1" fill="none"/>
<line x1="211" y1="473.5" x2="229" y2="473.5" stroke="#ffbf00" stroke-width="1"/>
<path d="M213.8 468.2h2.5v1.3h-2.5zM215.1 469.1h1.2v1.3h-1.2zM213.8 469.9h2.5v1.3h-2.5zM213.8 470.8h1.2v1.3h-1.2zM213.8 471.6h2.5v1.3h-2.5zM216.4 468.2h1.2v1.3h-1.2zM217.7 468.2h1.2v1.3h-1.2zM216.4 469.1h1.2v1.3h-1.2zM217.7 469.1h1.2v1.3h-1.2zM216.4 469.9h2.5v1.3h-2.5zM217.7 470.8h1.2v1.3h-1.2zM217.7 471.6h1.2v1.3h-1.2zM219.6 471.6h1.2v1.3h-1.2zM221.6 468.2h2.5v1.3h-2.5zM221.6 469.1h1.2v1.3h-1.2zM222.9 469.1h1.2v1.3h-1.2zM221.6 469.9h1.2v1.3h-1.2zM222.9 469.9h1.2v1.3h-1.2zM221.6 470.8h1.2v1.3h-1.2zM222.9 470.8h1.2v1.3h-1.2zM221.6 471.6h2.5v1.3h-2.5zM224.2 468.2h2.5v1.3h-2.5zM224.2 469.1h1.2v1.3h-1.2zM224.2 469.9h2.5v1.3h-2.5zM225.5 470.8h1.2v1.3h-1.2zM224.2 471.6h2.5v1.3h-2.5zM226.8 468.2h2.5v1.3h-2.5zM226.8 469.1h1.2v1.3h-1.2zM228.1 469.1h1.2v1.3h-1.2zM226.8 469.9h1.2v1.3h-1.2zM228.1 469.9h1.2v1.3h-1.2zM226.8 470.8h1.2v1.3h-1.2zM228.1 470.8h1.2v1.3h-1.2zM226.8 471.6h2.5v1.3h-2.5z" fill="#ffbf00" shape-rendering="geometricPrecision"/>
<path d="M208.3 504.8h1.1v1.2h-1.1zM209.7 504.8h1.1v1.2h-1.1zM208.3 505.6h1.1v1.2h-1.1zM209.7 505.6h1.1v1.2h-1.1zM208.3 506.4h2.5v1.2h-2.5zM209.7 507.2h1.1v1.2h-1.1zM209.7 508h1.1v1.2h-1.1zM211 504.8h2.5v1.2h-2.5zM211 505.6h1.1v1.2h-1.1zM212.4 505.6h1.1v1.2h-1.1zM211 506.4h1.1v1.2h-1.1zM212.4 506.4h1.1v1.2h-1.1zM211 507.2h1.1v1.2h-1.1zM212.4 507.2h1.1v1.2h-1.1zM211 508h2.5v1.2h-2.5z" fill="#ffff00" shape-rendering="geometricPrecision"/>
<path d="M220.8 522.7h3.9v1.3h-3.9zM223.4 522h1.3v1.3h-1.3zM223.4 521.4h1.3v1.3h-1.3zM220.8 520h3.9v1.3h-3.9zM221.5 519.3h1.3v1.3h-1.3zM222.8 519.3h1.3v1.3h-1.3zM220.8 518.6h1.3v1.3h-1.3zM223.4 518.6h1.3v1.3h-1.3zM220.8 517.3h3.9v1.3h-3.9zM220.8 516.6h1.3v1.3h-1.3zM223.4 516.6h1.3v1.3h-1.3zM220.8 515.9h3.9v1.3h-3.9zM221.5 514.5h1.3v1.3h-1.3zM222.8 514.5h1.3v1.3h-1.3zM222.1 513.8h1.3v1.3h-1.3zM221.5 513.2h1.3v1.3h-1.3zM222.8 513.2h1.3v1.3h-1.3zM220.8 511.8h3.9v1.3h-3.9zM223.4 511.1h1.3v1.3h-1.3zM223.4 510.4h1.3v1.3h-1.3zM220.8 509.1h1.3v1.3h-1.3zM222.8 509.1h1.9v1.3h-1.9zM220.8 508.4h1.3v1.3h-1.3zM222.1 508.4h1.3v1.3h-1.3zM223.4 508.4h1.3v1.3h-1.3zM220.8 507.7h1.9v1.3h-1.9zM223.4 507.7h1.3v1.3h-1.3z" fill="#ffff00" shape-rendering="geometricPrecision"/>
<path d="M224.8 522.6h3.9v1.4h-3.9zM227.4 521.9h1.3v1.4h-1.3zM224.8 521.1h3.9v1.4h-3.9zM224.8 519.6h3.9v1.4h-3.9zM224.8 518.9h1.3v1.4h-1.3zM227.4 518.9h1.3v1.4h-1.3zM224.8 518.1h1.3v1.4h-1.3zM227.4 518.1h1.3v1.4h-1.3zM224.8 516.6h3.9v1.4h-3.9zM224.8 515.9h1.3v1.4h-1.3zM227.4 515.9h1.3v1.4h-1.3zM224.8 515.1h3.9v1.4h-3.9zM225.4 513.6h2.6v1.4h-2.6zM224.8 512.9h1.9v1.4h-1.9zM226.7 512.9h1.9v1.4h-1.9zM225.4 512.1h2.6v1.4h-2.6zM224.8 510.6h3.9v1.4h-3.9zM224.8 509.9h1.3v1.4h-1.3zM227.4 509.9h1.3v1.4h-1.3zM224.8 509.1h3.9v1.4h-3.9z" fill="#ffff00" shape-rendering="geometricPrecision"/>
<path d="M229.4 522.6h3.2v1.4h-3.2zM228.7 521.9h1.3v1.4h-1.3zM230 521.9h1.3v1.4h-1.3zM229.4 521.1h3.2v1.4h-3.2zM228.7 519.5h3.2v1.4h-3.2zM231.3 518.8h1.3v1.4h-1.3zM228.7 518h3.2v1.4h-3.2zM228.7 516.4h1.9v1.4h-1.9zM230.7 516.4h1.9v1.4h-1.9zM230 515.7h1.3v1.4h-1.3zM228.7 514.9h1.9v1.4h-1.9zM230.7 514.9h1.9v1.4h-1.9zM228.7 513.4h3.9v1.4h-3.9zM228.7 512.6h1.3v1.4h-1.3zM231.3 512.6h1.3v1.4h-1.3zM228.7 511.8h1.3v1.4h-1.3zM230 511.8h2.6v1.4h-2.6z" fill="#ffff00" shape-rendering="geometricPrecision"/>
<path d="M205 615.5h4v1.4h-4zM205 614.7h1.3v1.4h-1.3zM206.4 614.7h1.3v1.4h-1.3zM205 613.9h2.7v1.4h-2.7zM205 612.3h1.3v1.4h-1.3zM206.4 612.3h1.3v1.4h-1.3zM207.7 612.3h1.3v1.4h-1.3zM205 611.4h1.3v1.4h-1.3zM206.4 611.4h1.3v1.4h-1.3zM207.7 611.4h1.3v1.4h-1.3zM205 610.6h4v1.4h-4zM205 609h4v1.4h-4zM205.7 608.2h1.3v1.4h-1.3zM207.1 608.2h1.3v1.4h-1.3zM205 607.4h1.3v1.4h-1.3zM207.7 607.4h1.3v1.4h-1.3zM205 605.8h4v1.4h-4zM205 605h1.3v1.4h-1.3zM206.4 605h1.3v1.4h-1.3zM207.7 605h1.3v1.4h-1.3zM205 604.2h1.3v1.4h-1.3zM206.4 604.2h1.3v1.4h-1.3zM207.7 604.2h1.3v1.4h-1.3zM205 602.6h4v1.4h-4zM205 601.7h1.3v1.4h-1.3zM207.7 601.7h1.3v1.4h-1.3zM205 600.9h1.3v1.4h-1.3zM206.4 600.9h2.7v1.4h-2.7zM205.7 599.3h2.7v1.4h-2.7zM205 598.5h1.3v1.4h-1.3zM207.7 598.5h1.3v1.4h-1.3z" fill="#ffff00" shape-rendering="geometricPrecision"/>
<path d="M209.1 615.5h4v1.4h-4zM209.1 614.7h1.3v1.4h-1.3zM210.5 614.7h1.3v1.4h-1.3zM211.9 614.7h1.3v1.4h-1.3zM209.1 613.9h4v1.4h-4zM209.8 612.3h1.3v1.4h-1.3zM211.2 612.3h1.3v1.4h-1.3zM210.5 611.5h1.3v1.4h-1.3zM209.8 610.8h1.3v1.4h-1.3zM211.2 610.8h1.3v1.4h-1.3zM209.8 609.2h2.7v1.4h-2.7zM209.1 608.4h1.3v1.4h-1.3zM211.9 608.4h1.3v1.4h-1.3z" fill="#ffff00" shape-rendering="geometricPrecision"/>
<path d="M213.3 615.6h4v1.3h-4zM214.6 614.8h1.3v1.3h-1.3zM213.3 614.1h4v1.3h-4zM213.3 612.6h4v1.3h-4zM213.3 611.9h1.3v1.3h-1.3zM214.6 611.9h1.3v1.3h-1.3zM216 611.9h1.3v1.3h-1.3zM213.3 611.2h2.7v1.3h-2.7zM216 611.2h1.3v1.3h-1.3zM215.3 609.7h2v1.3h-2zM216 609h1.3v1.3h-1.3zM213.3 608.2h4v1.3h-4zM213.3 606.8h4v1.3h-4zM213.3 606h1.3v1.3h-1.3zM216 606h1.3v1.3h-1.3zM213.3 605.3h4v1.3h-4zM213.3 603.8h1.3v1.3h-1.3zM214.6 603.8h2.7v1.3h-2.7zM213.3 603.1h1.3v1.3h-1.3zM214.6 603.1h1.3v1.3h-1.3zM216 603.1h1.3v1.3h-1.3zM213.3 602.4h2.7v1.3h-2.7zM216 602.4h1.3v1.3h-1.3zM213.3 600.9h4v1.3h-4zM214 600.2h2v1.3h-2zM213.3 599.4h4v1.3h-4z" fill="#ffff00" shape-rendering="geometricPrecision"/>
<polyline points="262.5,532 262.5,542 246.5,542 246.5,556" stroke="#ffff00" stroke-width="1" fill="none"/>
<path d="M263.9 532.3h3.3v1.3h-3.3zM264.8 533h1.5v1.3h-1.5zM264.8 533.8h1.5v1.3h-1.5zM264.8 534.5h1.5v1.3h-1.5zM264.8 535.3h1.5v1.3h-1.5zM268.4 532.3h1.5v1.3h-1.5zM267.5 533h3.3v1.3h-3.3zM267.5 533.8h1.5v1.3h-1.5zM269.3 533.8h1.5v1.3h-1.5zM267.5 534.5h3.3v1.3h-3.3zM268.4 535.3h1.5v1.3h-1.5z" fill="#ffff00" shape-rendering="geometricPrecision"/>
<path d="M263.9 538.5h3.1v1.3h-3.1zM263.9 539.2h1.4v1.3h-1.4zM265.6 539.2h1.4v1.3h-1.4zM263.9 539.9h3.1v1.3h-3.1zM263.9 540.6h1.4v1.3h-1.4zM265.6 540.6h1.4v1.3h-1.4zM263.9 541.3h3.1v1.3h-3.1zM267.2 538.5h3.1v1.3h-3.1zM267.2 539.2h1.4v1.3h-1.4zM268.9 539.2h1.4v1.3h-1.4zM267.2 539.9h3.1v1.3h-3.1zM267.2 540.6h1.4v1.3h-1.4zM267.2 541.3h3.1v1.3h-3.1zM270.5 538.5h3.1v1.3h-3.1zM270.5 539.2h1.4v1.3h-1.4zM272.2 539.2h1.4v1.3h-1.4zM270.5 539.9h1.4v1.3h-1.4zM272.2 539.9h1.4v1.3h-1.4zM270.5 540.6h1.4v1.3h-1.4zM272.2 540.6h1.4v1.3h-1.4zM270.5 541.3h3.1v1.3h-3.1zM273.8 538.5h1.4v1.3h-1.4zM275.5 538.5h1.4v1.3h-1.4zM273.8 539.2h3.1v1.3h-3.1zM273.8 539.9h3.1v1.3h-3.1zM273.8 540.6h3.1v1.3h-3.1zM273.8 541.3h1.4v1.3h-1.4zM275.5 541.3h1.4v1.3h-1.4zM277.1 538.5h3.1v1.3h-3.1zM277.1 539.2h1.4v1.3h-1.4zM277.1 539.9h3.1v1.3h-3.1zM277.1 540.6h1.4v1.3h-1.4zM277.1 541.3h3.1v1.3h-3.1z" fill="#ffff00" shape-rendering="geometricPrecision"/>
<path d="M241.8 603.8h1.3v1.2h-1.3zM243.5 603.8h1.3v1.2h-1.3zM241.8 604.6h1.3v1.2h-1.3zM243.5 604.6h1.3v1.2h-1.3zM241.8 605.4h3v1.2h-3zM243.5 606.2h1.3v1.2h-1.3zM243.5 607h1.3v1.2h-1.3zM245.2 603.8h3v1.2h-3zM245.2 604.6h1.3v1.2h-1.3zM246.9 604.6h1.3v1.2h-1.3zM245.2 605.4h1.3v1.2h-1.3zM246.9 605.4h1.3v1.2h-1.3zM245.2 606.2h1.3v1.2h-1.3zM246.9 606.2h1.3v1.2h-1.3zM245.2 607h3v1.2h-3z" fill="#ffff00" shape-rendering="geometricPrecision"/>
<polygon points="211.4,645.5 219.4,645.5 215.4,650.5" stroke="#ffbf00" stroke-width="1" fill="none"/>
<line x1="211.4" y1="645.5" x2="228.4" y2="645.5" stroke="#ffbf00" stroke-width="1"/>
<path d="M214.2 640.2h2.3v1.3h-2.3zM215.4 641.1h1.1v1.3h-1.1zM214.2 641.9h2.3v1.3h-2.3zM214.2 642.8h1.1v1.3h-1.1zM214.2 643.6h2.3v1.3h-2.3zM216.6 640.2h1.1v1.3h-1.1zM217.8 640.2h1.1v1.3h-1.1zM216.6 641.1h1.1v1.3h-1.1zM217.8 641.1h1.1v1.3h-1.1zM216.6 641.9h2.3v1.3h-2.3zM217.8 642.8h1.1v1.3h-1.1zM217.8 643.6h1.1v1.3h-1.1zM219.6 643.6h1.1v1.3h-1.1zM221.5 640.2h2.3v1.3h-2.3zM221.5 641.1h1.1v1.3h-1.1zM222.7 641.1h1.1v1.3h-1.1zM221.5 641.9h1.1v1.3h-1.1zM222.7 641.9h1.1v1.3h-1.1zM221.5 642.8h1.1v1.3h-1.1zM222.7 642.8h1.1v1.3h-1.1zM221.5 643.6h2.3v1.3h-2.3zM223.9 640.2h2.3v1.3h-2.3zM223.9 641.1h1.1v1.3h-1.1zM223.9 641.9h2.3v1.3h-2.3zM225.1 642.8h1.1v1.3h-1.1zM223.9 643.6h2.3v1.3h-2.3zM226.3 640.2h2.3v1.3h-2.3zM226.3 641.1h1.1v1.3h-1.1zM227.5 641.1h1.1v1.3h-1.1zM226.3 641.9h1.1v1.3h-1.1zM227.5 641.9h1.1v1.3h-1.1zM226.3 642.8h1.1v1.3h-1.1zM227.5 642.8h1.1v1.3h-1.1zM226.3 643.6h2.3v1.3h-2.3z" fill="#ffbf00" shape-rendering="geometricPrecision"/>
<path d="M180.5 697.5H185.5M182.5 697.5V707.7M187.5 697.5V707.7M185.5 699.5L187.5 697.5" stroke="#ff00ff" stroke-width="1" fill="none"/>
<path d="M192 698.5H196 M192 700.5H196 M191 702.5H196 M191 704.5H196 M191.5 699V708 M192.5 697V706 M194.5 697V708" stroke="#ff00ff" stroke-width="1" fill="none"/>
<path d="M198 698.5H202 M198 700.5H201 M198 702.5H202 M199 704.5H201 M200 707.5H202 M200.5 697V706 M201.5 697V708" stroke="#ff00ff" stroke-width="1" fill="none"/>
<path d="M204 698.5H208 M205 700.5H209 M204 702.5H208 M204 704.5H208 M205 707.5H209 M204.5 702V708 M207.5 702V708 M208.5 697V708" stroke="#ff00ff" stroke-width="1" fill="none"/>
<path d="M213 698.5H216 M212 700.5H214 M211 702.5H216 M211 707.5H216 M211.5 697V708 M214.5 702V708 M215.5 697V708" stroke="#ff00ff" stroke-width="1" fill="none"/>
<path d="M218 698.5H221 M218 700.5H223 M218 702.5H223 M218 707.5H222 M218.5 702V704 M222.5 702V704" stroke="#ff00ff" stroke-width="1" fill="none"/>
<path d="M226 698.5H229 M227 702.5H228 M225 704.5H229 M225 707.5H228 M225.5 697V704 M226.5 702V708" stroke="#ff00ff" stroke-width="1" fill="none"/>
<path d="M234 700.5H236 M233 702.5H236 M232 704.5H235 M232 707.5H235 M233.5 702V708 M234.5 702V706" stroke="#ff00ff" stroke-width="1" fill="none"/>
<rect x="174.8" y="710" width="77.2" height="2" fill="#ff00ff"/>
<circle cx="392.1" cy="403.2" r="5.8" stroke="#10a8a8" stroke-width="1" fill="none"/>
<path d="M390.2 400.2h3.8v1.6h-3.8zM390.2 401.3h1.6v1.6h-1.6zM392.4 401.3h1.6v1.6h-1.6zM390.2 402.4h3.8v1.6h-3.8zM390.2 403.5h1.6v1.6h-1.6zM392.4 403.5h1.6v1.6h-1.6zM390.2 404.7h3.8v1.6h-3.8z" fill="#ffffff" shape-rendering="geometricPrecision"/>
<circle cx="466.2" cy="403.2" r="5.8" stroke="#10a8a8" stroke-width="1" fill="none"/>
<path d="M463.5 400.2h1.4v1.6h-1.4zM462.5 401.3h2.4v1.6h-2.4zM463.5 402.4h1.4v1.6h-1.4zM463.5 403.5h1.4v1.6h-1.4zM462.5 404.7h3.4v1.6h-3.4zM466.5 400.2h3.4v1.6h-3.4zM466.5 401.3h1.4v1.6h-1.4zM468.4 401.3h1.4v1.6h-1.4zM466.5 402.4h1.4v1.6h-1.4zM468.4 402.4h1.4v1.6h-1.4zM466.5 403.5h1.4v1.6h-1.4zM468.4 403.5h1.4v1.6h-1.4zM466.5 404.7h3.4v1.6h-3.4z" fill="#ffffff" shape-rendering="geometricPrecision"/>
<line x1="392.5" y1="409.2" x2="392.5" y2="451.2" stroke="#00ff00" stroke-width="1"/>
<line x1="466.5" y1="409.2" x2="466.5" y2="451.2" stroke="#00ff00" stroke-width="1"/>
<line x1="389.9" y1="415.5" x2="468.4" y2="415.5" stroke="#00ff00" stroke-width="1"/>
<line x1="390.5" y1="417.3" x2="393.7" y2="414.1" stroke="#00ff00" stroke-width="1.2"/>
<line x1="464.6" y1="417.3" x2="467.8" y2="414.1" stroke="#00ff00" stroke-width="1.2"/>
<line x1="389.9" y1="426.5" x2="468.4" y2="426.5" stroke="#00ff00" stroke-width="1"/>
<line x1="390.5" y1="428.3" x2="393.7" y2="425.1" stroke="#00ff00" stroke-width="1.2"/>
<line x1="393.3" y1="428.3" x2="396.5" y2="425.1" stroke="#00ff00" stroke-width="1.2"/>
<line x1="429.3" y1="428.3" x2="432.5" y2="425.1" stroke="#00ff00" stroke-width="1.2"/>
<line x1="462.3" y1="428.3" x2="465.5" y2="425.1" stroke="#00ff00" stroke-width="1.2"/>
<line x1="464.6" y1="428.3" x2="467.8" y2="425.1" stroke="#00ff00" stroke-width="1.2"/>
<line x1="394.5" y1="424.2" x2="394.5" y2="448.2" stroke="#00ff00" stroke-width="1"/>
<line x1="430.5" y1="424.2" x2="430.5" y2="448.2" stroke="#00ff00" stroke-width="1"/>
<line x1="463.5" y1="424.2" x2="463.5" y2="448.2" stroke="#00ff00" stroke-width="1"/>
<path d="M424.8 410.2h2.1v1.3h-2.1zM425.9 411h1v1.3h-1zM424.8 411.9h2.1v1.3h-2.1zM425.9 412.8h1v1.3h-1zM424.8 413.6h2.1v1.3h-2.1zM427 410.2h2.1v1.3h-2.1zM428.2 411h1v1.3h-1zM427.6 411.9h1v1.3h-1zM427.6 412.8h1v1.3h-1zM427.6 413.6h1v1.3h-1zM429.3 410.2h2.1v1.3h-2.1zM429.3 411h1v1.3h-1zM430.4 411h1v1.3h-1zM429.3 411.9h1v1.3h-1zM430.4 411.9h1v1.3h-1zM429.3 412.8h1v1.3h-1zM430.4 412.8h1v1.3h-1zM429.3 413.6h2.1v1.3h-2.1zM431.6 410.2h2.1v1.3h-2.1zM431.6 411h1v1.3h-1zM432.7 411h1v1.3h-1zM431.6 411.9h1v1.3h-1zM432.7 411.9h1v1.3h-1zM431.6 412.8h1v1.3h-1zM432.7 412.8h1v1.3h-1zM431.6 413.6h2.1v1.3h-2.1z" fill="#ffffff" shape-rendering="geometricPrecision"/>
<path d="M390.7 421.5h1.9v1.1h-1.9zM391.7 422.2h0.9v1.1h-0.9zM390.7 422.9h1.9v1.1h-1.9zM390.7 423.6h0.9v1.1h-0.9zM390.7 424.3h1.9v1.1h-1.9zM392.7 421.5h1.9v1.1h-1.9zM392.7 422.2h0.9v1.1h-0.9zM393.7 422.2h0.9v1.1h-0.9zM392.7 422.9h0.9v1.1h-0.9zM393.7 422.9h0.9v1.1h-0.9zM392.7 423.6h0.9v1.1h-0.9zM393.7 423.6h0.9v1.1h-0.9zM392.7 424.3h1.9v1.1h-1.9zM394.7 421.5h1.9v1.1h-1.9zM394.7 422.2h0.9v1.1h-0.9zM395.7 422.2h0.9v1.1h-0.9zM394.7 422.9h0.9v1.1h-0.9zM395.7 422.9h0.9v1.1h-0.9zM394.7 423.6h0.9v1.1h-0.9zM395.7 423.6h0.9v1.1h-0.9zM394.7 424.3h1.9v1.1h-1.9z" fill="#ffffff" shape-rendering="geometricPrecision"/>
<path d="M409.6 421.5h0.9v1.1h-0.9zM409.2 422.2h1.4v1.1h-1.4zM409.6 422.9h0.9v1.1h-0.9zM409.6 423.6h0.9v1.1h-0.9zM409.2 424.3h1.8v1.1h-1.8zM411 421.5h1.8v1.1h-1.8zM411 422.2h0.9v1.1h-0.9zM411 422.9h1.8v1.1h-1.8zM411 423.6h0.9v1.1h-0.9zM412 423.6h0.9v1.1h-0.9zM411 424.3h1.8v1.1h-1.8zM412.9 421.5h1.8v1.1h-1.8zM412.9 422.2h0.9v1.1h-0.9zM412.9 422.9h1.8v1.1h-1.8zM413.8 423.6h0.9v1.1h-0.9zM412.9 424.3h1.8v1.1h-1.8zM414.8 421.5h1.8v1.1h-1.8zM414.8 422.2h0.9v1.1h-0.9zM415.7 422.2h0.9v1.1h-0.9zM414.8 422.9h0.9v1.1h-0.9zM415.7 422.9h0.9v1.1h-0.9zM414.8 423.6h0.9v1.1h-0.9zM415.7 423.6h0.9v1.1h-0.9zM414.8 424.3h1.8v1.1h-1.8z" fill="#ffffff" shape-rendering="geometricPrecision"/>
<path d="M443.7 421.5h1v1.1h-1zM443.2 422.2h1.5v1.1h-1.5zM443.7 422.9h1v1.1h-1zM443.7 423.6h1v1.1h-1zM443.2 424.3h2v1.1h-2zM445.3 421.5h2v1.1h-2zM445.3 422.2h1v1.1h-1zM445.3 422.9h2v1.1h-2zM445.3 423.6h1v1.1h-1zM446.4 423.6h1v1.1h-1zM445.3 424.3h2v1.1h-2zM447.4 421.5h2v1.1h-2zM447.4 422.2h1v1.1h-1zM447.4 422.9h2v1.1h-2zM448.5 423.6h1v1.1h-1zM447.4 424.3h2v1.1h-2zM449.6 421.5h2v1.1h-2zM449.6 422.2h1v1.1h-1zM450.6 422.2h1v1.1h-1zM449.6 422.9h1v1.1h-1zM450.6 422.9h1v1.1h-1zM449.6 423.6h1v1.1h-1zM450.6 423.6h1v1.1h-1zM449.6 424.3h2v1.1h-2z" fill="#ffffff" shape-rendering="geometricPrecision"/>
<path d="M461.7 421.5h1.9v1.1h-1.9zM462.7 422.2h0.9v1.1h-0.9zM461.7 422.9h1.9v1.1h-1.9zM461.7 423.6h0.9v1.1h-0.9zM461.7 424.3h1.9v1.1h-1.9zM463.7 421.5h1.9v1.1h-1.9zM463.7 422.2h0.9v1.1h-0.9zM464.7 422.2h0.9v1.1h-0.9zM463.7 422.9h0.9v1.1h-0.9zM464.7 422.9h0.9v1.1h-0.9zM463.7 423.6h0.9v1.1h-0.9zM464.7 423.6h0.9v1.1h-0.9zM463.7 424.3h1.9v1.1h-1.9zM465.7 421.5h1.9v1.1h-1.9zM465.7 422.2h0.9v1.1h-0.9zM466.7 422.2h0.9v1.1h-0.9zM465.7 422.9h0.9v1.1h-0.9zM466.7 422.9h0.9v1.1h-0.9zM465.7 423.6h0.9v1.1h-0.9zM466.7 423.6h0.9v1.1h-0.9zM465.7 424.3h1.9v1.1h-1.9z" fill="#ffffff" shape-rendering="geometricPrecision"/>
<circle cx="336.7" cy="451.2" r="5.8" stroke="#10a8a8" stroke-width="1" fill="none"/>
<path d="M334.8 448.2h3.8v1.6h-3.8zM334.8 449.3h1.6v1.6h-1.6zM334.8 450.4h1.6v1.6h-1.6zM334.8 451.5h1.6v1.6h-1.6zM334.8 452.7h3.8v1.6h-3.8z" fill="#ffffff" shape-rendering="geometricPrecision"/>
<circle cx="336.7" cy="661.8" r="5.8" stroke="#10a8a8" stroke-width="1" fill="none"/>
<path d="M334.8 658.8h3.8v1.6h-3.8zM334.8 659.9h1.6v1.6h-1.6zM334.8 661h3.8v1.6h-3.8zM334.8 662.1h1.6v1.6h-1.6zM334.8 663.3h3.8v1.6h-3.8z" fill="#ffffff" shape-rendering="geometricPrecision"/>
<line x1="342.4" y1="451.5" x2="387" y2="451.5" stroke="#00ff00" stroke-width="1"/>
<line x1="342.4" y1="661.5" x2="385.4" y2="661.5" stroke="#00ff00" stroke-width="1"/>
<line x1="348.5" y1="451.2" x2="348.5" y2="662.2" stroke="#00ff00" stroke-width="1"/>
<line x1="359.5" y1="451.2" x2="359.5" y2="662.2" stroke="#00ff00" stroke-width="1"/>
<line x1="347.3" y1="453.3" x2="350.5" y2="450.1" stroke="#00ff00" stroke-width="1.2"/>
<line x1="347.3" y1="663.3" x2="350.5" y2="660.1" stroke="#00ff00" stroke-width="1.2"/>
<line x1="358.3" y1="453.3" x2="361.5" y2="450.1" stroke="#00ff00" stroke-width="1.2"/>
<line x1="358.3" y1="663.3" x2="361.5" y2="660.1" stroke="#00ff00" stroke-width="1.2"/>
<line x1="358.3" y1="497.3" x2="361.5" y2="494.1" stroke="#00ff00" stroke-width="1.2"/>
<line x1="358.3" y1="554.3" x2="361.5" y2="551.1" stroke="#00ff00" stroke-width="1.2"/>
<line x1="358.3" y1="561.3" x2="361.5" y2="558.1" stroke="#00ff00" stroke-width="1.2"/>
<line x1="358.3" y1="618.3" x2="361.5" y2="615.1" stroke="#00ff00" stroke-width="1.2"/>
<line x1="356.4" y1="495.5" x2="387.4" y2="495.5" stroke="#00ff00" stroke-width="1"/>
<line x1="356.4" y1="552.5" x2="387.4" y2="552.5" stroke="#00ff00" stroke-width="1"/>
<line x1="356.4" y1="559.5" x2="387.4" y2="559.5" stroke="#00ff00" stroke-width="1"/>
<line x1="356.4" y1="616.5" x2="387.4" y2="616.5" stroke="#00ff00" stroke-width="1"/>
<path d="M343.7 561.2h1.3v1.2h-1.3zM343.7 560.4h1.3v1.2h-1.3zM345.5 560.4h3.1v1.2h-3.1zM343.7 559.6h2.2v1.2h-2.2zM343.7 558h1.3v1.2h-1.3zM343.7 557.2h1.3v1.2h-1.3zM345.5 557.2h3.1v1.2h-3.1zM343.7 556.4h2.2v1.2h-2.2zM343.7 554.8h4.9v1.2h-4.9zM343.7 554h1.3v1.2h-1.3zM347.3 554h1.3v1.2h-1.3zM343.7 553.2h4.9v1.2h-4.9zM343.7 551.6h4.9v1.2h-4.9zM343.7 550.8h1.3v1.2h-1.3zM347.3 550.8h1.3v1.2h-1.3zM343.7 550h4.9v1.2h-4.9z" fill="#ffffff" shape-rendering="geometricPrecision"/>
<path d="M355.1 476.2h1.3v1.2h-1.3zM357.8 476.2h1.3v1.2h-1.3zM354.2 475.5h4.9v1.2h-4.9zM357.8 474.8h1.3v1.2h-1.3zM354.2 473.3h3.1v1.2h-3.1zM357.8 473.3h1.3v1.2h-1.3zM354.2 472.6h1.3v1.2h-1.3zM356 472.6h1.3v1.2h-1.3zM357.8 472.6h1.3v1.2h-1.3zM354.2 471.8h1.3v1.2h-1.3zM356 471.8h3.1v1.2h-3.1zM354.2 470.4h4.9v1.2h-4.9zM354.2 469.6h1.3v1.2h-1.3zM357.8 469.6h1.3v1.2h-1.3zM354.2 468.9h4.9v1.2h-4.9zM354.2 467.4h4.9v1.2h-4.9zM354.2 466.7h1.3v1.2h-1.3zM357.8 466.7h1.3v1.2h-1.3zM354.2 466h4.9v1.2h-4.9z" fill="#ffffff" shape-rendering="geometricPrecision"/>
<path d="M354.2 505.3h4.9v1.2h-4.9zM354.2 504.5h1.3v1.2h-1.3zM356 504.5h1.3v1.2h-1.3zM357.8 504.5h1.3v1.2h-1.3zM354.2 503.8h1.3v1.2h-1.3zM356 503.8h3.1v1.2h-3.1zM354.2 502.3h4.9v1.2h-4.9zM354.2 501.6h1.3v1.2h-1.3zM357.8 501.6h1.3v1.2h-1.3zM354.2 500.9h4.9v1.2h-4.9zM354.2 499.4h4.9v1.2h-4.9zM354.2 498.7h1.3v1.2h-1.3zM357.8 498.7h1.3v1.2h-1.3zM354.2 498h4.9v1.2h-4.9z" fill="#ffffff" shape-rendering="geometricPrecision"/>
<path d="M354.2 539.5h1.3v1h-1.3zM356 539.5h3.1v1h-3.1zM354.2 539h1.3v1h-1.3zM356 539h1.3v1h-1.3zM357.8 539h1.3v1h-1.3zM354.2 538.4h3.1v1h-3.1zM357.8 538.4h1.3v1h-1.3zM354.2 537.4h4.9v1h-4.9zM354.2 536.9h1.3v1h-1.3zM356 536.9h1.3v1h-1.3zM357.8 536.9h1.3v1h-1.3zM354.2 536.4h4.9v1h-4.9zM354.2 535.4h3.1v1h-3.1zM357.8 535.4h1.3v1h-1.3zM354.2 534.9h1.3v1h-1.3zM356 534.9h1.3v1h-1.3zM357.8 534.9h1.3v1h-1.3zM354.2 534.4h1.3v1h-1.3zM356 534.4h3.1v1h-3.1zM354.2 533.3h4.9v1h-4.9zM354.2 532.8h1.3v1h-1.3zM357.8 532.8h1.3v1h-1.3zM354.2 532.3h4.9v1h-4.9zM355.1 531.3h1.3v1h-1.3zM356.9 531.3h1.3v1h-1.3zM356 530.8h1.3v1h-1.3zM355.1 530.3h1.3v1h-1.3zM356.9 530.3h1.3v1h-1.3zM354.2 529.2h4.9v1h-4.9zM354.2 528.7h1.3v1h-1.3zM356 528.7h1.3v1h-1.3zM357.8 528.7h1.3v1h-1.3zM354.2 528.2h4.9v1h-4.9zM355.1 527.2h1.3v1h-1.3zM356.9 527.2h1.3v1h-1.3zM355.1 526.7h1.3v1h-1.3zM356.9 526.7h1.3v1h-1.3zM355.1 526.2h1.3v1h-1.3zM356.9 526.2h1.3v1h-1.3zM354.2 525.1h1.3v1h-1.3zM356 525.1h3.1v1h-3.1zM354.2 524.6h1.3v1h-1.3zM356 524.6h1.3v1h-1.3zM357.8 524.6h1.3v1h-1.3zM354.2 524.1h3.1v1h-3.1zM357.8 524.1h1.3v1h-1.3zM354.2 523.1h3.1v1h-3.1zM356 522.6h1.3v1h-1.3zM354.2 522.1h4.9v1h-4.9zM354.2 521h4.9v1h-4.9zM354.2 520.5h1.3v1h-1.3zM357.8 520.5h1.3v1h-1.3zM354.2 520h4.9v1h-4.9zM354.2 519h4.9v1h-4.9zM354.2 518.5h1.3v1h-1.3zM357.8 518.5h1.3v1h-1.3zM354.2 518h4.9v1h-4.9z" fill="#ffffff" shape-rendering="geometricPrecision"/>
<path d="M354.2 558.3h4.9v1.1h-4.9zM354.2 557.7h1.3v1.1h-1.3zM356 557.7h1.3v1.1h-1.3zM357.8 557.7h1.3v1.1h-1.3zM354.2 557.1h1.3v1.1h-1.3zM356 557.1h3.1v1.1h-3.1zM354.2 555.8h4.9v1.1h-4.9zM354.2 555.2h1.3v1.1h-1.3zM357.8 555.2h1.3v1.1h-1.3zM354.2 554.5h4.9v1.1h-4.9zM354.2 553.3h4.9v1.1h-4.9zM354.2 552.6h1.3v1.1h-1.3zM357.8 552.6h1.3v1.1h-1.3zM354.2 552h4.9v1.1h-4.9z" fill="#ffffff" shape-rendering="geometricPrecision"/>
<path d="M354.2 597h1.3v0.9h-1.3zM356 597h3.1v0.9h-3.1zM354.2 596.5h1.3v0.9h-1.3zM356 596.5h1.3v0.9h-1.3zM357.8 596.5h1.3v0.9h-1.3zM354.2 596h3.1v0.9h-3.1zM357.8 596h1.3v0.9h-1.3zM354.2 595.1h4.9v0.9h-4.9zM354.2 594.6h1.3v0.9h-1.3zM356 594.6h1.3v0.9h-1.3zM357.8 594.6h1.3v0.9h-1.3zM354.2 594.1h4.9v0.9h-4.9zM354.2 593.2h3.1v0.9h-3.1zM357.8 593.2h1.3v0.9h-1.3zM354.2 592.7h1.3v0.9h-1.3zM356 592.7h1.3v0.9h-1.3zM357.8 592.7h1.3v0.9h-1.3zM354.2 592.2h1.3v0.9h-1.3zM356 592.2h3.1v0.9h-3.1zM354.2 591.3h4.9v0.9h-4.9zM354.2 590.8h1.3v0.9h-1.3zM357.8 590.8h1.3v0.9h-1.3zM354.2 590.3h4.9v0.9h-4.9zM355.1 589.4h1.3v0.9h-1.3zM356.9 589.4h1.3v0.9h-1.3zM356 588.9h1.3v0.9h-1.3zM355.1 588.4h1.3v0.9h-1.3zM356.9 588.4h1.3v0.9h-1.3zM354.2 587.5h4.9v0.9h-4.9zM354.2 587h1.3v0.9h-1.3zM356 587h1.3v0.9h-1.3zM357.8 587h1.3v0.9h-1.3zM354.2 586.5h4.9v0.9h-4.9zM355.1 585.6h1.3v0.9h-1.3zM356.9 585.6h1.3v0.9h-1.3zM355.1 585.1h1.3v0.9h-1.3zM356.9 585.1h1.3v0.9h-1.3zM355.1 584.6h1.3v0.9h-1.3zM356.9 584.6h1.3v0.9h-1.3zM354.2 583.7h1.3v0.9h-1.3zM356 583.7h3.1v0.9h-3.1zM354.2 583.2h1.3v0.9h-1.3zM356 583.2h1.3v0.9h-1.3zM357.8 583.2h1.3v0.9h-1.3zM354.2 582.7h3.1v0.9h-3.1zM357.8 582.7h1.3v0.9h-1.3zM354.2 581.7h3.1v0.9h-3.1zM356 581.3h1.3v0.9h-1.3zM354.2 580.8h4.9v0.9h-4.9zM354.2 579.8h4.9v0.9h-4.9zM354.2 579.4h1.3v0.9h-1.3zM357.8 579.4h1.3v0.9h-1.3zM354.2 578.9h4.9v0.9h-4.9zM354.2 577.9h4.9v0.9h-4.9zM354.2 577.5h1.3v0.9h-1.3zM357.8 577.5h1.3v0.9h-1.3zM354.2 577h4.9v0.9h-4.9z" fill="#ffffff" shape-rendering="geometricPrecision"/>
<path d="M355.1 642.3h1.3v1.1h-1.3zM357.8 642.3h1.3v1.1h-1.3zM354.2 641.6h4.9v1.1h-4.9zM357.8 641h1.3v1.1h-1.3zM354.2 639.6h4.9v1.1h-4.9zM354.2 639h1.3v1.1h-1.3zM356 639h1.3v1.1h-1.3zM357.8 639h1.3v1.1h-1.3zM354.2 638.3h4.9v1.1h-4.9zM354.2 637h4.9v1.1h-4.9zM354.2 636.3h1.3v1.1h-1.3zM357.8 636.3h1.3v1.1h-1.3zM354.2 635.6h4.9v1.1h-4.9zM354.2 634.3h4.9v1.1h-4.9zM354.2 633.6h1.3v1.1h-1.3zM357.8 633.6h1.3v1.1h-1.3zM354.2 633h4.9v1.1h-4.9z" fill="#ffffff" shape-rendering="geometricPrecision"/>
<polygon points="386.9,448.7 411.9,448.7 411.9,458.7 400.9,458.7 400.9,462.7 386.9,462.7" stroke="#ffffff" stroke-width="1" fill="#4a72a0"/>
<polygon points="446.9,448.7 471.9,448.7 471.9,462.7 457.9,462.7 457.9,458.7 446.9,458.7" stroke="#ffffff" stroke-width="1" fill="#4a72a0"/>
<line x1="386.9" y1="451.5" x2="471.9" y2="451.5" stroke="#808080" stroke-width="1"/>
<line x1="411.9" y1="451.5" x2="446.9" y2="451.5" stroke="#00ffff" stroke-width="1"/>
<line x1="471.9" y1="451.5" x2="486.8" y2="451.5" stroke="#00ffff" stroke-width="1"/>
<line x1="372.8" y1="459.5" x2="386.9" y2="459.5" stroke="#00ffff" stroke-width="1"/>
<line x1="400.9" y1="459.5" x2="457.9" y2="459.5" stroke="#00ffff" stroke-width="1"/>
<line x1="471.9" y1="459.5" x2="486.8" y2="459.5" stroke="#00ffff" stroke-width="1"/>
<polyline points="372.5,444.2 372.5,478.2 374.3,479.5 369.5,481.3 373.4,482.2 372.5,483.2 372.5,517.2" stroke="#ffffff" stroke-width="1" fill="none"/>
<polyline points="486.5,444.2 486.5,478.2 488.3,479.5 483.5,481.3 487.4,482.2 486.5,483.2 486.5,517.2" stroke="#ffffff" stroke-width="1" fill="none"/>
<polyline points="367.9,513.5 381.5,513.5 382.8,511.7 384.6,516.5 385.5,512.6 386.5,513.5 399.4,513.5" stroke="#ffffff" stroke-width="1" fill="none"/>
<polyline points="464.4,513.5 471.9,513.5 473.2,511.7 475,516.5 475.9,512.6 476.9,513.5 490.4,513.5" stroke="#ffffff" stroke-width="1" fill="none"/>
<line x1="393.5" y1="451.2" x2="393.5" y2="678.2" stroke="#808080" stroke-width="1"/>
<line x1="466.5" y1="451.2" x2="466.5" y2="678.2" stroke="#808080" stroke-width="1"/>
<line x1="390.5" y1="462.7" x2="390.5" y2="512.2" stroke="#00ffff" stroke-width="1"/>
<line x1="394.5" y1="462.7" x2="394.5" y2="549.2" stroke="#00ffff" stroke-width="1"/>
<line x1="463.5" y1="462.7" x2="463.5" y2="549.2" stroke="#00ffff" stroke-width="1"/>
<line x1="468.5" y1="462.7" x2="468.5" y2="512.2" stroke="#00ffff" stroke-width="1"/>
<line x1="394.9" y1="490.5" x2="463.9" y2="490.5" stroke="#00ffff" stroke-width="1"/>
<line x1="394.9" y1="495.5" x2="463.9" y2="495.5" stroke="#00ffff" stroke-width="1"/>
<line x1="394.9" y1="502.5" x2="430.9" y2="502.5" stroke="#ffff00" stroke-width="1"/>
<line x1="394.9" y1="509.5" x2="430.9" y2="509.5" stroke="#ffff00" stroke-width="1"/>
<line x1="394.9" y1="516.5" x2="430.9" y2="516.5" stroke="#ffff00" stroke-width="1"/>
<line x1="394.9" y1="523.5" x2="430.9" y2="523.5" stroke="#ffff00" stroke-width="1"/>
<line x1="394.9" y1="531.5" x2="430.9" y2="531.5" stroke="#ffff00" stroke-width="1"/>
<line x1="394.9" y1="538.5" x2="430.9" y2="538.5" stroke="#ffff00" stroke-width="1"/>
<line x1="394.9" y1="545.5" x2="430.9" y2="545.5" stroke="#ffff00" stroke-width="1"/>
<line x1="430.5" y1="495.2" x2="430.5" y2="616.2" stroke="#ffff00" stroke-width="1"/>
<line x1="394.9" y1="552.5" x2="463.9" y2="552.5" stroke="#00ffff" stroke-width="1"/>
<line x1="394.9" y1="559.5" x2="430.9" y2="559.5" stroke="#ffff00" stroke-width="1"/>
<line x1="430.9" y1="559.5" x2="463.9" y2="559.5" stroke="#ffff00" stroke-width="1"/>
<line x1="430.9" y1="566.5" x2="463.9" y2="566.5" stroke="#ffff00" stroke-width="1"/>
<line x1="430.9" y1="573.5" x2="463.9" y2="573.5" stroke="#ffff00" stroke-width="1"/>
<line x1="430.9" y1="580.5" x2="463.9" y2="580.5" stroke="#ffff00" stroke-width="1"/>
<line x1="430.9" y1="587.5" x2="463.9" y2="587.5" stroke="#ffff00" stroke-width="1"/>
<line x1="430.9" y1="594.5" x2="463.9" y2="594.5" stroke="#ffff00" stroke-width="1"/>
<line x1="430.9" y1="602.5" x2="463.9" y2="602.5" stroke="#ffff00" stroke-width="1"/>
<line x1="430.9" y1="609.5" x2="463.9" y2="609.5" stroke="#ffff00" stroke-width="1"/>
<line x1="394.9" y1="616.5" x2="463.9" y2="616.5" stroke="#00ffff" stroke-width="1"/>
<line x1="394.9" y1="621.5" x2="463.9" y2="621.5" stroke="#00ffff" stroke-width="1"/>
<polyline points="463.8,495.8 441,506 430.8,552.7 419.7,606.4 394.5,616.6" stroke="#ffff00" stroke-width="1.1" fill="none"/>
<line x1="411.5" y1="482.7" x2="411.5" y2="532.2" stroke="#00ff00" stroke-width="1"/>
<line x1="446.5" y1="575.2" x2="446.5" y2="629.2" stroke="#00ff00" stroke-width="1"/>
<path d="M409.9 478H413.4M411.65 477.5V482M412.25 479.5l1.2 1" stroke="#ffff00" stroke-width="1.1" fill="none"/>
<path d="M445.2 630.7H448.7M446.95 626.7V631.2M446.95 628.7h1.6" stroke="#ffff00" stroke-width="1.1" fill="none"/>
<path d="M426 491.3h1.6v1.2h-1.6zM428.3 491.3h1.6v1.2h-1.6zM426 492h1.6v1.2h-1.6zM428.3 492h1.6v1.2h-1.6zM426 492.8h1.6v1.2h-1.6zM428.3 492.8h1.6v1.2h-1.6zM426 493.5h1.6v1.2h-1.6zM428.3 493.5h1.6v1.2h-1.6zM426 494.2h3.9v1.2h-3.9zM430.6 491.3h3.9v1.2h-3.9zM430.6 492h1.6v1.2h-1.6zM432.8 492h1.6v1.2h-1.6zM430.6 492.8h3.9v1.2h-3.9zM430.6 493.5h1.6v1.2h-1.6zM430.6 494.2h1.6v1.2h-1.6z" fill="#ffff00" shape-rendering="geometricPrecision"/>
<path d="M425.2 616.5h2.7v1.2h-2.7zM425.2 617.3h1.6v1.2h-1.6zM427.5 617.3h1.6v1.2h-1.6zM425.2 618.1h1.6v1.2h-1.6zM427.5 618.1h1.6v1.2h-1.6zM425.2 618.9h1.6v1.2h-1.6zM427.5 618.9h1.6v1.2h-1.6zM425.2 619.7h2.7v1.2h-2.7zM429.8 616.5h1.6v1.2h-1.6zM432 616.5h1.6v1.2h-1.6zM429.8 617.3h3.9v1.2h-3.9zM429.8 618.1h3.9v1.2h-3.9zM429.8 618.9h3.9v1.2h-3.9zM429.8 619.7h1.6v1.2h-1.6zM432 619.7h1.6v1.2h-1.6z" fill="#ffff00" shape-rendering="geometricPrecision"/>
<polygon points="389.9,549.7 394.9,549.7 394.9,664.7 372.9,664.7 372.9,658.7 389.9,658.7" stroke="#ffffff" stroke-width="1" fill="#4a72a0"/>
<polygon points="463.9,549.7 468.9,549.7 468.9,658.7 486.9,658.7 486.9,664.7 463.9,664.7" stroke="#ffffff" stroke-width="1" fill="#4a72a0"/>
<line x1="393.5" y1="549.2" x2="393.5" y2="678.2" stroke="#808080" stroke-width="1"/>
<line x1="466.5" y1="549.2" x2="466.5" y2="678.2" stroke="#808080" stroke-width="1"/>
<line x1="372.9" y1="661.5" x2="486.9" y2="661.5" stroke="#808080" stroke-width="1"/>
<line x1="394.9" y1="658.5" x2="463.9" y2="658.5" stroke="#00ffff" stroke-width="1"/>
<line x1="394.9" y1="664.5" x2="463.9" y2="664.5" stroke="#00ffff" stroke-width="1"/>
<line x1="389.5" y1="664.7" x2="389.5" y2="678.2" stroke="#00ffff" stroke-width="1"/>
<line x1="394.5" y1="664.7" x2="394.5" y2="678.2" stroke="#00ffff" stroke-width="1"/>
<line x1="463.5" y1="664.7" x2="463.5" y2="678.2" stroke="#00ffff" stroke-width="1"/>
<line x1="468.5" y1="664.7" x2="468.5" y2="678.2" stroke="#00ffff" stroke-width="1"/>
<polyline points="369.6,678.5 428.4,678.5 429.7,676.7 431.5,681.5 432.4,677.6 433.4,678.5 491.4,678.5" stroke="#ffffff" stroke-width="1" fill="none"/>
<line x1="372.5" y1="665.2" x2="372.5" y2="683.2" stroke="#ffffff" stroke-width="1"/>
<line x1="486.5" y1="665.2" x2="486.5" y2="683.2" stroke="#ffffff" stroke-width="1"/>
<polyline points="372.5,650.2 372.5,664.7 374.3,666 369.5,667.8 373.4,668.7 372.5,669.7 372.5,670.2" stroke="#ffffff" stroke-width="1" fill="none"/>
<polyline points="486.5,650.2 486.5,664.7 488.3,666 483.5,667.8 487.4,668.7 486.5,669.7 486.5,670.2" stroke="#ffffff" stroke-width="1" fill="none"/>
<polygon points="423,472.5 431,472.5 427,477.5" stroke="#ffbf00" stroke-width="1" fill="none"/>
<line x1="423" y1="472.5" x2="440" y2="472.5" stroke="#ffbf00" stroke-width="1"/>
<path d="M425.8 467.2h2.3v1.3h-2.3zM427 468.1h1.1v1.3h-1.1zM426.4 468.9h1.1v1.3h-1.1zM426.4 469.8h1.1v1.3h-1.1zM426.4 470.6h1.1v1.3h-1.1zM428.2 467.2h2.3v1.3h-2.3zM428.2 468.1h1.1v1.3h-1.1zM428.2 468.9h2.3v1.3h-2.3zM429.4 469.8h1.1v1.3h-1.1zM428.2 470.6h2.3v1.3h-2.3zM431.2 470.6h1.1v1.3h-1.1zM433.1 467.2h2.3v1.3h-2.3zM433.1 468.1h1.1v1.3h-1.1zM434.3 468.1h1.1v1.3h-1.1zM433.1 468.9h1.1v1.3h-1.1zM434.3 468.9h1.1v1.3h-1.1zM433.1 469.8h1.1v1.3h-1.1zM434.3 469.8h1.1v1.3h-1.1zM433.1 470.6h2.3v1.3h-2.3zM435.5 467.2h2.3v1.3h-2.3zM435.5 468.1h1.1v1.3h-1.1zM435.5 468.9h2.3v1.3h-2.3zM436.7 469.8h1.1v1.3h-1.1zM435.5 470.6h2.3v1.3h-2.3zM437.9 467.2h2.3v1.3h-2.3zM437.9 468.1h1.1v1.3h-1.1zM439.1 468.1h1.1v1.3h-1.1zM437.9 468.9h1.1v1.3h-1.1zM439.1 468.9h1.1v1.3h-1.1zM437.9 469.8h1.1v1.3h-1.1zM439.1 469.8h1.1v1.3h-1.1zM437.9 470.6h2.3v1.3h-2.3z" fill="#ffbf00" shape-rendering="geometricPrecision"/>
<path d="M415 519h3.9v1.3h-3.9zM415 518.2h1.3v1.3h-1.3zM416.3 518.2h1.3v1.3h-1.3zM415 517.5h1.3v1.3h-1.3zM416.3 517.5h1.3v1.3h-1.3zM415.7 516h1.3v1.3h-1.3zM417 516h1.3v1.3h-1.3zM415.7 515.2h1.3v1.3h-1.3zM417 515.2h1.3v1.3h-1.3zM415.7 514.5h1.3v1.3h-1.3zM417 514.5h1.3v1.3h-1.3zM415 513h3.9v1.3h-3.9zM415 512.3h1.3v1.3h-1.3zM417.6 512.3h1.3v1.3h-1.3zM415 511.5h3.9v1.3h-3.9zM415 510.1h1.3v1.3h-1.3zM415 509.3h3.9v1.3h-3.9zM415 508.6h1.3v1.3h-1.3zM415 507.1h3.9v1.3h-3.9zM415 506.3h1.3v1.3h-1.3zM416.3 506.3h1.3v1.3h-1.3zM417.6 506.3h1.3v1.3h-1.3zM415.7 505.6h1.3v1.3h-1.3zM417 505.6h1.3v1.3h-1.3zM415 504.1h3.9v1.3h-3.9zM415 503.4h1.3v1.3h-1.3zM417.6 503.4h1.3v1.3h-1.3zM415.7 502.6h2.6v1.3h-2.6zM415 501.2h3.9v1.3h-3.9zM415 500.4h1.3v1.3h-1.3zM416.3 500.4h1.3v1.3h-1.3zM417.6 500.4h1.3v1.3h-1.3zM415.7 499.7h1.3v1.3h-1.3zM417 499.7h1.3v1.3h-1.3zM415.7 498.2h1.3v1.3h-1.3zM417.6 498.2h1.3v1.3h-1.3zM415 497.4h3.9v1.3h-3.9zM417.6 496.7h1.3v1.3h-1.3z" fill="#ffff00" shape-rendering="geometricPrecision"/>
<path d="M419 519h3.9v1.3h-3.9zM420.3 518.3h1.3v1.3h-1.3zM419 517.5h3.9v1.3h-3.9zM419 516.1h2.6v1.3h-2.6zM420.3 515.4h1.3v1.3h-1.3zM419 514.7h3.9v1.3h-3.9zM419 513.2h3.9v1.3h-3.9zM419 512.5h1.3v1.3h-1.3zM421.6 512.5h1.3v1.3h-1.3zM419 511.8h1.3v1.3h-1.3zM421.6 511.8h1.3v1.3h-1.3zM419.7 510.4h2.6v1.3h-2.6zM419 509.7h1.9v1.3h-1.9zM421 509.7h1.9v1.3h-1.9zM419.7 508.9h2.6v1.3h-2.6zM419.7 507.5h3.2v1.3h-3.2zM419 506.8h1.3v1.3h-1.3zM420.3 506.8h1.3v1.3h-1.3zM419.7 506.1h3.2v1.3h-3.2zM419.7 504.6h1.3v1.3h-1.3zM421 504.6h1.3v1.3h-1.3zM420.3 503.9h1.3v1.3h-1.3zM419.7 503.2h1.3v1.3h-1.3zM421 503.2h1.3v1.3h-1.3z" fill="#ffff00" shape-rendering="geometricPrecision"/>
<path d="M423 518.9h3.9v1.4h-3.9zM423 518.2h1.3v1.4h-1.3zM425.6 518.2h1.3v1.4h-1.3zM423 517.4h3.9v1.4h-3.9zM423 515.9h3.9v1.4h-3.9zM423.7 515.1h1.3v1.4h-1.3zM425 515.1h1.3v1.4h-1.3zM423 514.3h1.3v1.4h-1.3zM425.6 514.3h1.3v1.4h-1.3zM423 512.8h2.6v1.4h-2.6zM425.6 512.8h1.3v1.4h-1.3zM423 512h1.3v1.4h-1.3zM424.3 512h1.3v1.4h-1.3zM425.6 512h1.3v1.4h-1.3zM423 511.3h1.3v1.4h-1.3zM424.3 511.3h2.6v1.4h-2.6zM425 509.7h1.9v1.4h-1.9zM425.6 509h1.3v1.4h-1.3zM423 508.2h3.9v1.4h-3.9zM423.7 506.7h1.3v1.4h-1.3zM425 506.7h1.3v1.4h-1.3zM423.7 505.9h1.3v1.4h-1.3zM425 505.9h1.3v1.4h-1.3zM423.7 505.1h1.3v1.4h-1.3zM425 505.1h1.3v1.4h-1.3z" fill="#ffff00" shape-rendering="geometricPrecision"/>
<path d="M432 614.9h1.3v1.4h-1.3zM434.9 614.9h1.3v1.4h-1.3zM432 614.1h4.2v1.4h-4.2zM432 613.4h1.3v1.4h-1.3zM434.9 613.4h1.3v1.4h-1.3zM432.7 611.8h1.3v1.4h-1.3zM434.2 611.8h1.3v1.4h-1.3zM432.7 611h1.3v1.4h-1.3zM434.2 611h1.3v1.4h-1.3zM432.7 610.2h1.3v1.4h-1.3zM434.2 610.2h1.3v1.4h-1.3zM432 608.7h2.8v1.4h-2.8zM433.5 607.9h1.3v1.4h-1.3zM432 607.1h4.2v1.4h-4.2zM432 605.5h4.2v1.4h-4.2zM434.9 604.7h1.3v1.4h-1.3zM434.9 604h1.3v1.4h-1.3zM432.7 602.4h2.8v1.4h-2.8zM432 601.6h2.1v1.4h-2.1zM434.2 601.6h2.1v1.4h-2.1zM432.7 600.8h2.8v1.4h-2.8zM432 599.3h4.2v1.4h-4.2zM432.7 598.5h2.8v1.4h-2.8zM432 597.7h4.2v1.4h-4.2z" fill="#ffff00" shape-rendering="geometricPrecision"/>
<path d="M436.3 615h4.2v1.3h-4.2zM437.8 614.2h1.3v1.3h-1.3zM436.3 613.5h4.2v1.3h-4.2zM437.1 612h1.3v1.3h-1.3zM438.5 612h1.3v1.3h-1.3zM437.8 611.3h1.3v1.3h-1.3zM437.1 610.5h1.3v1.3h-1.3zM438.5 610.5h1.3v1.3h-1.3zM436.3 609.1h4.2v1.3h-4.2zM437.1 608.3h1.3v1.3h-1.3zM438.5 608.3h1.3v1.3h-1.3zM436.3 607.6h1.3v1.3h-1.3zM439.2 607.6h1.3v1.3h-1.3zM437.1 606.1h1.3v1.3h-1.3zM438.5 606.1h1.3v1.3h-1.3zM437.1 605.4h1.3v1.3h-1.3zM438.5 605.4h1.3v1.3h-1.3zM437.1 604.6h1.3v1.3h-1.3zM438.5 604.6h1.3v1.3h-1.3zM437.1 603.1h1.3v1.3h-1.3zM438.5 603.1h1.3v1.3h-1.3zM437.8 602.4h1.3v1.3h-1.3zM437.1 601.7h1.3v1.3h-1.3zM438.5 601.7h1.3v1.3h-1.3zM436.3 600.2h4.2v1.3h-4.2zM436.3 599.5h1.3v1.3h-1.3zM439.2 599.5h1.3v1.3h-1.3zM436.3 598.7h4.2v1.3h-4.2z" fill="#ffff00" shape-rendering="geometricPrecision"/>
<path d="M442.8 614.9h2.1v1.4h-2.1zM443.6 614.2h1.3v1.4h-1.3zM440.7 613.4h4.2v1.4h-4.2zM441.4 611.9h1.3v1.4h-1.3zM442.8 611.9h1.3v1.4h-1.3zM442.1 611.1h1.3v1.4h-1.3zM441.4 610.3h1.3v1.4h-1.3zM442.8 610.3h1.3v1.4h-1.3zM440.7 608.8h1.3v1.4h-1.3zM440.7 608h1.3v1.4h-1.3zM442.1 608h2.8v1.4h-2.8zM440.7 607.3h2.1v1.4h-2.1zM441.4 605.7h1.3v1.4h-1.3zM443.6 605.7h1.3v1.4h-1.3zM440.7 605h4.2v1.4h-4.2zM443.6 604.2h1.3v1.4h-1.3zM440.7 602.7h4.2v1.4h-4.2zM440.7 601.9h1.3v1.4h-1.3zM442.1 601.9h1.3v1.4h-1.3zM443.6 601.9h1.3v1.4h-1.3zM440.7 601.1h1.3v1.4h-1.3zM442.1 601.1h1.3v1.4h-1.3zM443.6 601.1h1.3v1.4h-1.3zM440.7 599.6h4.2v1.4h-4.2zM440.7 598.9h1.3v1.4h-1.3zM442.1 598.9h1.3v1.4h-1.3zM443.6 598.9h1.3v1.4h-1.3zM440.7 598.1h1.3v1.4h-1.3zM442.1 598.1h1.3v1.4h-1.3zM443.6 598.1h1.3v1.4h-1.3z" fill="#ffff00" shape-rendering="geometricPrecision"/>
<polyline points="472.5,532 472.5,542 456.5,542 456.5,556" stroke="#ffff00" stroke-width="1" fill="none"/>
<path d="M473.9 532.3h2.1v1.3h-2.1zM473.9 533h1.3v1.3h-1.3zM475.4 533h1.3v1.3h-1.3zM473.9 533.8h1.3v1.3h-1.3zM475.4 533.8h1.3v1.3h-1.3zM473.9 534.5h1.3v1.3h-1.3zM475.4 534.5h1.3v1.3h-1.3zM473.9 535.3h2.1v1.3h-2.1zM476.8 532.3h1.3v1.3h-1.3zM478.3 532.3h1.3v1.3h-1.3zM476.8 533h1.3v1.3h-1.3zM478.3 533h1.3v1.3h-1.3zM476.8 533.8h1.3v1.3h-1.3zM478.3 533.8h1.3v1.3h-1.3zM476.8 534.5h1.3v1.3h-1.3zM478.3 534.5h1.3v1.3h-1.3zM476.8 535.3h2.8v1.3h-2.8z" fill="#ffff00" shape-rendering="geometricPrecision"/>
<path d="M473.6 538.5h1.3v1.3h-1.3zM473.6 539.2h1.3v1.3h-1.3zM473.6 539.9h1.3v1.3h-1.3zM472.2 540.6h1.3v1.3h-1.3zM473.6 540.6h1.3v1.3h-1.3zM472.2 541.3h2.8v1.3h-2.8zM475.1 538.5h1.3v1.3h-1.3zM476.5 538.5h1.3v1.3h-1.3zM475.1 539.2h1.3v1.3h-1.3zM476.5 539.2h1.3v1.3h-1.3zM475.8 539.9h1.3v1.3h-1.3zM475.8 540.6h1.3v1.3h-1.3zM475.8 541.3h1.3v1.3h-1.3zM478 538.5h2.8v1.3h-2.8zM478 539.2h1.3v1.3h-1.3zM478 539.9h1.3v1.3h-1.3zM478 540.6h1.3v1.3h-1.3zM478 541.3h2.8v1.3h-2.8zM480.9 538.5h1.3v1.3h-1.3zM482.3 538.5h1.3v1.3h-1.3zM480.9 539.2h2.8v1.3h-2.8zM480.9 539.9h2.8v1.3h-2.8zM480.9 540.6h1.3v1.3h-1.3zM482.3 540.6h1.3v1.3h-1.3zM480.9 541.3h1.3v1.3h-1.3zM482.3 541.3h1.3v1.3h-1.3zM484.5 538.5h1.3v1.3h-1.3zM483.8 539.2h2v1.3h-2zM484.5 539.9h1.3v1.3h-1.3zM484.5 540.6h1.3v1.3h-1.3zM483.8 541.3h2.8v1.3h-2.8z" fill="#ffff00" shape-rendering="geometricPrecision"/>
<polygon points="423,646 431,646 427,651" stroke="#ffbf00" stroke-width="1" fill="none"/>
<line x1="423" y1="646.5" x2="440" y2="646.5" stroke="#ffbf00" stroke-width="1"/>
<path d="M425.8 640.8h2.3v1.3h-2.3zM427 641.6h1.1v1.3h-1.1zM426.4 642.4h1.1v1.3h-1.1zM426.4 643.3h1.1v1.3h-1.1zM426.4 644.1h1.1v1.3h-1.1zM428.2 640.8h2.3v1.3h-2.3zM428.2 641.6h1.1v1.3h-1.1zM428.2 642.4h2.3v1.3h-2.3zM429.4 643.3h1.1v1.3h-1.1zM428.2 644.1h2.3v1.3h-2.3zM431.2 644.1h1.1v1.3h-1.1zM433.1 640.8h2.3v1.3h-2.3zM433.1 641.6h1.1v1.3h-1.1zM434.3 641.6h1.1v1.3h-1.1zM433.1 642.4h1.1v1.3h-1.1zM434.3 642.4h1.1v1.3h-1.1zM433.1 643.3h1.1v1.3h-1.1zM434.3 643.3h1.1v1.3h-1.1zM433.1 644.1h2.3v1.3h-2.3zM435.5 640.8h2.3v1.3h-2.3zM435.5 641.6h1.1v1.3h-1.1zM435.5 642.4h2.3v1.3h-2.3zM436.7 643.3h1.1v1.3h-1.1zM435.5 644.1h2.3v1.3h-2.3zM437.9 640.8h2.3v1.3h-2.3zM437.9 641.6h1.1v1.3h-1.1zM439.1 641.6h1.1v1.3h-1.1zM437.9 642.4h1.1v1.3h-1.1zM439.1 642.4h1.1v1.3h-1.1zM437.9 643.3h1.1v1.3h-1.1zM439.1 643.3h1.1v1.3h-1.1zM437.9 644.1h2.3v1.3h-2.3z" fill="#ffbf00" shape-rendering="geometricPrecision"/>
<path d="M395.5 697.5H400.5M397.5 697.5V707.7M402.5 697.5V707.7M400.5 699.5L402.5 697.5" stroke="#ff00ff" stroke-width="1" fill="none"/>
<path d="M407 698.5H411 M407 700.5H410 M408 702.5H411 M409 704.5H411 M408 707.5H411 M407.5 697V708 M409.5 699V708 M410.5 697V706" stroke="#ff00ff" stroke-width="1" fill="none"/>
<path d="M414 698.5H416 M413 702.5H418 M414 704.5H418 M415 707.5H418 M413.5 702V706 M416.5 697V704" stroke="#ff00ff" stroke-width="1" fill="none"/>
<path d="M422 698.5H425 M420 700.5H425 M420 707.5H425 M421.5 697V706 M423.5 699V706" stroke="#ff00ff" stroke-width="1" fill="none"/>
<path d="M427 698.5H431 M427 700.5H431 M427 702.5H430 M427 707.5H430 M427.5 697V706 M429.5 699V708" stroke="#ff00ff" stroke-width="1" fill="none"/>
<path d="M433 698.5H438 M433 700.5H438 M433 702.5H438 M433 704.5H436 M433 707.5H438 M433.5 702V708 M436.5 699V706 M437.5 702V704" stroke="#ff00ff" stroke-width="1" fill="none"/>
<path d="M442 698.5H445 M442 700.5H445 M440 707.5H445 M443.5 702V704 M444.5 697V704" stroke="#ff00ff" stroke-width="1" fill="none"/>
<rect x="394" y="710" width="64" height="2" fill="#ff00ff"/>
<polyline points="541.5,519.5 541.5,474.5 568.5,474.5" stroke="#d8d8d8" stroke-width="1" fill="none"/>
<polyline points="568.5,472 568.5,477.5 570.3,478.8 565.5,480.6 569.4,481.5 568.5,482.5 568.5,491" stroke="#d8d8d8" stroke-width="1" fill="none"/>
<polyline points="568.5,486.5 555.5,486.5 555.5,519.5" stroke="#d8d8d8" stroke-width="1" fill="none"/>
<rect x="543.5" y="476.5" width="10" height="62" fill="none" stroke="#d8d8d8" stroke-width="1"/>
<line x1="539" y1="491.5" x2="559" y2="491.5" stroke="#d8d8d8" stroke-width="2"/>
<line x1="543.5" y1="499.5" x2="553.5" y2="499.5" stroke="#d8d8d8" stroke-width="1"/>
<line x1="543.5" y1="505.5" x2="553.5" y2="505.5" stroke="#d8d8d8" stroke-width="1"/>
<line x1="543.5" y1="510.5" x2="553.5" y2="510.5" stroke="#d8d8d8" stroke-width="1"/>
<polyline points="530.5,542.5 530.5,519.5 541.5,519.5" stroke="#d8d8d8" stroke-width="1" fill="none"/>
<polyline points="555.5,519.5 566.5,519.5 566.5,542.5" stroke="#d8d8d8" stroke-width="1" fill="none"/>
<line x1="530.5" y1="538.5" x2="566.5" y2="538.5" stroke="#d8d8d8" stroke-width="1"/>
<line x1="529.3" y1="531.2" x2="531.7" y2="528.8" stroke="#d8d8d8" stroke-width="1.2"/>
<line x1="565.3" y1="531.2" x2="567.7" y2="528.8" stroke="#d8d8d8" stroke-width="1.2"/>
<line x1="528" y1="530.5" x2="550" y2="530.5" stroke="#d8d8d8" stroke-width="1"/>
<line x1="550" y1="530.5" x2="569" y2="530.5" stroke="#d8d8d8" stroke-width="1"/>
<path d="M534.3 524.3h2.2v1.2h-2.2zM535.5 525.1h1v1.2h-1zM534.3 525.9h2.2v1.2h-2.2zM534.3 526.7h1v1.2h-1zM534.3 527.5h2.2v1.2h-2.2zM536.6 524.3h2.2v1.2h-2.2zM536.6 525.1h1v1.2h-1zM536.6 525.9h2.2v1.2h-2.2zM537.8 526.7h1v1.2h-1zM536.6 527.5h2.2v1.2h-2.2zM539 524.3h2.2v1.2h-2.2zM539 525.1h1v1.2h-1zM540.2 525.1h1v1.2h-1zM539 525.9h1v1.2h-1zM540.2 525.9h1v1.2h-1zM539 526.7h1v1.2h-1zM540.2 526.7h1v1.2h-1zM539 527.5h2.2v1.2h-2.2z" fill="#d8d8d8" shape-rendering="geometricPrecision"/>
<path d="M535.8 532.8h1.1v1.2h-1.1zM537.1 532.8h1.1v1.2h-1.1zM535.8 533.6h1.1v1.2h-1.1zM537.1 533.6h1.1v1.2h-1.1zM535.8 534.4h2.3v1.2h-2.3zM537.1 535.2h1.1v1.2h-1.1zM537.1 536h1.1v1.2h-1.1zM538.3 532.8h2.3v1.2h-2.3zM538.3 533.6h1.1v1.2h-1.1zM538.3 534.4h2.3v1.2h-2.3zM539.6 535.2h1.1v1.2h-1.1zM538.3 536h2.3v1.2h-2.3zM540.9 532.8h2.3v1.2h-2.3zM540.9 533.6h1.1v1.2h-1.1zM542.1 533.6h1.1v1.2h-1.1zM540.9 534.4h1.1v1.2h-1.1zM542.1 534.4h1.1v1.2h-1.1zM540.9 535.2h1.1v1.2h-1.1zM542.1 535.2h1.1v1.2h-1.1zM540.9 536h2.3v1.2h-2.3z" fill="#d8d8d8" shape-rendering="geometricPrecision"/>
<path d="M553.4 532.8h1.1v1.2h-1.1zM552.8 533.6h1.7v1.2h-1.7zM553.4 534.4h1.1v1.2h-1.1zM553.4 535.2h1.1v1.2h-1.1zM552.8 536h2.3v1.2h-2.3zM555.3 532.8h2.3v1.2h-2.3zM555.3 533.6h1.1v1.2h-1.1zM555.3 534.4h2.3v1.2h-2.3zM556.6 535.2h1.1v1.2h-1.1zM555.3 536h2.3v1.2h-2.3zM557.9 532.8h2.3v1.2h-2.3zM557.9 533.6h1.1v1.2h-1.1zM559.1 533.6h1.1v1.2h-1.1zM557.9 534.4h1.1v1.2h-1.1zM559.1 534.4h1.1v1.2h-1.1zM557.9 535.2h1.1v1.2h-1.1zM559.1 535.2h1.1v1.2h-1.1zM557.9 536h2.3v1.2h-2.3z" fill="#d8d8d8" shape-rendering="geometricPrecision"/>
<line x1="550.5" y1="525" x2="550.5" y2="538" stroke="#d8d8d8" stroke-width="1"/>
<text x="533" y="509" font-size="8.28" textLength="3.5" lengthAdjust="spacingAndGlyphs" fill="#d8d8d8" stroke="#d8d8d8" stroke-width="0" font-family="Liberation Sans" font-weight="normal">1</text>
<line x1="530" y1="511.5" x2="538" y2="511.5" stroke="#d8d8d8" stroke-width="1"/>
<text x="561.5" y="509" font-size="8.28" textLength="3.5" lengthAdjust="spacingAndGlyphs" fill="#d8d8d8" stroke="#d8d8d8" stroke-width="0" font-family="Liberation Sans" font-weight="normal">1</text>
<line x1="559" y1="511.5" x2="567" y2="511.5" stroke="#d8d8d8" stroke-width="1"/>
<text x="544" y="554.6" font-size="9.38" textLength="9.5" lengthAdjust="spacingAndGlyphs" fill="#00ffff" stroke="#00ffff" stroke-width="0.6" font-family="Liberation Sans" font-weight="normal">TZ1</text>
<line x1="539" y1="556.5" x2="560" y2="556.5" stroke="#00ffff" stroke-width="1"/>
<text x="541" y="566.5" font-size="9.38" textLength="15" lengthAdjust="spacingAndGlyphs" fill="#00ffff" stroke="#00ffff" stroke-width="0.6" font-family="Liberation Sans" font-weight="normal">(TZ2)</text>
<rect x="608.5" y="520.5" width="15" height="14" fill="none" stroke="#d8d8d8" stroke-width="1"/>
<rect x="611.5" y="522.5" width="10" height="10" fill="none" stroke="#d8d8d8" stroke-width="1"/>
<line x1="608.5" y1="512.5" x2="623.5" y2="512.5" stroke="#d8d8d8" stroke-width="1"/>
<line x1="608.5" y1="510" x2="608.5" y2="519" stroke="#d8d8d8" stroke-width="1"/>
<line x1="623.5" y1="510" x2="623.5" y2="519" stroke="#d8d8d8" stroke-width="1"/>
<path d="M611.3 507.3h2.9v1.2h-2.9zM612.9 508.1h1.3v1.2h-1.3zM611.3 508.9h2.9v1.2h-2.9zM611.3 509.7h1.3v1.2h-1.3zM611.3 510.5h2.9v1.2h-2.9zM614.6 507.3h2.9v1.2h-2.9zM614.6 508.1h1.3v1.2h-1.3zM616.2 508.1h1.3v1.2h-1.3zM614.6 508.9h1.3v1.2h-1.3zM616.2 508.9h1.3v1.2h-1.3zM614.6 509.7h1.3v1.2h-1.3zM616.2 509.7h1.3v1.2h-1.3zM614.6 510.5h2.9v1.2h-2.9zM617.8 507.3h2.9v1.2h-2.9zM617.8 508.1h1.3v1.2h-1.3zM619.5 508.1h1.3v1.2h-1.3zM617.8 508.9h1.3v1.2h-1.3zM619.5 508.9h1.3v1.2h-1.3zM617.8 509.7h1.3v1.2h-1.3zM619.5 509.7h1.3v1.2h-1.3zM617.8 510.5h2.9v1.2h-2.9z" fill="#d8d8d8" shape-rendering="geometricPrecision"/>
<line x1="601.5" y1="520.5" x2="601.5" y2="534.5" stroke="#d8d8d8" stroke-width="1"/>
<line x1="598" y1="520.5" x2="607" y2="520.5" stroke="#d8d8d8" stroke-width="1"/>
<line x1="598" y1="534.5" x2="607" y2="534.5" stroke="#d8d8d8" stroke-width="1"/>
<path d="M596.3 531.4h1.2v1.3h-1.2zM597.9 531.4h2.8v1.3h-2.8zM596.3 530.5h1.2v1.3h-1.2zM597.9 530.5h1.2v1.3h-1.2zM599.5 530.5h1.2v1.3h-1.2zM596.3 529.6h2.8v1.3h-2.8zM599.5 529.6h1.2v1.3h-1.2zM596.3 527.7h4.4v1.3h-4.4zM596.3 526.8h1.2v1.3h-1.2zM599.5 526.8h1.2v1.3h-1.2zM596.3 525.9h4.4v1.3h-4.4zM596.3 524.1h4.4v1.3h-4.4zM596.3 523.2h1.2v1.3h-1.2zM599.5 523.2h1.2v1.3h-1.2zM596.3 522.3h4.4v1.3h-4.4z" fill="#d8d8d8" shape-rendering="geometricPrecision"/>
<path d="M624.3 521.3h1.3v1.2h-1.3zM625.9 521.3h1.3v1.2h-1.3zM624.3 522.1h1.3v1.2h-1.3zM625.9 522.1h1.3v1.2h-1.3zM624.3 522.9h2.9v1.2h-2.9zM625.9 523.7h1.3v1.2h-1.3zM625.9 524.5h1.3v1.2h-1.3zM628.4 521.3h1.3v1.2h-1.3zM627.6 522.1h2.9v1.2h-2.9zM627.6 522.9h1.3v1.2h-1.3zM629.3 522.9h1.3v1.2h-1.3zM627.6 523.7h2.9v1.2h-2.9zM628.4 524.5h1.3v1.2h-1.3zM631.8 521.3h1.3v1.2h-1.3zM630.9 522.1h2.1v1.2h-2.1zM631.8 522.9h1.3v1.2h-1.3zM631.8 523.7h1.3v1.2h-1.3zM630.9 524.5h2.9v1.2h-2.9zM634.3 521.3h1.3v1.2h-1.3zM635.9 521.3h1.3v1.2h-1.3zM634.3 522.1h1.3v1.2h-1.3zM635.9 522.1h1.3v1.2h-1.3zM634.3 522.9h2.9v1.2h-2.9zM635.9 523.7h1.3v1.2h-1.3zM635.9 524.5h1.3v1.2h-1.3z" fill="#d8d8d8" shape-rendering="geometricPrecision"/>
<path d="M624.8 526.8h1v1.2h-1zM624.3 527.6h2.1v1.2h-2.1zM624.3 528.4h1v1.2h-1zM625.4 528.4h1v1.2h-1zM624.3 529.2h2.1v1.2h-2.1zM624.8 530h1v1.2h-1zM626.5 526.8h2.1v1.2h-2.1zM626.5 527.6h1v1.2h-1zM627.5 527.6h1v1.2h-1zM626.5 528.4h2.1v1.2h-2.1zM626.5 529.2h1v1.2h-1zM627.5 529.2h1v1.2h-1zM626.5 530h2.1v1.2h-2.1zM628.6 526.8h2.1v1.2h-2.1zM628.6 527.6h1v1.2h-1zM629.7 527.6h1v1.2h-1zM628.6 528.4h2.1v1.2h-2.1zM628.6 529.2h1v1.2h-1zM628.6 530h2.1v1.2h-2.1zM631.3 526.8h1v1.2h-1zM630.8 527.6h1.5v1.2h-1.5zM631.3 528.4h1v1.2h-1zM631.3 529.2h1v1.2h-1zM630.8 530h2.1v1.2h-2.1zM633 526.8h2.1v1.2h-2.1zM633 527.6h1v1.2h-1zM634.1 527.6h1v1.2h-1zM633 528.4h1v1.2h-1zM634.1 528.4h1v1.2h-1zM633 529.2h1v1.2h-1zM634.1 529.2h1v1.2h-1zM633 530h2.1v1.2h-2.1zM635.1 526.8h2.1v1.2h-2.1zM635.1 527.6h1v1.2h-1zM636.2 527.6h1v1.2h-1zM635.1 528.4h1v1.2h-1zM636.2 528.4h1v1.2h-1zM635.1 529.2h1v1.2h-1zM636.2 529.2h1v1.2h-1zM635.1 530h2.1v1.2h-2.1z" fill="#d8d8d8" shape-rendering="geometricPrecision"/>
<text x="611.9" y="550.3" font-size="8.14" textLength="10.6" lengthAdjust="spacingAndGlyphs" fill="#00ffff" stroke="#00ffff" stroke-width="0.6" font-family="Liberation Sans" font-weight="normal">1-1</text>
<line x1="608" y1="552.5" x2="624" y2="552.5" stroke="#00ffff" stroke-width="1"/>
<rect x="665.5" y="520.5" width="23" height="14" fill="none" stroke="#d8d8d8" stroke-width="1"/>
<rect x="667.5" y="522.5" width="19" height="10" fill="none" stroke="#d8d8d8" stroke-width="1"/>
<circle cx="673" cy="527.5" r="4" stroke="#d8d8d8" stroke-width="1" fill="none"/>
<circle cx="681" cy="527.5" r="4" stroke="#d8d8d8" stroke-width="1" fill="none"/>
<line x1="665.5" y1="512.5" x2="688.5" y2="512.5" stroke="#d8d8d8" stroke-width="1"/>
<line x1="665.5" y1="510" x2="665.5" y2="519" stroke="#d8d8d8" stroke-width="1"/>
<line x1="688.5" y1="510" x2="688.5" y2="519" stroke="#d8d8d8" stroke-width="1"/>
<path d="M670.8 507.3h2.9v1.2h-2.9zM672.4 508.1h1.3v1.2h-1.3zM670.8 508.9h2.9v1.2h-2.9zM670.8 509.7h1.3v1.2h-1.3zM670.8 510.5h2.9v1.2h-2.9zM674.1 507.3h2.9v1.2h-2.9zM674.1 508.1h1.3v1.2h-1.3zM675.7 508.1h1.3v1.2h-1.3zM674.1 508.9h1.3v1.2h-1.3zM675.7 508.9h1.3v1.2h-1.3zM674.1 509.7h1.3v1.2h-1.3zM675.7 509.7h1.3v1.2h-1.3zM674.1 510.5h2.9v1.2h-2.9zM677.3 507.3h2.9v1.2h-2.9zM677.3 508.1h1.3v1.2h-1.3zM679 508.1h1.3v1.2h-1.3zM677.3 508.9h1.3v1.2h-1.3zM679 508.9h1.3v1.2h-1.3zM677.3 509.7h1.3v1.2h-1.3zM679 509.7h1.3v1.2h-1.3zM677.3 510.5h2.9v1.2h-2.9z" fill="#d8d8d8" shape-rendering="geometricPrecision"/>
<line x1="658.5" y1="520.5" x2="658.5" y2="534.5" stroke="#d8d8d8" stroke-width="1"/>
<line x1="655" y1="520.5" x2="664" y2="520.5" stroke="#d8d8d8" stroke-width="1"/>
<line x1="655" y1="534.5" x2="664" y2="534.5" stroke="#d8d8d8" stroke-width="1"/>
<path d="M653.3 531.4h1.2v1.3h-1.2zM654.9 531.4h2.8v1.3h-2.8zM653.3 530.5h1.2v1.3h-1.2zM654.9 530.5h1.2v1.3h-1.2zM656.5 530.5h1.2v1.3h-1.2zM653.3 529.6h2.8v1.3h-2.8zM656.5 529.6h1.2v1.3h-1.2zM653.3 527.7h4.4v1.3h-4.4zM653.3 526.8h1.2v1.3h-1.2zM656.5 526.8h1.2v1.3h-1.2zM653.3 525.9h4.4v1.3h-4.4zM653.3 524.1h4.4v1.3h-4.4zM653.3 523.2h1.2v1.3h-1.2zM656.5 523.2h1.2v1.3h-1.2zM653.3 522.3h4.4v1.3h-4.4z" fill="#d8d8d8" shape-rendering="geometricPrecision"/>
<path d="M689.3 521.3h1.1v1.2h-1.1zM690.7 521.3h1.1v1.2h-1.1zM689.3 522.1h1.1v1.2h-1.1zM690.7 522.1h1.1v1.2h-1.1zM689.3 522.9h2.5v1.2h-2.5zM690.7 523.7h1.1v1.2h-1.1zM690.7 524.5h1.1v1.2h-1.1zM692.8 521.3h1.1v1.2h-1.1zM692.1 522.1h2.5v1.2h-2.5zM692.1 522.9h1.1v1.2h-1.1zM693.5 522.9h1.1v1.2h-1.1zM692.1 523.7h2.5v1.2h-2.5zM692.8 524.5h1.1v1.2h-1.1zM695.6 521.3h1.1v1.2h-1.1zM694.9 522.1h1.8v1.2h-1.8zM695.6 522.9h1.1v1.2h-1.1zM695.6 523.7h1.1v1.2h-1.1zM694.9 524.5h2.5v1.2h-2.5zM697.7 521.3h1.1v1.2h-1.1zM699.1 521.3h1.1v1.2h-1.1zM697.7 522.1h1.1v1.2h-1.1zM699.1 522.1h1.1v1.2h-1.1zM697.7 522.9h2.5v1.2h-2.5zM699.1 523.7h1.1v1.2h-1.1zM699.1 524.5h1.1v1.2h-1.1z" fill="#d8d8d8" shape-rendering="geometricPrecision"/>
<path d="M689.7 526.8h0.9v1.2h-0.9zM689.3 527.6h1.8v1.2h-1.8zM689.3 528.4h0.9v1.2h-0.9zM690.2 528.4h0.9v1.2h-0.9zM689.3 529.2h1.8v1.2h-1.8zM689.7 530h0.9v1.2h-0.9zM691.1 526.8h1.8v1.2h-1.8zM691.1 527.6h0.9v1.2h-0.9zM692 527.6h0.9v1.2h-0.9zM691.1 528.4h1.8v1.2h-1.8zM691.1 529.2h0.9v1.2h-0.9zM692 529.2h0.9v1.2h-0.9zM691.1 530h1.8v1.2h-1.8zM692.9 526.8h1.8v1.2h-1.8zM692.9 527.6h0.9v1.2h-0.9zM693.8 527.6h0.9v1.2h-0.9zM692.9 528.4h1.8v1.2h-1.8zM692.9 529.2h0.9v1.2h-0.9zM692.9 530h1.8v1.2h-1.8zM695.2 526.8h0.9v1.2h-0.9zM694.8 527.6h1.4v1.2h-1.4zM695.2 528.4h0.9v1.2h-0.9zM695.2 529.2h0.9v1.2h-0.9zM694.8 530h1.8v1.2h-1.8zM696.6 526.8h1.8v1.2h-1.8zM696.6 527.6h0.9v1.2h-0.9zM697.5 527.6h0.9v1.2h-0.9zM696.6 528.4h0.9v1.2h-0.9zM697.5 528.4h0.9v1.2h-0.9zM696.6 529.2h0.9v1.2h-0.9zM697.5 529.2h0.9v1.2h-0.9zM696.6 530h1.8v1.2h-1.8zM698.4 526.8h1.8v1.2h-1.8zM698.4 527.6h0.9v1.2h-0.9zM699.3 527.6h0.9v1.2h-0.9zM698.4 528.4h0.9v1.2h-0.9zM699.3 528.4h0.9v1.2h-0.9zM698.4 529.2h0.9v1.2h-0.9zM699.3 529.2h0.9v1.2h-0.9zM698.4 530h1.8v1.2h-1.8z" fill="#d8d8d8" shape-rendering="geometricPrecision"/>
<text x="669.3" y="550.3" font-size="8.14" textLength="17.1" lengthAdjust="spacingAndGlyphs" fill="#00ffff" stroke="#00ffff" stroke-width="0.6" font-family="Liberation Sans" font-weight="normal">(1-1)</text>
<line x1="668" y1="552.5" x2="685" y2="552.5" stroke="#00ffff" stroke-width="1"/>
<polygon points="747.5,508.5 776.5,508.5 776.5,516.5 770.5,516.5 770.5,538.5 755.5,538.5 755.5,516.5 747.5,516.5" stroke="#d8d8d8" stroke-width="1" fill="none"/>
<rect x="757.5" y="510.5" width="11" height="26" fill="none" stroke="#d8d8d8" stroke-width="1"/>
<line x1="754" y1="502.5" x2="771" y2="502.5" stroke="#d8d8d8" stroke-width="1"/>
<line x1="754.5" y1="500" x2="754.5" y2="508" stroke="#d8d8d8" stroke-width="1"/>
<line x1="770.5" y1="500" x2="770.5" y2="508" stroke="#d8d8d8" stroke-width="1"/>
<path d="M757.8 497.3h2.9v1.2h-2.9zM759.4 498.1h1.3v1.2h-1.3zM757.8 498.9h2.9v1.2h-2.9zM757.8 499.7h1.3v1.2h-1.3zM757.8 500.5h2.9v1.2h-2.9zM761.1 497.3h2.9v1.2h-2.9zM761.1 498.1h1.3v1.2h-1.3zM762.7 498.1h1.3v1.2h-1.3zM761.1 498.9h1.3v1.2h-1.3zM762.7 498.9h1.3v1.2h-1.3zM761.1 499.7h1.3v1.2h-1.3zM762.7 499.7h1.3v1.2h-1.3zM761.1 500.5h2.9v1.2h-2.9zM764.3 497.3h2.9v1.2h-2.9zM764.3 498.1h1.3v1.2h-1.3zM766 498.1h1.3v1.2h-1.3zM764.3 498.9h1.3v1.2h-1.3zM766 498.9h1.3v1.2h-1.3zM764.3 499.7h1.3v1.2h-1.3zM766 499.7h1.3v1.2h-1.3zM764.3 500.5h2.9v1.2h-2.9z" fill="#d8d8d8" shape-rendering="geometricPrecision"/>
<line x1="741.5" y1="508.5" x2="741.5" y2="538.5" stroke="#d8d8d8" stroke-width="1"/>
<line x1="739" y1="508.5" x2="747" y2="508.5" stroke="#d8d8d8" stroke-width="1"/>
<line x1="739" y1="538.5" x2="755" y2="538.5" stroke="#d8d8d8" stroke-width="1"/>
<path d="M736.8 527.7h2.8v1.5h-2.8zM738.4 526.6h1.2v1.5h-1.2zM736.8 525.5h4.4v1.5h-4.4zM736.8 523.3h4.4v1.5h-4.4zM736.8 522.2h1.2v1.5h-1.2zM740 522.2h1.2v1.5h-1.2zM736.8 521.1h4.4v1.5h-4.4zM736.8 519h4.4v1.5h-4.4zM736.8 517.9h1.2v1.5h-1.2zM740 517.9h1.2v1.5h-1.2zM736.8 516.8h4.4v1.5h-4.4z" fill="#d8d8d8" shape-rendering="geometricPrecision"/>
<path d="M770.8 521.3h3v1.2h-3zM772.5 522.1h1.3v1.2h-1.3zM770.8 522.9h3v1.2h-3zM770.8 523.7h1.3v1.2h-1.3zM770.8 524.5h3v1.2h-3zM775.1 521.3h1.3v1.2h-1.3zM774.2 522.1h3v1.2h-3zM774.2 522.9h1.3v1.2h-1.3zM776 522.9h1.3v1.2h-1.3zM774.2 523.7h3v1.2h-3zM775.1 524.5h1.3v1.2h-1.3zM778.6 521.3h1.3v1.2h-1.3zM777.7 522.1h2.2v1.2h-2.2zM778.6 522.9h1.3v1.2h-1.3zM778.6 523.7h1.3v1.2h-1.3zM777.7 524.5h3v1.2h-3zM781.2 521.3h1.3v1.2h-1.3zM782.9 521.3h1.3v1.2h-1.3zM781.2 522.1h1.3v1.2h-1.3zM782.9 522.1h1.3v1.2h-1.3zM781.2 522.9h3v1.2h-3zM782.9 523.7h1.3v1.2h-1.3zM782.9 524.5h1.3v1.2h-1.3z" fill="#d8d8d8" shape-rendering="geometricPrecision"/>
<path d="M771.3 526.8h1v1.2h-1zM770.8 527.6h2.1v1.2h-2.1zM770.8 528.4h1v1.2h-1zM771.9 528.4h1v1.2h-1zM770.8 529.2h2.1v1.2h-2.1zM771.3 530h1v1.2h-1zM773 526.8h2.1v1.2h-2.1zM773 527.6h1v1.2h-1zM774.2 527.6h1v1.2h-1zM773 528.4h2.1v1.2h-2.1zM773 529.2h1v1.2h-1zM774.2 529.2h1v1.2h-1zM773 530h2.1v1.2h-2.1zM775.3 526.8h2.1v1.2h-2.1zM775.3 527.6h1v1.2h-1zM776.4 527.6h1v1.2h-1zM775.3 528.4h2.1v1.2h-2.1zM775.3 529.2h1v1.2h-1zM775.3 530h2.1v1.2h-2.1zM777.6 526.8h2.1v1.2h-2.1zM778.7 527.6h1v1.2h-1zM777.6 528.4h2.1v1.2h-2.1zM777.6 529.2h1v1.2h-1zM777.6 530h2.1v1.2h-2.1zM779.8 526.8h2.1v1.2h-2.1zM779.8 527.6h1v1.2h-1zM781 527.6h1v1.2h-1zM779.8 528.4h1v1.2h-1zM781 528.4h1v1.2h-1zM779.8 529.2h1v1.2h-1zM781 529.2h1v1.2h-1zM779.8 530h2.1v1.2h-2.1zM782.1 526.8h2.1v1.2h-2.1zM782.1 527.6h1v1.2h-1zM783.2 527.6h1v1.2h-1zM782.1 528.4h1v1.2h-1zM783.2 528.4h1v1.2h-1zM782.1 529.2h1v1.2h-1zM783.2 529.2h1v1.2h-1zM782.1 530h2.1v1.2h-2.1z" fill="#d8d8d8" shape-rendering="geometricPrecision"/>
<line x1="746.3" y1="513.2" x2="748.7" y2="510.8" stroke="#d8d8d8" stroke-width="1.2"/>
<line x1="775.3" y1="513.2" x2="777.7" y2="510.8" stroke="#d8d8d8" stroke-width="1.2"/>
<text x="756.9" y="552.7" font-size="8" textLength="8.3" lengthAdjust="spacingAndGlyphs" fill="#00ffff" stroke="#00ffff" stroke-width="0.6" font-family="Liberation Sans" font-weight="normal">TL1</text>
<line x1="754" y1="555.5" x2="770.5" y2="555.5" stroke="#00ffff" stroke-width="1"/>
<line x1="818.3" y1="547.5" x2="876.2" y2="547.5" stroke="#ff00ff" stroke-width="1"/>
<polyline points="818.5,526.2 818.5,535.3 819.7,536.6 816.5,538.4 819.1,539.3 818.5,540.3 818.5,549.5" stroke="#ff00ff" stroke-width="1" fill="none"/>
<line x1="818.3" y1="527.5" x2="849.5" y2="527.5" stroke="#ff00ff" stroke-width="1"/>
<line x1="851.9" y1="527.5" x2="876.2" y2="527.5" stroke="#ff00ff" stroke-width="1"/>
<polyline points="826,508.5 838.5,508.5 838.5,517.5 852.5,517.5 852.5,527.5" stroke="#ff00ff" stroke-width="1" fill="none"/>
<polyline points="819.7,517.9 857.7,537.8" stroke="#ff00ff" stroke-width="1" fill="none"/>
<polyline points="822.7,511.6 849.9,526.2" stroke="#ff00ff" stroke-width="1" fill="none"/>
<line x1="849.5" y1="526.2" x2="849.5" y2="545.6" stroke="#ff00ff" stroke-width="1"/>
<polyline points="819.3,520.8 829.5,502.3" stroke="#ff00ff" stroke-width="1" fill="none"/>
<polyline points="876.5,519.8 876.5,535.3 877.7,536.6 874.5,538.4 877.1,539.3 876.5,540.3 876.5,549.5" stroke="#ff00ff" stroke-width="1" fill="none"/>
<polyline points="831.9,532.5 855.3,545.6" stroke="#00ff00" stroke-width="1" fill="none"/>
<polyline points="830.5,536 834.5,529" stroke="#00ff00" stroke-width="1" fill="none"/>
<polyline points="853.5,548.5 857.5,541.5" stroke="#00ff00" stroke-width="1" fill="none"/>
<path d="M841.8 531.8h2.1v1.6h-2.1zM842.9 533h1v1.6h-1zM841.8 534.2h2.1v1.6h-2.1zM841.8 535.4h1v1.6h-1zM841.8 536.6h2.1v1.6h-2.1zM844 531.8h2.1v1.6h-2.1zM844 533h1v1.6h-1zM844 534.2h2.1v1.6h-2.1zM845.1 535.4h1v1.6h-1zM844 536.6h2.1v1.6h-2.1zM846.1 531.8h2.1v1.6h-2.1zM846.1 533h1v1.6h-1zM847.2 533h1v1.6h-1zM846.1 534.2h1v1.6h-1zM847.2 534.2h1v1.6h-1zM846.1 535.4h1v1.6h-1zM847.2 535.4h1v1.6h-1zM846.1 536.6h2.1v1.6h-2.1z" fill="#ffffff" shape-rendering="geometricPrecision"/>
<line x1="893.5" y1="515.4" x2="893.5" y2="549.5" stroke="#00ff00" stroke-width="1"/>
<line x1="876.2" y1="517.5" x2="896.7" y2="517.5" stroke="#00ff00" stroke-width="1"/>
<line x1="892.3" y1="518.7" x2="894.7" y2="516.3" stroke="#00ff00" stroke-width="1.2"/>
<line x1="876.2" y1="527.5" x2="896.7" y2="527.5" stroke="#00ff00" stroke-width="1"/>
<line x1="892.3" y1="528.7" x2="894.7" y2="526.3" stroke="#00ff00" stroke-width="1.2"/>
<line x1="876.2" y1="547.5" x2="896.7" y2="547.5" stroke="#00ff00" stroke-width="1"/>
<line x1="892.3" y1="548.7" x2="894.7" y2="546.3" stroke="#00ff00" stroke-width="1.2"/>
<path d="M887.7 526.4h1.4v1.4h-1.4zM889.6 526.4h3.4v1.4h-3.4zM887.7 525.4h1.4v1.4h-1.4zM889.6 525.4h1.4v1.4h-1.4zM891.6 525.4h1.4v1.4h-1.4zM887.7 524.5h3.4v1.4h-3.4zM891.6 524.5h1.4v1.4h-1.4zM887.7 522.5h3.4v1.4h-3.4zM891.6 522.5h1.4v1.4h-1.4zM887.7 521.5h1.4v1.4h-1.4zM889.6 521.5h1.4v1.4h-1.4zM891.6 521.5h1.4v1.4h-1.4zM887.7 520.6h1.4v1.4h-1.4zM889.6 520.6h3.4v1.4h-3.4zM887.7 518.6h5.3v1.4h-5.3zM887.7 517.7h1.4v1.4h-1.4zM891.6 517.7h1.4v1.4h-1.4zM887.7 516.7h5.3v1.4h-5.3z" fill="#ffffff" shape-rendering="geometricPrecision"/>
<path d="M886.2 541h3.4v1h-3.4zM888.1 540.4h1.4v1h-1.4zM886.2 539.9h5.3v1h-5.3zM886.2 538.8h5.3v1h-5.3zM886.2 538.3h1.4v1h-1.4zM890.1 538.3h1.4v1h-1.4zM886.2 537.8h5.3v1h-5.3zM886.2 536.7h5.3v1h-5.3zM886.2 536.2h1.4v1h-1.4zM890.1 536.2h1.4v1h-1.4zM886.2 535.7h5.3v1h-5.3z" fill="#ffffff" shape-rendering="geometricPrecision"/>
<polygon points="896.7,523.5 903.5,523.5 900.1,527.1" stroke="#ff00ff" stroke-width="1" fill="none"/>
<line x1="896.7" y1="527.5" x2="904" y2="527.5" stroke="#ff00ff" stroke-width="1"/>
<path d="M902.3 520.4h2v1.3h-2zM904.3 518.7h2v1.3h-2zM904.3 519.5h0.9v1.3h-0.9zM905.3 519.5h0.9v1.3h-0.9zM904.3 520.4h0.9v1.3h-0.9zM905.3 520.4h0.9v1.3h-0.9zM904.3 521.3h0.9v1.3h-0.9zM905.3 521.3h0.9v1.3h-0.9zM904.3 522.1h2v1.3h-2zM906.9 522.1h0.9v1.3h-0.9zM908.4 518.7h2v1.3h-2zM908.4 519.5h0.9v1.3h-0.9zM909.4 519.5h0.9v1.3h-0.9zM908.4 520.4h0.9v1.3h-0.9zM909.4 520.4h0.9v1.3h-0.9zM908.4 521.3h0.9v1.3h-0.9zM909.4 521.3h0.9v1.3h-0.9zM908.4 522.1h2v1.3h-2zM910.4 518.7h2v1.3h-2zM911.4 519.5h0.9v1.3h-0.9zM910.4 520.4h2v1.3h-2zM911.4 521.3h0.9v1.3h-0.9zM910.4 522.1h2v1.3h-2zM912.5 518.7h2v1.3h-2zM912.5 519.5h0.9v1.3h-0.9zM913.5 519.5h0.9v1.3h-0.9zM912.5 520.4h0.9v1.3h-0.9zM913.5 520.4h0.9v1.3h-0.9zM912.5 521.3h0.9v1.3h-0.9zM913.5 521.3h0.9v1.3h-0.9zM912.5 522.1h2v1.3h-2z" fill="#ff00ff" shape-rendering="geometricPrecision"/>
<circle cx="810" cy="565.4" r="9.2" stroke="#ff00ff" stroke-width="1" fill="none"/>
<text x="808" y="569.5" font-size="11.04" textLength="3.5" lengthAdjust="spacingAndGlyphs" fill="#ff00ff" stroke="#ff00ff" stroke-width="0.6" font-family="Liberation Sans" font-weight="normal">1</text>
<path d="M824 563.5H828 M826 565.5H828 M826 567.5H828 M826 568.5H828 M825.5 563V570 M826.5 563V572" stroke="#ff00ff" stroke-width="1" fill="none"/>
<path d="M830 563.5H832 M829 565.5H833 M829 568.5H831 M829 570.5H833 M830.5 564V570 M831.5 563V570" stroke="#ff00ff" stroke-width="1" fill="none"/>
<path d="M834 563.5H838 M834 567.5H838 M835 568.5H837 M835 570.5H836 M835.5 563V572 M836.5 564V572" stroke="#ff00ff" stroke-width="1" fill="none"/>
<path d="M839 565.5H841 M841 567.5H843 M839 568.5H843 M839.5 564V570 M840.5 563V570 M842.5 563V572" stroke="#ff00ff" stroke-width="1" fill="none"/>
<path d="M844 563.5H847 M844 565.5H847 M845 567.5H848 M844 570.5H847 M845.5 566V572 M846.5 566V572 M847.5 566V570" stroke="#ff00ff" stroke-width="1" fill="none"/>
<path d="M849 563.5H853 M849 565.5H851 M849 567.5H852 M851 568.5H851 M849 570.5H851 M849.5 566V572 M850.5 564V570 M852.5 564V572" stroke="#ff00ff" stroke-width="1" fill="none"/>
<path d="M854 565.5H857 M854 567.5H857 M855 568.5H857 M855 570.5H859 M854.5 566V568 M855.5 566V572 M857.5 566V568" stroke="#ff00ff" stroke-width="1" fill="none"/>
<path d="M862 563.5H863 M860 565.5H864 M860 567.5H864 M861 570.5H864 M860.5 563V568 M862.5 563V572" stroke="#ff00ff" stroke-width="1" fill="none"/>
<path d="M865 563.5H869 M866 565.5H869 M865 567.5H869 M867 568.5H869 M865 570.5H869 M866.5 563V568 M867.5 564V572" stroke="#ff00ff" stroke-width="1" fill="none"/>
<path d="M870 567.5H872 M870 568.5H874 M870 570.5H874 M871.5 563V570 M872.5 566V572 M873.5 564V572" stroke="#ff00ff" stroke-width="1" fill="none"/>
<path d="M877 563.5H879 M876 565.5H877 M877 567.5H877 M875 568.5H878 M877 570.5H877 M876.5 564V572 M877.5 563V570 M878.5 566V572" stroke="#ff00ff" stroke-width="1" fill="none"/>
<line x1="817.8" y1="575.5" x2="903" y2="575.5" stroke="#ff00ff" stroke-width="1"/>
<rect x="649.5" y="653.5" width="87" height="79" fill="none" stroke="#ff00ff" stroke-width="1"/>
<line x1="666.5" y1="653.5" x2="666.5" y2="732.5" stroke="#ff00ff" stroke-width="1"/>
<line x1="703.5" y1="653.5" x2="703.5" y2="732.5" stroke="#ff00ff" stroke-width="1"/>
<line x1="649.5" y1="666.5" x2="736.5" y2="666.5" stroke="#ff00ff" stroke-width="1"/>
<line x1="649.5" y1="677.5" x2="736.5" y2="677.5" stroke="#ff00ff" stroke-width="1"/>
<line x1="649.5" y1="688.5" x2="736.5" y2="688.5" stroke="#ff00ff" stroke-width="1"/>
<line x1="649.5" y1="699.5" x2="736.5" y2="699.5" stroke="#ff00ff" stroke-width="1"/>
<line x1="649.5" y1="710.5" x2="736.5" y2="710.5" stroke="#ff00ff" stroke-width="1"/>
<line x1="649.5" y1="721.5" x2="736.5" y2="721.5" stroke="#ff00ff" stroke-width="1"/>
<path d="M651 644.5H654 M652 645.5H653 M651 646.5H654 M651 648.5H654 M652.5 644V650 M653.5 644V649" stroke="#ff00ff" stroke-width="1" fill="none"/>
<path d="M655 644.5H657 M655 645.5H657 M655 646.5H657 M656 649.5H658 M656.5 645V650 M656.5 644V650 M657.5 646V649" stroke="#ff00ff" stroke-width="1" fill="none"/>
<path d="M659 644.5H661 M659 645.5H661 M660 648.5H661 M660.5 644V650" stroke="#ff00ff" stroke-width="1" fill="none"/>
<path d="M663 644.5H664 M662 645.5H665 M663 649.5H665 M662.5 645V648 M663.5 646V649 M664.5 644V648" stroke="#ff00ff" stroke-width="1" fill="none"/>
<path d="M667 644.5H668 M666 645.5H669 M666 646.5H668 M667 648.5H669 M668.5 646V649" stroke="#ff00ff" stroke-width="1" fill="none"/>
<path d="M671 646.5H672 M671 648.5H673 M670.5 644V650 M671.5 644V650" stroke="#ff00ff" stroke-width="1" fill="none"/>
<path d="M675 644.5H677 M674 645.5H677 M675 646.5H676 M675.5 645V650" stroke="#ff00ff" stroke-width="1" fill="none"/>
<path d="M679 646.5H680 M678 649.5H680 M679.5 646V650" stroke="#ff00ff" stroke-width="1" fill="none"/>
<path d="M681 644.5H684 M682 645.5H683 M682 648.5H684 M682.5 644V648" stroke="#ff00ff" stroke-width="1" fill="none"/>
<path d="M685 644.5H688 M686 648.5H688 M685.5 644V648 M686.5 646V648" stroke="#ff00ff" stroke-width="1" fill="none"/>
<path d="M690 644.5H691 M689 645.5H692 M689 646.5H691 M690.5 644V649" stroke="#ff00ff" stroke-width="1" fill="none"/>
<path d="M693 644.5H696 M693 645.5H696 M693 646.5H695 M694 649.5H695 M694.5 644V649 M694.5 645V650 M695.5 644V649" stroke="#ff00ff" stroke-width="1" fill="none"/>
<path d="M654 657.5H656 M654 660.5H656 M654 663.5H656 M654.5 657V664 M654.5 660V664 M655.5 658V663" stroke="#ff00ff" stroke-width="1" fill="none"/>
<path d="M657 657.5H659 M657 658.5H658 M657 660.5H658 M657 662.5H659 M657.5 660V663 M658.5 657V663" stroke="#ff00ff" stroke-width="1" fill="none"/>
<path d="M667 657.5H670 M667 658.5H670 M667 662.5H670 M667 663.5H669 M668.5 657V661 M668.5 657V661 M669.5 657V664" stroke="#ff00ff" stroke-width="1" fill="none"/>
<path d="M672 658.5H674 M672 660.5H674 M672 662.5H673 M672.5 657V664 M672.5 660V664" stroke="#ff00ff" stroke-width="1" fill="none"/>
<path d="M676 657.5H678 M675 658.5H677 M676 660.5H677 M676 662.5H678 M675 663.5H678 M675.5 658V664 M676.5 657V664" stroke="#ff00ff" stroke-width="1" fill="none"/>
<path d="M679 657.5H681 M679 658.5H681 M679 660.5H680 M679 662.5H680 M679 663.5H680 M679.5 660V661 M680.5 660V664 M680.5 657V661" stroke="#ff00ff" stroke-width="1" fill="none"/>
<path d="M682 657.5H684 M682 658.5H684 M683 663.5H685 M682.5 660V661 M683.5 657V663 M684.5 660V663" stroke="#ff00ff" stroke-width="1" fill="none"/>
<path d="M687 657.5H688 M686 658.5H689 M686 660.5H688 M687 662.5H689 M686.5 657V661 M687.5 660V664" stroke="#ff00ff" stroke-width="1" fill="none"/>
<path d="M690 658.5H692 M690 660.5H693 M691 663.5H692 M690.5 657V663 M691.5 660V661 M692.5 658V664" stroke="#ff00ff" stroke-width="1" fill="none"/>
<path d="M707 657.5H708 M707 658.5H709 M707 660.5H709 M707 662.5H709 M707 663.5H708 M707.5 657V664 M707.5 660V664 M708.5 657V664" stroke="#ff00ff" stroke-width="1" fill="none"/>
<path d="M710 660.5H713 M710 662.5H713 M711 663.5H713 M710.5 658V664 M711.5 657V664 M712.5 660V664" stroke="#ff00ff" stroke-width="1" fill="none"/>
<path d="M716 657.5H716 M714 658.5H718 M714 660.5H718 M715.5 657V661 M716.5 660V664 M717.5 657V664" stroke="#ff00ff" stroke-width="1" fill="none"/>
<path d="M719 657.5H721 M720 658.5H721 M720 660.5H721 M720.5 658V664 M720.5 657V663 M721.5 658V663" stroke="#ff00ff" stroke-width="1" fill="none"/>
<path d="M723 657.5H726 M724 658.5H726 M724 660.5H726 M724 662.5H726 M723 663.5H726 M723.5 658V661 M724.5 657V661" stroke="#ff00ff" stroke-width="1" fill="none"/>
<path d="M657.3 669.3h1.4v1.2h-1.4zM656.3 670.1h2.4v1.2h-2.4zM657.3 670.9h1.4v1.2h-1.4zM657.3 671.7h1.4v1.2h-1.4zM656.3 672.5h3.4v1.2h-3.4z" fill="#ff00ff" shape-rendering="geometricPrecision"/>
<path d="M673.4 669.3h1v1.2h-1zM672.8 670.1h1v1.2h-1zM674.1 670.1h1v1.2h-1zM672.8 670.9h2.3v1.2h-2.3zM672.8 671.7h1v1.2h-1zM674.1 671.7h1v1.2h-1zM672.8 672.5h1v1.2h-1zM674.1 672.5h1v1.2h-1zM675.3 669.3h2.3v1.2h-2.3zM676 670.1h1v1.2h-1zM676 670.9h1v1.2h-1zM676 671.7h1v1.2h-1zM676 672.5h1v1.2h-1zM677.8 669.3h1v1.2h-1zM677.8 670.1h1v1.2h-1zM677.8 670.9h1v1.2h-1zM677.8 671.7h1v1.2h-1zM677.8 672.5h2.3v1.2h-2.3zM681 669.3h1v1.2h-1zM680.4 670.1h1.7v1.2h-1.7zM681 670.9h1v1.2h-1zM681 671.7h1v1.2h-1zM680.4 672.5h2.3v1.2h-2.3zM682.9 669.3h2.3v1.2h-2.3zM682.9 670.1h1v1.2h-1zM684.1 670.1h1v1.2h-1zM682.9 670.9h1v1.2h-1zM684.1 670.9h1v1.2h-1zM682.9 671.7h1v1.2h-1zM684.1 671.7h1v1.2h-1zM682.9 672.5h2.3v1.2h-2.3zM685.4 669.3h2.3v1.2h-2.3zM685.4 670.1h1v1.2h-1zM686.7 670.1h1v1.2h-1zM685.4 670.9h1v1.2h-1zM686.7 670.9h1v1.2h-1zM685.4 671.7h1v1.2h-1zM686.7 671.7h1v1.2h-1zM685.4 672.5h2.3v1.2h-2.3z" fill="#ff00ff" shape-rendering="geometricPrecision"/>
<path d="M710.8 669.3h1.5v1.2h-1.5zM710.8 670.1h1v1.2h-1zM711.9 670.1h1v1.2h-1zM710.8 670.9h1.5v1.2h-1.5zM710.8 671.7h1v1.2h-1zM711.9 671.7h1v1.2h-1zM710.8 672.5h1.5v1.2h-1.5zM713 669.3h2.1v1.2h-2.1zM713.6 670.1h1v1.2h-1zM713.6 670.9h1v1.2h-1zM713.6 671.7h1v1.2h-1zM713.6 672.5h1v1.2h-1zM715.2 669.3h1v1.2h-1zM715.2 670.1h1v1.2h-1zM715.2 670.9h1v1.2h-1zM715.2 671.7h1v1.2h-1zM715.2 672.5h2.1v1.2h-2.1zM718 669.3h1v1.2h-1zM717.5 670.1h1.5v1.2h-1.5zM718 670.9h1v1.2h-1zM718 671.7h1v1.2h-1zM717.5 672.5h2.1v1.2h-2.1zM719.7 669.3h2.1v1.2h-2.1zM719.7 670.1h1v1.2h-1zM720.8 670.1h1v1.2h-1zM719.7 670.9h1v1.2h-1zM720.8 670.9h1v1.2h-1zM719.7 671.7h1v1.2h-1zM720.8 671.7h1v1.2h-1zM719.7 672.5h2.1v1.2h-2.1zM721.9 669.3h2.1v1.2h-2.1zM721.9 670.1h1v1.2h-1zM723 670.1h1v1.2h-1zM721.9 670.9h1v1.2h-1zM723 670.9h1v1.2h-1zM721.9 671.7h1v1.2h-1zM723 671.7h1v1.2h-1zM721.9 672.5h2.1v1.2h-2.1zM724.1 669.3h2.1v1.2h-2.1zM724.1 670.1h1v1.2h-1zM725.2 670.1h1v1.2h-1zM724.1 670.9h1v1.2h-1zM725.2 670.9h1v1.2h-1zM724.1 671.7h1v1.2h-1zM725.2 671.7h1v1.2h-1zM724.1 672.5h2.1v1.2h-2.1z" fill="#ff00ff" shape-rendering="geometricPrecision"/>
<path d="M656.3 680.3h3.4v1.2h-3.4zM658.3 681.1h1.4v1.2h-1.4zM656.3 681.9h3.4v1.2h-3.4zM656.3 682.7h1.4v1.2h-1.4zM656.3 683.5h3.4v1.2h-3.4z" fill="#ff00ff" shape-rendering="geometricPrecision"/>
<path d="M673.4 680.3h1v1.2h-1zM672.8 681.1h1v1.2h-1zM674.1 681.1h1v1.2h-1zM672.8 681.9h2.3v1.2h-2.3zM672.8 682.7h1v1.2h-1zM674.1 682.7h1v1.2h-1zM672.8 683.5h1v1.2h-1zM674.1 683.5h1v1.2h-1zM675.3 680.3h2.3v1.2h-2.3zM676 681.1h1v1.2h-1zM676 681.9h1v1.2h-1zM676 682.7h1v1.2h-1zM676 683.5h1v1.2h-1zM677.8 680.3h1v1.2h-1zM677.8 681.1h1v1.2h-1zM677.8 681.9h1v1.2h-1zM677.8 682.7h1v1.2h-1zM677.8 683.5h2.3v1.2h-2.3zM680.4 680.3h2.3v1.2h-2.3zM681.6 681.1h1v1.2h-1zM680.4 681.9h2.3v1.2h-2.3zM680.4 682.7h1v1.2h-1zM680.4 683.5h2.3v1.2h-2.3zM682.9 680.3h2.3v1.2h-2.3zM682.9 681.1h1v1.2h-1zM684.1 681.1h1v1.2h-1zM682.9 681.9h1v1.2h-1zM684.1 681.9h1v1.2h-1zM682.9 682.7h1v1.2h-1zM684.1 682.7h1v1.2h-1zM682.9 683.5h2.3v1.2h-2.3zM685.4 680.3h2.3v1.2h-2.3zM685.4 681.1h1v1.2h-1zM686.7 681.1h1v1.2h-1zM685.4 681.9h1v1.2h-1zM686.7 681.9h1v1.2h-1zM685.4 682.7h1v1.2h-1zM686.7 682.7h1v1.2h-1zM685.4 683.5h2.3v1.2h-2.3z" fill="#ff00ff" shape-rendering="geometricPrecision"/>
<path d="M710.8 680.3h1.5v1.2h-1.5zM710.8 681.1h1v1.2h-1zM711.9 681.1h1v1.2h-1zM710.8 681.9h1.5v1.2h-1.5zM710.8 682.7h1v1.2h-1zM711.9 682.7h1v1.2h-1zM710.8 683.5h1.5v1.2h-1.5zM713 680.3h2.1v1.2h-2.1zM713.6 681.1h1v1.2h-1zM713.6 681.9h1v1.2h-1zM713.6 682.7h1v1.2h-1zM713.6 683.5h1v1.2h-1zM715.2 680.3h1v1.2h-1zM715.2 681.1h1v1.2h-1zM715.2 681.9h1v1.2h-1zM715.2 682.7h1v1.2h-1zM715.2 683.5h2.1v1.2h-2.1zM717.5 680.3h2.1v1.2h-2.1zM718.6 681.1h1v1.2h-1zM717.5 681.9h2.1v1.2h-2.1zM717.5 682.7h1v1.2h-1zM717.5 683.5h2.1v1.2h-2.1zM719.7 680.3h2.1v1.2h-2.1zM719.7 681.1h1v1.2h-1zM720.8 681.1h1v1.2h-1zM719.7 681.9h1v1.2h-1zM720.8 681.9h1v1.2h-1zM719.7 682.7h1v1.2h-1zM720.8 682.7h1v1.2h-1zM719.7 683.5h2.1v1.2h-2.1zM721.9 680.3h2.1v1.2h-2.1zM721.9 681.1h1v1.2h-1zM723 681.1h1v1.2h-1zM721.9 681.9h1v1.2h-1zM723 681.9h1v1.2h-1zM721.9 682.7h1v1.2h-1zM723 682.7h1v1.2h-1zM721.9 683.5h2.1v1.2h-2.1zM724.1 680.3h2.1v1.2h-2.1zM724.1 681.1h1v1.2h-1zM725.2 681.1h1v1.2h-1zM724.1 681.9h1v1.2h-1zM725.2 681.9h1v1.2h-1zM724.1 682.7h1v1.2h-1zM725.2 682.7h1v1.2h-1zM724.1 683.5h2.1v1.2h-2.1z" fill="#ff00ff" shape-rendering="geometricPrecision"/>
<path d="M656.3 691.3h3.4v1.2h-3.4zM658.3 692.1h1.4v1.2h-1.4zM656.3 692.9h3.4v1.2h-3.4zM658.3 693.7h1.4v1.2h-1.4zM656.3 694.5h3.4v1.2h-3.4z" fill="#ff00ff" shape-rendering="geometricPrecision"/>
<path d="M673.4 691.3h1v1.2h-1zM672.8 692.1h1v1.2h-1zM674.1 692.1h1v1.2h-1zM672.8 692.9h2.3v1.2h-2.3zM672.8 693.7h1v1.2h-1zM674.1 693.7h1v1.2h-1zM672.8 694.5h1v1.2h-1zM674.1 694.5h1v1.2h-1zM675.3 691.3h2.3v1.2h-2.3zM676 692.1h1v1.2h-1zM676 692.9h1v1.2h-1zM676 693.7h1v1.2h-1zM676 694.5h1v1.2h-1zM677.8 691.3h1.7v1.2h-1.7zM677.8 692.1h1v1.2h-1zM679.1 692.1h1v1.2h-1zM677.8 692.9h1.7v1.2h-1.7zM677.8 693.7h1v1.2h-1zM679.1 693.7h1v1.2h-1zM677.8 694.5h1.7v1.2h-1.7zM681 691.3h1v1.2h-1zM680.4 692.1h1.7v1.2h-1.7zM681 692.9h1v1.2h-1zM681 693.7h1v1.2h-1zM680.4 694.5h2.3v1.2h-2.3zM682.9 691.3h2.3v1.2h-2.3zM682.9 692.1h1v1.2h-1zM684.1 692.1h1v1.2h-1zM682.9 692.9h1v1.2h-1zM684.1 692.9h1v1.2h-1zM682.9 693.7h1v1.2h-1zM684.1 693.7h1v1.2h-1zM682.9 694.5h2.3v1.2h-2.3zM685.4 691.3h2.3v1.2h-2.3zM685.4 692.1h1v1.2h-1zM686.7 692.1h1v1.2h-1zM685.4 692.9h1v1.2h-1zM686.7 692.9h1v1.2h-1zM685.4 693.7h1v1.2h-1zM686.7 693.7h1v1.2h-1zM685.4 694.5h2.3v1.2h-2.3z" fill="#ff00ff" shape-rendering="geometricPrecision"/>
<path d="M710.8 691.3h1.7v1.2h-1.7zM710.8 692.1h1.1v1.2h-1.1zM712.1 692.1h1.1v1.2h-1.1zM710.8 692.9h1.7v1.2h-1.7zM710.8 693.7h1.1v1.2h-1.1zM712.1 693.7h1.1v1.2h-1.1zM710.8 694.5h1.7v1.2h-1.7zM713.4 691.3h2.4v1.2h-2.4zM714.1 692.1h1.1v1.2h-1.1zM714.1 692.9h1.1v1.2h-1.1zM714.1 693.7h1.1v1.2h-1.1zM714.1 694.5h1.1v1.2h-1.1zM716 691.3h1.7v1.2h-1.7zM716 692.1h1.1v1.2h-1.1zM717.3 692.1h1.1v1.2h-1.1zM716 692.9h1.7v1.2h-1.7zM716 693.7h1.1v1.2h-1.1zM717.3 693.7h1.1v1.2h-1.1zM716 694.5h1.7v1.2h-1.7zM719.3 691.3h1.1v1.2h-1.1zM718.6 692.1h1.7v1.2h-1.7zM719.3 692.9h1.1v1.2h-1.1zM719.3 693.7h1.1v1.2h-1.1zM718.6 694.5h2.4v1.2h-2.4zM721.2 691.3h2.4v1.2h-2.4zM721.2 692.1h1.1v1.2h-1.1zM722.5 692.1h1.1v1.2h-1.1zM721.2 692.9h1.1v1.2h-1.1zM722.5 692.9h1.1v1.2h-1.1zM721.2 693.7h1.1v1.2h-1.1zM722.5 693.7h1.1v1.2h-1.1zM721.2 694.5h2.4v1.2h-2.4zM723.8 691.3h2.4v1.2h-2.4zM723.8 692.1h1.1v1.2h-1.1zM725.1 692.1h1.1v1.2h-1.1zM723.8 692.9h1.1v1.2h-1.1zM725.1 692.9h1.1v1.2h-1.1zM723.8 693.7h1.1v1.2h-1.1zM725.1 693.7h1.1v1.2h-1.1zM723.8 694.5h2.4v1.2h-2.4z" fill="#ff00ff" shape-rendering="geometricPrecision"/>
<path d="M656.3 702.3h1.4v1.2h-1.4zM658.3 702.3h1.4v1.2h-1.4zM656.3 703.1h1.4v1.2h-1.4zM658.3 703.1h1.4v1.2h-1.4zM656.3 703.9h3.4v1.2h-3.4zM658.3 704.7h1.4v1.2h-1.4zM658.3 705.5h1.4v1.2h-1.4z" fill="#ff00ff" shape-rendering="geometricPrecision"/>
<path d="M673.4 702.3h1v1.2h-1zM672.8 703.1h1v1.2h-1zM674.1 703.1h1v1.2h-1zM672.8 703.9h2.3v1.2h-2.3zM672.8 704.7h1v1.2h-1zM674.1 704.7h1v1.2h-1zM672.8 705.5h1v1.2h-1zM674.1 705.5h1v1.2h-1zM675.3 702.3h2.3v1.2h-2.3zM676 703.1h1v1.2h-1zM676 703.9h1v1.2h-1zM676 704.7h1v1.2h-1zM676 705.5h1v1.2h-1zM677.8 702.3h1.7v1.2h-1.7zM677.8 703.1h1v1.2h-1zM679.1 703.1h1v1.2h-1zM677.8 703.9h1.7v1.2h-1.7zM677.8 704.7h1v1.2h-1zM679.1 704.7h1v1.2h-1zM677.8 705.5h1.7v1.2h-1.7zM680.4 702.3h2.3v1.2h-2.3zM681.6 703.1h1v1.2h-1zM680.4 703.9h2.3v1.2h-2.3zM680.4 704.7h1v1.2h-1zM680.4 705.5h2.3v1.2h-2.3zM682.9 702.3h2.3v1.2h-2.3zM682.9 703.1h1v1.2h-1zM684.1 703.1h1v1.2h-1zM682.9 703.9h1v1.2h-1zM684.1 703.9h1v1.2h-1zM682.9 704.7h1v1.2h-1zM684.1 704.7h1v1.2h-1zM682.9 705.5h2.3v1.2h-2.3zM685.4 702.3h2.3v1.2h-2.3zM685.4 703.1h1v1.2h-1zM686.7 703.1h1v1.2h-1zM685.4 703.9h1v1.2h-1zM686.7 703.9h1v1.2h-1zM685.4 704.7h1v1.2h-1zM686.7 704.7h1v1.2h-1zM685.4 705.5h2.3v1.2h-2.3z" fill="#ff00ff" shape-rendering="geometricPrecision"/>
<path d="M710.8 702.3h1.7v1.2h-1.7zM710.8 703.1h1.1v1.2h-1.1zM712.1 703.1h1.1v1.2h-1.1zM710.8 703.9h1.7v1.2h-1.7zM710.8 704.7h1.1v1.2h-1.1zM712.1 704.7h1.1v1.2h-1.1zM710.8 705.5h1.7v1.2h-1.7zM713.4 702.3h2.4v1.2h-2.4zM714.1 703.1h1.1v1.2h-1.1zM714.1 703.9h1.1v1.2h-1.1zM714.1 704.7h1.1v1.2h-1.1zM714.1 705.5h1.1v1.2h-1.1zM716 702.3h1.7v1.2h-1.7zM716 703.1h1.1v1.2h-1.1zM717.3 703.1h1.1v1.2h-1.1zM716 703.9h1.7v1.2h-1.7zM716 704.7h1.1v1.2h-1.1zM717.3 704.7h1.1v1.2h-1.1zM716 705.5h1.7v1.2h-1.7zM718.6 702.3h2.4v1.2h-2.4zM719.9 703.1h1.1v1.2h-1.1zM718.6 703.9h2.4v1.2h-2.4zM718.6 704.7h1.1v1.2h-1.1zM718.6 705.5h2.4v1.2h-2.4zM721.2 702.3h2.4v1.2h-2.4zM721.2 703.1h1.1v1.2h-1.1zM722.5 703.1h1.1v1.2h-1.1zM721.2 703.9h1.1v1.2h-1.1zM722.5 703.9h1.1v1.2h-1.1zM721.2 704.7h1.1v1.2h-1.1zM722.5 704.7h1.1v1.2h-1.1zM721.2 705.5h2.4v1.2h-2.4zM723.8 702.3h2.4v1.2h-2.4zM723.8 703.1h1.1v1.2h-1.1zM725.1 703.1h1.1v1.2h-1.1zM723.8 703.9h1.1v1.2h-1.1zM725.1 703.9h1.1v1.2h-1.1zM723.8 704.7h1.1v1.2h-1.1zM725.1 704.7h1.1v1.2h-1.1zM723.8 705.5h2.4v1.2h-2.4z" fill="#ff00ff" shape-rendering="geometricPrecision"/>
<path d="M656.3 713.3h3.4v1.2h-3.4zM656.3 714.1h1.4v1.2h-1.4zM656.3 714.9h3.4v1.2h-3.4zM658.3 715.7h1.4v1.2h-1.4zM656.3 716.5h3.4v1.2h-3.4z" fill="#ff00ff" shape-rendering="geometricPrecision"/>
<path d="M673.4 713.3h1v1.2h-1zM672.8 714.1h1v1.2h-1zM674.1 714.1h1v1.2h-1zM672.8 714.9h2.3v1.2h-2.3zM672.8 715.7h1v1.2h-1zM674.1 715.7h1v1.2h-1zM672.8 716.5h1v1.2h-1zM674.1 716.5h1v1.2h-1zM675.3 713.3h2.3v1.2h-2.3zM676 714.1h1v1.2h-1zM676 714.9h1v1.2h-1zM676 715.7h1v1.2h-1zM676 716.5h1v1.2h-1zM677.8 713.3h1v1.2h-1zM677.8 714.1h1v1.2h-1zM677.8 714.9h1v1.2h-1zM677.8 715.7h1v1.2h-1zM677.8 716.5h2.3v1.2h-2.3zM680.4 713.3h2.3v1.2h-2.3zM681.6 714.1h1v1.2h-1zM680.4 714.9h2.3v1.2h-2.3zM681.6 715.7h1v1.2h-1zM680.4 716.5h2.3v1.2h-2.3zM682.9 713.3h2.3v1.2h-2.3zM682.9 714.1h1v1.2h-1zM684.1 714.1h1v1.2h-1zM682.9 714.9h1v1.2h-1zM684.1 714.9h1v1.2h-1zM682.9 715.7h1v1.2h-1zM684.1 715.7h1v1.2h-1zM682.9 716.5h2.3v1.2h-2.3zM685.4 713.3h2.3v1.2h-2.3zM685.4 714.1h1v1.2h-1zM686.7 714.1h1v1.2h-1zM685.4 714.9h1v1.2h-1zM686.7 714.9h1v1.2h-1zM685.4 715.7h1v1.2h-1zM686.7 715.7h1v1.2h-1zM685.4 716.5h2.3v1.2h-2.3z" fill="#ff00ff" shape-rendering="geometricPrecision"/>
<path d="M710.8 713.3h1.7v1.2h-1.7zM710.8 714.1h1.1v1.2h-1.1zM712.1 714.1h1.1v1.2h-1.1zM710.8 714.9h1.7v1.2h-1.7zM710.8 715.7h1.1v1.2h-1.1zM712.1 715.7h1.1v1.2h-1.1zM710.8 716.5h1.7v1.2h-1.7zM713.4 713.3h2.4v1.2h-2.4zM714.1 714.1h1.1v1.2h-1.1zM714.1 714.9h1.1v1.2h-1.1zM714.1 715.7h1.1v1.2h-1.1zM714.1 716.5h1.1v1.2h-1.1zM716 713.3h1.1v1.2h-1.1zM716 714.1h1.1v1.2h-1.1zM716 714.9h1.1v1.2h-1.1zM716 715.7h1.1v1.2h-1.1zM716 716.5h2.4v1.2h-2.4zM718.6 713.3h2.4v1.2h-2.4zM719.9 714.1h1.1v1.2h-1.1zM718.6 714.9h2.4v1.2h-2.4zM719.9 715.7h1.1v1.2h-1.1zM718.6 716.5h2.4v1.2h-2.4zM721.2 713.3h2.4v1.2h-2.4zM721.2 714.1h1.1v1.2h-1.1zM722.5 714.1h1.1v1.2h-1.1zM721.2 714.9h1.1v1.2h-1.1zM722.5 714.9h1.1v1.2h-1.1zM721.2 715.7h1.1v1.2h-1.1zM722.5 715.7h1.1v1.2h-1.1zM721.2 716.5h2.4v1.2h-2.4zM723.8 713.3h2.4v1.2h-2.4zM723.8 714.1h1.1v1.2h-1.1zM725.1 714.1h1.1v1.2h-1.1zM723.8 714.9h1.1v1.2h-1.1zM725.1 714.9h1.1v1.2h-1.1zM723.8 715.7h1.1v1.2h-1.1zM725.1 715.7h1.1v1.2h-1.1zM723.8 716.5h2.4v1.2h-2.4z" fill="#ff00ff" shape-rendering="geometricPrecision"/>
<path d="M656.3 724.3h3.4v1.2h-3.4zM656.3 725.1h1.4v1.2h-1.4zM656.3 725.9h3.4v1.2h-3.4zM656.3 726.7h1.4v1.2h-1.4zM658.3 726.7h1.4v1.2h-1.4zM656.3 727.5h3.4v1.2h-3.4z" fill="#ff00ff" shape-rendering="geometricPrecision"/>
<path d="M673.4 724.3h1v1.2h-1zM672.8 725.1h1v1.2h-1zM674.1 725.1h1v1.2h-1zM672.8 725.9h2.3v1.2h-2.3zM672.8 726.7h1v1.2h-1zM674.1 726.7h1v1.2h-1zM672.8 727.5h1v1.2h-1zM674.1 727.5h1v1.2h-1zM675.3 724.3h2.3v1.2h-2.3zM676 725.1h1v1.2h-1zM676 725.9h1v1.2h-1zM676 726.7h1v1.2h-1zM676 727.5h1v1.2h-1zM677.8 724.3h1v1.2h-1zM677.8 725.1h1v1.2h-1zM677.8 725.9h1v1.2h-1zM677.8 726.7h1v1.2h-1zM677.8 727.5h2.3v1.2h-2.3zM680.4 724.3h1v1.2h-1zM681.6 724.3h1v1.2h-1zM680.4 725.1h1v1.2h-1zM681.6 725.1h1v1.2h-1zM680.4 725.9h2.3v1.2h-2.3zM681.6 726.7h1v1.2h-1zM681.6 727.5h1v1.2h-1zM682.9 724.3h2.3v1.2h-2.3zM682.9 725.1h1v1.2h-1zM684.1 725.1h1v1.2h-1zM682.9 725.9h1v1.2h-1zM684.1 725.9h1v1.2h-1zM682.9 726.7h1v1.2h-1zM684.1 726.7h1v1.2h-1zM682.9 727.5h2.3v1.2h-2.3zM685.4 724.3h2.3v1.2h-2.3zM685.4 725.1h1v1.2h-1zM686.7 725.1h1v1.2h-1zM685.4 725.9h1v1.2h-1zM686.7 725.9h1v1.2h-1zM685.4 726.7h1v1.2h-1zM686.7 726.7h1v1.2h-1zM685.4 727.5h2.3v1.2h-2.3z" fill="#ff00ff" shape-rendering="geometricPrecision"/>
<path d="M710.8 724.3h1.7v1.2h-1.7zM710.8 725.1h1.1v1.2h-1.1zM712.1 725.1h1.1v1.2h-1.1zM710.8 725.9h1.7v1.2h-1.7zM710.8 726.7h1.1v1.2h-1.1zM712.1 726.7h1.1v1.2h-1.1zM710.8 727.5h1.7v1.2h-1.7zM713.4 724.3h2.4v1.2h-2.4zM714.1 725.1h1.1v1.2h-1.1zM714.1 725.9h1.1v1.2h-1.1zM714.1 726.7h1.1v1.2h-1.1zM714.1 727.5h1.1v1.2h-1.1zM716 724.3h1.1v1.2h-1.1zM716 725.1h1.1v1.2h-1.1zM716 725.9h1.1v1.2h-1.1zM716 726.7h1.1v1.2h-1.1zM716 727.5h2.4v1.2h-2.4zM718.6 724.3h1.1v1.2h-1.1zM719.9 724.3h1.1v1.2h-1.1zM718.6 725.1h1.1v1.2h-1.1zM719.9 725.1h1.1v1.2h-1.1zM718.6 725.9h2.4v1.2h-2.4zM719.9 726.7h1.1v1.2h-1.1zM719.9 727.5h1.1v1.2h-1.1zM721.2 724.3h2.4v1.2h-2.4zM721.2 725.1h1.1v1.2h-1.1zM722.5 725.1h1.1v1.2h-1.1zM721.2 725.9h1.1v1.2h-1.1zM722.5 725.9h1.1v1.2h-1.1zM721.2 726.7h1.1v1.2h-1.1zM722.5 726.7h1.1v1.2h-1.1zM721.2 727.5h2.4v1.2h-2.4zM723.8 724.3h2.4v1.2h-2.4zM723.8 725.1h1.1v1.2h-1.1zM725.1 725.1h1.1v1.2h-1.1zM723.8 725.9h1.1v1.2h-1.1zM725.1 725.9h1.1v1.2h-1.1zM723.8 726.7h1.1v1.2h-1.1zM725.1 726.7h1.1v1.2h-1.1zM723.8 727.5h2.4v1.2h-2.4z" fill="#ff00ff" shape-rendering="geometricPrecision"/>
<path d="M835 637.5H836 M834 640.5H838 M835 642.5H836 M834.5 638V640 M835.5 636V640 M837.5 635V642" stroke="#ff00ff" stroke-width="1" fill="none"/>
<path d="M841 637.5H844 M841 639.5H842 M840 640.5H844 M840 642.5H844 M840.5 636V643 M843.5 635V643" stroke="#ff00ff" stroke-width="1" fill="none"/>
<path d="M848 635.5H850 M846 637.5H850 M847 640.5H849 M848 642.5H848 M846.5 638V643 M847.5 635V640 M849.5 638V643" stroke="#ff00ff" stroke-width="1" fill="none"/>
<path d="M852 635.5H855 M852 637.5H856 M852 639.5H854 M852 640.5H855 M852 642.5H856 M853.5 638V643 M854.5 638V640" stroke="#ff00ff" stroke-width="1" fill="none"/>
<path d="M859 635.5H862 M858 639.5H862 M859 642.5H861 M858.5 635V643 M860.5 635V640" stroke="#ff00ff" stroke-width="1" fill="none"/>
<line x1="830.9" y1="646.5" x2="875.2" y2="646.5" stroke="#ff00ff" stroke-width="1"/>
<path d="M799.8 653.2h0.8v1.3h-0.8zM799.2 654.1h1.4v1.3h-1.4zM799.8 655.1h0.8v1.3h-0.8zM799.8 656h0.8v1.3h-0.8zM799.2 657h1.9v1.3h-1.9zM802 657h0.8v1.3h-0.8z" fill="#ff00ff" shape-rendering="geometricPrecision"/>
<path d="M804 653.5H807 M804 654.5H807 M804 656.5H807 M804 657.5H807 M805.5 653V658" stroke="#ff00ff" stroke-width="0.85" fill="none"/>
<path d="M810 654.5H812 M809 655.5H812 M808 657.5H812 M808.5 655V656 M811.5 655V656" stroke="#ff00ff" stroke-width="0.85" fill="none"/>
<path d="M813 653.5H816 M813 656.5H817 M815 657.5H817 M814.5 654V656 M815.5 654V658 M816.5 655V658" stroke="#ff00ff" stroke-width="0.85" fill="none"/>
<path d="M820 655.5H822 M818 656.5H822 M820 657.5H822 M819.5 654V659 M820.5 653V659 M821.5 654V659" stroke="#ff00ff" stroke-width="0.85" fill="none"/>
<path d="M824 653.5H826 M824 654.5H826 M824 656.5H826 M823 657.5H825 M824.5 653V658" stroke="#ff00ff" stroke-width="0.85" fill="none"/>
<path d="M829 654.5H829 M829 655.5H829 M827 656.5H831 M828.5 655V659" stroke="#ff00ff" stroke-width="0.85" fill="none"/>
<path d="M833 654.5H836 M832 656.5H835 M833 657.5H835 M833.5 654V659" stroke="#ff00ff" stroke-width="0.85" fill="none"/>
<path d="M837 653.5H840 M837 654.5H839 M837 655.5H839 M837 657.5H841 M838.5 653V659" stroke="#ff00ff" stroke-width="0.85" fill="none"/>
<path d="M844 653.5H846 M842 654.5H846 M844.5 655V659" stroke="#ff00ff" stroke-width="0.85" fill="none"/>
<path d="M847 655.5H849 M848 656.5H849 M848.5 654V656" stroke="#ff00ff" stroke-width="0.85" fill="none"/>
<path d="M851 653.5H855 M852 655.5H855 M853 657.5H855 M851.5 654V659 M853.5 654V659" stroke="#ff00ff" stroke-width="0.85" fill="none"/>
<path d="M856 653.5H858 M856 655.5H860 M856 657.5H860 M858.5 653V656" stroke="#ff00ff" stroke-width="0.85" fill="none"/>
<path d="M863 654.5H865 M863 656.5H864 M861 657.5H864 M861.5 653V659" stroke="#ff00ff" stroke-width="0.85" fill="none"/>
<path d="M866 653.5H868 M866 654.5H868 M867 655.5H868 M866 656.5H869 M867.5 653V658" stroke="#ff00ff" stroke-width="0.85" fill="none"/>
<path d="M870 653.5H874 M870 654.5H873 M870 655.5H872 M872 656.5H874 M870.5 653V659 M871.5 653V659 M873.5 654V656" stroke="#ff00ff" stroke-width="0.85" fill="none"/>
<path d="M875 655.5H879 M877 656.5H879 M876 657.5H879 M877.5 655V659 M878.5 653V656" stroke="#ff00ff" stroke-width="0.85" fill="none"/>
<path d="M880 653.5H884 M881 654.5H883 M880.5 655V658 M881.5 653V656 M883.5 654V658" stroke="#ff00ff" stroke-width="0.85" fill="none"/>
<path d="M885 654.5H887 M885 656.5H888 M885.5 653V656 M886.5 654V659 M888.5 653V659" stroke="#ff00ff" stroke-width="0.85" fill="none"/>
<path d="M890 653.5H893 M891 656.5H892 M891 657.5H892 M891.5 653V659 M892.5 655V656" stroke="#ff00ff" stroke-width="0.85" fill="none"/>
<path d="M894 653.5H896 M894 654.5H898 M894 656.5H898 M895.5 654V659 M896.5 653V658" stroke="#ff00ff" stroke-width="0.85" fill="none"/>
<path d="M900 653.5H903 M899 655.5H903 M899 656.5H901 M899 657.5H901 M900.5 654V659 M901.5 654V656 M902.5 653V659" stroke="#ff00ff" stroke-width="0.85" fill="none"/>
<path d="M905 653.5H908 M906 654.5H906 M906 655.5H908 M904 656.5H908 M904.5 653V659 M905.5 655V659" stroke="#ff00ff" stroke-width="0.85" fill="none"/>
<path d="M910 655.5H911 M909 656.5H912 M910.5 654V659 M910.5 655V659 M911.5 653V658" stroke="#ff00ff" stroke-width="0.85" fill="none"/>
<path d="M913 655.5H915 M913 657.5H915 M915.5 654V659 M916.5 655V659" stroke="#ff00ff" stroke-width="0.85" fill="none"/>
<path d="M918 654.5H922 M918 656.5H922 M920 657.5H920 M918.5 655V656 M921.5 653V656" stroke="#ff00ff" stroke-width="0.85" fill="none"/>
<path d="M799.2 662.9h1.9v1.3h-1.9zM800.3 663.8h0.8v1.3h-0.8zM799.2 664.8h1.9v1.3h-1.9zM799.2 665.7h0.8v1.3h-0.8zM799.2 666.7h1.9v1.3h-1.9zM802 666.7h0.8v1.3h-0.8z" fill="#ff00ff" shape-rendering="geometricPrecision"/>
<path d="M804 666.5H806 M805 667.5H807 M805.5 663V668" stroke="#ff00ff" stroke-width="0.85" fill="none"/>
<path d="M809 663.5H811 M808 665.5H811 M810 666.5H812 M808 667.5H812 M809.5 662V667 M811.5 662V666" stroke="#ff00ff" stroke-width="0.85" fill="none"/>
<path d="M813 663.5H817 M813 664.5H816 M813 665.5H817 M815 667.5H815 M813.5 662V668 M815.5 663V666" stroke="#ff00ff" stroke-width="0.85" fill="none"/>
<path d="M818 663.5H821 M819 664.5H821 M819 665.5H820 M819 667.5H821 M818.5 662V668" stroke="#ff00ff" stroke-width="0.85" fill="none"/>
<path d="M822 664.5H826 M823 667.5H825 M822.5 665V667 M823.5 663V667 M824.5 665V666" stroke="#ff00ff" stroke-width="0.85" fill="none"/>
<path d="M828 663.5H829 M827 664.5H830 M827 665.5H830 M827.5 662V668 M830.5 662V666" stroke="#ff00ff" stroke-width="0.85" fill="none"/>
<path d="M832 664.5H835 M832 665.5H835 M833 667.5H835 M832.5 662V668 M833.5 663V666" stroke="#ff00ff" stroke-width="0.85" fill="none"/>
<path d="M836 663.5H840 M838 665.5H840 M836 666.5H840 M836 667.5H840 M836.5 663V668 M838.5 662V666 M839.5 665V667" stroke="#ff00ff" stroke-width="0.85" fill="none"/>
<path d="M842 663.5H843 M841 664.5H845 M844.5 662V666" stroke="#ff00ff" stroke-width="0.85" fill="none"/>
<path d="M846 663.5H849 M846 667.5H849 M847.5 662V666 M848.5 665V668" stroke="#ff00ff" stroke-width="0.85" fill="none"/>
<path d="M850 663.5H853 M850 665.5H852 M850 666.5H854 M850 667.5H854 M853.5 662V667" stroke="#ff00ff" stroke-width="0.85" fill="none"/>
<path d="M855 663.5H857 M857 665.5H859 M855.5 665V668 M857.5 662V667 M858.5 665V666" stroke="#ff00ff" stroke-width="0.85" fill="none"/>
<path d="M860 664.5H862 M860 665.5H864 M861 666.5H864 M860 667.5H864 M860.5 662V668 M861.5 665V667" stroke="#ff00ff" stroke-width="0.85" fill="none"/>
<path d="M865 663.5H867 M865 667.5H867 M867.5 662V668" stroke="#ff00ff" stroke-width="0.85" fill="none"/>
<path d="M871 663.5H871 M871 664.5H873 M869 666.5H873 M869.5 665V668 M870.5 662V668" stroke="#ff00ff" stroke-width="0.85" fill="none"/>
<path d="M874 663.5H878 M876 664.5H877 M874 665.5H878 M876 666.5H878 M876.5 662V668" stroke="#ff00ff" stroke-width="0.85" fill="none"/>
<path d="M880 663.5H881 M880 664.5H881 M879 666.5H881 M880 667.5H882 M880.5 665V668" stroke="#ff00ff" stroke-width="0.85" fill="none"/>
<path d="M883 663.5H887 M883 664.5H887 M885 666.5H887 M883.5 662V668 M884.5 662V668" stroke="#ff00ff" stroke-width="0.85" fill="none"/>
<path d="M889 663.5H890 M888 667.5H891 M888.5 662V668 M889.5 662V668 M890.5 665V666" stroke="#ff00ff" stroke-width="0.85" fill="none"/>
<path d="M893 663.5H896 M893 665.5H895 M894 666.5H895 M893.5 662V668 M894.5 663V668 M895.5 662V668" stroke="#ff00ff" stroke-width="0.85" fill="none"/>
<path d="M899 665.5H900 M898 667.5H901 M897.5 662V666 M899.5 665V668 M900.5 663V668" stroke="#ff00ff" stroke-width="0.85" fill="none"/>
<path d="M902 663.5H906 M902 664.5H904 M903.5 662V667 M905.5 663V667" stroke="#ff00ff" stroke-width="0.85" fill="none"/>
<path d="M907 664.5H909 M908 666.5H910 M908.5 665V668" stroke="#ff00ff" stroke-width="0.85" fill="none"/>
<path d="M911 664.5H915 M912 665.5H915 M911 666.5H913 M911 667.5H915 M912.5 662V667" stroke="#ff00ff" stroke-width="0.85" fill="none"/>
<path d="M804 673.5H806 M805 674.5H807 M804 675.5H807 M805 677.5H807 M806.5 675V678" stroke="#ff00ff" stroke-width="0.85" fill="none"/>
<path d="M808 673.5H810 M809 674.5H810 M808 676.5H810 M809.5 674V678 M811.5 674V676" stroke="#ff00ff" stroke-width="0.85" fill="none"/>
<path d="M814 673.5H817 M815 675.5H817 M813 676.5H817 M816.5 675V677" stroke="#ff00ff" stroke-width="0.85" fill="none"/>
<path d="M818 673.5H820 M818 674.5H821 M818 677.5H821 M820.5 673V678 M821.5 673V676" stroke="#ff00ff" stroke-width="0.85" fill="none"/>
<path d="M823 673.5H825 M824 674.5H826 M824 675.5H825 M824 677.5H826 M824.5 673V678" stroke="#ff00ff" stroke-width="0.85" fill="none"/>
<path d="M828 673.5H831 M827 674.5H830 M827 675.5H829 M829 677.5H830 M827.5 675V678 M828.5 675V678" stroke="#ff00ff" stroke-width="0.85" fill="none"/>
<path d="M832 673.5H836 M833 674.5H834 M833 676.5H836 M832 677.5H836 M832.5 673V676" stroke="#ff00ff" stroke-width="0.85" fill="none"/>
<path d="M838 673.5H840 M837 674.5H840 M837 676.5H840 M838.5 673V676" stroke="#ff00ff" stroke-width="0.85" fill="none"/>
<path d="M841 673.5H844 M841 674.5H845 M841 675.5H845 M841.5 673V677 M843.5 673V677 M844.5 675V677" stroke="#ff00ff" stroke-width="0.85" fill="none"/>
<path d="M846 673.5H849 M846 675.5H849 M848 677.5H848 M847.5 674V678 M849.5 675V677" stroke="#ff00ff" stroke-width="0.85" fill="none"/>
<path d="M853 673.5H855 M851 675.5H855 M851.5 673V677 M853.5 674V678" stroke="#ff00ff" stroke-width="0.85" fill="none"/>
<path d="M857 674.5H859 M857 675.5H859 M856.5 675V678 M857.5 673V678 M858.5 675V676" stroke="#ff00ff" stroke-width="0.85" fill="none"/>
<path d="M861 673.5H862 M860 675.5H864 M860 676.5H864 M862 677.5H864 M861.5 675V678" stroke="#ff00ff" stroke-width="0.85" fill="none"/>
<path d="M867 673.5H868 M865 675.5H867 M865 676.5H869 M866 677.5H868 M866.5 673V678" stroke="#ff00ff" stroke-width="0.85" fill="none"/>
<path d="M870 674.5H874 M870 675.5H873 M871.5 674V676 M872.5 674V676 M873.5 675V678" stroke="#ff00ff" stroke-width="0.85" fill="none"/>
<path d="M876 673.5H878 M876 674.5H877 M875.5 673V677 M876.5 674V678" stroke="#ff00ff" stroke-width="0.85" fill="none"/>
<path d="M880 675.5H883 M880 677.5H882 M879.5 673V677 M882.5 674V677" stroke="#ff00ff" stroke-width="0.85" fill="none"/>
<path d="M886 674.5H886 M886 675.5H888 M885 677.5H886 M884.5 673V678 M885.5 673V677" stroke="#ff00ff" stroke-width="0.85" fill="none"/>
<path d="M889 674.5H891 M889 675.5H892 M889 676.5H892 M889.5 673V678 M890.5 673V677" stroke="#ff00ff" stroke-width="0.85" fill="none"/>
<path d="M893 673.5H895 M895 676.5H895 M893.5 673V677 M894.5 673V677 M895.5 673V676" stroke="#ff00ff" stroke-width="0.85" fill="none"/>
<path d="M899 673.5H902 M898 675.5H902 M898 676.5H902 M899 677.5H902 M898.5 673V678 M900.5 673V676 M901.5 673V676" stroke="#ff00ff" stroke-width="0.85" fill="none"/>
<path d="M904 675.5H907 M903 677.5H907 M903.5 674V676" stroke="#ff00ff" stroke-width="0.85" fill="none"/>
<path d="M799.2 683h1.9v1.3h-1.9zM800.3 683.9h0.8v1.3h-0.8zM799.2 684.9h1.9v1.3h-1.9zM800.3 685.8h0.8v1.3h-0.8zM799.2 686.8h1.9v1.3h-1.9zM802 686.8h0.8v1.3h-0.8z" fill="#ff00ff" shape-rendering="geometricPrecision"/>
<path d="M804 683.5H807 M804 686.5H806 M805.5 682V688 M805.5 682V687" stroke="#ff00ff" stroke-width="0.85" fill="none"/>
<path d="M808 683.5H810 M809 684.5H812 M808 686.5H812 M809 687.5H812 M808.5 682V688 M811.5 682V687" stroke="#ff00ff" stroke-width="0.85" fill="none"/>
<path d="M813 684.5H817 M813 685.5H815 M814 686.5H817 M813.5 685V686 M814.5 685V687 M815.5 682V688" stroke="#ff00ff" stroke-width="0.85" fill="none"/>
<path d="M818 683.5H820 M819 684.5H821 M819 685.5H820 M819 686.5H821 M818.5 682V688" stroke="#ff00ff" stroke-width="0.85" fill="none"/>
<path d="M824 683.5H824 M822 684.5H826 M823 685.5H826 M824 687.5H825 M822.5 685V686 M823.5 685V688" stroke="#ff00ff" stroke-width="0.85" fill="none"/>
<path d="M827 684.5H831 M827 686.5H831 M830.5 685V688" stroke="#ff00ff" stroke-width="0.85" fill="none"/>
<path d="M832 683.5H835 M833 685.5H835 M832.5 682V687 M833.5 683V686 M834.5 682V687" stroke="#ff00ff" stroke-width="0.85" fill="none"/>
<path d="M836 683.5H840 M836 684.5H840 M836 686.5H840 M838.5 683V688 M839.5 683V686" stroke="#ff00ff" stroke-width="0.85" fill="none"/>
<path d="M841 685.5H845 M843 686.5H844 M842 687.5H845 M842.5 685V688" stroke="#ff00ff" stroke-width="0.85" fill="none"/>
<path d="M846 684.5H849 M847 685.5H849 M847 686.5H848 M847.5 682V687 M848.5 682V687" stroke="#ff00ff" stroke-width="0.85" fill="none"/>
<path d="M850 684.5H854 M850 687.5H853 M850.5 682V688 M852.5 682V688" stroke="#ff00ff" stroke-width="0.85" fill="none"/>
<path d="M855 684.5H857 M855 687.5H859 M857.5 682V688 M858.5 685V686" stroke="#ff00ff" stroke-width="0.85" fill="none"/>
<path d="M860 683.5H862 M860 684.5H862 M860 685.5H862 M860 686.5H862 M861.5 682V688 M862.5 683V686" stroke="#ff00ff" stroke-width="0.85" fill="none"/>
<path d="M864 684.5H867 M864 685.5H868 M864 686.5H867 M864.5 683V688 M865.5 685V687 M866.5 682V687" stroke="#ff00ff" stroke-width="0.85" fill="none"/>
<path d="M869 685.5H872 M869 687.5H871 M870.5 682V686 M872.5 683V688" stroke="#ff00ff" stroke-width="0.85" fill="none"/>
<path d="M874 684.5H876 M875 685.5H876 M874 686.5H877 M874 687.5H877 M874.5 685V686 M876.5 682V686" stroke="#ff00ff" stroke-width="0.85" fill="none"/>
<path d="M878 684.5H880 M878 685.5H881 M880 686.5H880 M878 687.5H880 M878.5 683V686" stroke="#ff00ff" stroke-width="0.85" fill="none"/>
<path d="M883 683.5H887 M884 685.5H887 M883.5 685V688 M885.5 682V688 M886.5 683V688" stroke="#ff00ff" stroke-width="0.85" fill="none"/>
<path d="M888 684.5H891 M889 685.5H891 M888 686.5H890 M889 687.5H890 M888.5 685V686 M889.5 685V688 M890.5 682V686" stroke="#ff00ff" stroke-width="0.85" fill="none"/>
<path d="M892 683.5H896 M892 684.5H896 M892 685.5H896 M892 687.5H896 M892.5 682V686 M895.5 683V688" stroke="#ff00ff" stroke-width="0.85" fill="none"/>
<path d="M897 685.5H901 M897 686.5H901 M899.5 682V688" stroke="#ff00ff" stroke-width="0.85" fill="none"/>
<path d="M902 683.5H904 M903 684.5H904 M903 686.5H905 M903 687.5H905 M902.5 683V688 M904.5 685V688" stroke="#ff00ff" stroke-width="0.85" fill="none"/>
<path d="M908 685.5H908 M906 686.5H909 M908.5 683V687" stroke="#ff00ff" stroke-width="0.85" fill="none"/>
<path d="M805 692.5H807 M804 693.5H807 M804 697.5H807 M805.5 692V696 M805.5 694V698 M806.5 692V698" stroke="#ff00ff" stroke-width="0.85" fill="none"/>
<path d="M808 693.5H811 M808 694.5H812 M809.5 692V698 M810.5 694V698" stroke="#ff00ff" stroke-width="0.85" fill="none"/>
<path d="M814 692.5H815 M813 695.5H816 M814 697.5H815 M813.5 692V696 M814.5 694V697 M815.5 694V698" stroke="#ff00ff" stroke-width="0.85" fill="none"/>
<path d="M817 692.5H821 M819 697.5H819 M817.5 694V696" stroke="#ff00ff" stroke-width="0.85" fill="none"/>
<path d="M823 692.5H826 M823 694.5H826 M822 695.5H826 M822 697.5H824 M823.5 694V698 M824.5 694V697" stroke="#ff00ff" stroke-width="0.85" fill="none"/>
<path d="M828 692.5H830 M827 693.5H829 M827 697.5H829 M828.5 694V698" stroke="#ff00ff" stroke-width="0.85" fill="none"/>
<path d="M831 692.5H835 M833 697.5H835 M831.5 692V698" stroke="#ff00ff" stroke-width="0.85" fill="none"/>
<path d="M837 695.5H840 M836 697.5H840 M839.5 693V698" stroke="#ff00ff" stroke-width="0.85" fill="none"/>
<path d="M841 695.5H844 M841 697.5H844 M841.5 692V696 M842.5 693V698 M843.5 693V696" stroke="#ff00ff" stroke-width="0.85" fill="none"/>
<path d="M845 692.5H848 M845 693.5H847 M847 694.5H849 M845 697.5H849 M848.5 692V698" stroke="#ff00ff" stroke-width="0.85" fill="none"/>
<path d="M850 692.5H853 M850 694.5H852 M850 695.5H853 M851 697.5H853 M851.5 694V698" stroke="#ff00ff" stroke-width="0.85" fill="none"/>
<path d="M854 692.5H858 M855 695.5H857 M854.5 694V698 M856.5 694V696" stroke="#ff00ff" stroke-width="0.85" fill="none"/>
<path d="M799.2 701.8h0.8v1.3h-0.8zM800.3 701.8h0.8v1.3h-0.8zM799.2 702.7h0.8v1.3h-0.8zM800.3 702.7h0.8v1.3h-0.8zM799.2 703.7h1.9v1.3h-1.9zM800.3 704.6h0.8v1.3h-0.8zM800.3 705.6h0.8v1.3h-0.8zM802 705.6h0.8v1.3h-0.8z" fill="#ff00ff" shape-rendering="geometricPrecision"/>
<path d="M805 704.5H807 M804 706.5H807 M805.5 701V707" stroke="#ff00ff" stroke-width="0.85" fill="none"/>
<path d="M808 703.5H812 M808 704.5H812 M809 705.5H812 M809 706.5H812 M808.5 701V707 M809.5 701V707 M810.5 701V705" stroke="#ff00ff" stroke-width="0.85" fill="none"/>
<path d="M814 701.5H817 M815 704.5H817 M813 705.5H815 M814 706.5H817 M813.5 703V707" stroke="#ff00ff" stroke-width="0.85" fill="none"/>
<path d="M819 703.5H820 M819 704.5H821 M819 705.5H821 M818 706.5H821 M818.5 702V707 M819.5 703V707" stroke="#ff00ff" stroke-width="0.85" fill="none"/>
<path d="M822 703.5H826 M824 704.5H826 M824 705.5H826 M824.5 703V707 M825.5 701V707" stroke="#ff00ff" stroke-width="0.85" fill="none"/>
<path d="M827 701.5H831 M827 703.5H831 M829 705.5H831 M829 706.5H830 M830.5 703V707" stroke="#ff00ff" stroke-width="0.85" fill="none"/>
<path d="M832 703.5H836 M834 704.5H836 M834 705.5H835 M833 706.5H835 M832.5 702V707 M833.5 701V705 M834.5 701V705" stroke="#ff00ff" stroke-width="0.85" fill="none"/>
<path d="M838 701.5H839 M837 703.5H839 M838 705.5H839 M837.5 701V705" stroke="#ff00ff" stroke-width="0.85" fill="none"/>
<path d="M842 701.5H845 M841 703.5H843 M841 704.5H845 M841 705.5H844 M842.5 703V707" stroke="#ff00ff" stroke-width="0.85" fill="none"/>
<path d="M846 701.5H850 M848 705.5H849 M846 706.5H850 M849.5 701V705" stroke="#ff00ff" stroke-width="0.85" fill="none"/>
<path d="M852 701.5H854 M852 703.5H853 M851 704.5H854 M851 706.5H854 M851.5 701V705 M852.5 701V707" stroke="#ff00ff" stroke-width="0.85" fill="none"/>
<path d="M855 701.5H859 M855 704.5H857 M856 706.5H858 M856.5 702V707" stroke="#ff00ff" stroke-width="0.85" fill="none"/>
<path d="M860 701.5H862 M862 704.5H864 M860.5 701V707 M861.5 701V707 M863.5 701V705" stroke="#ff00ff" stroke-width="0.85" fill="none"/>
<path d="M865 703.5H867 M865 706.5H867 M865.5 702V705 M866.5 703V706 M868.5 701V705" stroke="#ff00ff" stroke-width="0.85" fill="none"/>
<path d="M870 701.5H873 M871 704.5H872 M870 705.5H873 M870 706.5H873 M871.5 702V706" stroke="#ff00ff" stroke-width="0.85" fill="none"/>
<path d="M874 701.5H878 M874 705.5H878 M874 706.5H877 M874.5 701V707" stroke="#ff00ff" stroke-width="0.85" fill="none"/>
<path d="M879 701.5H882 M880 703.5H882 M881 704.5H883 M880 706.5H883 M880.5 701V707 M881.5 703V707" stroke="#ff00ff" stroke-width="0.85" fill="none"/>
<path d="M884 701.5H887 M884 704.5H887 M885.5 701V706 M886.5 701V707" stroke="#ff00ff" stroke-width="0.85" fill="none"/>
<path d="M889 701.5H890 M888 704.5H892 M888 705.5H890 M889 706.5H892 M888.5 701V707 M889.5 701V707" stroke="#ff00ff" stroke-width="0.85" fill="none"/>
<path d="M799.2 710.8h1.9v1.3h-1.9zM799.2 711.7h0.8v1.3h-0.8zM799.2 712.7h1.9v1.3h-1.9zM800.3 713.6h0.8v1.3h-0.8zM799.2 714.6h1.9v1.3h-1.9zM802 714.6h0.8v1.3h-0.8z" fill="#ff00ff" shape-rendering="geometricPrecision"/>
<path d="M805 710.5H806 M804 713.5H807 M804 714.5H806 M804 715.5H807 M805.5 711V716" stroke="#ff00ff" stroke-width="0.85" fill="none"/>
<path d="M808 710.5H811 M809 712.5H810 M808 714.5H812 M808.5 710V716 M810.5 712V714" stroke="#ff00ff" stroke-width="0.85" fill="none"/>
<path d="M814 710.5H817 M813 712.5H815 M814.5 710V716 M815.5 712V716" stroke="#ff00ff" stroke-width="0.85" fill="none"/>
<path d="M820 710.5H822 M819 712.5H821 M819 713.5H820 M818 714.5H822 M818.5 712V716 M820.5 712V716 M821.5 710V716" stroke="#ff00ff" stroke-width="0.85" fill="none"/>
<path d="M823 710.5H825 M823 712.5H825 M823 713.5H826 M823 714.5H825 M823.5 712V714 M824.5 712V716 M824.5 711V714" stroke="#ff00ff" stroke-width="0.85" fill="none"/>
<path d="M829 713.5H829 M827 715.5H830 M827.5 710V716 M829.5 712V715" stroke="#ff00ff" stroke-width="0.85" fill="none"/>
<path d="M832 710.5H836 M834 713.5H836 M834 714.5H836 M832 715.5H836 M833.5 710V714 M834.5 710V715 M835.5 711V715" stroke="#ff00ff" stroke-width="0.85" fill="none"/>
<path d="M837 710.5H839 M837 712.5H841 M838.5 712V716 M839.5 712V714 M840.5 710V716" stroke="#ff00ff" stroke-width="0.85" fill="none"/>
<path d="M842 712.5H845 M842 713.5H844 M842.5 712V716 M843.5 711V715 M844.5 712V715" stroke="#ff00ff" stroke-width="0.85" fill="none"/>
<path d="M846 712.5H848 M846 714.5H850 M848.5 710V716" stroke="#ff00ff" stroke-width="0.85" fill="none"/>
<path d="M853 710.5H855 M851 712.5H855 M853 713.5H854 M851.5 712V716 M852.5 712V716 M854.5 711V716" stroke="#ff00ff" stroke-width="0.85" fill="none"/>
<path d="M858 710.5H858 M856 712.5H860 M856 715.5H860 M857.5 712V714 M858.5 710V714 M859.5 712V716" stroke="#ff00ff" stroke-width="0.85" fill="none"/>
<path d="M862 712.5H864 M861 713.5H864 M861 715.5H864 M861.5 712V716 M862.5 710V716 M862.5 711V714" stroke="#ff00ff" stroke-width="0.85" fill="none"/>
<path d="M865 710.5H869 M865 713.5H867 M865 714.5H869 M866.5 710V715 M867.5 712V715" stroke="#ff00ff" stroke-width="0.85" fill="none"/>
<path d="M870 710.5H874 M870 712.5H874 M872.5 712V716" stroke="#ff00ff" stroke-width="0.85" fill="none"/>
<path d="M875 710.5H878 M875 712.5H879 M875 713.5H878 M875 714.5H879 M875.5 710V716" stroke="#ff00ff" stroke-width="0.85" fill="none"/>
<path d="M881 712.5H883 M880 713.5H882 M881 714.5H882 M881 715.5H883 M881.5 711V716" stroke="#ff00ff" stroke-width="0.85" fill="none"/>
<path d="M884 710.5H886 M884 712.5H888 M886 713.5H886 M885 715.5H888 M886.5 712V716" stroke="#ff00ff" stroke-width="0.85" fill="none"/>
<path d="M889 712.5H891 M891 715.5H892 M889.5 710V715 M892.5 711V714" stroke="#ff00ff" stroke-width="0.85" fill="none"/>
<path d="M896 710.5H898 M894 712.5H898 M894 714.5H898 M895.5 711V716 M896.5 712V715 M897.5 710V715" stroke="#ff00ff" stroke-width="0.85" fill="none"/>
<path d="M899 712.5H901 M900 713.5H902 M899 714.5H902 M900 715.5H902 M900.5 711V716 M901.5 710V716" stroke="#ff00ff" stroke-width="0.85" fill="none"/>
<path d="M799.2 720h1.9v1.3h-1.9zM799.2 720.9h0.8v1.3h-0.8zM799.2 721.9h1.9v1.3h-1.9zM799.2 722.8h0.8v1.3h-0.8zM800.3 722.8h0.8v1.3h-0.8zM799.2 723.8h1.9v1.3h-1.9zM802 723.8h0.8v1.3h-0.8z" fill="#ff00ff" shape-rendering="geometricPrecision"/>
<path d="M804 720.5H807 M804 724.5H807 M804.5 720V723 M805.5 719V724 M806.5 720V725" stroke="#ff00ff" stroke-width="0.85" fill="none"/>
<path d="M808 720.5H811 M808 721.5H810 M808 722.5H811 M810.5 719V725" stroke="#ff00ff" stroke-width="0.85" fill="none"/>
<path d="M815 720.5H817 M813 721.5H817 M814 722.5H817 M813.5 720V725 M815.5 719V725 M816.5 722V725" stroke="#ff00ff" stroke-width="0.85" fill="none"/>
<path d="M819 720.5H821 M818 721.5H821 M819 724.5H821 M819.5 719V723 M819.5 719V723 M820.5 719V725" stroke="#ff00ff" stroke-width="0.85" fill="none"/>
<path d="M822 722.5H826 M822 723.5H825 M822.5 720V723 M823.5 720V724 M824.5 720V724" stroke="#ff00ff" stroke-width="0.85" fill="none"/>
<path d="M827 720.5H829 M827 723.5H831 M827 724.5H831 M827.5 720V725 M828.5 719V724 M830.5 720V724" stroke="#ff00ff" stroke-width="0.85" fill="none"/>
<path d="M832 721.5H836 M834 724.5H835 M834.5 719V723" stroke="#ff00ff" stroke-width="0.85" fill="none"/>
<path d="M837 721.5H839 M838 723.5H839 M837 724.5H840 M837.5 719V723 M838.5 719V724" stroke="#ff00ff" stroke-width="0.85" fill="none"/>
<path d="M841 720.5H845 M842 721.5H845 M842 722.5H844 M841 723.5H845 M843.5 722V725" stroke="#ff00ff" stroke-width="0.85" fill="none"/>
<path d="M848 720.5H850 M846 721.5H850 M846 723.5H850 M846.5 719V723 M848.5 722V724 M849.5 719V724" stroke="#ff00ff" stroke-width="0.85" fill="none"/>
<path d="M852 720.5H853 M851 721.5H854 M851 722.5H854 M851.5 719V723 M852.5 719V725" stroke="#ff00ff" stroke-width="0.85" fill="none"/>
<path d="M855 722.5H859 M855 723.5H859 M855 724.5H859 M857.5 719V725 M858.5 722V725" stroke="#ff00ff" stroke-width="0.85" fill="none"/>
<path d="M862 720.5H864 M861 723.5H864 M861 724.5H864 M862.5 719V723 M863.5 720V724" stroke="#ff00ff" stroke-width="0.85" fill="none"/>
<path d="M865 720.5H869 M865 721.5H867 M865 722.5H869 M865 723.5H869 M865.5 719V724 M866.5 720V725 M867.5 719V724" stroke="#ff00ff" stroke-width="0.85" fill="none"/>
<path d="M870 720.5H872 M871 721.5H872 M871 722.5H873 M870.5 720V725 M871.5 722V725 M871.5 720V724" stroke="#ff00ff" stroke-width="0.85" fill="none"/>
<path d="M876 720.5H878 M876 721.5H876 M876 723.5H878 M875.5 722V725 M877.5 719V725" stroke="#ff00ff" stroke-width="0.85" fill="none"/>
<path d="M879 721.5H882 M881 722.5H883 M879 723.5H881 M879 724.5H883 M880.5 722V723" stroke="#ff00ff" stroke-width="0.85" fill="none"/>
<path d="M884 720.5H887 M885 721.5H886 M885 723.5H887 M884 724.5H886 M884.5 719V725 M885.5 720V725 M886.5 722V725" stroke="#ff00ff" stroke-width="0.85" fill="none"/>
<path d="M888 720.5H890 M888 721.5H892 M889.5 720V725" stroke="#ff00ff" stroke-width="0.85" fill="none"/>
<path d="M893 720.5H896 M895 721.5H897 M893 722.5H897 M894 724.5H897 M895.5 719V725 M896.5 720V725" stroke="#ff00ff" stroke-width="0.85" fill="none"/>
<path d="M898 720.5H900 M898 723.5H900 M899 724.5H900 M898.5 720V725" stroke="#ff00ff" stroke-width="0.85" fill="none"/>
<path d="M799.2 729.5h1.9v1.3h-1.9zM800.3 730.4h0.8v1.3h-0.8zM799.8 731.4h0.8v1.3h-0.8zM799.8 732.3h0.8v1.3h-0.8zM799.8 733.3h0.8v1.3h-0.8zM802 733.3h0.8v1.3h-0.8z" fill="#ff00ff" shape-rendering="geometricPrecision"/>
<path d="M804 731.5H806 M804 734.5H807 M805.5 730V734 M806.5 729V735" stroke="#ff00ff" stroke-width="0.85" fill="none"/>
<path d="M809 729.5H812 M809 731.5H810 M809.5 730V733 M810.5 730V734" stroke="#ff00ff" stroke-width="0.85" fill="none"/>
<path d="M815 729.5H817 M813 731.5H815 M813 734.5H817 M813.5 730V733 M814.5 731V734 M815.5 731V734" stroke="#ff00ff" stroke-width="0.85" fill="none"/>
<path d="M818 730.5H821 M819 733.5H820 M819.5 731V733 M820.5 731V735" stroke="#ff00ff" stroke-width="0.85" fill="none"/>
<path d="M824 729.5H827 M825 730.5H827 M823.5 730V735 M825.5 729V735" stroke="#ff00ff" stroke-width="0.85" fill="none"/>
<path d="M828 729.5H831 M829 734.5H831 M828.5 729V734 M829.5 729V735 M829.5 731V733" stroke="#ff00ff" stroke-width="0.85" fill="none"/>
<path d="M834 729.5H836 M834 730.5H836 M832 733.5H835 M833 734.5H836 M833.5 731V735 M835.5 731V733" stroke="#ff00ff" stroke-width="0.85" fill="none"/>
<path d="M839 729.5H841 M837 730.5H841 M837 731.5H840 M837 734.5H840 M837.5 731V735 M840.5 729V735" stroke="#ff00ff" stroke-width="0.85" fill="none"/>
<path d="M842 729.5H846 M843 730.5H846 M842 733.5H846 M842 734.5H846 M843.5 731V735 M844.5 730V734" stroke="#ff00ff" stroke-width="0.85" fill="none"/>
<path d="M848 729.5H850 M847 730.5H850 M847 731.5H850 M848 734.5H850 M847.5 730V735 M849.5 729V735" stroke="#ff00ff" stroke-width="0.85" fill="none"/>
<path d="M851 729.5H855 M852 730.5H855 M853 731.5H854 M852.5 731V734 M853.5 730V733" stroke="#ff00ff" stroke-width="0.85" fill="none"/>
<path d="M856 730.5H860 M856 731.5H859 M857.5 730V735 M858.5 729V733 M859.5 729V735" stroke="#ff00ff" stroke-width="0.85" fill="none"/>
<path d="M861 731.5H865 M863 733.5H863 M861.5 730V734 M862.5 731V733" stroke="#ff00ff" stroke-width="0.85" fill="none"/>
<path d="M867 733.5H870 M866 734.5H870 M866.5 730V735 M867.5 730V735 M868.5 729V733" stroke="#ff00ff" stroke-width="0.85" fill="none"/>
<path d="M872 730.5H874 M872 733.5H874 M871 734.5H873 M872.5 729V735" stroke="#ff00ff" stroke-width="0.85" fill="none"/>
<path d="M875 730.5H879 M875 734.5H879 M875.5 729V735 M876.5 730V735 M877.5 729V735" stroke="#ff00ff" stroke-width="0.85" fill="none"/>
<path d="M880 730.5H883 M881 731.5H884 M882 733.5H884 M882.5 729V733 M883.5 729V734" stroke="#ff00ff" stroke-width="0.85" fill="none"/>
<path d="M886 729.5H889 M886 731.5H889 M886 733.5H887 M886 734.5H889 M886.5 729V735 M887.5 730V733" stroke="#ff00ff" stroke-width="0.85" fill="none"/>
<path d="M799.2 739.2h1.9v1.3h-1.9zM799.2 740.2h0.8v1.3h-0.8zM800.3 740.2h0.8v1.3h-0.8zM799.2 741.2h1.9v1.3h-1.9zM799.2 742.1h0.8v1.3h-0.8zM800.3 742.1h0.8v1.3h-0.8zM799.2 743.1h1.9v1.3h-1.9zM802 743.1h0.8v1.3h-0.8z" fill="#ff00ff" shape-rendering="geometricPrecision"/>
<path d="M804 739.5H807 M804 740.5H807 M805 741.5H807 M804 743.5H807 M804.5 741V745 M805.5 739V744 M806.5 739V744" stroke="#ff00ff" stroke-width="0.85" fill="none"/>
<path d="M810 739.5H812 M808 741.5H812 M809 742.5H812 M808 743.5H810 M808.5 740V742 M809.5 739V745 M810.5 739V745" stroke="#ff00ff" stroke-width="0.85" fill="none"/>
<path d="M814 740.5H815 M813 741.5H816 M813 742.5H815 M813 743.5H815 M813.5 739V745 M814.5 739V744" stroke="#ff00ff" stroke-width="0.85" fill="none"/>
<path d="M819 739.5H820 M817 743.5H821 M817.5 741V745 M818.5 739V745 M820.5 739V744" stroke="#ff00ff" stroke-width="0.85" fill="none"/>
<path d="M823 740.5H826 M824 741.5H826 M824 742.5H826 M822.5 741V745 M823.5 741V742 M825.5 739V744" stroke="#ff00ff" stroke-width="0.85" fill="none"/>
<path d="M827 740.5H829 M827 742.5H829 M828.5 740V745 M828.5 739V745 M829.5 741V742" stroke="#ff00ff" stroke-width="0.85" fill="none"/>
<path d="M831 740.5H834 M831 741.5H835 M831 742.5H833 M833 743.5H833 M832.5 739V744 M833.5 741V745 M834.5 739V744" stroke="#ff00ff" stroke-width="0.85" fill="none"/>
<path d="M836 739.5H839 M836 742.5H839 M837.5 739V744 M838.5 739V744 M839.5 740V745" stroke="#ff00ff" stroke-width="0.85" fill="none"/>
<path d="M841 739.5H843 M842 740.5H844 M841 741.5H844 M841 743.5H844 M842.5 739V744 M843.5 740V742" stroke="#ff00ff" stroke-width="0.85" fill="none"/>
<path d="M845 740.5H849 M845 742.5H849 M845 743.5H849 M845.5 741V745 M846.5 739V745 M847.5 739V744" stroke="#ff00ff" stroke-width="0.85" fill="none"/>
<path d="M850 739.5H853 M850 740.5H853 M850 741.5H852 M851 742.5H853 M850.5 740V745 M851.5 739V745" stroke="#ff00ff" stroke-width="0.85" fill="none"/>
<path d="M855 739.5H857 M854 741.5H856 M856 742.5H858 M854 743.5H857 M854.5 739V745 M855.5 740V744 M856.5 739V742" stroke="#ff00ff" stroke-width="0.85" fill="none"/>
<path d="M861 742.5H861 M861 743.5H862 M860.5 740V742" stroke="#ff00ff" stroke-width="0.85" fill="none"/>
<path d="M864 742.5H867 M865 743.5H867 M865.5 739V742 M866.5 740V745" stroke="#ff00ff" stroke-width="0.85" fill="none"/>
<path d="M870 739.5H872 M868 741.5H870 M868 742.5H872 M868 743.5H871 M868.5 740V745 M871.5 740V745" stroke="#ff00ff" stroke-width="0.85" fill="none"/>
<path d="M873 740.5H875 M873 742.5H876 M873 743.5H875 M873.5 739V745 M874.5 741V745" stroke="#ff00ff" stroke-width="0.85" fill="none"/>
<path d="M879 739.5H881 M877 740.5H879 M878 741.5H880 M877 743.5H881 M877.5 741V745 M878.5 739V742" stroke="#ff00ff" stroke-width="0.85" fill="none"/>
<path d="M884 740.5H886 M883 741.5H886 M885.5 740V744" stroke="#ff00ff" stroke-width="0.85" fill="none"/>
<path d="M887 740.5H890 M888 743.5H890 M888.5 739V745 M889.5 741V745" stroke="#ff00ff" stroke-width="0.85" fill="none"/>
<path d="M893 740.5H893 M891 743.5H893 M893.5 739V742" stroke="#ff00ff" stroke-width="0.85" fill="none"/>
<path d="M896 739.5H900 M898 740.5H900 M896 741.5H899 M896 743.5H900 M897.5 739V745 M898.5 739V742 M899.5 739V744" stroke="#ff00ff" stroke-width="0.85" fill="none"/>
<path d="M902 739.5H903 M902 740.5H903 M901 741.5H903 M901 742.5H904 M902.5 741V744" stroke="#ff00ff" stroke-width="0.85" fill="none"/>
<path d="M905 739.5H909 M905 741.5H909 M906 742.5H907 M906 743.5H909 M907.5 741V744 M908.5 740V745" stroke="#ff00ff" stroke-width="0.85" fill="none"/>
<path d="M910 739.5H912 M910 741.5H913 M911 742.5H912 M910.5 741V742 M911.5 739V745 M912.5 740V745" stroke="#ff00ff" stroke-width="0.85" fill="none"/>
</svg></body></html>
